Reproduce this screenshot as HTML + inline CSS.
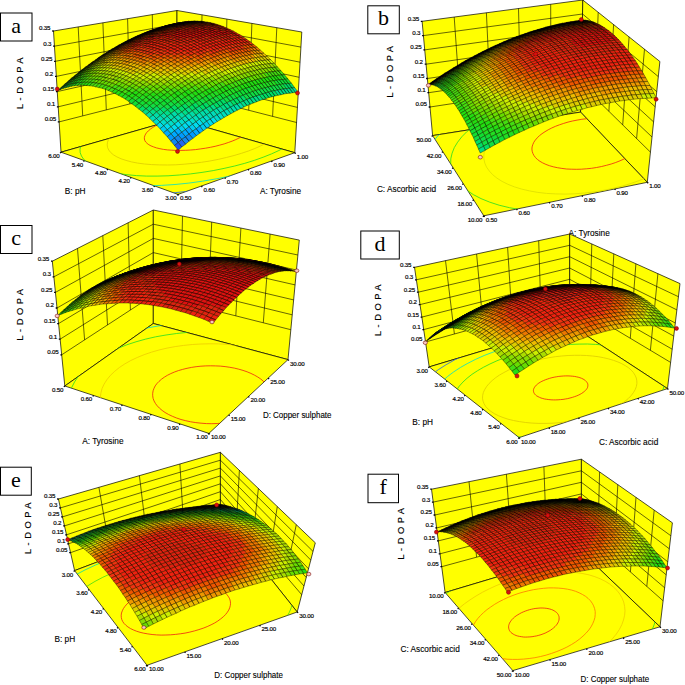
<!DOCTYPE html>
<html><head><meta charset="utf-8"><title>L-DOPA response surface plots</title>
<style>
html,body{margin:0;padding:0;background:#fff}
svg{display:block}
text{font-family:"Liberation Sans",sans-serif;fill:#000}
.k{font-size:6.2px;letter-spacing:-.2px;stroke:#000;stroke-width:.18px}
.e{text-anchor:end}
.t{font-size:8.9px;stroke:#000;stroke-width:.12px}
.z{font-size:9.4px;letter-spacing:3.5px;text-anchor:middle;stroke:#000;stroke-width:.15px}
.L{font-family:"Liberation Serif",serif;font-size:22px;text-anchor:middle}
</style></head><body>
<svg width="685" height="685" viewBox="0 0 685 685">
<rect width="685" height="685" fill="#fff"/>
<!-- panel a -->
<g stroke="#000" stroke-width=".7" fill="#ff0" stroke-linejoin="round">
<polygon points="61,152.2 177,119 177,10.5 53.5,31"/>
<polygon points="177,119 294.8,152.7 301.8,32 177,10.5"/>
<polygon points="61,152.2 178,194.4 294.8,152.7 177,119"/>
</g>
<path d="M59.1 121.9L177 91.9M58.2 106.8L177 78.3M57.2 91.6L177 64.8M56.3 76.4L177 51.2M55.4 61.3L177 37.6M54.4 46.2L177 24.1M82.7 115.9L78.2 26.9M106.3 109.9L102.9 22.8M129.8 103.9L127.6 18.7M153.4 97.9L152.3 14.6M177 91.9L296.6 122.5M177 78.3L297.4 107.4M177 64.8L298.3 92.3M177 51.2L299.2 77.3M177 37.6L300.1 62.2M177 24.1L300.9 47.1M200.9 98L202 14.8M224.8 104.1L226.9 19.1M248.7 110.3L251.9 23.4M272.6 116.4L276.8 27.7" stroke="#000" stroke-width=".6" fill="none"/>
<path d="M59.4 121.9h-1.6M58.5 106.8h-1.6M57.5 91.6h-1.6M56.6 76.4h-1.6M55.7 61.3h-1.6M54.7 46.2h-1.6M53.8 31h-1.6M61 152.2l-.9 .9M84.4 160.6l-.9 .9M107.8 169.1l-.9 .9M131.2 177.5l-.9 .9M154.6 186l-.9 .9M178 194.4l-.9 .9M178 194.4l.9 .9M201.4 186.1l.9 .9M224.7 177.7l.9 .9M248.1 169.4l.9 .9M271.4 161l.9 .9M294.8 152.7l.9 .9" stroke="#000" stroke-width="1.3" fill="none"/>
<clipPath id="cfa"><polygon points="61,152.2 178,194.4 294.8,152.7 177,119"/></clipPath>
<g clip-path="url(#cfa)" fill="none" stroke-width=".8">
<path d="M58.3 195.9L47.5 192.6L38.4 188.8L30.9 184.6L25.1 180L20.9 175.1L18.5 170L17.7 164.6L18.4 159.2L20.5 153.7L24 148.2L28.8 142.7L34.7 137.3L41.6 132L49.5 126.9L58.2 122L67.6 117.3L77.7 112.9L89.7 109.1L102.7 105.8L115.4 102.5L127.8 99.3L139.8 96.2L151.2 93.3L162.1 90.4L172.3 87.8L176.5 87.2L179.8 88L183.7 89L188.2 90.2L193.3 91.5L199 93L205.2 94.6L211.9 96.3L219.2 98.1L226.8 100.1L234.9 102.2L243.3 104.3L252 106.6L261 108.9L270.2 111.2L279.5 113.6L288.8 116L298.1 118.3L307.3 120.7L316.4 123L325.1 125.2L333.6 127.4L341.6 129.4L349 131.3L353.1 134.1L349.3 139.4L344.1 144.7L337.5 150.1L329.6 155.6L320.2 161L309.5 166.4L297.5 171.6L284.2 176.7L269.8 181.5L254.3 185.9L238 190L220.9 193.6L203.3 196.7L185.4 199.2L167.4 201.1L149.5 202.4L132 203L115.2 202.9L99.2 202.1L84.3 200.7L70.6 198.6L58.3 195.9" stroke="#24d"/>
<path d="M74.3 188.5L64.6 185.6L56.2 182.3L49.4 178.6L44 174.6L40 170.3L37.6 165.8L36.5 161L36.9 156.2L38.5 151.3L41.4 146.4L45.4 141.4L50.5 136.6L56.5 131.8L63.4 127.2L71.1 122.8L79.5 118.5L88.4 114.4L97.9 110.6L107.9 107L118.2 103.6L128.8 100.5L139.7 97.7L150.7 95.1L161.9 92.9L173.1 90.9L184.3 89.2L187.3 90L190.9 90.9L195 91.9L199.7 93.1L204.9 94.5L210.6 95.9L216.8 97.5L223.4 99.2L230.4 101L237.7 102.9L245.4 104.9L253.3 106.9L261.5 109L269.8 111.1L278.2 113.2L286.6 115.4L295 117.6L303.3 119.7L311.4 121.7L319.3 123.8L326.9 125.7L334 127.5L340.7 129.2L338.5 133.7L334.8 138.5L329.9 143.3L323.7 148.1L316.4 153L307.8 157.9L298 162.6L287.1 167.3L275.1 171.7L262.2 175.9L248.3 179.8L233.7 183.4L218.5 186.5L202.9 189.2L187 191.4L171.1 193.1L155.3 194.1L139.8 194.7L124.9 194.6L110.8 193.9L97.5 192.6L85.3 190.8L74.3 188.5" stroke="#26e"/>
<path d="M91.3 180.6L82.8 178.2L75.4 175.4L69.3 172.2L64.4 168.8L60.7 165.1L58.3 161.2L57.1 157.1L57.1 152.9L58.3 148.7L60.5 144.4L63.8 140.1L68 135.8L73.1 131.6L79 127.6L85.6 123.6L92.8 119.8L100.6 116.2L109 112.7L117.7 109.5L126.8 106.4L136.3 103.7L145.9 101.1L155.8 98.8L165.7 96.7L175.8 94.9L185.9 93.4L195.8 92.1L199 93L202.8 93.9L207 95L211.6 96.2L216.7 97.5L222.2 98.9L228.1 100.4L234.4 102L240.9 103.7L247.7 105.5L254.8 107.3L262 109.1L269.3 111L276.7 112.9L284.2 114.8L291.6 116.7L298.9 118.5L306 120.4L312.9 122.1L319.5 123.8L325.7 125.4L324.6 129.2L322.2 133.3L318.7 137.5L314.2 141.7L308.6 146L301.9 150.2L294.2 154.4L285.5 158.5L275.8 162.5L265.3 166.3L253.9 169.9L241.8 173.3L229.1 176.3L216 178.9L202.5 181.2L188.8 183.1L175 184.5L161.4 185.4L148.1 185.8L135.3 185.7L123 185.1L111.5 184.1L100.9 182.5L91.3 180.6" stroke="#0dc"/>
<path d="M110 171.9L102.8 169.9L96.6 167.7L91.3 165.1L87 162.3L83.7 159.3L81.5 156.1L80.2 152.7L80 149.3L80.7 145.7L82.3 142.1L84.8 138.5L88.1 134.9L92.2 131.4L96.9 127.9L102.4 124.6L108.4 121.3L114.9 118.2L121.9 115.2L129.3 112.4L137 109.8L145 107.4L153.3 105.1L161.8 103.1L170.4 101.3L179 99.7L187.8 98.4L196.5 97.3L205.2 96.4L211.8 96.3L215.4 97.2L219.5 98.2L223.9 99.3L228.6 100.6L233.6 101.8L239 103.2L244.6 104.7L250.4 106.1L256.4 107.7L262.6 109.3L268.8 110.8L275.1 112.5L281.4 114.1L287.6 115.7L293.8 117.2L299.7 118.8L305.5 120.2L307.8 122.7L307.2 126L305.8 129.4L303.5 132.8L300.3 136.3L296.3 139.9L291.3 143.5L285.5 147L278.9 150.5L271.5 153.9L263.2 157.2L254.3 160.4L244.8 163.3L234.7 166L224.1 168.4L213.2 170.6L202 172.4L190.6 173.9L179.3 175L168.1 175.8L157.1 176.1L146.5 176.1L136.4 175.6L126.9 174.7L118 173.5L110 171.9" stroke="#2d2"/>
<path d="M131.5 161.9L126 160.4L121.1 158.8L116.9 156.9L113.4 154.8L110.7 152.5L108.8 150.1L107.6 147.6L107.2 144.9L107.5 142.2L108.5 139.5L110.2 136.7L112.5 133.9L115.5 131.1L119 128.4L123.1 125.8L127.6 123.2L132.6 120.7L138 118.3L143.7 116.1L149.8 114L156.1 112L162.6 110.2L169.3 108.6L176.2 107.1L183.1 105.8L190.1 104.7L197.1 103.8L204.1 103.1L211 102.5L217.8 102.2L224.5 102L231 102.1L236.5 102.6L240.5 103.6L244.7 104.7L249.1 105.8L253.7 107L258.5 108.2L263.3 109.4L268.2 110.7L273.1 111.9L278 113.2L281.2 114.9L283 117.1L284.2 119.4L284.8 121.8L284.8 124.3L284.1 126.9L282.7 129.5L280.7 132.2L278 135L274.7 137.8L270.7 140.5L266 143.2L260.7 145.9L254.8 148.5L248.4 151L241.5 153.3L234.1 155.5L226.3 157.5L218.2 159.4L209.9 161L201.4 162.3L192.8 163.4L184.2 164.2L175.7 164.8L167.4 165L159.4 164.9L151.7 164.6L144.5 164L137.7 163.1L131.5 161.9" stroke="#dc0"/>
<path d="M159.9 148.7L156.5 147.9L153.6 146.9L151 145.9L148.8 144.7L147.1 143.4L145.7 142L144.8 140.5L144.4 139L144.4 137.4L144.8 135.8L145.6 134.1L146.8 132.4L148.4 130.8L150.4 129.1L152.7 127.5L155.3 125.9L158.2 124.4L161.4 122.9L164.9 121.5L168.5 120.2L172.4 118.9L176.4 117.8L180.6 116.7L184.8 115.8L189.2 114.9L193.6 114.2L198 113.6L202.4 113.1L206.7 112.8L211 112.6L215.3 112.5L219.4 112.5L223.3 112.7L227.1 112.9L230.7 113.4L234.1 113.9L237.3 114.5L240.2 115.3L242.8 116.2L245.1 117.2L247.1 118.3L248.8 119.5L250.1 120.7L251.1 122.1L251.6 123.5L251.8 125L251.6 126.6L251 128.2L250 129.8L248.6 131.4L246.8 133.1L244.6 134.8L242.1 136.4L239.1 138L235.8 139.6L232.2 141.1L228.3 142.5L224.2 143.9L219.8 145.1L215.2 146.3L210.4 147.3L205.5 148.2L200.6 148.9L195.6 149.6L190.6 150L185.7 150.3L180.9 150.4L176.2 150.4L171.7 150.2L167.5 149.9L163.5 149.4L159.9 148.7" stroke="#e21"/>
</g>
<g transform="scale(0.25)" stroke="#000" stroke-width="1.5" stroke-linejoin="round">
<path fill="#d21" d="M696 96l12-3 12-2-12 3zm-12 3l12-3 12-3-12 3zm-12 2l12-3 12-2-12 3zm-12 3l12-3 12-3-12 3z"/>
<path fill="#e21" d="M648 108l12-4 12-3-12 3zm-12 3l12-3 12-4-12 4zm-12 4l12-3 12-4-12 3zm-12 4l12-3 12-4-12 3zm-13 4l12-3 13-4-12 3zm-12 5l12-4 12-4-12 3zm-13 5l12-4 13-5-12 4zm-12 5l12-4 12-5-12 4zm-13 5l12-3 13-6-12 4z"/>
<path fill="#e31" d="M537 149l11-4 13-5-12 3z"/>
<path fill="#000" d="M524 155l12-4 12-6-11 4zm-13 6l12-3 13-7-12 4zm-13 7l12-4 13-6-12 3zm-13 7l12-4 13-7-12 4zm-13 7l12-4 13-7-12 4zm-13 8l12-5 13-7-12 4zm-13 7l12-4 13-8-12 5zm-13 8l11-4 14-8-12 4zm-13 9l11-5 13-8-11 4zm-14 8l12-4 13-9-11 5zm-13 9l12-4 13-9-12 4zm-13 10l11-5 14-9-12 4z"/>
<path fill="#110" d="M366 250l12-4 13-10-11 5zm-13 10l11-4 14-10-12 4zm-14 10l11-4 14-10-11 4z"/>
<path fill="#020" d="M325 281l12-5 13-10-11 4zm-13 11l11-5 14-11-12 5zm-14 11l11-5 14-11-11 5z"/>
<path fill="#030" d="M284 314l12-4 13-12-11 5z"/>
<path fill="#031" d="M271 326l11-5 14-11-12 4z"/>
<path fill="#041" d="M257 338l11-5 14-12-11 5z"/>
<path fill="#042" d="M243 351l11-5 14-13-11 5z"/>
<path fill="#053" d="M229 363l11-4 14-13-11 5z"/>
<path fill="#d21" d="M708 93l12-2 12-2-12 2zm-12 3l12-3 12-2-12 2zm-12 2l12-2 12-3-12 3zm-12 3l12-2 12-3-12 2zm-12 3l12-2 12-3-12 2zm-12 4l12-3 12-3-12 2zm-12 4l12-3 12-4-12 3zm-12 4l12-3 12-4-12 3z"/>
<path fill="#e21" d="M611 120l12-3 13-4-12 3zm-12 4l12-3 12-4-12 3zm-13 5l12-3 13-5-12 3z"/>
<path fill="#000" d="M574 134l12-3 12-5-12 3zm-13 6l12-4 13-5-12 3zm-13 5l12-3 13-6-12 4zm-12 6l11-3 13-6-12 3zm-13 7l12-4 12-6-11 3zm-13 6l12-3 13-7-12 4zm-13 7l12-4 13-6-12 3zm-13 7l12-3 13-8-12 4zm-13 7l12-3 13-7-12 3zm-13 8l11-3 14-8-12 3zm-14 8l12-3 13-8-11 3z"/>
<path fill="#110" d="M431 209l12-3 13-8-12 3zm-13 9l12-4 13-8-12 3zm-13 9l11-4 14-9-12 4z"/>
<path fill="#220" d="M391 236l12-3 13-10-11 4zm-13 10l11-4 14-9-12 3z"/>
<path fill="#230" d="M364 256l12-4 13-10-11 4zm-14 10l12-4 14-10-12 4z"/>
<path fill="#240" d="M337 276l11-4 14-10-12 4z"/>
<path fill="#140" d="M323 287l11-4 14-11-11 4z"/>
<path fill="#150" d="M309 298l12-4 13-11-11 4z"/>
<path fill="#151" d="M296 310l11-4 14-12-12 4zm-14 11l11-4 14-11-11 4z"/>
<path fill="#161" d="M268 333l11-4 14-12-11 4z"/>
<path fill="#062" d="M254 346l11-4 14-13-11 4z"/>
<path fill="#073" d="M240 359l11-5 14-12-11 4z"/>
<path fill="#d11" d="M720 91l12-2 12-2-12 2zm-12 2l12-2 12-2-12 2zm-12 3l12-2 12-3-12 2zm-12 3l12-3 12-2-12 2zm-12 3l12-3 12-3-12 3zm-12 3l12-2 12-4-12 3z"/>
<path fill="#d21" d="M648 109l12-3 12-3-12 2zm-12 4l12-3 12-4-12 3z"/>
<path fill="#000" d="M623 117l12-3 13-4-12 3zm-12 4l12-2 12-5-12 3zm-13 5l12-2 13-5-12 2zm-12 5l12-2 12-5-12 2zm-13 5l12-2 13-5-12 2zm-13 6l12-3 13-5-12 2zm-13 6l12-3 13-6-12 3zm-12 6l12-3 12-6-12 3zm-13 7l12-3 13-7-12 3zm-13 6l12-2 13-7-12 3z"/>
<path fill="#100" d="M496 175l12-3 13-7-12 2zm-13 7l11-3 14-7-12 3z"/>
<path fill="#210" d="M469 190l12-3 13-8-11 3zm-13 8l12-4 13-7-12 3z"/>
<path fill="#320" d="M443 206l12-3 13-9-12 4z"/>
<path fill="#330" d="M430 214l11-3 14-8-12 3z"/>
<path fill="#430" d="M416 223l12-3 13-9-11 3z"/>
<path fill="#440" d="M403 233l11-4 14-9-12 3z"/>
<path fill="#450" d="M389 242l12-3 13-10-11 4zm-13 10l11-3 14-10-12 3z"/>
<path fill="#460" d="M362 262l11-3 14-10-11 3z"/>
<path fill="#360" d="M348 272l12-3 13-10-11 3zm-14 11l12-3 14-11-12 3z"/>
<path fill="#260" d="M321 294l11-3 14-11-12 3z"/>
<path fill="#171" d="M307 306l11-4 14-11-11 3zm-14 11l11-3 14-12-11 4zm-14 12l11-3 14-12-11 3z"/>
<path fill="#083" d="M265 342l11-4 14-12-11 3z"/>
<path fill="#084" d="M251 354l11-3 14-13-11 4z"/>
<path fill="#d11" d="M732 89l12-2 12-2-12 2zm-12 2l13-1 11-3-12 2zm-12 3l13-2 12-2-13 1zm-12 2l13-1 12-3-13 2zm-12 3l12-1 13-3-13 1z"/>
<path fill="#000" d="M672 103l12-2 12-3-12 1zm-12 3l12-1 12-4-12 2zm-12 4l12-2 12-3-12 1zm-13 4l12-1 13-5-12 2zm-12 5l12-2 12-4-12 1zm-13 5l12-2 13-5-12 2zm-12 5l12-3 12-4-12 2zm-13 5l12-2 13-6-12 3zm-13 5l12-2 13-5-12 2z"/>
<path fill="#100" d="M559 145l12-2 13-6-12 2zm-12 6l12-2 12-6-12 2zm-13 7l12-3 13-6-12 2z"/>
<path fill="#200" d="M521 165l12-3 13-7-12 3zm-13 7l11-3 14-7-12 3z"/>
<path fill="#310" d="M494 179l12-3 13-7-11 3z"/>
<path fill="#410" d="M481 187l12-3 13-8-12 3z"/>
<path fill="#520" d="M468 194l12-2 13-8-12 3zm-13 9l12-3 13-8-12 2z"/>
<path fill="#640" d="M441 211l12-2 14-9-12 3z"/>
<path fill="#650" d="M428 220l12-3 13-8-12 2z"/>
<path fill="#750" d="M414 229l12-2 14-10-12 3z"/>
<path fill="#760" d="M401 239l12-3 13-9-12 2z"/>
<path fill="#670" d="M387 249l12-3 14-10-12 3z"/>
<path fill="#570" d="M373 259l12-3 14-10-12 3z"/>
<path fill="#680" d="M360 269l11-3 14-10-12 3z"/>
<path fill="#580" d="M346 280l12-3 13-11-11 3z"/>
<path fill="#480" d="M332 291l12-3 14-11-12 3z"/>
<path fill="#281" d="M318 302l12-3 14-11-12 3zm-14 12l12-3 14-12-12 3z"/>
<path fill="#191" d="M290 326l12-3 14-12-12 3z"/>
<path fill="#192" d="M276 338l12-3 14-12-12 3z"/>
<path fill="#093" d="M262 351l12-3 14-13-12 3z"/>
<path fill="#d11" d="M744 87l13 0 12-2-13 0zm-11 3l12-1 12-2-13 0zm-12 2l12-1 12-2-12 1z"/>
<path fill="#000" d="M709 95l12-1 12-3-12 1zm-13 3l13-1 12-3-12 1zm-12 3l13-1 12-3-13 1zm-12 4l12-2 13-3-13 1zm-12 3l12-1 12-4-12 2zm-13 5l13-2 12-4-12 1zm-12 4l12-2 13-4-13 2zm-13 5l13-2 12-5-12 2z"/>
<path fill="#100" d="M610 126l12-1 13-5-13 2zm-13 6l12-2 13-5-12 1z"/>
<path fill="#200" d="M584 137l12-1 13-6-12 2zm-13 6l13-2 12-5-12 1z"/>
<path fill="#300" d="M559 149l12-2 13-6-13 2zm-13 6l12-1 13-7-12 2z"/>
<path fill="#410" d="M533 162l12-2 13-6-12 1z"/>
<path fill="#510" d="M519 169l13-2 13-7-12 2zm-13 7l12-1 14-8-13 2z"/>
<path fill="#620" d="M493 184l12-2 13-7-12 1z"/>
<path fill="#720" d="M480 192l12-2 13-8-12 2z"/>
<path fill="#730" d="M467 200l12-2 13-8-12 2z"/>
<path fill="#840" d="M453 209l12-2 14-9-12 2z"/>
<path fill="#850" d="M440 217l12-2 13-8-12 2z"/>
<path fill="#870" d="M426 227l12-3 14-9-12 2z"/>
<path fill="#880" d="M413 236l11-2 14-10-12 3zm-14 10l12-2 13-10-11 2z"/>
<path fill="#890" d="M385 256l12-2 14-10-12 2z"/>
<path fill="#790" d="M371 266l12-2 14-10-12 2z"/>
<path fill="#590" d="M358 277l11-2 14-11-12 2z"/>
<path fill="#490" d="M344 288l12-2 13-11-11 2z"/>
<path fill="#4a0" d="M330 299l12-2 14-11-12 2z"/>
<path fill="#3a1" d="M316 311l12-2 14-12-12 2z"/>
<path fill="#2a1" d="M302 323l12-3 14-11-12 2z"/>
<path fill="#1a1" d="M288 335l11-2 15-13-12 3z"/>
<path fill="#1a2" d="M274 348l11-3 14-12-11 2z"/>
<path fill="#000" d="M757 87l12-1 12-2-12 1zm-12 2l12-1 12-2-12 1zm-12 2l12 0 12-3-12 1zm-12 3l12-1 12-2-12 0zm-12 3l12-1 12-3-12 1zm-12 3l12-1 12-3-12 1zm-13 3l13 0 12-4-12 1zm-12 4l12-1 13-3-13 0z"/>
<path fill="#100" d="M660 111l12-1 12-4-12 1zm-13 4l12 0 13-5-12 1z"/>
<path fill="#200" d="M635 120l12-1 12-4-12 0zm-13 5l12-1 13-5-12 1z"/>
<path fill="#300" d="M609 130l12-1 13-5-12 1z"/>
<path fill="#400" d="M596 136l13-1 12-6-12 1zm-12 5l12-1 13-5-13 1z"/>
<path fill="#510" d="M571 147l12-1 13-6-12 1z"/>
<path fill="#610" d="M558 154l12-1 13-7-12 1zm-13 6l12-1 13-6-12 1z"/>
<path fill="#710" d="M532 167l12-1 13-7-12 1zm-14 8l13-2 13-7-12 1z"/>
<path fill="#820" d="M505 182l12-1 14-8-13 2z"/>
<path fill="#830" d="M492 190l12-1 13-8-12 1z"/>
<path fill="#930" d="M479 198l12-1 13-8-12 1z"/>
<path fill="#940" d="M465 207l12-2 14-8-12 1z"/>
<path fill="#a60" d="M452 215l12-1 13-9-12 2zm-14 9l12-1 14-9-12 1z"/>
<path fill="#a80" d="M424 234l12-2 14-9-12 1z"/>
<path fill="#a90" d="M411 244l12-2 13-10-12 2zm-14 10l12-2 14-10-12 2z"/>
<path fill="#9a0" d="M383 264l12-2 14-10-12 2z"/>
<path fill="#8b0" d="M369 275l12-2 14-11-12 2z"/>
<path fill="#6b0" d="M356 286l11-2 14-11-12 2z"/>
<path fill="#5b0" d="M342 297l11-2 14-11-11 2z"/>
<path fill="#3b1" d="M328 309l11-2 14-12-11 2z"/>
<path fill="#2b1" d="M314 320l11-1 14-12-11 2z"/>
<path fill="#1b2" d="M299 333l12-2 14-12-11 1zm-14 12l12-2 14-12-12 2z"/>
<path fill="#000" d="M769 86l13 0 11-1-12-1zm-12 2l13 0 12-2-13 0zm-12 3l13 0 12-3-13 0zm-12 2l13 0 12-2-13 0zm-12 3l13 0 12-3-13 0z"/>
<path fill="#100" d="M709 99l12 0 13-3-13 0zm-12 4l12 0 12-4-12 0z"/>
<path fill="#200" d="M684 106l13 0 12-3-12 0zm-12 4l12 0 13-4-13 0z"/>
<path fill="#300" d="M659 115l13-1 12-4-12 0z"/>
<path fill="#400" d="M647 119l12 0 13-5-13 1zm-13 5l13 0 12-5-12 0z"/>
<path fill="#510" d="M621 129l13 0 13-5-13 0z"/>
<path fill="#610" d="M609 135l12-1 13-5-13 0zm-13 5l12 0 13-6-12 1z"/>
<path fill="#710" d="M583 146l12 0 13-6-12 0z"/>
<path fill="#810" d="M570 153l12-1 13-6-12 0zm-13 6l12-1 13-6-12 1z"/>
<path fill="#811" d="M544 166l12-1 13-7-12 1z"/>
<path fill="#911" d="M531 173l12-1 13-7-12 1z"/>
<path fill="#920" d="M517 181l13-1 13-8-12 1z"/>
<path fill="#a20" d="M504 189l12-1 14-8-13 1z"/>
<path fill="#a30" d="M491 197l12-1 13-8-12 1z"/>
<path fill="#b30" d="M477 205l12-1 14-8-12 1z"/>
<path fill="#b50" d="M464 214l12-1 13-9-12 1z"/>
<path fill="#b70" d="M450 223l12-1 14-9-12 1z"/>
<path fill="#b90" d="M436 232l13-1 13-9-12 1z"/>
<path fill="#c90" d="M423 242l12-1 14-10-13 1z"/>
<path fill="#ba0" d="M409 252l12-1 14-10-12 1z"/>
<path fill="#ab0" d="M395 262l12-1 14-10-12 1z"/>
<path fill="#8c0" d="M381 273l12-1 14-11-12 1z"/>
<path fill="#9c0" d="M367 284l12-1 14-11-12 1z"/>
<path fill="#7c0" d="M353 295l12-1 14-11-12 1z"/>
<path fill="#5c0" d="M339 307l12-2 14-11-12 1z"/>
<path fill="#3c1" d="M325 319l12-2 14-12-12 2z"/>
<path fill="#2c1" d="M311 331l12-1 14-13-12 2z"/>
<path fill="#2c2" d="M297 343l12-1 14-12-12 1z"/>
<path fill="#000" d="M782 86l12 1 12-2-13 0zm-12 2l12 1 12-2-12-1zm-12 3l12 0 12-2-12-1z"/>
<path fill="#100" d="M746 93l12 1 12-3-12 0z"/>
<path fill="#200" d="M734 96l12 1 12-3-12-1zm-13 3l13 1 12-3-12-1z"/>
<path fill="#300" d="M709 103l13 0 12-3-13-1z"/>
<path fill="#400" d="M697 106l12 1 13-4-13 0zm-13 4l13 0 12-3-12-1z"/>
<path fill="#510" d="M672 114l12 1 13-5-13 0z"/>
<path fill="#610" d="M659 119l13 0 12-4-12-1zm-12 5l12 0 13-5-13 0z"/>
<path fill="#710" d="M634 129l12 0 13-5-12 0z"/>
<path fill="#810" d="M621 134l13 0 12-5-12 0zm-13 6l13 0 13-6-13 0z"/>
<path fill="#910" d="M595 146l13 0 13-6-13 0zm-13 6l13 0 13-6-13 0z"/>
<path fill="#911" d="M569 158l13 0 13-6-13 0z"/>
<path fill="#a11" d="M556 165l12 0 14-7-13 0zm-13 7l12 0 13-7-12 0z"/>
<path fill="#b11" d="M530 180l12 0 13-8-12 0z"/>
<path fill="#b20" d="M516 188l13-1 13-7-12 0z"/>
<path fill="#b40" d="M503 196l12-1 14-8-13 1z"/>
<path fill="#c40" d="M489 204l13 0 13-9-12 1z"/>
<path fill="#c60" d="M476 213l12-1 14-8-13 0zm-14 9l12-1 14-9-12 1z"/>
<path fill="#d80" d="M449 231l12 0 13-10-12 1z"/>
<path fill="#da0" d="M435 241l12-1 14-9-12 0z"/>
<path fill="#cb0" d="M421 251l12-1 14-10-12 1zm-14 10l12 0 14-11-12 1z"/>
<path fill="#bd0" d="M393 272l12-1 14-10-12 0z"/>
<path fill="#9d0" d="M379 283l12-1 14-11-12 1z"/>
<path fill="#7d0" d="M365 294l12-1 14-11-12 1z"/>
<path fill="#5c0" d="M351 305l12 0 14-12-12 1z"/>
<path fill="#4c1" d="M337 317l12 0 14-12-12 0z"/>
<path fill="#2c1" d="M323 330l12-1 14-12-12 0z"/>
<path fill="#2c2" d="M309 342l12-1 14-12-12 1z"/>
<path fill="#000" d="M794 87l13 1 11-1-12-2z"/>
<path fill="#100" d="M782 89l13 1 12-2-13-1z"/>
<path fill="#200" d="M770 91l13 2 12-3-13-1zm-12 3l13 1 12-2-13-2z"/>
<path fill="#300" d="M746 97l13 1 12-3-13-1z"/>
<path fill="#400" d="M734 100l12 1 13-3-13-1z"/>
<path fill="#500" d="M722 103l12 1 12-3-12-1z"/>
<path fill="#610" d="M709 107l13 1 12-4-12-1zm-12 3l12 1 13-3-13-1z"/>
<path fill="#710" d="M684 115l13 0 12-4-12-1z"/>
<path fill="#810" d="M672 119l12 1 13-5-13 0zm-13 5l13 1 12-5-12-1z"/>
<path fill="#910" d="M646 129l13 1 13-5-13-1zm-12 5l12 1 13-5-13-1z"/>
<path fill="#a11" d="M621 140l12 0 13-5-12-1zm-13 6l12 0 13-6-12 0zm-13 6l12 0 13-6-12 0z"/>
<path fill="#b11" d="M582 158l12 1 13-7-12 0zm-14 7l13 1 13-7-12-1z"/>
<path fill="#b21" d="M555 172l13 1 13-7-13-1z"/>
<path fill="#c21" d="M542 180l12 0 14-7-13-1zm-13 7l12 1 13-8-12 0zm-14 8l13 1 13-8-12-1z"/>
<path fill="#d40" d="M502 204l12 0 14-8-13-1zm-14 8l12 1 14-9-12 0z"/>
<path fill="#d60" d="M474 221l13 1 13-9-12-1z"/>
<path fill="#e80" d="M461 231l12 0 14-9-13-1z"/>
<path fill="#eb0" d="M447 240l12 0 14-9-12 0zm-14 10l13 0 13-10-12 0z"/>
<path fill="#dc0" d="M419 261l13 0 14-11-13 0z"/>
<path fill="#cd0" d="M405 271l13 0 14-10-13 0z"/>
<path fill="#ad0" d="M391 282l13 0 14-11-13 0z"/>
<path fill="#8d0" d="M377 293l13 0 14-11-13 0zm-14 12l12 0 15-12-13 0z"/>
<path fill="#6d0" d="M349 317l12 0 14-12-12 0z"/>
<path fill="#4d1" d="M335 329l12 0 14-12-12 0z"/>
<path fill="#2d1" d="M321 341l12 0 14-12-12 0z"/>
<path fill="#200" d="M807 88l12 2 12-1-13-2zm-12 2l12 2 12-2-12-2z"/>
<path fill="#300" d="M783 93l12 1 12-2-12-2z"/>
<path fill="#400" d="M771 95l12 2 12-3-12-1z"/>
<path fill="#500" d="M759 98l12 1 12-2-12-2z"/>
<path fill="#610" d="M746 101l13 1 12-3-12-1z"/>
<path fill="#710" d="M734 104l13 2 12-4-13-1z"/>
<path fill="#810" d="M722 108l12 1 13-3-13-2zm-13 3l13 2 12-4-12-1z"/>
<path fill="#910" d="M697 115l12 2 13-4-13-2zm-13 5l13 1 12-4-12-2z"/>
<path fill="#a10" d="M672 125l12 1 13-5-13-1z"/>
<path fill="#a11" d="M659 130l13 1 12-5-12-1zm-13 5l13 1 13-5-13-1z"/>
<path fill="#b11" d="M633 140l13 2 13-6-13-1zm-13 6l13 1 13-5-13-2z"/>
<path fill="#c11" d="M607 152l13 2 13-7-13-1zm-13 7l13 1 13-6-13-2zm-13 7l13 1 13-7-13-1z"/>
<path fill="#c21" d="M568 173l12 1 14-7-13-1z"/>
<path fill="#d21" d="M554 180l13 1 13-7-12-1zm-13 8l13 1 13-8-13-1z"/>
<path fill="#d31" d="M528 196l12 1 14-8-13-1z"/>
<path fill="#e40" d="M514 204l13 1 13-8-12-1zm-14 9l13 1 14-9-13-1z"/>
<path fill="#e70" d="M487 222l12 0 14-8-13-1z"/>
<path fill="#e90" d="M473 231l13 1 13-10-12 0zm-14 9l13 1 14-9-13-1z"/>
<path fill="#eb0" d="M446 250l12 1 14-10-13-1z"/>
<path fill="#dc0" d="M432 261l12 0 14-10-12-1z"/>
<path fill="#ce0" d="M418 271l12 1 14-11-12 0zm-14 11l12 1 14-11-12-1z"/>
<path fill="#ad0" d="M390 293l12 1 14-11-12-1z"/>
<path fill="#8d0" d="M375 305l13 0 14-11-12-1z"/>
<path fill="#6d0" d="M361 317l13 0 14-12-13 0z"/>
<path fill="#4d1" d="M347 329l12 0 15-12-13 0z"/>
<path fill="#2d1" d="M333 341l12 1 14-13-12 0z"/>
<path fill="#300" d="M819 90l13 3 12-2-13-2z"/>
<path fill="#400" d="M807 92l13 3 12-2-13-3z"/>
<path fill="#500" d="M795 94l13 3 12-2-13-3z"/>
<path fill="#610" d="M783 97l13 2 12-2-13-3z"/>
<path fill="#710" d="M771 99l13 3 12-3-13-2z"/>
<path fill="#810" d="M759 102l13 3 12-3-13-3zm-12 4l13 2 12-3-13-3z"/>
<path fill="#910" d="M734 109l13 2 13-3-13-2z"/>
<path fill="#a10" d="M722 113l13 2 12-4-13-2z"/>
<path fill="#a11" d="M709 117l13 2 13-4-13-2zm-12 4l13 2 12-4-13-2z"/>
<path fill="#b11" d="M684 126l13 2 13-5-13-2zm-12 5l12 2 13-5-13-2z"/>
<path fill="#c11" d="M659 136l12 2 13-5-12-2zm-13 6l13 1 12-5-12-2zm-13 5l13 2 13-6-13-1zm-13 7l12 1 14-6-13-2z"/>
<path fill="#d11" d="M607 160l12 2 13-7-12-1z"/>
<path fill="#d21" d="M594 167l12 1 13-6-12-2zm-14 7l13 1 13-7-12-1zm-13 7l13 2 13-8-13-1z"/>
<path fill="#e21" d="M554 189l12 1 14-7-13-2z"/>
<path fill="#e31" d="M540 197l13 1 13-8-12-1zm-13 8l12 1 14-8-13-1z"/>
<path fill="#e50" d="M513 214l13 1 13-9-12-1z"/>
<path fill="#e70" d="M499 222l13 2 14-9-13-1zm-13 10l12 1 14-9-13-2z"/>
<path fill="#e90" d="M472 241l12 2 14-10-12-1z"/>
<path fill="#eb0" d="M458 251l12 1 14-9-12-2zm-14 10l12 1 14-10-12-1z"/>
<path fill="#dc0" d="M430 272l12 1 14-11-12-1z"/>
<path fill="#ce0" d="M416 283l12 1 14-11-12-1z"/>
<path fill="#ad0" d="M402 294l12 1 14-11-12-1z"/>
<path fill="#8d0" d="M388 305l12 1 14-11-12-1z"/>
<path fill="#6d0" d="M374 317l12 1 14-12-12-1z"/>
<path fill="#4d1" d="M359 329l13 1 14-12-12-1z"/>
<path fill="#2d1" d="M345 342l12 1 15-13-13-1z"/>
<path fill="#500" d="M832 93l13 3 12-2-13-3z"/>
<path fill="#610" d="M820 95l13 3 12-2-13-3z"/>
<path fill="#710" d="M808 97l13 3 12-2-13-3z"/>
<path fill="#810" d="M796 99l13 3 12-2-13-3zm-12 3l13 3 12-3-13-3z"/>
<path fill="#910" d="M772 105l13 2 12-2-13-3z"/>
<path fill="#a10" d="M760 108l12 3 13-4-13-2z"/>
<path fill="#a11" d="M747 111l13 3 12-3-12-3z"/>
<path fill="#b11" d="M735 115l13 3 12-4-13-3zm-13 4l13 3 13-4-13-3z"/>
<path fill="#c11" d="M710 123l12 3 13-4-13-3zm-13 5l13 2 12-4-12-3zm-13 5l13 2 13-5-13-2z"/>
<path fill="#d11" d="M671 138l13 2 13-5-13-2zm-12 5l12 3 13-6-13-2zm-13 6l12 3 13-6-12-3z"/>
<path fill="#d21" d="M632 155l13 3 13-6-12-3zm-13 7l13 2 13-6-13-3z"/>
<path fill="#e21" d="M606 168l13 3 13-7-13-2zm-13 7l13 3 13-7-13-3zm-13 8l12 2 14-7-13-3zm-14 7l13 2 13-7-12-2z"/>
<path fill="#e31" d="M553 198l12 2 14-8-13-2zm-14 8l13 2 13-8-12-2z"/>
<path fill="#e50" d="M526 215l12 2 14-9-13-2z"/>
<path fill="#e70" d="M512 224l13 2 13-9-12-2zm-14 9l13 2 14-9-13-2z"/>
<path fill="#e90" d="M484 243l13 1 14-9-13-2z"/>
<path fill="#eb0" d="M470 252l13 2 14-10-13-1zm-14 10l13 2 14-10-13-2z"/>
<path fill="#dc0" d="M442 273l13 2 14-11-13-2z"/>
<path fill="#ce0" d="M428 284l13 2 14-11-13-2z"/>
<path fill="#ad0" d="M414 295l13 2 14-11-13-2z"/>
<path fill="#8d0" d="M400 306l13 2 14-11-13-2z"/>
<path fill="#6d0" d="M386 318l12 2 15-12-13-2zm-14 12l12 2 14-12-12-2z"/>
<path fill="#4d1" d="M357 343l13 1 14-12-12-2z"/>
<path fill="#710" d="M845 96l13 4 12-2-13-4zm-12 2l13 3 12-1-13-4z"/>
<path fill="#810" d="M821 100l13 3 12-2-13-3z"/>
<path fill="#910" d="M809 102l13 3 12-2-13-3zm-12 3l13 3 12-3-13-3z"/>
<path fill="#a11" d="M785 107l13 4 12-3-13-3z"/>
<path fill="#b11" d="M772 111l13 3 13-3-13-4zm-12 3l13 3 12-3-13-3z"/>
<path fill="#c11" d="M748 118l13 3 12-4-13-3zm-13 4l13 3 13-4-13-3z"/>
<path fill="#d11" d="M722 126l13 3 13-4-13-3zm-12 4l13 4 12-5-13-3zm-13 5l13 3 13-4-13-4zm-13 5l13 3 13-5-13-3zm-13 6l13 3 13-6-13-3zm-13 6l13 3 13-6-13-3z"/>
<path fill="#d21" d="M645 158l13 2 13-5-13-3zm-13 6l13 3 13-7-13-2z"/>
<path fill="#e21" d="M619 171l13 2 13-6-13-3zm-13 7l13 2 13-7-13-2zm-14 7l13 3 14-8-13-2zm-13 7l13 3 13-7-13-3z"/>
<path fill="#e31" d="M565 200l13 3 14-8-13-3zm-13 8l13 3 13-8-13-3z"/>
<path fill="#e50" d="M538 217l13 3 14-9-13-3zm-13 9l12 2 14-8-13-3z"/>
<path fill="#e70" d="M511 235l13 3 13-10-12-2z"/>
<path fill="#e90" d="M497 244l13 3 14-9-13-3zm-14 10l13 3 14-10-13-3z"/>
<path fill="#eb0" d="M469 264l13 3 14-10-13-3z"/>
<path fill="#dc0" d="M455 275l13 2 14-10-13-3z"/>
<path fill="#ce0" d="M441 286l13 2 14-11-13-2z"/>
<path fill="#ad0" d="M427 297l12 2 15-11-13-2z"/>
<path fill="#8d0" d="M413 308l12 3 14-12-12-2zm-15 12l13 2 14-11-12-3z"/>
<path fill="#6d0" d="M384 332l13 2 14-12-13-2z"/>
<path fill="#4d1" d="M370 344l12 3 15-13-13-2z"/>
<path fill="#810" d="M858 100l13 4 11-2-12-4z"/>
<path fill="#910" d="M846 101l13 4 12-1-13-4zm-12 2l13 4 12-2-13-4z"/>
<path fill="#a11" d="M822 105l13 5 12-3-13-4z"/>
<path fill="#b11" d="M810 108l13 4 12-2-13-5zm-12 3l13 4 12-3-13-4z"/>
<path fill="#c11" d="M785 114l13 4 13-3-13-4zm-12 3l13 4 12-3-13-4zm-12 4l12 4 13-4-13-4z"/>
<path fill="#d11" d="M748 125l13 4 12-4-12-4zm-13 4l13 4 13-4-13-4zm-12 5l13 3 12-4-13-4zm-13 4l13 4 13-5-13-3zm-13 5l13 4 13-5-13-4zm-13 6l13 3 13-5-13-4z"/>
<path fill="#d21" d="M671 155l13 3 13-6-13-3zm-13 5l13 4 13-6-13-3zm-13 7l13 3 13-6-13-4z"/>
<path fill="#e21" d="M632 173l13 4 13-7-13-3zm-13 7l13 4 13-7-13-4zm-14 8l13 3 14-7-13-4zm-13 7l13 3 13-7-13-3z"/>
<path fill="#e31" d="M578 203l13 3 14-8-13-3zm-13 8l13 3 13-8-13-3z"/>
<path fill="#e50" d="M551 220l13 3 14-9-13-3zm-14 8l13 4 14-9-13-3z"/>
<path fill="#e70" d="M524 238l12 3 14-9-13-4z"/>
<path fill="#e90" d="M510 247l13 3 13-9-12-3zm-14 10l13 3 14-10-13-3z"/>
<path fill="#eb0" d="M482 267l13 3 14-10-13-3z"/>
<path fill="#dc0" d="M468 277l13 3 14-10-13-3z"/>
<path fill="#ce0" d="M454 288l12 3 15-11-13-3z"/>
<path fill="#ad0" d="M439 299l13 3 14-11-12-3zm-14 12l13 3 14-12-13-3z"/>
<path fill="#8d0" d="M411 322l13 3 14-11-13-3z"/>
<path fill="#6d0" d="M397 334l12 3 15-12-13-3z"/>
<path fill="#4d1" d="M382 347l13 3 14-13-12-3z"/>
<path fill="#910" d="M871 104l13 5 11-2-13-5z"/>
<path fill="#a10" d="M859 105l13 5 12-1-13-5z"/>
<path fill="#a11" d="M847 107l13 5 12-2-13-5z"/>
<path fill="#b11" d="M835 110l13 4 12-2-13-5zm-12 2l13 5 12-3-13-4z"/>
<path fill="#c11" d="M811 115l13 4 12-2-13-5zm-13 3l13 4 13-3-13-4z"/>
<path fill="#d11" d="M786 121l13 5 12-4-13-4zm-13 4l14 4 12-3-13-5zm-12 4l13 4 13-4-14-4zm-13 4l13 4 13-4-13-4zm-12 4l13 5 12-5-13-4zm-13 5l13 4 13-4-13-5zm-13 5l13 4 13-5-13-4zm-13 5l13 5 13-6-13-4z"/>
<path fill="#d21" d="M684 158l13 4 13-5-13-5zm-13 6l13 4 13-6-13-4zm-13 6l13 4 13-6-13-4z"/>
<path fill="#e21" d="M645 177l13 4 13-7-13-4zm-13 7l13 4 13-7-13-4zm-14 7l13 4 14-7-13-4zm-13 7l13 4 13-7-13-4z"/>
<path fill="#e31" d="M591 206l13 4 14-8-13-4zm-13 8l13 4 13-8-13-4z"/>
<path fill="#e50" d="M564 223l13 4 14-9-13-4zm-14 9l13 3 14-8-13-4z"/>
<path fill="#e70" d="M536 241l13 4 14-10-13-3z"/>
<path fill="#e90" d="M523 250l13 4 13-9-13-4z"/>
<path fill="#eb0" d="M509 260l13 4 14-10-13-4zm-14 10l13 4 14-10-13-4z"/>
<path fill="#dc0" d="M481 280l12 4 15-10-13-4z"/>
<path fill="#ce0" d="M466 291l13 4 14-11-12-4z"/>
<path fill="#ad0" d="M452 302l13 4 14-11-13-4zm-14 12l13 3 14-11-13-4z"/>
<path fill="#8d0" d="M424 325l12 4 15-12-13-3z"/>
<path fill="#6d0" d="M409 337l13 4 14-12-12-4z"/>
<path fill="#4d1" d="M395 350l13 3 14-12-13-4z"/>
<path fill="#a11" d="M884 109l13 5 12-1-14-6z"/>
<path fill="#b11" d="M872 110l13 6 12-2-13-5zm-12 2l13 5 12-1-13-6z"/>
<path fill="#c11" d="M848 114l13 5 12-2-13-5zm-12 3l13 5 12-3-13-5zm-12 2l13 6 12-3-13-5z"/>
<path fill="#d11" d="M811 122l13 5 13-2-13-6zm-12 4l13 5 12-4-13-5zm-12 3l13 5 12-3-13-5zm-13 4l13 5 13-4-13-5zm-13 4l14 5 12-4-13-5zm-12 5l13 5 13-5-14-5zm-13 4l13 5 13-4-13-5zm-13 5l13 5 13-5-13-5z"/>
<path fill="#d21" d="M710 157l13 4 13-5-13-5zm-13 5l13 5 13-6-13-4zm-13 6l13 5 13-6-13-5z"/>
<path fill="#e21" d="M671 174l13 5 13-6-13-5zm-13 7l13 5 13-7-13-5zm-13 7l13 4 13-6-13-5zm-14 7l13 5 14-8-13-4zm-13 7l13 5 13-7-13-5z"/>
<path fill="#e31" d="M604 210l13 5 14-8-13-5zm-13 8l13 5 13-8-13-5z"/>
<path fill="#e50" d="M577 227l13 4 14-8-13-5z"/>
<path fill="#e70" d="M563 235l13 5 14-9-13-4zm-14 10l13 4 14-9-13-5z"/>
<path fill="#e90" d="M536 254l13 4 13-9-13-4z"/>
<path fill="#eb0" d="M522 264l13 4 14-10-13-4zm-14 10l13 4 14-10-13-4z"/>
<path fill="#dc0" d="M493 284l13 4 15-10-13-4z"/>
<path fill="#ce0" d="M479 295l13 4 14-11-13-4z"/>
<path fill="#ad0" d="M465 306l13 4 14-11-13-4z"/>
<path fill="#8d0" d="M451 317l13 4 14-11-13-4zm-15 12l13 4 15-12-13-4z"/>
<path fill="#6d0" d="M422 341l13 4 14-12-13-4z"/>
<path fill="#4d1" d="M408 353l12 4 15-12-13-4z"/>
<path fill="#b11" d="M897 114l13 6 12-1-13-6zm-12 2l13 5 12-1-13-6z"/>
<path fill="#c11" d="M873 117l13 6 12-2-13-5zm-12 2l13 6 12-2-13-6z"/>
<path fill="#d11" d="M849 122l13 6 12-3-13-6zm-12 3l13 5 12-2-13-6zm-13 2l14 6 12-3-13-5zm-12 4l13 5 13-3-14-6zm-12 3l13 6 12-4-13-5zm-13 4l13 6 13-4-13-6zm-12 4l13 6 12-4-13-6zm-13 5l13 5 13-4-13-6zm-13 4l13 6 13-5-13-5z"/>
<path fill="#d21" d="M736 156l14 6 12-5-13-6zm-13 5l14 6 13-5-14-6zm-13 6l14 5 13-5-14-6zm-13 6l14 5 13-6-14-5z"/>
<path fill="#e21" d="M684 179l13 5 14-6-14-5zm-13 7l13 5 13-7-13-5zm-13 6l13 6 13-7-13-5zm-14 8l14 5 13-7-13-6z"/>
<path fill="#e31" d="M631 207l13 5 14-7-14-5zm-14 8l14 5 13-8-13-5z"/>
<path fill="#e50" d="M604 223l13 5 14-8-14-5zm-14 8l13 5 14-8-13-5z"/>
<path fill="#e70" d="M576 240l13 5 14-9-13-5zm-14 9l14 5 13-9-13-5z"/>
<path fill="#e90" d="M549 258l13 5 14-9-14-5z"/>
<path fill="#eb0" d="M535 268l13 5 14-10-13-5zm-14 10l13 5 14-10-13-5z"/>
<path fill="#dc0" d="M506 288l14 5 14-10-13-5z"/>
<path fill="#ce0" d="M492 299l13 5 15-11-14-5z"/>
<path fill="#ad0" d="M478 310l13 5 14-11-13-5z"/>
<path fill="#8d0" d="M464 321l13 5 14-11-13-5zm-15 12l13 5 15-12-13-5z"/>
<path fill="#6d0" d="M435 345l13 5 14-12-13-5z"/>
<path fill="#4d1" d="M420 357l13 5 15-12-13-5z"/>
<path fill="#b11" d="M910 120l13 7 12-2-13-6z"/>
<path fill="#c11" d="M898 121l13 7 12-1-13-7zm-12 2l13 7 12-2-13-7z"/>
<path fill="#d11" d="M874 125l13 7 12-2-13-7zm-12 3l13 6 12-2-13-7zm-12 2l13 7 12-3-13-6zm-12 3l13 7 12-3-13-7zm-13 3l14 7 12-3-13-7zm-12 4l13 6 13-3-14-7zm-13 4l14 6 12-4-13-6zm-12 4l13 6 13-4-14-6zm-13 4l13 6 13-4-13-6z"/>
<path fill="#d21" d="M762 157l14 6 12-5-13-6zm-12 5l13 6 13-5-14-6zm-13 5l13 6 13-5-13-6zm-13 5l13 7 13-6-13-6z"/>
<path fill="#e21" d="M711 178l13 6 13-5-13-7zm-14 6l14 6 13-6-13-6zm-13 7l13 6 14-7-14-6zm-13 7l13 6 13-7-13-6zm-13 7l13 6 13-7-13-6z"/>
<path fill="#e31" d="M644 212l13 6 14-7-13-6zm-13 8l13 6 13-8-13-6z"/>
<path fill="#e50" d="M617 228l13 6 14-8-13-6zm-14 8l13 6 14-8-13-6z"/>
<path fill="#e70" d="M589 245l14 6 13-9-13-6z"/>
<path fill="#e90" d="M576 254l13 6 14-9-14-6zm-14 9l13 6 14-9-13-6z"/>
<path fill="#eb0" d="M548 273l13 6 14-10-13-6z"/>
<path fill="#dc0" d="M534 283l13 6 14-10-13-6zm-14 10l13 6 14-10-13-6z"/>
<path fill="#ce0" d="M505 304l14 6 14-11-13-6z"/>
<path fill="#ad0" d="M491 315l13 6 15-11-14-6z"/>
<path fill="#8d0" d="M477 326l13 6 14-11-13-6z"/>
<path fill="#6d0" d="M462 338l14 6 14-12-13-6z"/>
<path fill="#4d1" d="M448 350l13 6 15-12-14-6zm-15 12l14 6 14-12-13-6z"/>
<path fill="#c11" d="M923 127l13 7 12-1-13-8zm-12 1l14 7 11-1-13-7z"/>
<path fill="#d11" d="M899 130l14 7 12-2-14-7zm-12 2l14 7 12-2-14-7zm-12 2l14 7 12-2-14-7zm-12 3l13 7 13-3-14-7zm-12 3l13 7 12-3-13-7zm-12 3l13 7 12-3-13-7zm-13 3l14 7 12-3-13-7z"/>
<path fill="#d21" d="M814 150l13 7 13-4-14-7zm-13 4l13 7 13-4-13-7zm-13 4l14 7 12-4-13-7zm-12 5l13 7 13-5-14-7zm-13 5l13 7 13-5-13-7z"/>
<path fill="#e21" d="M750 173l13 7 13-5-13-7zm-13 6l13 6 13-5-13-7zm-13 5l13 7 13-6-13-6zm-13 6l13 7 13-6-13-7zm-14 7l14 6 13-6-13-7zm-13 7l14 6 13-7-14-6z"/>
<path fill="#e31" d="M671 211l13 6 14-7-14-6zm-14 7l14 7 13-8-13-6z"/>
<path fill="#e50" d="M644 226l13 6 14-7-14-7zm-14 8l14 6 13-8-13-6z"/>
<path fill="#e70" d="M616 242l14 7 14-9-14-6zm-13 9l13 6 14-8-14-7z"/>
<path fill="#e90" d="M589 260l13 6 14-9-13-6z"/>
<path fill="#eb0" d="M575 269l13 6 14-9-13-6zm-14 10l13 6 14-10-13-6z"/>
<path fill="#dc0" d="M547 289l13 6 14-10-13-6z"/>
<path fill="#ce0" d="M533 299l13 6 14-10-13-6zm-14 11l13 6 14-11-13-6z"/>
<path fill="#ad0" d="M504 321l14 6 14-11-13-6z"/>
<path fill="#8d0" d="M490 332l13 6 15-11-14-6z"/>
<path fill="#6d0" d="M476 344l13 6 14-12-13-6z"/>
<path fill="#4d1" d="M461 356l13 6 15-12-13-6z"/>
<path fill="#2d1" d="M447 368l13 6 14-12-13-6z"/>
<path fill="#d11" d="M936 134l14 8 11-2-13-7zm-11 1l13 8 12-1-14-8z"/>
<path fill="#d21" d="M913 137l13 8 12-2-13-8zm-12 2l13 8 12-2-13-8zm-12 2l13 8 12-2-13-8zm-13 3l14 7 12-2-13-8zm-12 3l14 7 12-3-14-7zm-12 3l13 7 13-3-14-7zm-12 3l13 8 12-4-13-7zm-13 4l13 7 13-3-13-8zm-13 4l14 7 12-4-13-7zm-12 4l13 8 13-5-14-7z"/>
<path fill="#e21" d="M789 170l13 7 13-4-13-8zm-13 5l14 7 12-5-13-7zm-13 5l14 7 13-5-14-7zm-13 5l14 8 13-6-14-7zm-13 6l14 7 13-5-14-8zm-13 6l14 7 13-6-14-7zm-13 6l13 8 14-7-14-7z"/>
<path fill="#e31" d="M698 210l13 7 13-6-13-8zm-14 7l14 7 13-7-13-7z"/>
<path fill="#e50" d="M671 225l13 7 14-8-14-7zm-14 7l14 7 13-7-13-7z"/>
<path fill="#e70" d="M644 240l13 7 14-8-14-7zm-14 9l13 7 14-9-13-7z"/>
<path fill="#e90" d="M616 257l14 7 13-8-13-7zm-14 9l14 7 14-9-14-7z"/>
<path fill="#eb0" d="M588 275l14 7 14-9-14-7z"/>
<path fill="#dc0" d="M574 285l14 7 14-10-14-7zm-14 10l14 7 14-10-14-7z"/>
<path fill="#ce0" d="M546 305l13 7 15-10-14-7z"/>
<path fill="#ad0" d="M532 316l13 7 14-11-13-7z"/>
<path fill="#8d0" d="M518 327l13 7 14-11-13-7zm-15 11l14 7 14-11-13-7z"/>
<path fill="#6d0" d="M489 350l13 7 15-12-14-7z"/>
<path fill="#4d1" d="M474 362l14 6 14-11-13-7z"/>
<path fill="#2d1" d="M460 374l13 7 15-13-14-6z"/>
<path fill="#d21" d="M950 142l13 8 12-1-14-9zm-12 1l13 8 12-1-13-8z"/>
<path fill="#e21" d="M926 145l13 8 12-2-13-8z"/>
<path fill="#d21" d="M914 147l13 8 12-2-13-8zm-12 2l13 8 12-2-13-8zm-12 2l13 9 12-3-13-8zm-12 3l13 8 12-2-13-9zm-13 3l14 9 12-4-13-8z"/>
<path fill="#e21" d="M853 161l13 8 13-3-14-9zm-13 3l14 9 12-4-13-8zm-12 4l13 8 13-3-14-9zm-13 5l14 8 12-5-13-8zm-13 4l14 8 13-4-14-8zm-12 5l13 8 13-5-14-8zm-13 5l13 8 13-5-13-8zm-13 6l13 7 13-5-13-8zm-13 5l13 8 13-6-13-7zm-13 6l13 8 13-6-13-8z"/>
<path fill="#e31" d="M724 211l14 8 13-7-13-8zm-13 6l14 8 13-6-14-8z"/>
<path fill="#e50" d="M698 224l13 8 14-7-14-8zm-14 8l14 8 13-8-13-8z"/>
<path fill="#e70" d="M671 239l13 8 14-7-14-8zm-14 8l14 8 13-8-13-8z"/>
<path fill="#e90" d="M643 256l14 7 14-8-14-8zm-13 8l13 8 14-9-14-7z"/>
<path fill="#eb0" d="M616 273l13 8 14-9-13-8zm-14 9l13 8 14-9-13-8z"/>
<path fill="#dc0" d="M588 292l13 8 14-10-13-8z"/>
<path fill="#ce0" d="M574 302l13 8 14-10-13-8zm-15 10l14 8 14-10-13-8z"/>
<path fill="#ad0" d="M545 323l14 7 14-10-14-8z"/>
<path fill="#8d0" d="M531 334l13 7 15-11-14-7z"/>
<path fill="#6d0" d="M517 345l13 7 14-11-13-7z"/>
<path fill="#4d1" d="M502 357l14 7 14-12-13-7zm-14 11l13 8 15-12-14-7z"/>
<path fill="#2d1" d="M473 381l14 7 14-12-13-8z"/>
<path fill="#d21" d="M963 150l13 9 12-1-13-9z"/>
<path fill="#e21" d="M951 151l14 9 11-1-13-9zm-12 2l14 9 12-2-14-9zm-12 2l14 9 12-2-14-9zm-12 2l14 9 12-2-14-9zm-12 3l14 9 12-3-14-9zm-12 2l14 9 12-2-14-9zm-12 4l13 8 13-3-14-9zm-13 3l14 9 12-4-13-8zm-12 4l13 8 13-3-14-9zm-13 3l14 9 12-4-13-8zm-12 5l13 8 13-4-14-9zm-13 4l14 9 12-5-13-8zm-13 5l14 9 13-5-14-9zm-13 5l14 9 13-5-14-9zm-13 5l14 9 13-5-14-9z"/>
<path fill="#e31" d="M764 206l14 9 13-6-14-9zm-13 6l14 9 13-6-14-9zm-13 7l13 8 14-6-14-9z"/>
<path fill="#e50" d="M725 225l13 9 13-7-13-8zm-14 7l14 9 13-7-13-9z"/>
<path fill="#e70" d="M698 240l13 8 14-7-14-9zm-14 7l14 9 13-8-13-8z"/>
<path fill="#e90" d="M671 255l13 8 14-7-14-9zm-14 8l13 9 14-9-13-8z"/>
<path fill="#eb0" d="M643 272l14 8 13-8-13-9zm-14 9l14 8 14-9-14-8z"/>
<path fill="#dc0" d="M615 290l14 8 14-9-14-8z"/>
<path fill="#ce0" d="M601 300l14 8 14-10-14-8zm-14 10l14 8 14-10-14-8z"/>
<path fill="#ad0" d="M573 320l14 8 14-10-14-8z"/>
<path fill="#8d0" d="M559 330l13 9 15-11-14-8zm-15 11l14 8 14-10-13-9z"/>
<path fill="#6d0" d="M530 352l14 9 14-12-14-8z"/>
<path fill="#4d1" d="M516 364l13 8 15-11-14-9z"/>
<path fill="#2d1" d="M501 376l14 8 14-12-13-8z"/>
<path fill="#2d2" d="M487 388l13 8 15-12-14-8z"/>
<path fill="#e21" d="M976 159l14 10 12-1-14-10zm-11 1l13 10 12-1-14-10zm-12 2l13 10 12-2-13-10zm-12 2l13 10 12-2-13-10zm-12 2l13 10 12-2-13-10zm-12 3l13 9 12-2-13-10zm-12 2l13 10 12-3-13-9zm-13 3l14 10 12-3-13-10zm-12 4l14 9 12-3-14-10zm-13 3l14 10 13-4-14-9zm-12 4l14 10 12-4-14-10zm-13 4l14 10 13-4-14-10zm-12 5l13 9 13-4-14-10z"/>
<path fill="#e31" d="M817 199l13 9 13-5-13-9zm-13 5l14 9 12-5-13-9zm-13 5l14 9 13-5-14-9zm-13 6l14 9 13-6-14-9z"/>
<path fill="#e50" d="M765 221l13 9 14-6-14-9zm-14 6l14 9 13-6-13-9zm-13 7l14 9 13-7-14-9z"/>
<path fill="#e70" d="M725 241l13 9 14-7-14-9zm-14 7l14 9 13-7-13-9z"/>
<path fill="#e90" d="M698 256l13 9 14-8-14-9zm-14 7l14 10 13-8-13-9z"/>
<path fill="#eb0" d="M670 272l14 9 14-8-14-10zm-13 8l13 9 14-8-14-9z"/>
<path fill="#dc0" d="M643 289l13 9 14-9-13-9zm-14 9l14 9 13-9-13-9z"/>
<path fill="#ce0" d="M615 308l14 9 14-10-14-9z"/>
<path fill="#ad0" d="M601 318l13 9 15-10-14-9zm-14 10l13 9 14-10-13-9z"/>
<path fill="#8d0" d="M572 339l14 8 14-10-13-9z"/>
<path fill="#6d0" d="M558 349l14 9 14-11-14-8z"/>
<path fill="#4d1" d="M544 361l13 9 15-12-14-9z"/>
<path fill="#2d1" d="M529 372l14 9 14-11-13-9zm-14 12l13 9 15-12-14-9z"/>
<path fill="#2d2" d="M500 396l14 9 14-12-13-9z"/>
<path fill="#e31" d="M990 169l13 10 12-1-13-10zm-12 1l14 10 11-1-13-10zm-12 2l14 10 12-2-14-10zm-12 2l14 10 12-2-14-10zm-12 2l14 10 12-2-14-10zm-12 2l14 10 12-2-14-10zm-12 3l14 10 12-3-14-10zm-12 3l13 10 13-3-14-10zm-12 3l13 10 12-3-13-10zm-13 4l14 10 12-4-13-10zm-12 4l13 10 13-4-14-10zm-13 4l14 10 12-4-13-10zm-13 4l14 10 13-4-14-10zm-13 5l14 10 13-5-14-10z"/>
<path fill="#e50" d="M818 213l13 10 13-5-14-10zm-13 5l13 10 13-5-13-10zm-13 6l13 10 13-6-13-10zm-14 6l14 10 13-6-13-10z"/>
<path fill="#e70" d="M765 236l14 10 13-6-14-10zm-13 7l14 10 13-7-14-10zm-14 7l14 10 14-7-14-10z"/>
<path fill="#e90" d="M725 257l14 10 13-7-14-10zm-14 8l14 9 14-7-14-10z"/>
<path fill="#eb0" d="M698 273l14 9 13-8-14-9zm-14 8l14 9 14-8-14-9z"/>
<path fill="#dc0" d="M670 289l14 10 14-9-14-9zm-14 9l14 10 14-9-14-10z"/>
<path fill="#ce0" d="M643 307l13 10 14-9-14-10z"/>
<path fill="#ad0" d="M629 317l13 9 14-9-13-10zm-15 10l14 9 14-10-13-9z"/>
<path fill="#8d0" d="M600 337l14 9 14-10-14-9z"/>
<path fill="#6d0" d="M586 347l14 10 14-11-14-9z"/>
<path fill="#4d1" d="M572 358l13 10 15-11-14-10zm-15 12l14 9 14-11-13-10z"/>
<path fill="#2d1" d="M543 381l14 10 14-12-14-9z"/>
<path fill="#2d2" d="M528 393l14 9 15-11-14-10z"/>
<path fill="#1d3" d="M514 405l13 10 15-13-14-9z"/>
<path fill="#e50" d="M1003 179l14 11 12-1-14-11zm-11 1l13 11 12-1-14-11zm-12 2l13 11 12-2-13-11zm-12 2l14 11 11-2-13-11z"/>
<path fill="#e31" d="M956 186l14 11 12-2-14-11zm-12 2l14 11 12-2-14-11zm-12 3l13 11 13-3-14-11zm-13 3l14 11 12-3-13-11zm-12 3l14 11 12-3-14-11z"/>
<path fill="#e50" d="M895 201l13 10 13-3-14-11zm-13 4l14 10 12-4-13-10zm-12 4l13 10 13-4-14-10zm-13 4l14 11 12-5-13-10zm-13 5l14 10 13-4-14-11zm-13 5l14 10 13-5-14-10z"/>
<path fill="#e70" d="M818 228l14 11 13-6-14-10zm-13 6l14 10 13-5-14-11zm-13 6l14 10 13-6-14-10zm-13 6l14 11 13-7-14-10z"/>
<path fill="#e90" d="M766 253l13 10 14-6-14-11zm-14 7l14 10 13-7-13-10z"/>
<path fill="#eb0" d="M739 267l14 10 13-7-14-10zm-14 7l14 11 14-8-14-10z"/>
<path fill="#dc0" d="M712 282l13 11 14-8-14-11zm-14 8l14 11 13-8-13-11z"/>
<path fill="#ce0" d="M684 299l14 10 14-8-14-11zm-14 9l14 10 14-9-14-10z"/>
<path fill="#ad0" d="M656 317l14 10 14-9-14-10zm-14 9l14 11 14-10-14-10z"/>
<path fill="#8d0" d="M628 336l14 11 14-10-14-11z"/>
<path fill="#6d0" d="M614 346l14 11 14-10-14-11zm-14 11l14 10 14-10-14-11z"/>
<path fill="#4d1" d="M585 368l14 10 15-11-14-10z"/>
<path fill="#2d1" d="M571 379l14 10 14-11-14-10z"/>
<path fill="#2d2" d="M557 391l13 10 15-12-14-10z"/>
<path fill="#1d3" d="M542 402l14 11 14-12-13-10zm-15 13l14 10 15-12-14-11z"/>
<path fill="#e70" d="M1017 190l14 12 11-1-13-12zm-12 1l14 12 12-1-14-12zm-12 2l14 11 12-1-14-12z"/>
<path fill="#e50" d="M982 195l13 11 12-2-14-11zm-12 2l13 11 12-2-13-11zm-12 2l13 12 12-3-13-11zm-13 3l14 11 12-2-13-12zm-12 3l14 11 12-3-14-11zm-12 3l14 11 12-3-14-11zm-13 3l14 12 13-4-14-11z"/>
<path fill="#e70" d="M896 215l14 12 12-4-14-12zm-13 4l14 12 13-4-14-12zm-12 5l13 11 13-4-14-12zm-13 4l14 12 12-5-13-11zm-13 5l14 12 13-5-14-12zm-13 6l14 11 13-5-14-12z"/>
<path fill="#e90" d="M819 244l14 12 13-6-14-11zm-13 6l14 12 13-6-14-12zm-13 7l14 11 13-6-14-12z"/>
<path fill="#eb0" d="M779 263l14 11 14-6-14-11zm-13 7l14 11 13-7-14-11zm-13 7l14 11 13-7-14-11z"/>
<path fill="#dc0" d="M739 285l14 11 14-8-14-11zm-14 8l14 11 14-8-14-11z"/>
<path fill="#ce0" d="M712 301l14 11 13-8-14-11zm-14 8l14 11 14-8-14-11z"/>
<path fill="#ad0" d="M684 318l14 11 14-9-14-11z"/>
<path fill="#8d0" d="M670 327l14 11 14-9-14-11zm-14 10l14 11 14-10-14-11z"/>
<path fill="#6d0" d="M642 347l14 11 14-10-14-11zm-14 10l14 11 14-10-14-11z"/>
<path fill="#4d1" d="M614 367l13 11 15-10-14-11z"/>
<path fill="#2d1" d="M599 378l14 11 14-11-13-11z"/>
<path fill="#2d2" d="M585 389l14 11 14-11-14-11zm-15 12l14 11 15-12-14-11z"/>
<path fill="#1d3" d="M556 413l14 10 14-11-14-11z"/>
<path fill="#1d4" d="M541 425l14 11 15-13-14-10z"/>
<path fill="#e90" d="M1031 202l13 12 12-1-14-12zm-12 1l14 12 11-1-13-12zm-12 1l14 12 12-1-14-12z"/>
<path fill="#e70" d="M995 206l14 12 12-2-14-12zm-12 2l14 12 12-2-14-12zm-12 3l14 12 12-3-14-12zm-12 2l14 12 12-2-14-12zm-12 3l14 12 12-3-14-12zm-12 3l13 12 13-3-14-12zm-13 4l14 12 12-4-13-12zm-12 4l14 12 12-4-14-12z"/>
<path fill="#e90" d="M897 231l14 12 13-4-14-12zm-13 4l14 12 13-4-14-12zm-12 5l14 12 12-5-14-12zm-13 5l14 12 13-5-14-12zm-13 5l14 12 13-5-14-12z"/>
<path fill="#eb0" d="M833 256l14 11 13-5-14-12zm-13 6l14 11 13-6-14-11zm-13 6l14 12 13-7-14-11z"/>
<path fill="#dc0" d="M793 274l14 12 14-6-14-12zm-13 7l14 12 13-7-14-12zm-13 7l13 12 14-7-14-12z"/>
<path fill="#ce0" d="M753 296l14 12 13-8-13-12zm-14 8l14 11 14-7-14-12z"/>
<path fill="#ad0" d="M726 312l14 12 13-9-14-11zm-14 8l14 12 14-8-14-12z"/>
<path fill="#8d0" d="M698 329l14 12 14-9-14-12zm-14 9l14 12 14-9-14-12z"/>
<path fill="#6d0" d="M670 348l14 11 14-9-14-12z"/>
<path fill="#4d1" d="M656 358l14 11 14-10-14-11zm-14 10l14 11 14-10-14-11z"/>
<path fill="#2d1" d="M627 378l14 12 15-11-14-11z"/>
<path fill="#2d2" d="M613 389l14 12 14-11-14-12zm-14 11l14 12 14-11-14-12z"/>
<path fill="#1d3" d="M584 412l14 11 15-11-14-12z"/>
<path fill="#1d4" d="M570 423l14 12 14-12-14-11z"/>
<path fill="#0d6" d="M555 436l14 11 15-12-14-12z"/>
<path fill="#eb0" d="M1044 214l14 13 11-1-13-13zm-11 1l13 13 12-1-14-13zm-12 1l13 13 12-1-13-13zm-12 2l14 13 11-2-13-13z"/>
<path fill="#e90" d="M997 220l14 13 12-2-14-13zm-12 3l14 12 12-2-14-13zm-12 2l14 13 12-3-14-12zm-12 3l13 13 13-3-14-13zm-13 3l14 13 12-3-13-13zm-12 4l14 12 12-3-14-13zm-12 4l13 12 13-4-14-12z"/>
<path fill="#eb0" d="M911 243l14 12 12-4-13-12zm-13 4l14 13 13-5-14-12zm-12 5l13 12 13-4-14-13zm-13 5l14 12 12-5-13-12zm-13 5l14 12 13-5-14-12z"/>
<path fill="#dc0" d="M847 267l14 13 13-6-14-12zm-13 6l14 13 13-6-14-13zm-13 7l14 12 13-6-14-13zm-14 6l14 13 14-7-14-12z"/>
<path fill="#ce0" d="M794 293l14 12 13-6-14-13zm-14 7l14 13 14-8-14-12z"/>
<path fill="#ad0" d="M767 308l14 12 13-7-14-13zm-14 7l14 13 14-8-14-12z"/>
<path fill="#8d0" d="M740 324l14 12 13-8-14-13zm-14 8l14 12 14-8-14-12z"/>
<path fill="#6d0" d="M712 341l14 12 14-9-14-12zm-14 9l14 12 14-9-14-12z"/>
<path fill="#4d1" d="M684 359l14 13 14-10-14-12zm-14 10l14 12 14-9-14-13z"/>
<path fill="#2d1" d="M656 379l14 13 14-11-14-12z"/>
<path fill="#2d2" d="M641 390l15 12 14-10-14-13z"/>
<path fill="#1d3" d="M627 401l14 12 15-11-15-12zm-14 11l14 12 14-11-14-12z"/>
<path fill="#1d4" d="M598 423l14 12 15-11-14-12z"/>
<path fill="#0d6" d="M584 435l14 12 14-12-14-12z"/>
<path fill="#0d8" d="M569 447l14 12 15-12-14-12z"/>
<path fill="#dc0" d="M1058 227l14 13 11-1-14-13zm-12 1l14 13 12-1-14-13zm-12 1l14 14 12-2-14-13zm-11 2l13 13 12-1-14-14zm-12 2l14 13 11-2-13-13z"/>
<path fill="#eb0" d="M999 235l14 14 12-3-14-13zm-12 3l13 13 13-2-14-14zm-13 3l14 13 12-3-13-13zm-12 3l14 13 12-3-14-13zm-12 3l14 14 12-4-14-13z"/>
<path fill="#dc0" d="M937 251l14 13 13-3-14-14zm-12 4l14 13 12-4-14-13zm-13 5l14 13 13-5-14-13zm-13 4l14 13 13-4-14-13zm-12 5l14 13 12-5-14-13zm-13 5l14 14 13-6-14-13z"/>
<path fill="#ce0" d="M861 280l14 13 13-5-14-14zm-13 6l14 13 13-6-14-13zm-13 6l14 13 13-6-14-13zm-14 7l14 13 14-7-14-13z"/>
<path fill="#ad0" d="M808 305l14 13 13-6-14-13zm-14 8l15 13 13-8-14-13z"/>
<path fill="#8d0" d="M781 320l14 13 14-7-15-13zm-14 8l14 13 14-8-14-13z"/>
<path fill="#6d0" d="M754 336l14 13 13-8-14-13zm-14 8l14 13 14-8-14-13z"/>
<path fill="#4d1" d="M726 353l14 13 14-9-14-13zm-14 9l14 13 14-9-14-13z"/>
<path fill="#2d1" d="M698 372l14 13 14-10-14-13zm-14 9l14 13 14-9-14-13z"/>
<path fill="#2d2" d="M670 392l14 13 14-11-14-13z"/>
<path fill="#1d3" d="M656 402l14 13 14-10-14-13zm-15 11l14 13 15-11-14-13z"/>
<path fill="#1d4" d="M627 424l14 13 14-11-14-13z"/>
<path fill="#0d6" d="M612 435l14 13 15-11-14-13z"/>
<path fill="#0d8" d="M598 447l14 13 14-12-14-13z"/>
<path fill="#0da" d="M583 459l14 13 15-12-14-13z"/>
<path fill="#ce0" d="M1072 240l13 14 12-1-14-14zm-12 1l14 14 11-1-13-14zm-12 2l14 14 12-2-14-14zm-12 1l14 14 12-1-14-14zm-11 2l13 14 12-2-14-14zm-12 3l13 14 12-3-13-14zm-13 2l14 14 12-2-13-14zm-12 3l14 14 12-3-14-14zm-12 3l14 14 12-3-14-14zm-12 4l14 14 12-4-14-14zm-13 3l14 14 13-3-14-14zm-12 4l14 14 12-4-14-14zm-13 5l14 14 13-5-14-14zm-13 4l14 14 13-4-14-14zm-12 5l14 14 12-5-14-14zm-13 6l14 13 13-5-14-14z"/>
<path fill="#ad0" d="M875 293l14 14 13-6-14-13zm-13 6l14 14 13-6-14-14zm-13 6l14 14 13-6-14-14z"/>
<path fill="#8d0" d="M835 312l14 13 14-6-14-14zm-13 6l14 14 13-7-14-13zm-13 8l14 13 13-7-14-14z"/>
<path fill="#6d0" d="M795 333l14 14 14-8-14-13zm-14 8l15 14 13-8-14-14z"/>
<path fill="#4d1" d="M768 349l14 14 14-8-15-14zm-14 8l14 14 14-8-14-14z"/>
<path fill="#2d1" d="M740 366l14 14 14-9-14-14zm-14 9l14 14 14-9-14-14z"/>
<path fill="#2d2" d="M712 385l14 13 14-9-14-14zm-14 9l14 14 14-10-14-13z"/>
<path fill="#1d3" d="M684 405l14 13 14-10-14-14z"/>
<path fill="#1d4" d="M670 415l14 14 14-11-14-13zm-15 11l15 13 14-10-14-14z"/>
<path fill="#0d6" d="M641 437l14 14 15-12-15-13z"/>
<path fill="#0d8" d="M626 448l15 14 14-11-14-14z"/>
<path fill="#0da" d="M612 460l14 14 15-12-15-14z"/>
<path fill="#0db" d="M597 472l14 14 15-12-14-14z"/>
<path fill="#8d0" d="M1085 254l14 15 11-1-13-15z"/>
<path fill="#ad0" d="M1074 255l13 15 12-1-14-15zm-12 2l14 14 11-1-13-15zm-12 1l14 15 12-2-14-14zm-12 2l14 15 12-2-14-15zm-12 3l14 14 12-2-14-15zm-12 2l14 15 12-3-14-14zm-12 3l14 15 12-3-14-15zm-12 3l14 15 12-3-14-15zm-12 4l14 14 12-3-14-15zm-13 3l14 15 13-4-14-14zm-12 4l14 15 12-4-14-15zm-13 5l14 14 13-4-14-15zm-13 4l15 15 12-5-14-14zm-12 5l14 15 13-5-15-15z"/>
<path fill="#8d0" d="M902 301l14 15 13-5-14-15zm-13 6l14 14 13-5-14-15zm-13 6l14 14 13-6-14-14zm-13 6l14 14 13-6-14-14z"/>
<path fill="#6d0" d="M849 325l15 15 13-7-14-14zm-13 7l14 15 14-7-15-15zm-13 7l14 15 13-7-14-15z"/>
<path fill="#4d1" d="M809 347l14 14 14-7-14-15zm-13 8l14 14 13-8-14-14z"/>
<path fill="#2d1" d="M782 363l14 14 14-8-14-14zm-14 8l14 14 14-8-14-14z"/>
<path fill="#2d2" d="M754 380l15 14 13-9-14-14zm-14 9l15 14 14-9-15-14z"/>
<path fill="#1d3" d="M726 398l15 15 14-10-15-14zm-14 10l15 14 14-9-15-15z"/>
<path fill="#1d4" d="M698 418l14 15 15-11-15-14z"/>
<path fill="#0d6" d="M684 429l14 14 14-10-14-15zm-14 10l14 15 14-11-14-14z"/>
<path fill="#0d8" d="M655 451l14 14 15-11-14-15z"/>
<path fill="#0da" d="M641 462l14 14 14-11-14-14z"/>
<path fill="#0db" d="M626 474l14 14 15-12-14-14z"/>
<path fill="#0dc" d="M611 486l15 14 14-12-14-14z"/>
<path fill="#6d0" d="M1099 269l14 15 11-1-14-15zm-12 1l14 15 12-1-14-15zm-11 1l14 16 11-2-14-15z"/>
<path fill="#8d0" d="M1064 273l14 15 12-1-14-16zm-12 2l14 15 12-2-14-15zm-12 2l14 16 12-3-14-15zm-12 3l14 15 12-2-14-16zm-12 3l14 15 12-3-14-15zm-12 3l14 15 12-3-14-15zm-12 3l14 15 12-3-14-15zm-13 4l14 15 13-4-14-15zm-12 4l14 15 12-4-14-15zm-13 4l14 15 13-4-14-15zm-12 5l14 15 12-5-14-15z"/>
<path fill="#6d0" d="M929 311l14 15 13-5-14-15zm-13 5l14 15 13-5-14-15zm-13 5l14 16 13-6-14-15zm-13 6l14 15 13-5-14-16z"/>
<path fill="#4d1" d="M877 333l14 16 13-7-14-15zm-13 7l14 15 13-6-14-16zm-14 7l15 15 13-7-14-15z"/>
<path fill="#2d1" d="M837 354l14 15 14-7-15-15zm-14 7l15 15 13-7-14-15zm-13 8l14 15 14-8-15-15z"/>
<path fill="#2d2" d="M796 377l14 15 14-8-14-15zm-14 8l15 16 13-9-14-15z"/>
<path fill="#1d3" d="M769 394l14 15 14-8-15-16zm-14 9l14 15 14-9-14-15z"/>
<path fill="#1d4" d="M741 413l14 15 14-10-14-15z"/>
<path fill="#0d6" d="M727 422l14 15 14-9-14-15zm-15 11l15 15 14-11-14-15z"/>
<path fill="#0d8" d="M698 443l14 15 15-10-15-15z"/>
<path fill="#0da" d="M684 454l14 15 14-11-14-15zm-15 11l15 15 14-11-14-15z"/>
<path fill="#0db" d="M655 476l14 15 15-11-15-15z"/>
<path fill="#0dc" d="M640 488l15 15 14-12-14-15z"/>
<path fill="#0de" d="M626 500l14 15 15-12-15-15z"/>
<path fill="#4d1" d="M1113 284l14 16 11-1-14-16zm-12 1l14 16 12-1-14-16zm-11 2l13 16 12-2-14-16zm-12 1l14 16 11-1-13-16zm-12 2l14 16 12-2-14-16zm-12 3l14 16 12-3-14-16z"/>
<path fill="#6d0" d="M1042 295l14 16 12-2-14-16zm-12 3l14 16 12-3-14-16zm-12 3l14 16 12-3-14-16zm-12 3l14 16 12-3-14-16zm-13 4l14 16 13-4-14-16z"/>
<path fill="#4d1" d="M981 312l14 16 12-4-14-16zm-13 4l14 16 13-4-14-16zm-12 5l14 16 12-5-14-16zm-13 5l14 16 13-5-14-16zm-13 5l14 16 13-5-14-16zm-13 6l14 15 13-5-14-16z"/>
<path fill="#2d1" d="M904 342l14 16 13-6-14-15zm-13 7l14 15 13-6-14-16zm-13 6l14 16 13-7-14-15zm-13 7l14 16 13-7-14-16z"/>
<path fill="#2d2" d="M851 369l14 16 14-7-14-16zm-13 7l14 16 13-7-14-16z"/>
<path fill="#1d3" d="M824 384l14 16 14-8-14-16zm-14 8l15 16 13-8-14-16z"/>
<path fill="#1d4" d="M797 401l14 15 14-8-15-16zm-14 8l14 16 14-9-14-15z"/>
<path fill="#0d6" d="M769 418l14 16 14-9-14-16zm-14 10l14 15 14-9-14-16z"/>
<path fill="#0d8" d="M741 437l14 16 14-10-14-15zm-14 11l14 15 14-10-14-16z"/>
<path fill="#0da" d="M712 458l15 16 14-11-14-15z"/>
<path fill="#0db" d="M698 469l15 15 14-10-15-16zm-14 11l14 16 15-12-15-15z"/>
<path fill="#0dc" d="M669 491l15 16 14-11-14-16z"/>
<path fill="#0de" d="M655 503l14 16 15-12-15-16z"/>
<path fill="#0ce" d="M640 515l14 16 15-12-14-16z"/>
<path fill="#2d2" d="M1127 300l13 17 12-1-14-17zm-12 1l14 17 11-1-13-17z"/>
<path fill="#2d1" d="M1103 303l14 16 12-1-14-17zm-11 1l14 17 11-2-14-16zm-12 2l14 17 12-2-14-17zm-12 3l14 16 12-2-14-17zm-12 2l14 17 12-3-14-16zm-12 3l14 16 12-2-14-17zm-12 3l14 17 12-4-14-16zm-12 3l14 17 12-3-14-17zm-13 4l14 17 13-4-14-17zm-12 4l14 17 12-4-14-17zm-13 4l15 17 12-4-14-17zm-12 5l14 16 13-4-15-17zm-13 5l14 16 13-5-14-16zm-13 5l14 16 13-5-14-16z"/>
<path fill="#2d2" d="M931 352l15 17 12-6-14-16zm-13 6l15 17 13-6-15-17zm-13 6l15 17 13-6-15-17zm-13 7l14 16 14-6-15-17z"/>
<path fill="#1d3" d="M879 378l14 16 13-7-14-16zm-14 7l15 16 13-7-14-16z"/>
<path fill="#1d4" d="M852 392l14 17 14-8-15-16zm-14 8l15 16 13-7-14-17zm-13 8l14 16 14-8-15-16z"/>
<path fill="#0d6" d="M811 416l14 17 14-9-14-16zm-14 9l15 16 13-8-14-17z"/>
<path fill="#0d8" d="M783 434l15 16 14-9-15-16zm-14 9l15 17 14-10-15-16z"/>
<path fill="#0da" d="M755 453l15 17 14-10-15-17z"/>
<path fill="#0db" d="M741 463l15 17 14-10-15-17zm-14 11l14 16 15-10-15-17z"/>
<path fill="#0dc" d="M713 484l14 17 14-11-14-16z"/>
<path fill="#0de" d="M698 496l15 16 14-11-14-17zm-14 11l14 16 15-11-15-16z"/>
<path fill="#0ce" d="M669 519l15 16 14-12-14-16z"/>
<path fill="#0af" d="M654 531l15 16 15-12-15-16z"/>
<path fill="#1d3" d="M1140 317l14 17 12-1-14-17zm-11 1l14 17 11-1-14-17zm-12 1l14 17 12-1-14-17zm-11 2l14 17 11-2-14-17zm-12 2l14 17 12-2-14-17z"/>
<path fill="#2d2" d="M1082 325l14 17 12-2-14-17zm-12 3l14 17 12-3-14-17zm-12 2l14 18 12-3-14-17zm-12 4l14 17 12-3-14-18zm-12 3l14 17 12-3-14-17zm-13 4l15 17 12-4-14-17zm-12 4l14 17 13-4-15-17zm-12 4l14 17 12-4-14-17z"/>
<path fill="#1d3" d="M984 353l14 18 13-5-14-17zm-13 5l14 17 13-4-14-18zm-13 5l15 18 12-6-14-17zm-12 6l14 17 13-5-15-18zm-13 6l14 17 13-6-14-17z"/>
<path fill="#1d4" d="M920 381l14 17 13-6-14-17zm-14 6l15 17 13-6-14-17zm-13 7l14 17 14-7-15-17z"/>
<path fill="#0d6" d="M880 401l14 17 13-7-14-17zm-14 8l15 17 13-8-14-17zm-13 7l14 17 14-7-15-17z"/>
<path fill="#0d8" d="M839 424l15 17 13-8-14-17zm-14 9l15 17 14-9-15-17z"/>
<path fill="#0da" d="M812 441l14 18 14-9-15-17zm-14 9l14 18 14-9-14-18z"/>
<path fill="#0db" d="M784 460l14 17 14-9-14-18zm-14 10l14 17 14-10-14-17z"/>
<path fill="#0dc" d="M756 480l14 17 14-10-14-17z"/>
<path fill="#0de" d="M741 490l15 17 14-10-14-17zm-14 11l15 17 14-11-15-17z"/>
<path fill="#0ce" d="M713 512l14 17 15-11-15-17z"/>
<path fill="#0af" d="M698 523l15 17 14-11-14-17zm-14 12l14 17 15-12-15-17z"/>
<path fill="#09f" d="M669 547l14 17 15-12-14-17z"/>
<path fill="#0d6" d="M1154 334l14 18 11-1-13-18zm-11 1l14 18 11-1-14-18zm-12 1l14 18 12-1-14-18z"/>
<path fill="#1d4" d="M1120 338l14 18 11-2-14-18zm-12 2l14 18 12-2-14-18zm-12 2l14 18 12-2-14-18zm-12 3l14 18 12-3-14-18zm-12 3l14 17 12-2-14-18zm-12 3l14 18 12-4-14-17zm-12 3l14 18 12-3-14-18zm-12 4l14 18 12-4-14-18zm-13 4l14 18 13-4-14-18zm-12 4l14 18 12-4-14-18zm-13 5l14 17 13-4-14-18zm-13 4l15 18 12-5-14-17zm-12 6l14 17 13-5-15-18z"/>
<path fill="#0d6" d="M960 386l14 18 13-6-14-17zm-13 6l14 18 13-6-14-18zm-13 6l14 18 13-6-14-18zm-13 6l14 18 13-6-14-18z"/>
<path fill="#0d8" d="M907 411l15 18 13-7-14-18zm-13 7l15 18 13-7-15-18zm-13 8l14 17 14-7-15-18z"/>
<path fill="#0da" d="M867 433l15 18 13-8-14-17zm-13 8l14 18 14-8-15-18z"/>
<path fill="#0db" d="M840 450l14 18 14-9-14-18zm-14 9l15 17 13-8-14-18z"/>
<path fill="#0dc" d="M812 468l15 17 14-9-15-17zm-14 9l15 18 14-10-15-17z"/>
<path fill="#0de" d="M784 487l15 17 14-9-15-18zm-14 10l15 18 14-11-15-17z"/>
<path fill="#0ce" d="M756 507l14 18 15-10-15-18z"/>
<path fill="#0af" d="M742 518l14 18 14-11-14-18zm-15 11l15 18 14-11-14-18z"/>
<path fill="#09f" d="M713 540l14 18 15-11-15-18z"/>
<path fill="#18e" d="M698 552l15 18 14-12-14-18zm-15 12l15 18 15-12-15-18z"/>
<path fill="#0da" d="M1168 352l14 18 11-1-14-18z"/>
<path fill="#0d8" d="M1157 353l14 18 11-1-14-18zm-12 1l14 19 12-2-14-18zm-11 2l13 18 12-1-14-19zm-12 2l14 18 11-2-13-18zm-12 2l14 19 12-3-14-18zm-12 3l14 18 12-2-14-19z"/>
<path fill="#0d6" d="M1086 365l14 19 12-3-14-18zm-12 4l14 18 12-3-14-19zm-12 3l14 18 12-3-14-18zm-12 4l14 18 12-4-14-18zm-13 4l15 18 12-4-14-18z"/>
<path fill="#0d8" d="M1025 384l14 18 13-4-15-18zm-13 4l15 19 12-5-14-18zm-12 5l14 19 13-5-15-19zm-13 5l14 19 13-5-14-19zm-13 6l14 18 13-5-14-19zm-13 6l15 18 12-6-14-18z"/>
<path fill="#0da" d="M948 416l15 18 13-6-15-18zm-13 6l14 19 14-7-15-18zm-13 7l14 19 13-7-14-19zm-13 7l14 19 13-7-14-19z"/>
<path fill="#0db" d="M895 443l15 19 13-7-14-19zm-13 8l14 19 14-8-15-19z"/>
<path fill="#0dc" d="M868 459l15 19 13-8-14-19zm-14 9l15 18 14-8-15-19z"/>
<path fill="#0de" d="M841 476l14 19 14-9-15-18zm-14 9l14 19 14-9-14-19z"/>
<path fill="#0ce" d="M813 495l14 18 14-9-14-19zm-14 9l14 19 14-10-14-18z"/>
<path fill="#0af" d="M785 515l14 18 14-10-14-19zm-15 10l15 18 14-10-14-18z"/>
<path fill="#09f" d="M756 536l15 18 14-11-15-18z"/>
<path fill="#18e" d="M742 547l14 18 15-11-15-18zm-15 11l15 19 14-12-14-18z"/>
<path fill="#26e" d="M713 570l14 18 15-11-15-19z"/>
<path fill="#25e" d="M698 582l15 19 14-13-14-18z"/>
</g>
<circle cx="57.2" cy="89.1" r="2" fill="#d81010" stroke="#7a0000" stroke-width=".5"/>
<circle cx="177.5" cy="151.4" r="2" fill="#d81010" stroke="#7a0000" stroke-width=".5"/>
<circle cx="297.5" cy="93" r="2" fill="#d81010" stroke="#7a0000" stroke-width=".5"/>
<!-- panel b -->
<g stroke="#000" stroke-width=".7" fill="#ff0" stroke-linejoin="round">
<polygon points="432.6,135.6 580.6,112.1 582.8,0 422.1,21.3"/>
<polygon points="580.6,112.1 647.3,182.3 659.9,61.5 582.8,0"/>
<polygon points="432.6,135.6 483.8,215.8 647.3,182.3 580.6,112.1"/>
</g>
<path d="M430 107L581.2 84.1M428.7 92.7L581.4 70.1M427.4 78.5L581.7 56M426 64.2L582 42M424.7 49.9L582.2 28M423.4 35.6L582.5 14M460.2 102.4L454.2 17M490.4 97.8L486.4 12.8M520.7 93.3L518.5 8.5M550.9 88.7L550.7 4.3M581.2 84.1L650.4 152.1M581.4 70.1L652 137M581.7 56L653.6 121.9M582 42L655.2 106.8M582.2 28L656.8 91.7M582.5 14L658.3 76.6M595 97.7L598.2 12.3M608.9 111.3L613.6 24.6M622.7 124.9L629.1 36.9M636.6 138.5L644.5 49.2" stroke="#000" stroke-width=".6" fill="none"/>
<path d="M430.3 107h-1.6M429 92.7h-1.6M427.7 78.5h-1.6M426.3 64.2h-1.6M425 49.9h-1.6M423.7 35.6h-1.6M422.4 21.3h-1.6M432.6 135.6l-.9 .9M442.8 151.6l-.9 .9M453.1 167.7l-.9 .9M463.3 183.7l-.9 .9M473.6 199.8l-.9 .9M483.8 215.8l-.9 .9M483.8 215.8l.9 .9M516.5 209.1l.9 .9M549.2 202.4l.9 .9M581.9 195.7l.9 .9M614.6 189l.9 .9M647.3 182.3l.9 .9" stroke="#000" stroke-width="1.3" fill="none"/>
<clipPath id="cfb"><polygon points="432.6,135.6 483.8,215.8 647.3,182.3 580.6,112.1"/></clipPath>
<g clip-path="url(#cfb)" fill="none" stroke-width=".8">
<path d="M407.9 225L398.3 217.7L390.5 210L384.6 201.8L380.6 193.4L378.3 184.7L377.8 176L379.1 167.3L381.9 158.6L386.3 150.1L392.1 141.8L399.3 133.8L407.7 126.1L417.2 118.8L427.8 111.9L439.2 105.5L451.5 99.5L464.5 94L478.1 89L492.8 85.2L508.9 83L525 80.9L541 78.8L556.8 76.7L572.3 74.6L587.3 72.7L601.7 70.8L615.5 68.9L626.7 67.5L627.9 68.5L630.7 70.9L633.8 73.7L637.5 76.9L641.5 80.4L646 84.3L650.9 88.6L656.1 93.2L661.8 98.1L667.8 103.3L674.1 108.8L680.7 114.6L687.5 120.5L694.5 126.7L701.7 133L709 139.3L716.4 145.8L723.8 152.2L731 158.5L738.2 164.7L745.1 170.8L751.7 176.5L757.9 182L748.7 190.3L737.5 198.6L724.8 206.7L710.6 214.5L695 221.9L678.1 228.7L660.1 235L641.1 240.5L621.3 245.1L601 248.9L580.4 251.8L559.6 253.6L539.1 254.4L518.9 254.1L499.4 252.8L480.8 250.5L463.3 247.1L447.2 242.8L432.4 237.6L419.3 231.7L407.9 225" stroke="#24d"/>
<path d="M427.7 215.8L418.9 209.4L411.8 202.6L406.3 195.4L402.4 188L400.1 180.3L399.4 172.6L400.3 164.8L402.6 157L406.3 149.4L411.3 141.9L417.5 134.7L424.9 127.7L433.4 121.1L442.7 114.8L453 108.9L464 103.4L475.7 98.4L487.9 93.7L500.7 89.6L513.8 85.8L527.3 82.6L541 79.8L554.9 77.4L568.8 75.6L582.8 74.1L596.7 73.1L610.5 72.6L624 72.5L633.4 73.3L636 75.6L638.9 78.1L642.2 81L646 84.3L650.1 87.9L654.5 91.8L659.4 96L664.5 100.5L670 105.3L675.7 110.3L681.7 115.5L687.9 120.9L694.2 126.4L700.7 132.1L707.3 137.8L713.9 143.6L720.5 149.3L727 155L733.3 160.5L739.4 165.8L745.3 170.9L740.8 177.9L732 185.4L721.8 192.7L710.2 199.9L697.4 206.7L683.3 213.2L668.2 219.2L652.1 224.6L635.1 229.4L617.6 233.4L599.5 236.7L581.2 239.2L562.8 240.7L544.6 241.4L526.7 241.2L509.5 240L493 238L477.4 235L463 231.3L449.8 226.8L438 221.6L427.7 215.8" stroke="#17e"/>
<path d="M449.2 205.8L441.4 200.4L435.1 194.5L430 188.4L426.4 182L424.2 175.4L423.3 168.7L423.8 162L425.6 155.2L428.6 148.6L432.7 142.1L438 135.7L444.3 129.6L451.5 123.7L459.6 118.1L468.5 112.8L478.1 107.9L488.4 103.4L499.1 99.2L510.4 95.4L522 92L533.9 89L546.1 86.5L558.4 84.3L570.9 82.6L583.3 81.2L595.7 80.3L608 79.8L620.1 79.7L632 80L642 80.9L644.7 83.2L647.7 85.8L651 88.7L654.7 91.9L658.7 95.4L663 99.2L667.6 103.2L672.5 107.4L677.6 111.9L682.9 116.5L688.3 121.3L693.9 126.1L699.6 131.1L705.4 136.1L711.1 141.2L716.8 146.1L722.5 151.1L728 155.8L733.3 160.5L728.3 166.9L721.6 173.5L713.7 179.9L704.6 186.2L694.3 192.4L683 198.2L670.7 203.7L657.5 208.8L643.4 213.3L628.7 217.4L613.5 220.8L597.9 223.5L582.1 225.6L566.3 226.9L550.6 227.5L535.2 227.3L520.3 226.3L506 224.5L492.6 222.1L480.1 218.9L468.6 215.1L458.3 210.7L449.2 205.8" stroke="#0db"/>
<path d="M473.3 194.6L466.8 190.2L461.3 185.5L456.9 180.5L453.7 175.3L451.6 169.9L450.7 164.4L450.8 158.8L452.1 153.2L454.3 147.6L457.6 142.2L461.8 136.8L466.9 131.6L472.8 126.7L479.5 121.9L486.8 117.4L494.8 113.2L503.4 109.2L512.4 105.6L521.9 102.3L531.8 99.4L541.9 96.7L552.2 94.5L562.7 92.6L573.3 91L584 89.8L594.6 89L605.1 88.5L615.5 88.4L625.7 88.6L635.6 89.2L645.2 90.1L654.1 91.4L657 94L660.2 96.7L663.7 99.7L667.3 103L671.3 106.4L675.4 110L679.7 113.8L684.2 117.7L688.8 121.7L693.5 125.8L698.3 130L703.1 134.2L707.9 138.4L712.7 142.5L716.8 146.7L714 152.1L710.2 157.5L705.4 163L699.6 168.4L692.8 173.7L685 178.9L676.3 183.9L666.8 188.6L656.5 193L645.4 197.1L633.8 200.8L621.6 204L609 206.8L596.2 209L583.2 210.6L570.2 211.6L557.3 212.1L544.6 211.9L532.4 211.1L520.6 209.7L509.5 207.7L499.1 205.2L489.6 202.1L481 198.6L473.3 194.6" stroke="#2d2"/>
<path d="M502.1 181.4L497 178.2L492.7 174.7L489.3 171L486.6 167.2L484.8 163.2L483.9 159L483.8 154.9L484.5 150.6L486 146.4L488.3 142.3L491.3 138.2L495 134.2L499.4 130.3L504.3 126.6L509.9 123.1L515.9 119.8L522.4 116.7L529.4 113.8L536.6 111.1L544.2 108.8L552.1 106.6L560.1 104.8L568.3 103.2L576.6 102L584.9 101L593.2 100.3L601.4 99.9L609.6 99.8L617.6 99.9L625.3 100.4L632.9 101.1L640.1 102.1L647 103.4L653.5 105L659.6 106.9L665.3 109L670.4 111.3L675 113.9L679 116.7L682.4 119.8L685.2 123L687.3 126.4L688.7 130L689.4 133.8L689.3 137.7L688.5 141.7L686.9 145.7L684.5 149.8L681.4 154L677.5 158.1L672.9 162.1L667.5 166.1L661.5 170L654.8 173.7L647.5 177.1L639.6 180.4L631.2 183.4L622.4 186L613.2 188.3L603.8 190.3L594.2 191.9L584.5 193L574.8 193.8L565.2 194.1L555.7 193.9L546.6 193.4L537.8 192.4L529.5 190.9L521.7 189.1L514.5 186.9L507.9 184.3L502.1 181.4" stroke="#dd0"/>
<path d="M542.7 162.9L539.9 161.3L537.5 159.5L535.5 157.6L534 155.6L532.9 153.5L532.2 151.3L531.9 149.1L532.1 146.9L532.8 144.6L533.8 142.3L535.3 140.1L537.2 137.9L539.4 135.7L542 133.7L545 131.7L548.2 129.8L551.7 128L555.5 126.3L559.5 124.8L563.7 123.4L568 122.1L572.5 121L577.1 120.1L581.8 119.3L586.5 118.7L591.2 118.3L595.8 118L600.5 118L605 118L609.4 118.3L613.7 118.7L617.7 119.3L621.6 120.1L625.3 121L628.7 122.1L631.8 123.4L634.6 124.7L637.1 126.3L639.3 127.9L641 129.6L642.5 131.5L643.5 133.5L644.1 135.5L644.3 137.6L644.1 139.8L643.5 142L642.4 144.2L641 146.5L639.1 148.7L636.8 150.9L634.2 153L631.1 155.1L627.7 157.1L624 159L620 160.8L615.7 162.5L611.2 164L606.5 165.3L601.6 166.5L596.6 167.5L591.5 168.3L586.4 168.8L581.3 169.2L576.3 169.3L571.3 169.2L566.5 169L561.9 168.4L557.4 167.7L553.3 166.8L549.4 165.7L545.9 164.4L542.7 162.9" stroke="#e21"/>
</g>
<g transform="scale(0.25)" stroke="#000" stroke-width="1.5" stroke-linejoin="round">
<path fill="#e50" d="M2313 82l7 1 17-2-7-1zm-16 3l7 0 16-2-7-1zm-16 2l7 1 16-3-7 0zm-17 3l7 0 17-2-7-1zm-16 3l7 1 16-4-7 0z"/>
<path fill="#000" d="M2231 97l7 0 17-3-7-1zm-16 4l6 0 17-4-7 0zm-17 4l7 0 16-4-6 0zm-17 4l7 0 17-4-7 0zm-16 5l6 0 17-5-7 0zm-17 5l7-1 16-4-6 0zm-17 5l7 0 17-6-7 1zm-16 5l6 0 17-5-7 0zm-17 6l6 0 17-6-6 0zm-17 6l6 0 17-6-6 0zm-17 6l6 0 17-6-6 0zm-16 6l6 0 16-6-6 0zm-17 7l6 0 17-7-6 0zm-17 7l6 0 17-7-6 0zm-17 8l6-1 17-7-6 0zm-17 7l6 0 17-8-6 1zm-17 8l6 0 17-8-6 0zm-16 8l5 0 17-8-6 0zm-17 8l5 0 17-8-5 0zm-17 9l5 0 17-9-5 0zm-17 9l5 0 17-9-5 0zm-17 9l5 0 17-9-5 0zm-17 9l5 0 17-9-5 0zm-17 10l5 0 17-10-5 0zm-16 10l5 0 16-10-5 0zm-17 10l5 0 17-10-5 0zm-17 11l5-1 17-10-5 0zm-17 10l5 0 17-11-5 1zm-16 11l4 0 17-11-5 0zm-17 11l4 0 17-11-4 0zm-17 12l5-1 16-11-4 0zm-16 11l4 0 17-12-5 1zm608-255l8 0 16-2-7 0zm-16 2l7 1 17-3-8 0zm-16 3l7 0 16-2-7-1zm-17 2l7 1 17-3-7 0zm-16 4l7 0 16-3-7-1zm-17 3l7 1 17-4-7 0zm-17 4l7 0 17-3-7-1zm-16 4l6 0 17-4-7 0zm-17 4l7 0 16-4-6 0zm-17 5l7 0 17-5-7 0zm-16 4l6 1 17-5-7 0zm-17 6l6 0 17-5-6-1zm-17 5l6 0 17-5-6 0zm-17 6l6 0 17-6-6 0zm-17 6l7 0 16-6-6 0zm-17 6l7 0 17-6-7 0zm-16 6l6 0 17-6-7 0zm-17 7l6 0 17-7-6 0zm-17 7l6 0 17-7-6 0zm-17 7l6 0 17-7-6 0zm-17 8l6 0 17-8-6 0zm-17 8l6 0 17-8-6 0zm-17 8l6 0 17-8-6 0zm-17 8l6 0 17-8-6 0zm-17 9l6 0 17-9-6 0zm-17 9l6 0 17-9-6 0zm-17 9l6 0 17-9-6 0zm-17 9l6 0 17-9-6 0zm-17 10l6 0 17-10-6 0zm-16 10l5 0 17-10-6 0zm-17 10l5 0 17-10-5 0zm-17 10l5 0 17-10-5 0zm-17 11l5 0 17-11-5 0zm-17 11l5 0 17-11-5 0zm-17 11l5 0 17-11-5 0zm-16 11l4 0 17-11-5 0zm-17 12l4 0 17-12-4 0zm612-255l7 1 16-2-7-1zm-17 3l7 1 17-3-7-1zm-16 2l7 1 16-2-7-1zm-17 3l7 1 17-3-7-1zm-16 3l7 1 16-3-7-1zm-17 4l7 1 17-4-7-1zm-17 3l7 1 17-3-7-1zm-17 4l7 1 17-4-7-1zm-16 4l6 1 17-4-7-1zm-17 5l7 1 16-5-6-1zm-17 5l7 1 17-5-7-1zm-17 5l7 1 17-5-7-1zm-17 5l7 1 17-5-7-1zm-17 6l7 0 17-5-7-1zm-16 6l6 0 17-6-7 0zm-17 6l6 1 17-7-6 0zm-17 6l6 1 17-6-6-1zm-17 7l6 1 17-7-6-1zm-17 7l6 1 17-7-6-1zm-17 7l6 1 17-7-6-1zm-17 8l5 0 18-7-6-1zm-17 8l5 0 17-8-5 0zm-17 8l5 0 17-8-5 0zm-17 8l5 1 17-9-5 0zm-17 9l5 0 17-8-5-1zm-17 9l5 0 17-9-5 0zm-17 9l5 0 17-9-5 0zm-17 9l5 0 17-9-5 0zm-17 10l5 0 17-10-5 0zm-17 10l5 0 17-10-5 0zm-17 10l5 0 17-10-5 0zm-17 10l5 1 17-11-5 0zm-17 11l4 0 18-10-5-1zm-17 11l5 0 16-11-4 0zm-17 11l5 0 17-11-5 0zm-17 11l5 1 17-12-5 0zm-17 12l5 1 17-12-5-1zm615-254l7 2 17-2-8-2zm-17 3l8 1 16-2-7-2zm-16 2l7 2 17-3-8-1zm-17 3l7 1 17-2-7-2zm-16 3l7 2 16-4-7-1zm-17 4l7 1 17-3-7-2zm-17 3l7 1 17-3-7-1zm-17 4l7 1 17-4-7-1zm-17 4l7 2 17-5-7-1zm-16 5l6 1 17-4-7-2zm-17 5l6 1 17-5-6-1zm-17 5l6 1 17-5-6-1z"/>
<path fill="#100" d="M2134 130l6 1 17-5-6-1zm-17 5l6 2 17-6-6-1zm-17 6l6 1 17-5-6-2zm-17 7l6 0 17-6-6-1zm-17 6l6 1 17-7-6 0zm-17 7l6 1 17-7-6-1z"/>
<path fill="#110" d="M2032 168l6 1 17-7-6-1zm-17 7l5 1 18-7-6-1zm-18 7l6 1 17-7-5-1zm-17 8l6 1 17-8-6-1zm-17 8l6 1 17-8-6-1zm-17 9l6 0 17-8-6-1zm-17 8l6 1 17-9-6 0zm-17 9l5 1 18-9-6-1zm-17 9l5 1 17-9-5-1zm-17 9l5 1 17-9-5-1zm-17 10l5 1 17-10-5-1z"/>
<path fill="#010" d="M1844 262l5 1 17-10-5-1zm-17 10l5 1 17-10-5-1zm-17 11l4 0 18-10-5-1zm-18 10l5 1 17-11-4 0zm-16 11l4 1 17-11-5-1zm-17 11l4 1 17-11-4-1z"/>
<path fill="#011" d="M1742 327l4 1 17-12-4-1zm-17 12l4 0 17-11-4-1z"/>
<path fill="#000" d="M2342 86l8 2 16-2-7-2zm-16 2l7 2 17-2-8-2zm-17 3l7 2 17-3-7-2z"/>
<path fill="#100" d="M2292 93l8 2 16-2-7-2zm-16 4l7 1 17-3-8-2zm-17 3l7 2 17-4-7-1zm-17 3l7 2 17-3-7-2zm-17 4l7 2 17-4-7-2zm-17 5l7 1 17-4-7-2zm-17 4l7 2 17-5-7-1zm-17 5l7 1 17-4-7-2z"/>
<path fill="#200" d="M2157 126l7 1 17-5-7-1zm-17 5l7 1 17-5-7-1zm-17 6l7 1 17-6-7-1z"/>
<path fill="#210" d="M2106 142l7 2 17-6-7-1zm-17 6l6 2 18-6-7-2zm-17 7l6 1 17-6-6-2z"/>
<path fill="#310" d="M2055 162l6 1 17-7-6-1zm-17 7l6 1 17-7-6-1z"/>
<path fill="#320" d="M2020 176l7 1 17-7-6-1zm-17 7l6 2 18-8-7-1zm-17 8l6 1 17-7-6-2z"/>
<path fill="#330" d="M1969 199l6 1 17-8-6-1zm-17 8l5 2 18-9-6-1zm-17 9l5 1 17-8-5-2zm-18 9l6 1 17-9-5-1z"/>
<path fill="#230" d="M1900 234l6 1 17-9-6-1zm-17 9l5 1 18-9-6-1z"/>
<path fill="#130" d="M1866 253l5 1 17-10-5-1zm-17 10l5 1 17-10-5-1zm-17 10l5 1 17-10-5-1zm-18 10l5 2 18-11-5-1z"/>
<path fill="#030" d="M1797 294l5 1 17-10-5-2z"/>
<path fill="#031" d="M1780 305l5 1 17-11-5-1zm-17 11l5 1 17-11-5-1zm-17 12l5 1 17-12-5-1z"/>
<path fill="#032" d="M1729 339l5 1 17-11-5-1z"/>
<path fill="#100" d="M2350 88l7 2 17-2-8-2zm-17 2l7 2 17-2-7-2zm-17 3l8 2 16-3-7-2z"/>
<path fill="#200" d="M2300 95l7 3 17-3-8-2zm-17 3l7 3 17-3-7-3zm-17 4l7 2 17-3-7-3z"/>
<path fill="#300" d="M2249 105l7 2 17-3-7-2zm-17 4l7 2 17-4-7-2zm-17 4l7 2 17-4-7-2zm-17 5l7 2 17-5-7-2z"/>
<path fill="#400" d="M2181 122l7 2 17-4-7-2z"/>
<path fill="#410" d="M2164 127l7 2 17-5-7-2zm-17 5l7 2 17-5-7-2zm-17 6l6 2 18-6-7-2z"/>
<path fill="#510" d="M2113 144l6 2 17-6-6-2z"/>
<path fill="#520" d="M2095 150l7 2 17-6-6-2zm-17 6l7 2 17-6-7-2zm-17 7l6 2 18-7-7-2zm-17 7l6 2 17-7-6-2zm-17 7l6 2 17-7-6-2z"/>
<path fill="#530" d="M2009 185l6 1 18-7-6-2z"/>
<path fill="#630" d="M1992 192l6 2 17-8-6-1z"/>
<path fill="#640" d="M1975 200l6 2 17-8-6-2z"/>
<path fill="#550" d="M1957 209l6 1 18-8-6-2zm-17 8l6 2 17-9-6-1zm-17 9l6 2 17-9-6-2z"/>
<path fill="#450" d="M1906 235l5 2 18-9-6-2zm-18 9l6 2 17-9-5-2z"/>
<path fill="#350" d="M1871 254l5 2 18-10-6-2z"/>
<path fill="#250" d="M1854 264l5 2 17-10-5-2zm-17 10l5 2 17-10-5-2zm-18 11l6 1 17-10-5-2z"/>
<path fill="#151" d="M1802 295l5 2 18-11-6-1zm-17 11l5 2 17-11-5-2z"/>
<path fill="#051" d="M1768 317l5 2 17-11-5-2z"/>
<path fill="#052" d="M1751 329l5 1 17-11-5-2zm-17 11l5 2 17-12-5-1z"/>
<path fill="#300" d="M2357 90l8 3 16-2-7-3zm-17 2l8 3 17-2-8-3z"/>
<path fill="#400" d="M2324 95l7 3 17-3-8-3z"/>
<path fill="#410" d="M2307 98l7 2 17-2-7-3zm-17 3l7 2 17-3-7-2z"/>
<path fill="#510" d="M2273 104l7 2 17-3-7-2zm-17 3l7 3 17-4-7-2zm-17 4l7 3 17-4-7-3zm-17 4l7 3 17-4-7-3z"/>
<path fill="#610" d="M2205 120l7 2 17-4-7-3zm-17 4l7 3 17-5-7-2zm-17 5l7 2 17-4-7-3zm-17 5l6 3 18-6-7-2zm-18 6l7 2 17-5-6-3zm-17 6l7 2 17-6-7-2z"/>
<path fill="#710" d="M2102 152l6 2 18-6-7-2zm-17 6l6 2 17-6-6-2z"/>
<path fill="#720" d="M2067 165l7 2 17-7-6-2zm-17 7l6 2 18-7-7-2z"/>
<path fill="#730" d="M2033 179l6 2 17-7-6-2zm-18 7l6 2 18-7-6-2z"/>
<path fill="#750" d="M1998 194l6 2 17-8-6-2zm-17 8l6 2 17-8-6-2z"/>
<path fill="#760" d="M1963 210l6 2 18-8-6-2zm-17 9l6 2 17-9-6-2z"/>
<path fill="#770" d="M1929 228l5 2 18-9-6-2z"/>
<path fill="#670" d="M1911 237l6 2 17-9-5-2z"/>
<path fill="#570" d="M1894 246l5 2 18-9-6-2zm-18 10l6 2 17-10-5-2z"/>
<path fill="#470" d="M1859 266l6 2 17-10-6-2z"/>
<path fill="#370" d="M1842 276l5 2 18-10-6-2z"/>
<path fill="#270" d="M1825 286l5 2 17-10-5-2z"/>
<path fill="#171" d="M1807 297l5 2 18-11-5-2zm-17 11l5 2 17-11-5-2zm-17 11l5 2 17-11-5-2z"/>
<path fill="#161" d="M1756 330l4 2 18-11-5-2z"/>
<path fill="#072" d="M1739 342l4 2 17-12-4-2z"/>
<path fill="#510" d="M2365 93l7 3 17-1-8-4z"/>
<path fill="#610" d="M2348 95l7 3 17-2-7-3zm-17 3l8 3 16-3-7-3zm-17 2l8 3 17-2-8-3zm-17 3l8 3 17-3-8-3z"/>
<path fill="#710" d="M2280 106l8 3 17-3-8-3zm-17 4l7 3 18-4-8-3zm-17 4l7 3 17-4-7-3zm-17 4l7 3 17-4-7-3zm-17 4l7 3 17-4-7-3zm-17 5l7 2 17-4-7-3z"/>
<path fill="#810" d="M2178 131l6 3 18-5-7-2zm-18 6l7 2 17-5-6-3zm-17 5l7 3 17-6-7-2zm-17 6l6 3 18-6-7-3z"/>
<path fill="#820" d="M2108 154l7 3 17-6-6-3zm-17 6l6 3 18-6-7-3zm-17 7l6 2 17-6-6-3z"/>
<path fill="#830" d="M2056 174l7 2 17-7-6-2z"/>
<path fill="#930" d="M2039 181l6 2 18-7-7-2z"/>
<path fill="#940" d="M2021 188l7 3 17-8-6-2zm-17 8l6 3 18-8-7-3z"/>
<path fill="#960" d="M1987 204l6 2 17-7-6-3z"/>
<path fill="#970" d="M1969 212l6 3 18-9-6-2zm-17 9l5 2 18-8-6-3z"/>
<path fill="#880" d="M1934 230l6 2 17-9-5-2z"/>
<path fill="#780" d="M1917 239l5 2 18-9-6-2zm-18 9l6 2 17-9-5-2z"/>
<path fill="#680" d="M1882 258l5 2 18-10-6-2z"/>
<path fill="#580" d="M1865 268l5 2 17-10-5-2zm-18 10l5 2 18-10-5-2z"/>
<path fill="#480" d="M1830 288l5 2 17-10-5-2z"/>
<path fill="#281" d="M1812 299l6 2 17-11-5-2z"/>
<path fill="#181" d="M1795 310l5 2 18-11-6-2zm-17 11l5 2 17-11-5-2z"/>
<path fill="#182" d="M1760 332l5 3 18-12-5-2z"/>
<path fill="#083" d="M1743 344l5 2 17-11-5-3z"/>
<path fill="#710" d="M2372 96l8 4 17-2-8-3zm-17 2l8 4 17-2-8-4zm-16 3l7 3 17-2-8-4z"/>
<path fill="#810" d="M2322 103l7 4 17-3-7-3zm-17 3l7 4 17-3-7-4zm-17 3l7 4 17-3-7-4zm-18 4l8 3 17-3-7-4zm-17 4l8 3 17-4-8-3zm-17 4l7 3 18-4-8-3z"/>
<path fill="#910" d="M2219 125l7 3 17-4-7-3zm-17 4l7 4 17-5-7-3z"/>
<path fill="#911" d="M2184 134l7 3 18-4-7-4zm-17 5l7 4 17-6-7-3zm-17 6l6 3 18-5-7-4zm-18 6l7 3 17-6-6-3zm-17 6l7 3 17-6-7-3z"/>
<path fill="#920" d="M2097 163l7 3 18-6-7-3zm-17 6l6 3 18-6-7-3z"/>
<path fill="#a30" d="M2063 176l6 3 17-7-6-3zm-18 7l6 3 18-7-6-3zm-17 8l6 3 17-8-6-3z"/>
<path fill="#a50" d="M2010 199l6 2 18-7-6-3z"/>
<path fill="#a60" d="M1993 206l6 3 17-8-6-2zm-18 9l6 3 18-9-6-3z"/>
<path fill="#a80" d="M1957 223l6 3 18-8-6-3zm-17 9l6 3 17-9-6-3z"/>
<path fill="#990" d="M1922 241l6 3 18-9-6-3z"/>
<path fill="#8a0" d="M1905 250l6 3 17-9-6-3zm-18 10l6 3 18-10-6-3z"/>
<path fill="#790" d="M1870 270l5 3 18-10-6-3z"/>
<path fill="#590" d="M1852 280l6 3 17-10-5-3z"/>
<path fill="#490" d="M1835 290l5 3 18-10-6-3z"/>
<path fill="#391" d="M1818 301l5 3 17-11-5-3z"/>
<path fill="#291" d="M1800 312l5 3 18-11-5-3zm-17 11l5 3 17-11-5-3z"/>
<path fill="#191" d="M1765 335l5 2 18-11-5-3z"/>
<path fill="#192" d="M1748 346l5 3 17-12-5-2z"/>
<path fill="#810" d="M2380 100l8 4 16-2-7-4z"/>
<path fill="#910" d="M2363 102l8 4 17-2-8-4zm-17 2l8 4 17-2-8-4zm-17 3l8 4 17-3-8-4zm-17 3l7 4 18-3-8-4z"/>
<path fill="#911" d="M2295 113l7 4 17-3-7-4zm-17 3l7 4 17-3-7-4zm-17 4l7 4 17-4-7-4z"/>
<path fill="#a11" d="M2243 124l7 4 18-4-7-4zm-17 4l7 4 17-4-7-4zm-17 5l7 3 17-4-7-4zm-18 4l7 4 18-5-7-3zm-17 6l7 3 17-5-7-4zm-18 5l7 4 18-6-7-3zm-17 6l7 3 17-5-7-4zm-17 6l6 3 18-6-7-3zm-18 6l7 3 17-6-6-3z"/>
<path fill="#a20" d="M2086 172l7 4 18-7-7-3z"/>
<path fill="#b20" d="M2069 179l6 4 18-7-7-4z"/>
<path fill="#b30" d="M2051 186l7 4 17-7-6-4zm-17 8l6 3 18-7-7-4z"/>
<path fill="#b50" d="M2016 201l6 4 18-8-6-3zm-17 8l6 4 17-8-6-4z"/>
<path fill="#b70" d="M1981 218l6 3 18-8-6-4zm-18 8l6 3 18-8-6-3z"/>
<path fill="#b90" d="M1946 235l6 3 17-9-6-3z"/>
<path fill="#aa0" d="M1928 244l6 3 18-9-6-3zm-17 9l5 4 18-10-6-3z"/>
<path fill="#9a0" d="M1893 263l6 3 17-9-5-4z"/>
<path fill="#8a0" d="M1875 273l6 3 18-10-6-3z"/>
<path fill="#6a0" d="M1858 283l5 3 18-10-6-3zm-18 10l6 3 17-10-5-3z"/>
<path fill="#4a0" d="M1823 304l5 3 18-11-6-3z"/>
<path fill="#3a1" d="M1805 315l6 3 17-11-5-3z"/>
<path fill="#2a1" d="M1788 326l5 3 18-11-6-3z"/>
<path fill="#1a1" d="M1770 337l5 4 18-12-5-3z"/>
<path fill="#1a2" d="M1753 349l5 3 17-11-5-4z"/>
<path fill="#911" d="M2388 104l7 5 17-2-8-5z"/>
<path fill="#a11" d="M2371 106l7 5 17-2-7-5zm-17 2l7 5 17-2-7-5zm-17 3l7 4 17-2-7-5zm-18 3l8 4 17-3-7-4zm-17 3l8 4 17-3-8-4zm-17 3l7 4 18-3-8-4zm-17 4l7 4 17-4-7-4z"/>
<path fill="#b11" d="M2250 128l8 4 17-4-7-4zm-17 4l7 4 18-4-8-4zm-17 4l7 4 17-4-7-4zm-18 5l7 4 18-5-7-4zm-17 5l7 4 17-5-7-4zm-18 6l7 4 18-6-7-4zm-17 5l7 4 17-5-7-4zm-18 6l7 4 18-6-7-4zm-17 6l6 4 18-6-7-4zm-18 7l7 4 17-7-6-4z"/>
<path fill="#b20" d="M2075 183l7 4 18-7-7-4zm-17 7l6 4 18-7-7-4z"/>
<path fill="#c40" d="M2040 197l6 4 18-7-6-4zm-18 8l7 4 17-8-6-4z"/>
<path fill="#c60" d="M2005 213l6 4 18-8-7-4zm-18 8l6 4 18-8-6-4z"/>
<path fill="#c70" d="M1969 229l6 4 18-8-6-4z"/>
<path fill="#c90" d="M1952 238l6 4 17-9-6-4zm-18 9l6 4 18-9-6-4z"/>
<path fill="#ba0" d="M1916 257l6 3 18-9-6-4z"/>
<path fill="#ab0" d="M1899 266l5 4 18-10-6-3zm-18 10l6 4 17-10-5-4z"/>
<path fill="#8b0" d="M1863 286l6 4 18-10-6-4z"/>
<path fill="#6b0" d="M1846 296l5 4 18-10-6-4z"/>
<path fill="#5b0" d="M1828 307l6 4 17-11-5-4z"/>
<path fill="#3b1" d="M1811 318l5 4 18-11-6-4z"/>
<path fill="#2a1" d="M1793 329l5 4 18-11-5-4zm-18 12l6 3 17-11-5-4z"/>
<path fill="#1a2" d="M1758 352l5 4 18-12-6-3z"/>
<path fill="#a11" d="M2395 109l8 5 17-2-8-5z"/>
<path fill="#b11" d="M2378 111l8 4 17-1-8-5zm-17 2l8 5 17-3-8-4zm-17 2l8 5 17-2-8-5zm-17 3l7 5 18-3-8-5zm-17 3l7 5 17-3-7-5zm-18 3l8 5 17-3-7-5zm-17 4l7 5 18-4-8-5zm-17 4l7 4 17-3-7-5zm-18 4l8 5 17-5-7-4z"/>
<path fill="#c11" d="M2223 140l7 5 18-4-8-5zm-18 5l7 5 18-5-7-5zm-17 5l7 5 17-5-7-5zm-18 6l7 4 18-5-7-5zm-17 5l6 5 18-6-7-4zm-18 6l7 5 17-6-6-5z"/>
<path fill="#c21" d="M2117 173l7 5 18-6-7-5zm-17 7l6 4 18-6-7-5zm-18 7l7 4 17-7-6-4zm-18 7l7 4 18-7-7-4zm-18 7l7 4 18-7-7-4z"/>
<path fill="#c40" d="M2029 209l6 4 18-8-7-4z"/>
<path fill="#d60" d="M2011 217l6 4 18-8-6-4zm-18 8l6 4 18-8-6-4z"/>
<path fill="#d80" d="M1975 233l7 4 17-8-6-4zm-17 9l6 4 18-9-7-4z"/>
<path fill="#da0" d="M1940 251l6 4 18-9-6-4z"/>
<path fill="#cb0" d="M1922 260l6 4 18-9-6-4zm-18 10l6 4 18-10-6-4z"/>
<path fill="#ac0" d="M1887 280l5 4 18-10-6-4z"/>
<path fill="#9c0" d="M1869 290l6 4 17-10-5-4z"/>
<path fill="#7c0" d="M1851 300l6 4 18-10-6-4zm-17 11l5 4 18-11-6-4z"/>
<path fill="#5b0" d="M1816 322l5 4 18-11-5-4z"/>
<path fill="#3b1" d="M1798 333l6 4 17-11-5-4z"/>
<path fill="#2b1" d="M1781 344l5 4 18-11-6-4z"/>
<path fill="#2b2" d="M1763 356l5 4 18-12-5-4z"/>
<path fill="#b11" d="M2403 114l8 5 17-1-8-6zm-17 1l8 6 17-2-8-5zm-17 3l8 5 17-2-8-6z"/>
<path fill="#c11" d="M2352 120l7 5 18-2-8-5zm-18 3l8 5 17-3-7-5zm-17 3l8 5 17-3-8-5zm-17 3l7 5 18-3-8-5zm-18 4l8 5 17-4-7-5zm-17 3l7 6 18-4-8-5zm-17 5l7 5 17-4-7-6zm-18 4l7 5 18-4-7-5zm-18 5l8 5 17-5-7-5zm-17 5l7 5 18-5-8-5z"/>
<path fill="#c21" d="M2177 160l7 5 18-5-7-5zm-18 6l7 5 18-6-7-5zm-17 6l7 4 17-5-7-5z"/>
<path fill="#d21" d="M2124 178l7 5 18-7-7-4zm-18 6l7 5 18-6-7-5zm-17 7l6 5 18-7-7-5zm-18 7l6 5 18-7-6-5z"/>
<path fill="#d31" d="M2053 205l6 5 18-7-6-5z"/>
<path fill="#d40" d="M2035 213l7 5 17-8-6-5zm-18 8l7 4 18-7-7-5z"/>
<path fill="#d60" d="M1999 229l7 5 18-9-7-4zm-17 8l6 5 18-8-7-5z"/>
<path fill="#d80" d="M1964 246l6 5 18-9-6-5z"/>
<path fill="#da0" d="M1946 255l6 5 18-9-6-5zm-18 9l6 5 18-9-6-5z"/>
<path fill="#cc0" d="M1910 274l6 4 18-9-6-5z"/>
<path fill="#bc0" d="M1892 284l6 4 18-10-6-4zm-17 10l5 4 18-10-6-4z"/>
<path fill="#9c0" d="M1857 304l5 5 18-11-5-4z"/>
<path fill="#7c0" d="M1839 315l6 4 17-10-5-5z"/>
<path fill="#5c0" d="M1821 326l6 4 18-11-6-4z"/>
<path fill="#3c1" d="M1804 337l5 4 18-11-6-4z"/>
<path fill="#2c1" d="M1786 348l5 5 18-12-5-4z"/>
<path fill="#2c2" d="M1768 360l5 4 18-11-5-5z"/>
<path fill="#c11" d="M2411 119l8 6 17-2-8-5zm-17 2l8 6 17-2-8-6zm-17 2l7 6 18-2-8-6zm-18 2l8 6 17-2-7-6zm-17 3l8 6 17-3-8-6zm-17 3l7 6 18-3-8-6z"/>
<path fill="#d11" d="M2307 134l8 6 17-3-7-6zm-17 4l7 5 18-3-8-6zm-18 4l8 5 17-4-7-5zm-17 4l7 5 18-4-8-5zm-18 4l7 6 18-5-7-5zm-17 5l7 5 17-4-7-6zm-18 5l7 5 18-5-7-5zm-18 5l7 5 18-5-7-5z"/>
<path fill="#d21" d="M2166 171l7 5 18-6-7-5zm-17 5l7 6 17-6-7-5zm-18 7l7 5 18-6-7-6zm-18 6l7 5 18-6-7-5zm-18 7l7 5 18-7-7-5z"/>
<path fill="#d31" d="M2077 203l7 5 18-7-7-5zm-18 7l7 5 18-7-7-5z"/>
<path fill="#e40" d="M2042 218l6 5 18-8-7-5zm-18 7l6 5 18-7-6-5z"/>
<path fill="#e70" d="M2006 234l6 5 18-9-6-5z"/>
<path fill="#e60" d="M1988 242l6 5 18-8-6-5z"/>
<path fill="#e90" d="M1970 251l6 5 18-9-6-5zm-18 9l6 5 18-9-6-5z"/>
<path fill="#eb0" d="M1934 269l6 5 18-9-6-5z"/>
<path fill="#dc0" d="M1916 278l6 5 18-9-6-5zm-18 10l6 5 18-10-6-5z"/>
<path fill="#bd0" d="M1880 298l6 5 18-10-6-5z"/>
<path fill="#9d0" d="M1862 309l6 5 18-11-6-5z"/>
<path fill="#7d0" d="M1845 319l5 5 18-10-6-5z"/>
<path fill="#5d0" d="M1827 330l5 5 18-11-5-5z"/>
<path fill="#4c1" d="M1809 341l5 5 18-11-5-5zm-18 12l6 5 17-12-5-5z"/>
<path fill="#2c1" d="M1773 364l6 5 18-11-6-5z"/>
<path fill="#d11" d="M2419 125l8 6 17-1-8-7zm-17 2l7 6 18-2-8-6zm-18 2l8 6 17-2-7-6zm-17 2l8 6 17-2-8-6zm-17 3l7 6 18-3-8-6zm-18 3l8 6 17-3-7-6zm-17 3l7 6 18-3-8-6zm-18 3l8 6 17-3-7-6zm-17 4l7 6 18-4-8-6zm-18 4l8 6 17-4-7-6z"/>
<path fill="#d21" d="M2244 156l8 5 18-4-8-6zm-17 4l7 6 18-5-8-5zm-18 5l7 6 18-5-7-6zm-18 5l7 6 18-5-7-6z"/>
<path fill="#e21" d="M2173 176l8 6 17-6-7-6zm-17 6l7 5 18-5-8-6zm-18 6l7 6 18-7-7-5zm-18 6l7 6 18-6-7-6zm-18 7l7 6 18-7-7-6zm-18 7l7 5 18-6-7-6z"/>
<path fill="#e31" d="M2066 215l7 6 18-8-7-5zm-18 8l7 5 18-7-7-6z"/>
<path fill="#e50" d="M2030 230l7 6 18-8-7-5zm-18 9l6 5 19-8-7-6z"/>
<path fill="#e70" d="M1994 247l6 6 18-9-6-5z"/>
<path fill="#e90" d="M1976 256l6 5 18-8-6-6zm-18 9l6 5 18-9-6-5z"/>
<path fill="#eb0" d="M1940 274l6 5 18-9-6-5z"/>
<path fill="#dc0" d="M1922 283l6 6 18-10-6-5zm-18 10l6 6 18-10-6-6z"/>
<path fill="#cd0" d="M1886 303l6 6 18-10-6-6z"/>
<path fill="#ad0" d="M1868 314l6 5 18-10-6-6z"/>
<path fill="#8d0" d="M1850 324l6 6 18-11-6-5zm-18 11l6 5 18-10-6-6z"/>
<path fill="#6d0" d="M1814 346l6 6 18-12-6-5z"/>
<path fill="#4d1" d="M1797 358l5 5 18-11-6-6z"/>
<path fill="#2c1" d="M1779 369l5 6 18-12-5-5z"/>
<path fill="#d11" d="M2427 131l8 7 17-1-8-7zm-18 2l8 7 18-2-8-7zm-17 2l8 7 17-2-8-7zm-17 2l8 7 17-2-8-7zm-18 3l8 7 18-3-8-7zm-17 3l8 6 17-2-8-7zm-18 3l8 6 18-3-8-6zm-17 3l7 7 18-4-8-6zm-18 4l8 7 17-4-7-7zm-17 4l7 7 18-4-8-7z"/>
<path fill="#d21" d="M2252 161l7 7 18-4-7-7zm-18 5l7 6 18-4-7-7zm-18 5l8 6 17-5-7-6zm-18 5l8 6 18-5-8-6zm-17 6l7 6 18-6-8-6z"/>
<path fill="#e21" d="M2163 187l7 7 18-6-7-6zm-18 7l7 6 18-6-7-7zm-18 6l7 6 18-6-7-6zm-18 7l7 6 18-7-7-6zm-18 6l6 7 19-7-7-6z"/>
<path fill="#e31" d="M2073 221l6 6 18-7-6-7zm-18 7l6 6 18-7-6-6z"/>
<path fill="#e50" d="M2037 236l6 6 18-8-6-6zm-19 8l7 6 18-8-6-6z"/>
<path fill="#e70" d="M2000 253l7 5 18-8-7-6zm-18 8l7 6 18-9-7-5z"/>
<path fill="#e90" d="M1964 270l6 6 19-9-7-6z"/>
<path fill="#eb0" d="M1946 279l6 6 18-9-6-6zm-18 10l6 6 18-10-6-6z"/>
<path fill="#dc0" d="M1910 299l6 6 18-10-6-6z"/>
<path fill="#ce0" d="M1892 309l6 6 18-10-6-6z"/>
<path fill="#ad0" d="M1874 319l6 6 18-10-6-6zm-18 11l6 5 18-10-6-6z"/>
<path fill="#8d0" d="M1838 340l6 6 18-11-6-5z"/>
<path fill="#6d0" d="M1820 352l6 5 18-11-6-6z"/>
<path fill="#4d1" d="M1802 363l6 6 18-12-6-5z"/>
<path fill="#2d1" d="M1784 375l6 6 18-12-6-6z"/>
<path fill="#d11" d="M2435 138l8 7 17-1-8-7zm-18 2l8 7 18-2-8-7zm-17 2l8 7 17-2-8-7zm-17 2l7 7 18-2-8-7zm-18 3l8 7 17-3-7-7zm-17 2l7 7 18-2-8-7zm-18 3l8 8 17-4-7-7zm-18 4l8 7 18-3-8-8zm-17 4l7 7 18-4-8-7zm-18 4l7 6 18-3-7-7z"/>
<path fill="#d21" d="M2259 168l8 7 17-5-7-6zm-18 4l8 7 18-4-8-7zm-17 5l7 7 18-5-8-7zm-18 5l7 7 18-5-7-7zm-18 6l7 7 18-6-7-7z"/>
<path fill="#e21" d="M2170 194l7 6 18-5-7-7zm-18 6l7 6 18-6-7-6zm-18 6l7 7 18-7-7-6zm-18 7l6 6 19-6-7-7zm-19 7l7 6 18-7-6-6z"/>
<path fill="#e31" d="M2079 227l7 6 18-7-7-6zm-18 7l7 7 18-8-7-6z"/>
<path fill="#e50" d="M2043 242l7 7 18-8-7-7zm-18 8l7 7 18-8-7-7z"/>
<path fill="#e70" d="M2007 258l6 7 19-8-7-7zm-18 9l6 7 18-9-6-7z"/>
<path fill="#e90" d="M1970 276l7 6 18-8-6-7z"/>
<path fill="#eb0" d="M1952 285l7 7 18-10-7-6zm-18 10l6 6 19-9-7-7z"/>
<path fill="#dc0" d="M1916 305l6 6 18-10-6-6z"/>
<path fill="#ce0" d="M1898 315l6 6 18-10-6-6zm-18 10l6 6 18-10-6-6z"/>
<path fill="#ad0" d="M1862 335l6 7 18-11-6-6z"/>
<path fill="#8d0" d="M1844 346l5 7 19-11-6-7z"/>
<path fill="#6d0" d="M1826 357l5 7 18-11-5-7z"/>
<path fill="#4d1" d="M1808 369l5 6 18-11-5-7z"/>
<path fill="#2d1" d="M1790 381l5 6 18-12-5-6z"/>
<path fill="#d11" d="M2443 145l8 8 17-1-8-8zm-18 2l8 8 18-2-8-8zm-17 2l8 8 17-2-8-8zm-18 2l8 8 18-2-8-8zm-17 3l8 7 17-2-8-8zm-18 2l8 8 18-3-8-7zm-17 4l7 7 18-3-8-8zm-18 3l8 7 17-3-7-7zm-18 4l8 7 18-4-8-7zm-18 3l8 8 18-4-8-7z"/>
<path fill="#d21" d="M2267 175l7 7 18-4-8-8zm-18 4l7 8 18-5-7-7zm-18 5l7 7 18-4-7-8zm-18 5l7 7 18-5-7-7zm-18 6l7 7 18-6-7-7z"/>
<path fill="#e21" d="M2177 200l7 8 18-6-7-7zm-18 6l7 8 18-6-7-8zm-18 7l7 7 18-6-7-8zm-19 6l7 7 19-6-7-7zm-18 7l7 7 18-7-7-7z"/>
<path fill="#e31" d="M2086 233l7 7 18-7-7-7zm-18 8l7 7 18-8-7-7z"/>
<path fill="#e50" d="M2050 249l6 7 19-8-7-7zm-18 8l6 7 18-8-6-7z"/>
<path fill="#e70" d="M2013 265l7 7 18-8-6-7zm-18 9l7 6 18-8-7-7z"/>
<path fill="#e90" d="M1977 282l6 7 19-9-7-6zm-18 10l6 6 18-9-6-7z"/>
<path fill="#eb0" d="M1940 301l7 7 18-10-6-6z"/>
<path fill="#dc0" d="M1922 311l6 7 19-10-7-7z"/>
<path fill="#ce0" d="M1904 321l6 7 18-10-6-7zm-18 10l6 7 18-10-6-7z"/>
<path fill="#ad0" d="M1868 342l5 6 19-10-6-7z"/>
<path fill="#8d0" d="M1849 353l6 6 18-11-5-6z"/>
<path fill="#6d0" d="M1831 364l6 6 18-11-6-6z"/>
<path fill="#4d1" d="M1813 375l6 7 18-12-6-6zm-18 12l6 6 18-11-6-7z"/>
<path fill="#d11" d="M2451 153l8 8 17-1-8-8zm-18 2l8 8 18-2-8-8zm-17 2l8 8 17-2-8-8zm-18 2l8 8 18-2-8-8zm-17 2l8 8 17-2-8-8zm-18 3l8 8 18-3-8-8zm-18 3l8 8 18-3-8-8zm-17 3l7 8 18-3-8-8zm-18 4l8 8 17-4-7-8zm-18 4l8 8 18-4-8-8z"/>
<path fill="#d21" d="M2274 182l8 8 18-4-8-8zm-18 5l8 7 18-4-8-8zm-18 4l8 8 18-5-8-7zm-18 5l8 8 18-5-8-8zm-18 6l7 8 19-6-8-8z"/>
<path fill="#e21" d="M2184 208l7 7 18-5-7-8zm-18 6l7 7 18-6-7-7zm-18 6l7 7 18-6-7-7zm-19 6l7 8 19-7-7-7zm-18 7l7 8 18-7-7-8z"/>
<path fill="#e31" d="M2093 240l7 8 18-7-7-8zm-18 8l7 7 18-7-7-8z"/>
<path fill="#e50" d="M2056 256l7 7 19-8-7-7zm-18 8l7 7 18-8-7-7z"/>
<path fill="#e70" d="M2020 272l6 7 19-8-7-7zm-18 8l6 8 18-9-6-7z"/>
<path fill="#e90" d="M1983 289l7 8 18-9-6-8zm-18 9l6 8 19-9-7-8z"/>
<path fill="#eb0" d="M1947 308l6 7 18-9-6-8z"/>
<path fill="#dc0" d="M1928 318l7 7 18-10-6-7zm-18 10l6 7 19-10-7-7z"/>
<path fill="#ce0" d="M1892 338l6 7 18-10-6-7z"/>
<path fill="#ad0" d="M1873 348l6 8 19-11-6-7z"/>
<path fill="#8d0" d="M1855 359l6 8 18-11-6-8z"/>
<path fill="#6d0" d="M1837 370l6 8 18-11-6-8z"/>
<path fill="#4d1" d="M1819 382l6 7 18-11-6-8zm-18 11l5 8 19-12-6-7z"/>
<path fill="#d21" d="M2459 161l8 9 17-1-8-9zm-18 2l8 9 18-2-8-9z"/>
<path fill="#d11" d="M2424 165l8 8 17-1-8-9zm-18 2l8 8 18-2-8-8zm-17 2l8 9 17-3-8-8zm-18 3l8 8 18-2-8-9zm-18 3l8 8 18-3-8-8zm-18 3l8 9 18-4-8-8zm-17 4l7 8 18-3-8-9z"/>
<path fill="#d21" d="M2300 186l7 8 18-4-7-8zm-18 4l7 8 18-4-7-8zm-18 4l7 9 18-5-7-8zm-18 5l7 8 18-4-7-9zm-18 5l7 8 18-5-7-8z"/>
<path fill="#e21" d="M2209 210l8 8 18-6-7-8zm-18 5l7 8 19-5-8-8zm-18 6l7 8 18-6-7-8zm-18 6l7 8 18-6-7-8zm-19 7l8 8 18-7-7-8zm-18 7l7 8 19-7-8-8z"/>
<path fill="#e31" d="M2100 248l7 8 18-7-7-8zm-18 7l6 8 19-7-7-8z"/>
<path fill="#e50" d="M2063 263l7 8 18-8-6-8zm-18 8l7 8 18-8-7-8z"/>
<path fill="#e70" d="M2026 279l7 8 19-8-7-8zm-18 9l7 8 18-9-7-8z"/>
<path fill="#e90" d="M1990 297l6 7 19-8-7-8zm-19 9l7 8 18-10-6-7z"/>
<path fill="#eb0" d="M1953 315l6 8 19-9-7-8z"/>
<path fill="#dc0" d="M1935 325l6 8 18-10-6-8zm-19 10l6 8 19-10-6-8z"/>
<path fill="#ce0" d="M1898 345l6 8 18-10-6-8z"/>
<path fill="#ad0" d="M1879 356l7 7 18-10-6-8z"/>
<path fill="#8d0" d="M1861 367l6 7 19-11-7-7z"/>
<path fill="#6d0" d="M1843 378l6 7 18-11-6-7zm-18 11l5 8 19-12-6-7z"/>
<path fill="#4d1" d="M1806 401l6 7 18-11-5-8z"/>
<path fill="#d21" d="M2467 170l8 9 17-1-8-9zm-18 2l8 9 18-2-8-9zm-17 1l8 9 17-1-8-9zm-18 2l8 9 18-2-8-9zm-17 3l7 9 18-3-8-9zm-18 2l8 9 17-2-7-9zm-18 3l8 9 18-3-8-9zm-18 4l8 9 18-4-8-9zm-18 3l8 9 18-3-8-9zm-18 4l8 9 18-4-8-9zm-18 4l8 9 18-4-8-9zm-18 5l8 8 18-4-8-9zm-18 4l8 9 18-5-8-8zm-18 5l7 9 19-5-8-9z"/>
<path fill="#e21" d="M2217 218l7 8 18-5-7-9zm-19 5l8 9 18-6-7-8zm-18 6l7 9 19-6-8-9zm-18 6l7 9 18-6-7-9zm-18 7l7 8 18-6-7-9zm-19 7l7 8 19-7-7-8z"/>
<path fill="#e31" d="M2107 256l7 8 18-7-7-8zm-19 7l7 9 19-8-7-8z"/>
<path fill="#e50" d="M2070 271l7 8 18-7-7-9zm-18 8l6 8 19-8-7-8z"/>
<path fill="#e70" d="M2033 287l7 8 18-8-6-8zm-18 9l6 8 19-9-7-8z"/>
<path fill="#e90" d="M1996 304l7 9 18-9-6-8zm-18 10l6 8 19-9-7-9z"/>
<path fill="#eb0" d="M1959 323l7 8 18-9-6-8z"/>
<path fill="#dc0" d="M1941 333l6 8 19-10-7-8zm-19 10l7 8 18-10-6-8z"/>
<path fill="#ce0" d="M1904 353l6 8 19-10-7-8z"/>
<path fill="#ad0" d="M1886 363l6 9 18-11-6-8z"/>
<path fill="#8d0" d="M1867 374l6 8 19-10-6-9z"/>
<path fill="#6d0" d="M1849 385l6 8 18-11-6-8zm-19 12l6 8 19-12-6-8z"/>
<path fill="#4d1" d="M1812 408l6 8 18-11-6-8z"/>
<path fill="#d21" d="M2475 179l8 10 17-1-8-10zm-18 2l8 9 18-1-8-10zm-17 1l8 10 17-2-8-9zm-18 2l8 10 18-2-8-10zm-18 3l8 9 18-2-8-10zm-17 2l8 10 17-3-8-9zm-18 3l8 10 18-3-8-10zm-18 4l8 9 18-3-8-10zm-18 3l8 9 18-3-8-9zm-18 4l8 9 18-4-8-9zm-18 4l8 9 18-4-8-9zm-18 4l7 10 19-5-8-9zm-18 5l7 9 18-4-7-10z"/>
<path fill="#e21" d="M2242 221l8 9 18-5-7-9zm-18 5l8 9 18-5-8-9zm-18 6l7 9 19-6-8-9zm-19 6l8 9 18-6-7-9zm-18 6l7 9 19-6-8-9zm-18 6l7 9 18-6-7-9zm-19 7l7 9 19-7-7-9z"/>
<path fill="#e31" d="M2114 264l7 9 18-7-7-9zm-19 8l7 8 19-7-7-9z"/>
<path fill="#e50" d="M2077 279l7 9 18-8-7-8zm-19 8l7 9 19-8-7-9z"/>
<path fill="#e70" d="M2040 295l7 9 18-8-7-9zm-19 9l7 9 19-9-7-9z"/>
<path fill="#e90" d="M2003 313l6 8 19-8-7-9z"/>
<path fill="#eb0" d="M1984 322l7 9 18-10-6-8zm-18 9l6 9 19-9-7-9z"/>
<path fill="#dc0" d="M1947 341l7 9 18-10-6-9z"/>
<path fill="#ce0" d="M1929 351l6 8 19-9-7-9zm-19 10l6 9 19-11-6-8z"/>
<path fill="#ad0" d="M1892 372l6 8 18-10-6-9z"/>
<path fill="#8d0" d="M1873 382l6 9 19-11-6-8z"/>
<path fill="#6d0" d="M1855 393l6 9 18-11-6-9zm-19 12l6 8 19-11-6-9z"/>
<path fill="#4d1" d="M1818 416l6 9 18-12-6-8z"/>
<path fill="#d21" d="M2483 189l8 10 18-1-9-10zm-18 1l9 10 17-1-8-10zm-17 2l8 10 18-2-9-10zm-18 2l8 10 18-2-8-10zm-18 2l8 10 18-2-8-10zm-17 3l8 10 17-3-8-10zm-18 3l8 10 18-3-8-10zm-18 3l8 10 18-3-8-10zm-18 3l8 10 18-3-8-10zm-18 4l7 10 19-4-8-10zm-18 4l7 10 18-4-7-10zm-19 5l8 9 18-4-7-10z"/>
<path fill="#e21" d="M2268 225l8 10 18-5-8-9zm-18 5l7 10 19-5-8-10zm-18 5l7 10 18-5-7-10zm-19 6l8 9 18-5-7-10zm-18 6l7 9 19-6-8-9zm-19 6l8 9 18-6-7-9zm-18 6l7 10 19-7-8-9z"/>
<path fill="#e31" d="M2139 266l8 10 18-7-7-10zm-18 7l7 10 19-7-8-10zm-19 7l7 10 19-7-7-10z"/>
<path fill="#e50" d="M2084 288l7 9 18-7-7-10zm-19 8l7 9 19-8-7-9z"/>
<path fill="#e70" d="M2047 304l6 9 19-8-7-9zm-19 9l7 9 18-9-6-9z"/>
<path fill="#e90" d="M2009 321l7 10 19-9-7-9z"/>
<path fill="#eb0" d="M1991 331l6 9 19-9-7-10zm-19 9l7 9 18-9-6-9z"/>
<path fill="#dc0" d="M1954 350l6 9 19-10-7-9z"/>
<path fill="#ce0" d="M1935 359l6 10 19-10-6-9zm-19 11l7 9 18-10-6-10z"/>
<path fill="#ad0" d="M1898 380l6 9 19-10-7-9z"/>
<path fill="#8d0" d="M1879 391l7 9 18-11-6-9z"/>
<path fill="#6d0" d="M1861 402l6 9 19-11-7-9z"/>
<path fill="#4d1" d="M1842 413l6 9 19-11-6-9zm-18 12l6 9 18-12-6-9z"/>
<path fill="#e21" d="M2491 199l8 11 18-1-8-11zm-17 1l8 11 17-1-8-11zm-18 2l8 11 18-2-8-11z"/>
<path fill="#d21" d="M2438 204l8 10 18-1-8-11zm-18 2l8 11 18-3-8-10zm-17 3l8 10 17-2-8-11zm-18 3l8 10 18-3-8-10zm-18 3l8 10 18-3-8-10zm-18 3l7 10 19-3-8-10zm-19 4l8 10 18-4-7-10z"/>
<path fill="#e21" d="M2312 226l8 10 18-4-8-10zm-18 4l8 10 18-4-8-10zm-18 5l7 10 19-5-8-10zm-19 5l8 10 18-5-7-10zm-18 5l8 10 18-5-8-10zm-18 5l7 11 19-6-8-10zm-19 6l8 10 18-5-7-11zm-18 6l7 10 19-6-8-10zm-19 7l7 10 19-7-7-10z"/>
<path fill="#e31" d="M2147 276l7 9 18-6-7-10zm-19 7l7 9 19-7-7-9z"/>
<path fill="#e50" d="M2109 290l7 10 19-8-7-9zm-18 7l7 10 18-7-7-10z"/>
<path fill="#e70" d="M2072 305l7 10 19-8-7-10zm-19 8l7 10 19-8-7-10z"/>
<path fill="#e90" d="M2035 322l7 10 18-9-7-10zm-19 9l7 9 19-8-7-10z"/>
<path fill="#eb0" d="M1997 340l7 9 19-9-7-9zm-18 9l6 10 19-10-7-9z"/>
<path fill="#dc0" d="M1960 359l7 9 18-9-6-10z"/>
<path fill="#ce0" d="M1941 369l7 9 19-10-7-9z"/>
<path fill="#ad0" d="M1923 379l6 9 19-10-7-9zm-19 10l7 10 18-11-6-9z"/>
<path fill="#8d0" d="M1886 400l6 10 19-11-7-10z"/>
<path fill="#6d0" d="M1867 411l6 10 19-11-6-10z"/>
<path fill="#4d1" d="M1848 422l7 10 18-11-6-10z"/>
<path fill="#2d1" d="M1830 434l6 9 19-11-7-10z"/>
<path fill="#e21" d="M2499 210l9 11 17-1-8-11zm-17 1l8 11 18-1-9-11zm-18 2l8 11 18-2-8-11zm-18 1l8 11 18-1-8-11zm-18 3l9 11 17-3-8-11zm-17 2l8 11 18-2-9-11zm-18 3l8 11 18-3-8-11zm-18 3l7 11 19-3-8-11zm-19 3l8 11 18-3-7-11zm-18 4l8 11 18-4-8-11zm-18 4l8 11 18-4-8-11zm-18 4l7 11 19-4-8-11zm-19 5l8 11 18-5-7-11zm-18 5l8 10 18-4-8-11zm-18 5l7 11 19-6-8-10zm-19 6l8 10 18-5-7-11zm-18 5l7 11 19-6-8-10zm-19 6l7 11 19-6-7-11z"/>
<path fill="#e31" d="M2172 279l8 10 18-6-7-11zm-18 6l7 11 19-7-8-10z"/>
<path fill="#e50" d="M2135 292l7 11 19-7-7-11zm-19 8l8 10 18-7-7-11zm-18 7l7 11 19-8-8-10z"/>
<path fill="#e70" d="M2079 315l7 10 19-7-7-11zm-19 8l7 10 19-8-7-10z"/>
<path fill="#e90" d="M2042 332l7 10 18-9-7-10zm-19 8l7 11 19-9-7-10z"/>
<path fill="#eb0" d="M2004 349l7 11 19-9-7-11z"/>
<path fill="#dc0" d="M1985 359l7 10 19-9-7-11zm-18 9l6 10 19-9-7-10z"/>
<path fill="#ce0" d="M1948 378l7 10 18-10-6-10z"/>
<path fill="#ad0" d="M1929 388l7 10 19-10-7-10zm-18 11l6 10 19-11-7-10z"/>
<path fill="#8d0" d="M1892 410l6 10 19-11-6-10z"/>
<path fill="#6d0" d="M1873 421l6 10 19-11-6-10z"/>
<path fill="#4d1" d="M1855 432l6 10 18-11-6-10z"/>
<path fill="#2d1" d="M1836 443l6 10 19-11-6-10z"/>
<path fill="#e21" d="M2508 221l8 11 17-1-8-11zm-18 1l8 11 18-1-8-11zm-18 2l8 11 18-2-8-11zm-18 1l9 12 17-2-8-11zm-17 3l8 11 18-2-9-12zm-18 2l8 11 18-2-8-11zm-18 3l8 11 18-3-8-11zm-19 3l8 11 19-3-8-11zm-18 3l8 12 18-4-8-11zm-18 4l8 11 18-3-8-12zm-18 4l8 11 18-4-8-11zm-19 4l8 11 19-4-8-11zm-18 5l8 11 18-5-8-11zm-18 4l7 12 19-5-8-11zm-19 6l8 11 18-5-7-12zm-18 5l7 11 19-5-8-11zm-19 6l8 11 18-6-7-11z"/>
<path fill="#e31" d="M2198 283l8 11 19-6-8-11zm-18 6l7 11 19-6-8-11zm-19 7l7 11 19-7-7-11z"/>
<path fill="#e50" d="M2142 303l8 11 18-7-7-11zm-18 7l7 11 19-7-8-11z"/>
<path fill="#e70" d="M2105 318l7 10 19-7-7-11zm-19 7l7 11 19-8-7-10z"/>
<path fill="#e90" d="M2067 333l7 11 19-8-7-11zm-18 9l7 11 18-9-7-11z"/>
<path fill="#eb0" d="M2030 351l7 10 19-8-7-11zm-19 9l7 10 19-9-7-10z"/>
<path fill="#dc0" d="M1992 369l7 11 19-10-7-10z"/>
<path fill="#ce0" d="M1973 378l7 11 19-9-7-11zm-18 10l6 11 19-10-7-11z"/>
<path fill="#ad0" d="M1936 398l6 11 19-10-6-11z"/>
<path fill="#8d0" d="M1917 409l6 10 19-10-6-11zm-19 11l7 10 18-11-6-10z"/>
<path fill="#6d0" d="M1879 431l7 10 19-11-7-10z"/>
<path fill="#4d1" d="M1861 442l6 10 19-11-7-10z"/>
<path fill="#2d1" d="M1842 453l6 11 19-12-6-10z"/>
<path fill="#e21" d="M2516 232l8 12 18-1-9-12zm-18 1l8 12 18-1-8-12zm-18 2l9 12 17-2-8-12zm-17 2l8 12 18-2-9-12zm-18 2l8 12 18-2-8-12zm-18 2l8 12 18-2-8-12zm-18 3l8 12 18-3-8-12zm-19 3l8 12 19-3-8-12zm-18 4l8 11 18-3-8-12zm-18 3l8 12 18-4-8-11zm-18 4l7 12 19-4-8-12zm-19 4l8 12 18-4-7-12zm-18 5l8 11 18-4-8-12zm-19 5l8 11 19-5-8-11zm-18 5l7 11 19-5-8-11z"/>
<path fill="#e31" d="M2243 282l8 12 18-6-7-11zm-18 6l7 11 19-5-8-12zm-19 6l7 11 19-6-7-11zm-19 6l8 12 18-7-7-11z"/>
<path fill="#e50" d="M2168 307l8 11 19-6-8-12zm-18 7l7 11 19-7-8-11z"/>
<path fill="#e70" d="M2131 321l7 11 19-7-7-11zm-19 7l7 12 19-8-7-11zm-19 8l7 11 19-7-7-12z"/>
<path fill="#e90" d="M2074 344l7 11 19-8-7-11zm-18 9l7 11 18-9-7-11z"/>
<path fill="#eb0" d="M2037 361l7 12 19-9-7-11z"/>
<path fill="#dc0" d="M2018 370l7 11 19-8-7-12zm-19 10l7 11 19-10-7-11z"/>
<path fill="#ce0" d="M1980 389l7 11 19-9-7-11z"/>
<path fill="#ad0" d="M1961 399l7 11 19-10-7-11zm-19 10l7 11 19-10-7-11z"/>
<path fill="#8d0" d="M1923 419l7 12 19-11-7-11z"/>
<path fill="#6d0" d="M1905 430l6 11 19-10-7-12zm-19 11l6 11 19-11-6-11z"/>
<path fill="#4d1" d="M1867 452l6 11 19-11-6-11z"/>
<path fill="#2d1" d="M1848 464l7 11 18-12-6-11z"/>
<path fill="#e31" d="M2524 244l8 13 18-1-8-13z"/>
<path fill="#e21" d="M2506 245l9 13 17-1-8-13zm-17 2l8 12 18-1-9-13zm-18 2l8 12 18-2-8-12zm-18 2l8 12 18-2-8-12zm-18 2l8 13 18-3-8-12zm-18 3l8 12 18-2-8-13zm-19 3l8 12 19-3-8-12zm-18 3l8 13 18-4-8-12zm-18 4l8 12 18-3-8-13zm-19 4l8 12 19-4-8-12zm-18 4l8 12 18-4-8-12zm-18 4l7 13 19-5-8-12z"/>
<path fill="#e31" d="M2288 283l8 12 18-4-7-13zm-19 5l8 12 19-5-8-12zm-18 6l7 12 19-6-8-12zm-19 5l8 12 18-5-7-12z"/>
<path fill="#e50" d="M2213 305l8 12 19-6-8-12zm-18 7l7 12 19-7-8-12zm-19 6l7 12 19-6-7-12z"/>
<path fill="#e70" d="M2157 325l7 12 19-7-7-12zm-19 7l7 12 19-7-7-12zm-19 8l8 11 18-7-7-12z"/>
<path fill="#e90" d="M2100 347l8 12 19-8-8-11zm-19 8l8 12 19-8-8-12z"/>
<path fill="#eb0" d="M2063 364l7 12 19-9-8-12zm-19 9l7 11 19-8-7-12z"/>
<path fill="#dc0" d="M2025 381l7 12 19-9-7-11z"/>
<path fill="#ce0" d="M2006 391l7 11 19-9-7-12zm-19 9l7 12 19-10-7-11z"/>
<path fill="#ad0" d="M1968 410l7 12 19-10-7-12z"/>
<path fill="#8d0" d="M1949 420l7 12 19-10-7-12zm-19 11l7 11 19-10-7-12z"/>
<path fill="#6d0" d="M1911 441l7 12 19-11-7-11z"/>
<path fill="#4d1" d="M1892 452l7 12 19-11-7-12z"/>
<path fill="#2d1" d="M1873 463l7 12 19-11-7-12zm-18 12l6 11 19-11-7-12z"/>
<path fill="#e31" d="M2532 257l9 13 17-1-8-13zm-17 1l8 13 18-1-9-13zm-18 1l8 13 18-1-8-13zm-18 2l8 13 18-2-8-13zm-18 2l8 13 18-2-8-13zm-18 3l8 13 18-3-8-13z"/>
<path fill="#e21" d="M2425 268l8 13 18-2-8-13zm-19 3l8 13 19-3-8-13zm-18 4l8 12 18-3-8-13z"/>
<path fill="#e31" d="M2370 278l8 13 18-4-8-12zm-19 4l8 13 19-4-8-13zm-18 4l8 13 18-4-8-13zm-19 5l8 12 19-4-8-13zm-18 4l7 13 19-5-8-12zm-19 5l8 13 18-5-7-13zm-19 6l8 12 19-5-8-13z"/>
<path fill="#e50" d="M2240 311l7 13 19-6-8-12zm-19 6l7 13 19-6-7-13zm-19 7l8 12 18-6-7-13z"/>
<path fill="#e70" d="M2183 330l8 12 19-6-8-12zm-19 7l8 12 19-7-8-12zm-19 7l8 12 19-7-8-12z"/>
<path fill="#e90" d="M2127 351l7 13 19-8-8-12zm-19 8l7 12 19-7-7-13z"/>
<path fill="#eb0" d="M2089 367l7 12 19-8-7-12zm-19 9l7 12 19-9-7-12z"/>
<path fill="#dc0" d="M2051 384l7 12 19-8-7-12zm-19 9l7 12 19-9-7-12z"/>
<path fill="#ce0" d="M2013 402l7 12 19-9-7-12z"/>
<path fill="#ad0" d="M1994 412l6 12 20-10-7-12zm-19 10l6 12 19-10-6-12z"/>
<path fill="#8d0" d="M1956 432l6 12 19-10-6-12z"/>
<path fill="#6d0" d="M1937 442l6 12 19-10-6-12zm-19 11l6 12 19-11-6-12z"/>
<path fill="#4d1" d="M1899 464l6 12 19-11-6-12z"/>
<path fill="#2d1" d="M1880 475l6 12 19-11-6-12z"/>
<path fill="#2d2" d="M1861 486l6 12 19-11-6-12z"/>
<path fill="#e50" d="M2541 270l8 13 18 0-9-14zm-18 1l8 14 18-2-8-13z"/>
<path fill="#e31" d="M2505 272l8 14 18-1-8-14zm-18 2l8 14 18-2-8-14zm-18 2l8 14 18-2-8-14zm-18 3l8 13 18-2-8-14zm-18 2l8 14 18-3-8-13zm-19 3l8 13 19-2-8-14zm-18 3l8 14 18-4-8-13zm-18 4l8 13 18-3-8-14zm-19 4l8 13 19-4-8-13zm-18 4l8 13 18-4-8-13zm-19 4l8 13 19-4-8-13z"/>
<path fill="#e50" d="M2303 308l8 13 19-5-8-13zm-18 5l8 13 18-5-8-13zm-19 5l8 13 19-5-8-13zm-19 6l8 13 19-6-8-13zm-19 6l8 13 19-6-8-13z"/>
<path fill="#e70" d="M2210 336l7 13 19-6-8-13zm-19 6l7 13 19-6-7-13zm-19 7l7 13 19-7-7-13z"/>
<path fill="#e90" d="M2153 356l7 13 19-7-7-13zm-19 8l7 13 19-8-7-13z"/>
<path fill="#eb0" d="M2115 371l7 13 19-7-7-13zm-19 8l7 13 19-8-7-13z"/>
<path fill="#dc0" d="M2077 388l7 13 19-9-7-13zm-19 8l7 13 19-8-7-13z"/>
<path fill="#ce0" d="M2039 405l7 13 19-9-7-13zm-19 9l7 13 19-9-7-13z"/>
<path fill="#ad0" d="M2000 424l7 13 20-10-7-13z"/>
<path fill="#8d0" d="M1981 434l7 12 19-9-7-13zm-19 10l7 12 19-10-7-12z"/>
<path fill="#6d0" d="M1943 454l7 13 19-11-7-12z"/>
<path fill="#4d1" d="M1924 465l7 12 19-10-7-13zm-19 11l7 12 19-11-7-12z"/>
<path fill="#2d1" d="M1886 487l7 12 19-11-7-12z"/>
<path fill="#2d2" d="M1867 498l7 13 19-12-7-12z"/>
<path fill="#e50" d="M2549 283l8 14 18 0-8-14zm-18 2l8 13 18-1-8-14zm-18 1l8 14 18-2-8-13zm-18 2l8 14 18-2-8-14zm-18 2l8 14 18-2-8-14zm-18 2l8 14 18-2-8-14zm-18 3l8 13 18-2-8-14zm-19 2l9 14 18-3-8-13zm-18 4l8 13 19-3-9-14zm-18 3l8 14 18-4-8-13zm-19 4l8 14 19-4-8-14zm-18 4l8 14 18-4-8-14zm-19 4l8 14 19-4-8-14zm-19 5l8 14 19-5-8-14zm-18 5l7 14 19-5-8-14zm-19 5l8 14 18-5-7-14z"/>
<path fill="#e70" d="M2255 337l8 13 19-5-8-14zm-19 6l8 13 19-6-8-13zm-19 6l8 13 19-6-8-13z"/>
<path fill="#e90" d="M2198 355l8 14 19-7-8-13zm-19 7l8 14 19-7-8-14zm-19 7l8 14 19-7-8-14z"/>
<path fill="#eb0" d="M2141 377l8 13 19-7-8-14zm-19 7l7 14 20-8-8-13z"/>
<path fill="#dc0" d="M2103 392l7 14 19-8-7-14zm-19 9l7 13 19-8-7-14z"/>
<path fill="#ce0" d="M2065 409l7 13 19-8-7-13zm-19 9l7 13 19-9-7-13z"/>
<path fill="#ad0" d="M2027 427l7 13 19-9-7-13zm-20 10l7 13 20-10-7-13z"/>
<path fill="#8d0" d="M1988 446l7 13 19-9-7-13z"/>
<path fill="#6d0" d="M1969 456l7 13 19-10-7-13zm-19 11l7 13 19-11-7-13z"/>
<path fill="#4d1" d="M1931 477l7 13 19-10-7-13z"/>
<path fill="#2d1" d="M1912 488l7 13 19-11-7-13z"/>
<path fill="#2d2" d="M1893 499l6 13 20-11-7-13zm-19 12l6 13 19-12-6-13z"/>
<path fill="#e70" d="M2557 297l8 15 18-1-8-14zm-18 1l9 15 17-1-8-15zm-18 2l9 14 18-1-9-15zm-18 2l9 14 18-2-9-14z"/>
<path fill="#e50" d="M2485 304l8 14 19-2-9-14zm-18 2l8 14 18-2-8-14zm-18 2l8 15 18-3-8-14zm-18 3l8 14 18-2-8-15zm-19 3l8 15 19-4-8-14zm-18 4l8 14 18-3-8-15zm-19 4l8 14 19-4-8-14zm-18 4l7 14 19-4-8-14z"/>
<path fill="#e70" d="M2338 330l8 14 18-4-7-14zm-19 5l8 14 19-5-8-14zm-19 5l8 14 19-5-8-14zm-18 5l7 14 19-5-8-14zm-19 5l7 14 19-5-7-14z"/>
<path fill="#e90" d="M2244 356l7 14 19-6-7-14zm-19 6l7 14 19-6-7-14zm-19 7l7 14 19-7-7-14zm-19 7l7 13 19-6-7-14z"/>
<path fill="#eb0" d="M2168 383l7 13 19-7-7-13zm-19 7l7 14 19-8-7-13z"/>
<path fill="#dc0" d="M2129 398l8 13 19-7-7-14zm-19 8l8 13 19-8-8-13z"/>
<path fill="#ce0" d="M2091 414l7 13 20-8-8-13zm-19 8l7 14 19-9-7-13z"/>
<path fill="#ad0" d="M2053 431l7 14 19-9-7-14zm-19 9l7 14 19-9-7-14z"/>
<path fill="#8d0" d="M2014 450l7 13 20-9-7-14z"/>
<path fill="#6d0" d="M1995 459l7 14 19-10-7-13zm-19 10l7 14 19-10-7-14z"/>
<path fill="#4d1" d="M1957 480l7 13 19-10-7-14z"/>
<path fill="#2d1" d="M1938 490l7 14 19-11-7-13zm-19 11l6 14 20-11-7-14z"/>
<path fill="#2d2" d="M1899 512l7 14 19-11-6-14z"/>
<path fill="#1d3" d="M1880 524l7 13 19-11-7-14z"/>
<path fill="#e90" d="M2565 312l9 15 17-1-8-15zm-17 1l8 15 18-1-9-15z"/>
<path fill="#e70" d="M2530 314l8 15 18-1-8-15zm-18 2l8 15 18-2-8-15zm-19 2l9 15 18-2-8-15zm-18 2l8 15 19-2-9-15zm-18 3l8 14 18-2-8-15zm-18 2l8 15 18-3-8-14zm-19 4l8 14 19-3-8-15zm-18 3l8 15 18-4-8-14zm-19 4l8 14 19-3-8-15zm-19 4l8 14 19-4-8-14zm-18 4l8 15 18-5-8-14zm-19 5l8 14 19-4-8-15zm-19 5l8 14 19-5-8-14z"/>
<path fill="#e90" d="M2289 359l8 14 19-5-8-14zm-19 5l8 15 19-6-8-14zm-19 6l8 15 19-6-8-15zm-19 6l8 15 19-6-8-15z"/>
<path fill="#eb0" d="M2213 383l8 14 19-6-8-15zm-19 6l8 15 19-7-8-14zm-19 7l8 15 19-7-8-15z"/>
<path fill="#dc0" d="M2156 404l7 14 20-7-8-15zm-19 7l7 15 19-8-7-14z"/>
<path fill="#ce0" d="M2118 419l7 15 19-8-7-15zm-20 8l8 15 19-8-7-15z"/>
<path fill="#ad0" d="M2079 436l7 14 20-8-8-15zm-19 9l7 14 19-9-7-14z"/>
<path fill="#8d0" d="M2041 454l7 14 19-9-7-14zm-20 9l8 14 19-9-7-14z"/>
<path fill="#6d0" d="M2002 473l7 14 20-10-8-14z"/>
<path fill="#4d1" d="M1983 483l7 14 19-10-7-14zm-19 10l7 14 19-10-7-14z"/>
<path fill="#2d1" d="M1945 504l6 14 20-11-7-14z"/>
<path fill="#2d2" d="M1925 515l7 14 19-11-6-14z"/>
<path fill="#1d3" d="M1906 526l7 14 19-11-7-14zm-19 11l7 14 19-11-7-14z"/>
<path fill="#eb0" d="M2574 327l8 15 18 0-9-16z"/>
<path fill="#e90" d="M2556 328l8 15 18-1-8-15zm-18 1l8 16 18-2-8-15zm-18 2l8 15 18-1-8-16zm-18 2l8 15 18-2-8-15zm-19 2l9 15 18-2-8-15zm-18 2l8 16 19-3-9-15zm-18 3l8 16 18-3-8-16zm-19 3l8 16 19-3-8-16zm-18 4l8 15 18-3-8-16zm-19 3l8 16 19-4-8-15zm-19 4l8 16 19-4-8-16zm-18 5l8 15 18-4-8-16zm-19 4l8 15 19-4-8-15zm-19 5l8 15 19-5-8-15zm-19 5l8 15 19-5-8-15z"/>
<path fill="#eb0" d="M2278 379l8 15 19-6-8-15zm-19 6l8 15 19-6-8-15zm-19 6l8 15 19-6-8-15zm-19 6l8 15 19-6-8-15z"/>
<path fill="#dc0" d="M2202 404l7 15 20-7-8-15zm-19 7l7 15 19-7-7-15zm-20 7l8 15 19-7-7-15z"/>
<path fill="#ce0" d="M2144 426l8 14 19-7-8-15zm-19 8l7 14 20-8-8-14z"/>
<path fill="#ad0" d="M2106 442l7 14 19-8-7-14zm-20 8l8 15 19-9-7-14z"/>
<path fill="#8d0" d="M2067 459l7 15 20-9-8-15zm-19 9l7 15 19-9-7-15z"/>
<path fill="#6d0" d="M2029 477l7 15 19-9-7-15z"/>
<path fill="#4d1" d="M2009 487l7 15 20-10-7-15zm-19 10l7 15 19-10-7-15z"/>
<path fill="#2d1" d="M1971 507l7 15 19-10-7-15z"/>
<path fill="#2d2" d="M1951 518l7 14 20-10-7-15zm-19 11l7 14 19-11-7-14z"/>
<path fill="#1d3" d="M1913 540l7 14 19-11-7-14z"/>
<path fill="#1d4" d="M1894 551l6 15 20-12-7-14z"/>
<path fill="#eb0" d="M2582 342l8 16 18 0-8-16zm-18 1l8 16 18-1-8-16zm-18 2l8 16 18-2-8-16zm-18 1l8 16 18-1-8-16zm-18 2l8 16 18-2-8-16zm-18 2l8 16 18-2-8-16z"/>
<path fill="#e90" d="M2473 353l8 16 19-3-8-16zm-18 3l8 15 18-2-8-16zm-19 3l8 15 19-3-8-15zm-18 3l8 16 18-4-8-15zm-19 4l8 15 19-3-8-16z"/>
<path fill="#eb0" d="M2380 370l8 15 19-4-8-15zm-18 4l8 15 18-4-8-15zm-19 4l8 16 19-5-8-15zm-19 5l8 16 19-5-8-16zm-19 5l8 16 19-5-8-16zm-19 6l8 15 19-5-8-16z"/>
<path fill="#dc0" d="M2267 400l8 15 19-6-8-15zm-19 6l8 15 19-6-8-15zm-19 6l7 15 20-6-8-15zm-20 7l8 15 19-7-7-15z"/>
<path fill="#ce0" d="M2190 426l8 15 19-7-8-15zm-19 7l8 15 19-7-8-15z"/>
<path fill="#ad0" d="M2152 440l7 16 20-8-8-15zm-20 8l8 16 19-8-7-16zm-19 8l8 16 19-8-8-16z"/>
<path fill="#8d0" d="M2094 465l7 15 20-8-8-16zm-20 9l8 15 19-9-7-15z"/>
<path fill="#6d0" d="M2055 483l7 15 20-9-8-15z"/>
<path fill="#4d1" d="M2036 492l7 15 19-9-7-15zm-20 10l8 15 19-10-7-15z"/>
<path fill="#2d1" d="M1997 512l7 15 20-10-8-15z"/>
<path fill="#2d2" d="M1978 522l7 15 19-10-7-15zm-20 10l7 15 20-10-7-15z"/>
<path fill="#1d3" d="M1939 543l7 15 19-11-7-15z"/>
<path fill="#1d4" d="M1920 554l7 15 19-11-7-15z"/>
<path fill="#0d6" d="M1900 566l7 14 20-11-7-15z"/>
<path fill="#dc0" d="M2590 358l8 17 18-1-8-16zm-18 1l9 17 17-1-8-17zm-18 2l9 16 18-1-9-17zm-18 1l8 17 19-2-9-16z"/>
<path fill="#eb0" d="M2518 364l8 16 18-1-8-17zm-18 2l8 17 18-3-8-16zm-19 3l9 16 18-2-8-17zm-18 2l8 17 19-3-9-16zm-19 3l9 17 18-3-8-17zm-18 4l8 16 19-3-9-17zm-19 3l8 17 19-4-8-16zm-19 4l8 16 19-3-8-17zm-18 4l8 17 18-5-8-16zm-19 5l8 16 19-4-8-17z"/>
<path fill="#dc0" d="M2332 399l8 16 19-5-8-16zm-19 5l8 16 19-5-8-16zm-19 5l8 16 19-5-8-16zm-19 6l7 16 20-6-8-16z"/>
<path fill="#ce0" d="M2256 421l7 16 19-6-7-16zm-20 6l8 16 19-6-7-16zm-19 7l8 16 19-7-8-16zm-19 7l8 16 19-7-8-16z"/>
<path fill="#ad0" d="M2179 448l7 16 20-7-8-16zm-20 8l8 16 19-8-7-16z"/>
<path fill="#8d0" d="M2140 464l7 15 20-7-8-16zm-19 8l7 15 19-8-7-15z"/>
<path fill="#6d0" d="M2101 480l8 16 19-9-7-15zm-19 9l7 16 20-9-8-16z"/>
<path fill="#4d1" d="M2062 498l8 16 19-9-7-16zm-19 9l7 16 20-9-8-16z"/>
<path fill="#2d1" d="M2024 517l7 15 19-9-7-16z"/>
<path fill="#2d2" d="M2004 527l7 15 20-10-7-15zm-19 10l7 15 19-10-7-15z"/>
<path fill="#1d3" d="M1965 547l7 16 20-11-7-15z"/>
<path fill="#1d4" d="M1946 558l7 16 19-11-7-16zm-19 11l7 16 19-11-7-16z"/>
<path fill="#0d6" d="M1907 580l7 16 20-11-7-16z"/>
<path fill="#ce0" d="M2598 375l9 17 18-1-9-17zm-17 1l8 17 18-1-9-17zm-18 1l8 17 18-1-8-17z"/>
<path fill="#dc0" d="M2544 379l9 16 18-1-8-17zm-18 1l8 17 19-2-9-16zm-18 3l8 16 18-2-8-17zm-18 2l8 17 18-3-8-16zm-19 3l8 16 19-2-8-17zm-18 3l8 16 18-3-8-16zm-19 3l8 17 19-4-8-16zm-19 4l8 16 19-3-8-17zm-19 3l8 17 19-4-8-16zm-18 5l8 16 18-4-8-17zm-19 4l8 17 19-5-8-16zm-19 5l8 16 19-4-8-17z"/>
<path fill="#ce0" d="M2321 420l8 17 19-6-8-16zm-19 5l7 17 20-5-8-17zm-20 6l8 17 19-6-7-17zm-19 6l8 17 19-6-8-17z"/>
<path fill="#ad0" d="M2244 443l8 17 19-6-8-17zm-19 7l8 16 19-6-8-17zm-19 7l7 16 20-7-8-16z"/>
<path fill="#8d0" d="M2186 464l8 16 19-7-7-16zm-19 8l7 16 20-8-8-16zm-20 7l8 17 19-8-7-16z"/>
<path fill="#6d0" d="M2128 487l8 17 19-8-8-17zm-19 9l7 16 20-8-8-17z"/>
<path fill="#4d1" d="M2089 505l8 16 19-9-7-16zm-19 9l7 16 20-9-8-16z"/>
<path fill="#2d1" d="M2050 523l8 16 19-9-7-16z"/>
<path fill="#2d2" d="M2031 532l7 17 20-10-8-16zm-20 10l8 16 19-9-7-17z"/>
<path fill="#1d3" d="M1992 552l7 17 20-11-8-16z"/>
<path fill="#1d4" d="M1972 563l8 16 19-10-7-17zm-19 11l7 16 20-11-8-16z"/>
<path fill="#0d6" d="M1934 585l7 16 19-11-7-16z"/>
<path fill="#0d8" d="M1914 596l7 16 20-11-7-16z"/>
</g>
<ellipse cx="428.4" cy="85.4" rx="2.1" ry="1.8" fill="#f8c8c0" stroke="#7a1010" stroke-width=".6"/>
<ellipse cx="480.3" cy="157.2" rx="2.1" ry="1.8" fill="#f8c8c0" stroke="#7a1010" stroke-width=".6"/>
<circle cx="581.3" cy="19.6" r="2" fill="#d81010" stroke="#7a0000" stroke-width=".5"/>
<circle cx="656.1" cy="99.2" r="2" fill="#d81010" stroke="#7a0000" stroke-width=".5"/>
<circle cx="535.6" cy="54" r="2" fill="#d81010" stroke="#7a0000" stroke-width=".5"/>
<!-- panel c -->
<g stroke="#000" stroke-width=".7" fill="#ff0" stroke-linejoin="round">
<polygon points="64.8,386 153.3,323.5 153.3,210 52.3,261.2"/>
<polygon points="153.3,323.5 288,359.6 299.3,240.1 153.3,210"/>
<polygon points="64.8,386 208.9,433.4 288,359.6 153.3,323.5"/>
</g>
<path d="M61.7 354.8L153.3 295.1M60.1 339.2L153.3 280.9M58.5 323.6L153.3 266.8M57 308L153.3 252.6M55.4 292.4L153.3 238.4M53.9 276.8L153.3 224.2M84.6 339.9L77.5 248.4M107.5 325L102.8 235.6M130.4 310L128.1 222.8M153.3 295.1L290.8 329.7M153.3 280.9L292.2 314.8M153.3 266.8L293.6 299.9M153.3 252.6L295.1 284.9M153.3 238.4L296.5 270M153.3 224.2L297.9 255M180.8 302L182.5 216M208.3 309L211.7 222M235.8 315.9L240.9 228.1M263.3 322.8L270.1 234.1" stroke="#000" stroke-width=".6" fill="none"/>
<path d="M62 354.8h-1.6M60.4 339.2h-1.6M58.8 323.6h-1.6M57.3 308h-1.6M55.7 292.4h-1.6M54.2 276.8h-1.6M52.6 261.2h-1.6M64.8 386l-.9 .9M93.6 395.5l-.9 .9M122.4 405l-.9 .9M151.3 414.4l-.9 .9M180.1 423.9l-.9 .9M208.9 433.4l-.9 .9M208.9 433.4l.9 .9M228.7 414.9l.9 .9M248.4 396.5l.9 .9M268.2 378.1l.9 .9M288 359.6l.9 .9" stroke="#000" stroke-width="1.3" fill="none"/>
<clipPath id="cfc"><polygon points="64.8,386 208.9,433.4 288,359.6 153.3,323.5"/></clipPath>
<g clip-path="url(#cfc)" fill="none" stroke-width=".8">
<path d="M155.4 403.4L154 400.9L153.1 398.4L152.7 395.8L152.7 393.3L153.1 390.8L154 388.3L155.2 385.9L156.9 383.6L159 381.4L161.5 379.2L164.3 377.2L167.4 375.3L170.8 373.6L174.5 372L178.4 370.6L182.6 369.4L187 368.3L191.5 367.4L196.1 366.7L200.9 366.2L205.7 365.9L210.6 365.8L215.4 365.9L220.3 366.1L225.1 366.6L229.8 367.3L234.3 368.1L238.8 369.2L243 370.4L247.1 371.8L250.9 373.4L254.4 375.1L257.6 376.9L260.6 378.9L263.1 381L265.3 383.3L267.2 385.6L268.6 388L269.5 390.4L270.1 392.9L270.2 395.5L269.8 398L269 400.5L267.8 403L266 405.4L263.9 407.8L261.3 410.1L258.3 412.2L254.9 414.2L251.1 416.1L247 417.8L242.6 419.3L237.9 420.6L232.9 421.7L227.8 422.5L222.6 423.1L217.2 423.5L211.8 423.7L206.4 423.6L201.1 423.2L195.8 422.6L190.7 421.8L185.7 420.7L181 419.5L176.6 418L172.4 416.3L168.6 414.5L165.1 412.5L162.1 410.4L159.4 408.1L157.2 405.8L155.4 403.4" stroke="#e21"/>
<path d="M104.1 412.8L101.9 408L100.7 403.1L100.3 398.3L100.8 393.5L102 388.7L104.1 384.1L106.9 379.7L110.4 375.4L114.6 371.4L119.4 367.5L124.8 363.9L130.8 360.5L137.2 357.5L144.1 354.7L151.4 352.2L159 350L167 348.1L175.2 346.6L183.7 345.4L192.3 344.5L201 344L209.8 343.8L218.6 343.9L227.4 344.4L236.1 345.2L244.6 346.4L253 347.9L261.2 349.7L269 351.8L276.6 354.3L283.7 357L290.5 360L296.7 363.4L302.4 366.9L307.5 370.7L311.9 374.8L315.7 379L318.8 383.5L321 388.1L322.5 392.8L323.2 397.5L323 402.4L321.9 407.3L319.9 412.1L317 416.9L313.2 421.5L308.5 426.1L302.9 430.4L296.6 434.5L289.4 438.2L281.5 441.7L272.9 444.8L263.8 447.5L254.1 449.8L244 451.6L233.6 452.9L222.9 453.7L212.2 454L201.5 453.8L190.8 453L180.4 451.8L170.3 450L160.6 447.8L151.5 445.2L142.9 442.2L134.9 438.7L127.8 435L121.3 431L115.7 426.7L111 422.2L107.1 417.5L104.1 412.8" stroke="#ec0"/>
<path d="M72.6 418.6L70.2 412.3L69 406L68.8 399.7L69.8 393.5L71.7 387.5L74.7 381.7L78.5 376L83.3 370.7L88.8 365.5L95.1 360.7L102.1 356.2L109.8 352.1L118 348.3L126.8 344.8L136 341.8L145.7 339.1L155.7 336.8L166 335L176.6 333.5L187.3 332.4L198.2 331.8L209.2 331.5L220.2 331.7L231.2 332.3L242.1 333.3L252.9 334.7L263.5 336.5L273.8 338.7L283.7 341.3L293.3 344.3L302.5 347.7L311.1 351.5L319.2 355.6L326.6 360L333.3 364.8L339.2 369.9L344.3 375.2L348.5 380.8L351.7 386.6L354 392.6L355.2 398.8L355.2 405.1L354.2 411.4L350.8 417.4L345.8 423.2L340.7 429.1L335.4 435.3L330.1 441.5L323 447.3L313.8 452.4L303.5 457.1L292.4 461.3L280.4 464.9L267.7 468L254.4 470.5L240.6 472.3L226.6 473.4L212.4 473.8L198.1 473.5L184.1 472.4L170.3 470.7L157.1 468.4L144.4 465.4L132.4 461.8L121.3 457.7L111 453.1L101.8 448L93.7 442.6L86.7 436.9L80.8 431L76.1 424.8L72.6 418.6" stroke="#2d2"/>
<path d="M46.4 423.4L43.9 415.9L42.8 408.3L43 400.9L44.5 393.6L47.1 386.5L50.9 379.7L55.7 373.1L61.5 366.8L68.2 360.9L75.8 355.3L84.1 350.2L93.2 345.4L102.9 341L113.1 337.1L123.9 333.6L135.2 330.6L146.8 328L158.8 325.9L171 324.2L183.4 323L196 322.3L208.7 322L221.5 322.2L234.2 322.8L246.9 324L259.3 325.6L271.6 327.6L283.6 330.1L295.3 333.1L306.5 336.5L317.3 340.4L327.5 344.7L337 349.4L345.9 354.5L354 360L361.2 365.9L367.4 372.1L372.6 378.7L376.8 385.5L373.7 390.9L369 396.4L363.9 402.2L358.6 408.4L353 414.9L347.1 421.7L341.1 428.7L334.9 435.9L328.5 443.3L322.1 450.8L315.6 458.4L309.2 465.9L302.8 473.3L294.7 480L279.4 483.8L263.4 486.8L246.7 489.1L229.7 490.4L212.5 490.9L195.2 490.6L178.2 489.3L161.6 487.2L145.6 484.2L130.3 480.5L116 476.1L102.7 471L90.6 465.3L79.8 459.1L70.3 452.5L62.2 445.5L55.5 438.3L50.3 430.9L46.4 423.4" stroke="#0dc"/>
<path d="M23.4 427.7L20.9 419L20.1 410.4L20.6 401.9L22.6 393.7L25.9 385.7L30.5 377.9L36.2 370.6L43 363.5L50.7 356.9L59.4 350.8L68.9 345L79.2 339.7L90.1 334.9L101.6 330.6L113.7 326.8L126.3 323.4L139.3 320.6L152.6 318.3L166.3 316.5L180.1 315.1L194.2 314.3L208.3 314L222.5 314.2L236.7 315L250.8 316.2L264.7 317.9L278.4 320.2L291.9 322.9L305 326.2L317.7 329.9L329.8 334.2L341.4 338.9L352.2 344.1L362.3 349.8L371.6 355.9L379.9 362.5L387.2 369.5L387.3 375.2L382.8 380.3L377.9 386L372.7 392L367.1 398.5L361.1 405.4L354.8 412.7L348.3 420.4L341.4 428.3L334.4 436.5L327.2 444.9L319.8 453.4L312.4 462.1L305 470.7L297.7 479.3L290.5 487.7L283.5 495.8L271.6 501.8L252.3 504.4L232.5 506L212.5 506.6L192.8 506L177.4 500.2L161.9 494.3L146.2 488.4L130.7 482.5L115.3 476.7L100.2 471L85.5 465.4L71.3 460L57.7 454.9L44.7 450L33.1 444.9L27.4 436.3L23.4 427.7" stroke="#26e"/>
<path d="M2.5 431.5L0.2 421.8L-0.5 412.3L0.5 402.9L3.1 393.7L7 384.9L12.3 376.4L18.9 368.3L26.6 360.7L35.3 353.5L45 346.7L55.5 340.5L66.9 334.8L78.9 329.6L91.6 325L104.8 320.8L118.6 317.2L132.7 314.2L147.3 311.7L162.1 309.7L177.2 308.3L192.5 307.5L207.9 307.1L223.3 307.4L238.8 308.1L254.1 309.4L269.4 311.3L284.3 313.8L298.5 317.2L312.9 320.7L327.4 324.2L340.7 328.8L353.5 333.9L365.6 339.5L376.8 345.7L387.2 352.4L396.6 359.5L396.2 364.9L391.8 369.9L387 375.5L381.7 381.6L376 388.2L369.9 395.3L363.4 402.8L356.5 410.8L349.3 419.2L341.7 427.9L333.9 437L325.9 446.3L317.8 455.8L309.5 465.4L301.3 475.1L293 484.7L284.9 494.2L277.1 503.4L269.5 512.2L257.5 518.8L235.2 520.7L218.1 515.5L201.3 509.2L184.2 502.7L166.8 496.2L149.5 489.6L132.2 483.1L115.2 476.7L98.6 470.4L82.4 464.2L66.8 458.3L51.9 452.7L37.7 447.3L24.3 442.2L11.8 437.5L2.5 431.5" stroke="#24d"/>
</g>
<g transform="scale(0.25)" stroke="#000" stroke-width="1.5" stroke-linejoin="round">
<path fill="#089" d="M604 1096l14-6 9 2-14 6z"/>
<path fill="#087" d="M595 1095l14-6 9 1-14 6z"/>
<path fill="#076" d="M586 1093l14-5 9 1-14 6z"/>
<path fill="#064" d="M577 1093l14-6 9 1-14 5z"/>
<path fill="#054" d="M568 1092l14-6 9 1-14 6z"/>
<path fill="#042" d="M558 1092l15-6 9 0-14 6z"/>
<path fill="#031" d="M549 1092l14-6 10 0-15 6z"/>
<path fill="#011" d="M539 1093l15-6 9-1-14 6z"/>
<path fill="#010" d="M530 1094l14-6 10-1-15 6z"/>
<path fill="#000" d="M520 1095l14-6 10-1-14 6zm-10 1l14-6 10-1-14 6zm-10 2l15-6 9-2-14 6zm-10 2l15-6 10-2-15 6zm-10 2l15-6 10-2-15 6z"/>
<path fill="#2d1" d="M470 1105l14-6 11-3-15 6zm-10 3l14-6 10-3-14 6zm-10 4l14-6 10-4-14 6z"/>
<path fill="#4d1" d="M439 1116l15-6 10-4-14 6zm-10 4l14-6 11-4-15 6zm-11 5l15-6 10-5-14 6zm-10 5l14-6 11-5-15 6zm-11 5l14-6 11-5-14 6zm-11 6l15-6 10-6-14 6zm-10 6l14-6 11-6-15 6z"/>
<path fill="#000" d="M365 1153l14-6 11-6-14 6zm-11 7l14-6 11-7-14 6zm-11 8l14-6 11-8-14 6zm-11 7l14-6 11-7-14 6z"/>
<path fill="#010" d="M321 1183l14-6 11-8-14 6z"/>
<path fill="#120" d="M310 1192l14-6 11-9-14 6z"/>
<path fill="#140" d="M299 1201l14-6 11-9-14 6z"/>
<path fill="#151" d="M287 1210l15-6 11-9-14 6z"/>
<path fill="#171" d="M276 1220l15-6 11-10-15 6z"/>
<path fill="#181" d="M265 1230l14-6 12-10-15 6z"/>
<path fill="#191" d="M254 1240l14-6 11-10-14 6zm-12 11l15-6 11-11-14 6z"/>
<path fill="#1a2" d="M231 1262l14-5 12-12-15 6z"/>
<path fill="#088" d="M618 1090l15-6 8 2-14 6z"/>
<path fill="#076" d="M609 1089l15-6 9 1-15 6z"/>
<path fill="#065" d="M600 1088l15-6 9 1-15 6z"/>
<path fill="#053" d="M591 1087l14-6 10 1-15 6z"/>
<path fill="#043" d="M582 1086l14-5 9 0-14 6z"/>
<path fill="#031" d="M573 1086l14-6 9 1-14 5z"/>
<path fill="#021" d="M563 1086l14-5 10-1-14 6z"/>
<path fill="#010" d="M554 1087l14-6 9 0-14 5z"/>
<path fill="#000" d="M544 1088l14-6 10-1-14 6zm-10 1l15-6 9-1-14 6zm-10 1l15-6 10-1-15 6zm-9 2l14-6 10-2-15 6zm-10 2l14-6 10-2-14 6z"/>
<path fill="#2d1" d="M495 1096l14-5 10-3-14 6z"/>
<path fill="#4d1" d="M484 1099l15-6 10-2-14 5zm-10 3l15-5 10-4-15 6zm-10 4l14-6 11-3-15 5z"/>
<path fill="#6d0" d="M454 1110l14-6 10-4-14 6zm-11 4l15-6 10-4-14 6zm-10 5l14-6 11-5-15 6zm-11 5l15-6 10-5-14 6zm-11 5l15-6 11-5-15 6zm-10 6l14-6 11-6-15 6z"/>
<path fill="#000" d="M390 1141l14-6 11-6-14 6zm-11 6l15-5 10-7-14 6zm-11 7l15-5 11-7-15 5zm-11 8l15-6 11-7-15 5z"/>
<path fill="#010" d="M346 1169l15-5 11-8-15 6z"/>
<path fill="#120" d="M335 1177l15-5 11-8-15 5z"/>
<path fill="#240" d="M324 1186l15-6 11-8-15 5z"/>
<path fill="#250" d="M313 1195l14-6 12-9-15 6z"/>
<path fill="#270" d="M302 1204l14-5 11-10-14 6z"/>
<path fill="#281" d="M291 1214l14-6 11-9-14 5z"/>
<path fill="#391" d="M279 1224l15-6 11-10-14 6z"/>
<path fill="#2a1" d="M268 1234l14-5 12-11-15 6zm-11 11l14-5 11-11-14 5z"/>
<path fill="#1b2" d="M245 1257l15-6 11-11-14 5z"/>
<path fill="#086" d="M633 1084l14-5 9 2-15 5z"/>
<path fill="#075" d="M624 1083l14-5 9 1-14 5z"/>
<path fill="#063" d="M615 1082l14-6 9 2-14 5z"/>
<path fill="#052" d="M605 1081l15-5 9 0-14 6z"/>
<path fill="#031" d="M596 1081l14-6 10 1-15 5z"/>
<path fill="#021" d="M587 1080l14-5 9 0-14 6z"/>
<path fill="#010" d="M577 1081l15-6 9 0-14 5z"/>
<path fill="#000" d="M568 1081l14-5 10-1-15 6zm-10 1l15-6 9 0-14 5zm-9 1l14-6 10-1-15 6zm-10 1l14-5 10-2-14 6zm-10 2l14-5 10-2-14 5zm-10 2l14-5 10-2-14 5z"/>
<path fill="#6d0" d="M509 1091l14-6 10-2-14 5zm-10 2l14-5 10-3-14 6zm-10 4l14-6 10-3-14 5z"/>
<path fill="#8d0" d="M478 1100l15-5 10-4-14 6zm-10 4l15-5 10-4-15 5zm-10 4l14-5 11-4-15 5zm-11 5l15-6 10-4-14 5zm-10 5l14-5 11-6-15 6zm-11 5l14-5 11-5-14 5z"/>
<path fill="#000" d="M415 1129l15-5 10-6-14 5zm-11 6l15-5 11-6-15 5zm-10 7l14-6 11-6-15 5zm-11 7l14-6 11-7-14 6z"/>
<path fill="#110" d="M372 1156l14-5 11-8-14 6z"/>
<path fill="#120" d="M361 1164l14-6 11-7-14 5z"/>
<path fill="#240" d="M350 1172l14-5 11-9-14 6z"/>
<path fill="#350" d="M339 1180l14-5 11-8-14 5z"/>
<path fill="#470" d="M327 1189l15-5 11-9-14 5z"/>
<path fill="#380" d="M316 1199l15-6 11-9-15 5z"/>
<path fill="#490" d="M305 1208l15-5 11-10-15 6z"/>
<path fill="#4a0" d="M294 1218l14-5 12-10-15 5z"/>
<path fill="#3a1" d="M282 1229l15-5 11-11-14 5z"/>
<path fill="#3b1" d="M271 1240l15-5 11-11-15 5z"/>
<path fill="#2b1" d="M260 1251l14-5 12-11-15 5z"/>
<path fill="#075" d="M647 1079l14-5 9 2-14 5z"/>
<path fill="#064" d="M638 1078l14-5 9 1-14 5z"/>
<path fill="#052" d="M629 1076l14-5 9 2-14 5z"/>
<path fill="#041" d="M620 1076l14-5 9 0-14 5z"/>
<path fill="#031" d="M610 1075l15-5 9 1-14 5z"/>
<path fill="#010" d="M601 1075l15-5 9 0-15 5zm-9 0l14-5 10 0-15 5z"/>
<path fill="#000" d="M582 1076l15-6 9 0-14 5zm-9 0l14-5 10-1-15 6zm-10 1l14-5 10-1-14 5zm-10 2l15-5 9-2-14 5zm-10 2l15-6 10-1-15 5z"/>
<path fill="#6d0" d="M533 1083l15-5 10-3-15 6z"/>
<path fill="#8d0" d="M523 1085l15-5 10-2-15 5zm-10 3l15-5 10-3-15 5zm-10 3l15-5 10-3-15 5z"/>
<path fill="#ad0" d="M493 1095l14-5 11-4-15 5zm-10 4l14-6 10-3-14 5zm-11 4l15-5 10-5-14 6zm-10 4l14-5 11-4-15 5zm-11 6l15-6 10-5-14 5z"/>
<path fill="#000" d="M440 1118l15-5 11-6-15 6zm-10 6l14-5 11-6-15 5zm-11 6l15-5 10-6-14 5zm-11 6l15-5 11-6-15 5z"/>
<path fill="#010" d="M397 1143l15-5 11-7-15 5z"/>
<path fill="#120" d="M386 1151l15-5 11-8-15 5z"/>
<path fill="#330" d="M375 1158l15-5 11-7-15 5z"/>
<path fill="#450" d="M364 1167l15-5 11-9-15 5z"/>
<path fill="#570" d="M353 1175l15-5 11-8-15 5z"/>
<path fill="#680" d="M342 1184l15-5 11-9-15 5z"/>
<path fill="#590" d="M331 1193l15-4 11-10-15 5z"/>
<path fill="#6a0" d="M320 1203l14-5 12-9-15 4z"/>
<path fill="#6b0" d="M308 1213l15-4 11-11-14 5z"/>
<path fill="#5b0" d="M297 1224l15-5 11-10-15 4z"/>
<path fill="#5c0" d="M286 1235l14-5 12-11-15 5z"/>
<path fill="#4c1" d="M274 1246l15-4 11-12-14 5z"/>
<path fill="#074" d="M661 1074l14-5 9 2-14 5z"/>
<path fill="#063" d="M652 1073l15-5 8 1-14 5z"/>
<path fill="#041" d="M643 1071l15-4 9 1-15 5z"/>
<path fill="#031" d="M634 1071l14-5 10 1-15 4z"/>
<path fill="#020" d="M625 1070l14-5 9 1-14 5z"/>
<path fill="#010" d="M616 1070l14-5 9 0-14 5z"/>
<path fill="#000" d="M606 1070l15-5 9 0-14 5zm-9 0l14-5 10 0-15 5zm-10 1l15-5 9-1-14 5zm-10 1l15-5 10-1-15 5zm-9 2l14-5 10-2-15 5z"/>
<path fill="#8d0" d="M558 1075l15-4 9-2-14 5zm-10 3l15-5 10-2-15 4z"/>
<path fill="#ad0" d="M538 1080l15-5 10-2-15 5zm-10 3l15-5 10-3-15 5zm-10 3l14-5 11-3-15 5zm-11 4l15-5 10-4-14 5z"/>
<path fill="#ce0" d="M497 1093l15-4 10-4-15 5zm-10 5l15-5 10-4-15 4zm-11 4l15-5 11-4-15 5zm-10 5l15-4 10-6-15 5z"/>
<path fill="#000" d="M455 1113l15-5 11-5-15 4zm-11 6l15-5 11-6-15 5zm-10 6l15-5 10-6-15 5zm-11 6l15-4 11-7-15 5z"/>
<path fill="#120" d="M412 1138l15-4 11-7-15 4z"/>
<path fill="#330" d="M401 1146l15-5 11-7-15 4z"/>
<path fill="#450" d="M390 1153l15-4 11-8-15 5z"/>
<path fill="#660" d="M379 1162l15-5 11-8-15 4z"/>
<path fill="#780" d="M368 1170l15-4 11-9-15 5z"/>
<path fill="#890" d="M357 1179l15-4 11-9-15 4z"/>
<path fill="#7a0" d="M346 1189l14-5 12-9-15 4z"/>
<path fill="#8b0" d="M334 1198l15-4 11-10-14 5z"/>
<path fill="#8c0" d="M323 1209l15-5 11-10-15 4z"/>
<path fill="#7c0" d="M312 1219l15-4 11-11-15 5z"/>
<path fill="#7d0" d="M300 1230l15-4 12-11-15 4z"/>
<path fill="#6d0" d="M289 1242l15-5 11-11-15 4z"/>
<path fill="#063" d="M675 1069l15-4 9 1-15 5z"/>
<path fill="#052" d="M667 1068l14-5 9 2-15 4z"/>
<path fill="#041" d="M658 1067l14-5 9 1-14 5z"/>
<path fill="#020" d="M648 1066l15-5 9 1-14 5z"/>
<path fill="#010" d="M639 1065l15-4 9 0-15 5z"/>
<path fill="#000" d="M630 1065l15-5 9 1-15 4zm-9 0l14-4 10-1-15 5zm-10 0l15-4 9 0-14 4zm-9 1l14-4 10-1-15 4zm-10 1l15-4 9-1-14 4zm-10 2l15-5 10-1-15 4z"/>
<path fill="#ad0" d="M573 1071l14-5 10-2-15 5zm-10 2l14-5 10-2-14 5zm-10 2l15-4 9-3-14 5z"/>
<path fill="#ce0" d="M543 1078l14-5 11-2-15 4zm-11 3l15-4 10-4-14 5zm-10 4l15-5 10-3-15 4z"/>
<path fill="#dc0" d="M512 1089l15-5 10-4-15 5zm-10 4l15-5 10-4-15 5zm-11 4l15-4 11-5-15 5z"/>
<path fill="#000" d="M481 1103l15-5 10-5-15 4zm-11 5l15-5 11-5-15 5zm-11 6l15-5 11-6-15 5zm-10 6l15-5 10-6-15 5z"/>
<path fill="#110" d="M438 1127l15-5 11-7-15 5z"/>
<path fill="#330" d="M427 1134l15-5 11-7-15 5z"/>
<path fill="#440" d="M416 1141l15-4 11-8-15 5z"/>
<path fill="#660" d="M405 1149l15-5 11-7-15 4z"/>
<path fill="#770" d="M394 1157l15-4 11-9-15 5z"/>
<path fill="#880" d="M383 1166l15-5 11-8-15 4z"/>
<path fill="#a90" d="M372 1175l15-5 11-9-15 5z"/>
<path fill="#9b0" d="M360 1184l16-4 11-10-15 5z"/>
<path fill="#ac0" d="M349 1194l15-4 12-10-16 4z"/>
<path fill="#bc0" d="M338 1204l15-4 11-10-15 4z"/>
<path fill="#9d0" d="M327 1215l15-4 11-11-15 4z"/>
<path fill="#ad0" d="M315 1226l15-4 12-11-15 4z"/>
<path fill="#8d0" d="M304 1237l15-4 11-11-15 4z"/>
<path fill="#052" d="M690 1065l15-5 8 2-14 4z"/>
<path fill="#041" d="M681 1063l15-4 9 1-15 5z"/>
<path fill="#030" d="M672 1062l15-4 9 1-15 4z"/>
<path fill="#010" d="M663 1061l15-4 9 1-15 4zm-9 0l15-5 9 1-15 4z"/>
<path fill="#000" d="M645 1060l14-4 10 0-15 5zm-10 1l15-5 9 0-14 4zm-9 0l15-4 9-1-15 5zm-10 1l15-5 10 0-15 4zm-9 1l15-5 9-1-15 5z"/>
<path fill="#ad0" d="M597 1064l15-4 10-2-15 5z"/>
<path fill="#ce0" d="M587 1066l15-4 10-2-15 4zm-10 2l15-4 10-2-15 4zm-9 3l14-5 10-2-15 4z"/>
<path fill="#dc0" d="M557 1073l15-4 10-3-14 5zm-10 4l15-5 10-3-15 4zm-10 3l15-4 10-4-15 5z"/>
<path fill="#eb0" d="M527 1084l15-4 10-4-15 4zm-10 4l15-4 10-4-15 4z"/>
<path fill="#000" d="M506 1093l15-4 11-5-15 4zm-10 5l15-4 10-5-15 4zm-11 5l15-4 11-5-15 4zm-11 6l15-4 11-6-15 4z"/>
<path fill="#110" d="M464 1115l15-4 10-6-15 4z"/>
<path fill="#320" d="M453 1122l15-4 11-7-15 4z"/>
<path fill="#430" d="M442 1129l15-4 11-7-15 4z"/>
<path fill="#650" d="M431 1137l15-5 11-7-15 4z"/>
<path fill="#860" d="M420 1144l15-4 11-8-15 5z"/>
<path fill="#970" d="M409 1153l15-4 11-9-15 4z"/>
<path fill="#a80" d="M398 1161l15-4 11-8-15 4z"/>
<path fill="#aa0" d="M387 1170l15-4 11-9-15 4z"/>
<path fill="#bb0" d="M376 1180l15-4 11-10-15 4z"/>
<path fill="#cb0" d="M364 1190l16-4 11-10-15 4z"/>
<path fill="#bd0" d="M353 1200l15-4 12-10-16 4z"/>
<path fill="#ce0" d="M342 1211l15-4 11-11-15 4zm-12 11l15-4 12-11-15 4z"/>
<path fill="#ad0" d="M319 1233l15-3 11-12-15 4z"/>
<path fill="#051" d="M705 1060l14-3 9 1-15 4z"/>
<path fill="#030" d="M696 1059l14-4 9 2-14 3z"/>
<path fill="#020" d="M687 1058l15-4 8 1-14 4z"/>
<path fill="#010" d="M678 1057l15-4 9 1-15 4z"/>
<path fill="#000" d="M669 1056l14-4 10 1-15 4zm-10 0l15-4 9 0-14 4zm-9 0l15-4 9 0-15 4zm-9 1l15-4 9-1-15 4zm-10 0l15-4 10 0-15 4z"/>
<path fill="#ad0" d="M622 1058l15-4 9-1-15 4z"/>
<path fill="#ce0" d="M612 1060l15-4 10-2-15 4zm-10 2l15-4 10-2-15 4z"/>
<path fill="#dc0" d="M592 1064l15-4 10-2-15 4zm-10 2l16-4 9-2-15 4z"/>
<path fill="#eb0" d="M572 1069l16-4 10-3-16 4zm-10 3l15-4 11-3-16 4zm-10 4l15-4 10-4-15 4zm-10 4l15-4 10-4-15 4z"/>
<path fill="#000" d="M532 1084l15-4 10-4-15 4zm-11 5l15-4 11-5-15 4zm-10 5l15-4 10-5-15 4zm-11 5l15-4 11-5-15 4z"/>
<path fill="#100" d="M489 1105l16-4 10-6-15 4z"/>
<path fill="#210" d="M479 1111l15-3 11-7-16 4z"/>
<path fill="#420" d="M468 1118l15-4 11-6-15 3z"/>
<path fill="#640" d="M457 1125l15-4 11-7-15 4z"/>
<path fill="#750" d="M446 1132l16-3 10-8-15 4z"/>
<path fill="#950" d="M435 1140l16-3 11-8-16 3z"/>
<path fill="#a60" d="M424 1149l16-4 11-8-16 3z"/>
<path fill="#b80" d="M413 1157l15-3 12-9-16 4z"/>
<path fill="#c90" d="M402 1166l15-3 11-9-15 3z"/>
<path fill="#da0" d="M391 1176l15-4 11-9-15 3zm-11 10l15-4 11-10-15 4z"/>
<path fill="#dc0" d="M368 1196l16-3 11-11-15 4zm-11 11l15-4 12-10-16 3z"/>
<path fill="#ce0" d="M345 1218l16-3 11-12-15 4zm-11 12l15-4 12-11-16 3z"/>
<path fill="#141" d="M719 1057l15-4 9 2-15 3z"/>
<path fill="#020" d="M710 1055l15-4 9 2-15 4z"/>
<path fill="#010" d="M702 1054l14-4 9 1-15 4zm-9-1l14-4 9 1-14 4z"/>
<path fill="#000" d="M683 1052l15-3 9 0-14 4zm-9 0l15-3 9 0-15 3zm-9 0l15-3 9 0-15 3zm-9 1l15-4 9 0-15 3zm-10 0l15-3 10-1-15 4z"/>
<path fill="#ce0" d="M637 1054l15-3 9-1-15 3z"/>
<path fill="#dc0" d="M627 1056l15-4 10-1-15 3zm-10 2l15-4 10-2-15 4z"/>
<path fill="#eb0" d="M607 1060l16-4 9-2-15 4zm-9 2l15-3 10-3-16 4zm-10 3l15-4 10-2-15 3z"/>
<path fill="#e90" d="M577 1068l16-3 10-4-15 4zm-10 4l16-4 10-3-16 3zm-10 4l15-4 11-4-16 4z"/>
<path fill="#000" d="M547 1080l15-3 10-5-15 4zm-11 5l16-4 10-4-15 3zm-10 5l15-4 11-5-16 4zm-11 5l16-3 10-6-15 4z"/>
<path fill="#210" d="M505 1101l15-3 11-6-16 3z"/>
<path fill="#420" d="M494 1108l15-4 11-6-15 3z"/>
<path fill="#530" d="M483 1114l16-3 10-7-15 4z"/>
<path fill="#730" d="M472 1121l16-3 11-7-16 3z"/>
<path fill="#840" d="M462 1129l15-4 11-7-16 3z"/>
<path fill="#a50" d="M451 1137l15-4 11-8-15 4z"/>
<path fill="#b70" d="M440 1145l15-3 11-9-15 4z"/>
<path fill="#c70" d="M428 1154l16-4 11-8-15 3z"/>
<path fill="#d80" d="M417 1163l16-4 11-9-16 4zm-11 9l16-3 11-10-16 4z"/>
<path fill="#eb0" d="M395 1182l15-3 12-10-16 3zm-11 11l15-4 11-10-15 3zm-12 10l16-3 11-11-15 4z"/>
<path fill="#dc0" d="M361 1215l15-3 12-12-16 3zm-12 11l16-3 11-11-15 3z"/>
<path fill="#130" d="M734 1053l15-3 8 1-14 4z"/>
<path fill="#020" d="M725 1051l15-3 9 2-15 3z"/>
<path fill="#010" d="M716 1050l15-3 9 1-15 3z"/>
<path fill="#000" d="M707 1049l15-3 9 1-15 3zm-9 0l15-4 9 1-15 3zm-9 0l15-4 9 0-15 4zm-9 0l15-4 9 0-15 4zm-9 0l15-3 9-1-15 4z"/>
<path fill="#ce0" d="M661 1050l15-4 10 0-15 3z"/>
<path fill="#dc0" d="M652 1051l15-4 9-1-15 4z"/>
<path fill="#eb0" d="M642 1052l15-3 10-2-15 4zm-10 2l16-3 9-2-15 3zm-9 2l15-3 10-2-16 3z"/>
<path fill="#e90" d="M613 1059l15-4 10-2-15 3zm-10 2l15-3 10-3-15 4z"/>
<path fill="#e70" d="M593 1065l15-4 10-3-15 3zm-10 3l15-3 10-4-15 4z"/>
<path fill="#000" d="M572 1072l16-3 10-4-15 3zm-10 5l15-4 11-4-16 3zm-10 4l15-3 10-5-15 4zm-11 5l16-3 10-5-15 3z"/>
<path fill="#100" d="M531 1092l15-3 11-6-16 3z"/>
<path fill="#310" d="M520 1098l16-3 10-6-15 3z"/>
<path fill="#520" d="M509 1104l16-3 11-6-16 3z"/>
<path fill="#620" d="M499 1111l15-3 11-7-16 3z"/>
<path fill="#830" d="M488 1118l15-3 11-7-15 3z"/>
<path fill="#930" d="M477 1125l16-3 10-7-15 3z"/>
<path fill="#a50" d="M466 1133l16-3 11-8-16 3z"/>
<path fill="#b50" d="M455 1142l16-3 11-9-16 3z"/>
<path fill="#c60" d="M444 1150l16-3 11-8-16 3z"/>
<path fill="#d60" d="M433 1159l15-2 12-10-16 3z"/>
<path fill="#e70" d="M422 1169l15-3 11-9-15 2z"/>
<path fill="#e90" d="M410 1179l16-3 11-10-15 3zm-11 10l16-2 11-11-16 3z"/>
<path fill="#eb0" d="M388 1200l15-2 12-11-16 2zm-12 12l16-3 11-11-15 2zm-11 11l16-2 11-12-16 3z"/>
<path fill="#120" d="M749 1050l15-3 8 1-15 3z"/>
<path fill="#010" d="M740 1048l15-3 9 2-15 3z"/>
<path fill="#000" d="M731 1047l15-3 9 1-15 3zm-9-1l15-3 9 1-15 3zm-9-1l15-3 9 1-15 3zm-9 0l15-3 9 0-15 3zm-9 0l15-3 9 0-15 3z"/>
<path fill="#dc0" d="M686 1046l15-3 9-1-15 3zm-10 0l16-3 9 0-15 3z"/>
<path fill="#eb0" d="M667 1047l15-3 10-1-16 3zm-10 2l16-3 9-2-15 3z"/>
<path fill="#e90" d="M648 1051l15-3 10-2-16 3zm-10 2l15-3 10-2-15 3z"/>
<path fill="#e70" d="M628 1055l15-3 10-2-15 3zm-10 3l15-3 10-3-15 3zm-10 3l15-3 10-3-15 3z"/>
<path fill="#000" d="M598 1065l15-3 10-4-15 3zm-10 4l15-3 10-4-15 3zm-11 4l16-3 10-4-15 3zm-10 5l16-3 10-5-16 3z"/>
<path fill="#100" d="M557 1083l15-3 11-5-16 3z"/>
<path fill="#210" d="M546 1089l16-3 10-6-15 3z"/>
<path fill="#410" d="M536 1095l15-3 11-6-16 3z"/>
<path fill="#620" d="M525 1101l16-3 10-6-15 3z"/>
<path fill="#820" d="M514 1108l16-3 11-7-16 3z"/>
<path fill="#930" d="M503 1115l16-3 11-7-16 3z"/>
<path fill="#a30" d="M493 1122l15-3 11-7-16 3z"/>
<path fill="#b40" d="M482 1130l15-3 11-8-15 3z"/>
<path fill="#c40" d="M471 1139l15-3 11-9-15 3z"/>
<path fill="#d40" d="M460 1147l15-2 11-9-15 3zm-12 10l16-3 11-9-15 2z"/>
<path fill="#e70" d="M437 1166l16-2 11-10-16 3zm-11 10l16-2 11-10-16 2zm-11 11l16-3 11-10-16 2z"/>
<path fill="#e90" d="M403 1198l16-3 12-11-16 3zm-11 11l16-2 11-12-16 3z"/>
<path fill="#eb0" d="M381 1221l15-3 12-11-16 2z"/>
<path fill="#010" d="M764 1047l15-3 8 2-15 2zm-9-2l15-3 9 2-15 3z"/>
<path fill="#000" d="M746 1044l15-3 9 1-15 3zm-9-1l16-3 8 1-15 3zm-9-1l16-2 9 0-16 3zm-9 0l16-3 9 1-16 2zm-9 0l15-3 10 0-16 3z"/>
<path fill="#dc0" d="M701 1043l15-3 9-1-15 3z"/>
<path fill="#eb0" d="M692 1043l15-2 9-1-15 3z"/>
<path fill="#e90" d="M682 1044l15-2 10-1-15 2zm-9 2l15-3 9-1-15 2zm-10 2l15-3 10-2-15 3z"/>
<path fill="#e70" d="M653 1050l16-3 9-2-15 3zm-10 2l16-2 10-3-16 3z"/>
<path fill="#e50" d="M633 1055l16-3 10-2-16 2zm-10 3l16-2 10-4-16 3z"/>
<path fill="#000" d="M613 1062l16-3 10-3-16 2zm-10 4l16-3 10-4-16 3zm-10 4l16-2 10-5-16 3z"/>
<path fill="#100" d="M583 1075l15-3 11-4-16 2z"/>
<path fill="#200" d="M572 1080l16-2 10-6-15 3z"/>
<path fill="#410" d="M562 1086l16-3 10-5-16 2z"/>
<path fill="#610" d="M551 1092l16-3 11-6-16 3z"/>
<path fill="#710" d="M541 1098l15-2 11-7-16 3z"/>
<path fill="#820" d="M530 1105l16-3 10-6-15 2z"/>
<path fill="#a20" d="M519 1112l16-3 11-7-16 3z"/>
<path fill="#b20" d="M508 1119l16-2 11-8-16 3z"/>
<path fill="#c20" d="M497 1127l16-2 11-8-16 2z"/>
<path fill="#c21" d="M486 1136l16-2 11-9-16 2z"/>
<path fill="#d40" d="M475 1145l16-3 11-8-16 2z"/>
<path fill="#e50" d="M464 1154l16-2 11-10-16 3zm-11 10l16-3 11-9-16 2zm-11 10l16-2 11-11-16 3z"/>
<path fill="#e70" d="M431 1184l16-2 11-10-16 2zm-12 11l16-2 12-11-16 2z"/>
<path fill="#e90" d="M408 1207l16-2 11-12-16 2zm-12 11l16-2 12-11-16 2z"/>
<path fill="#010" d="M779 1044l15-3 8 2-15 3z"/>
<path fill="#000" d="M770 1042l15-2 9 1-15 3zm-9-1l16-2 8 1-15 2zm-8-1l15-2 9 1-16 2zm-9 0l15-3 9 1-15 2zm-9-1l15-2 9 0-15 3z"/>
<path fill="#dc0" d="M725 1039l16-2 9 0-15 2z"/>
<path fill="#eb0" d="M716 1040l16-3 9 0-16 2z"/>
<path fill="#e90" d="M707 1041l15-3 10-1-16 3zm-10 1l16-3 9-1-15 3z"/>
<path fill="#e70" d="M688 1043l16-2 9-2-16 3zm-10 2l16-2 10-2-16 2z"/>
<path fill="#e50" d="M669 1047l15-2 10-2-16 2zm-10 3l16-3 9-2-15 2zm-10 2l16-2 10-3-16 3z"/>
<path fill="#000" d="M639 1056l16-3 10-3-16 2zm-10 3l16-2 10-4-16 3zm-10 4l16-2 10-4-16 2zm-10 5l15-3 11-4-16 2z"/>
<path fill="#100" d="M598 1072l16-2 10-5-15 3z"/>
<path fill="#300" d="M588 1078l16-3 10-5-16 2z"/>
<path fill="#510" d="M578 1083l15-2 11-6-16 3z"/>
<path fill="#710" d="M567 1089l16-2 10-6-15 2z"/>
<path fill="#810" d="M556 1096l16-3 11-6-16 2z"/>
<path fill="#911" d="M546 1102l16-2 10-7-16 3z"/>
<path fill="#a11" d="M535 1109l16-2 11-7-16 2z"/>
<path fill="#b11" d="M524 1117l16-2 11-8-16 2z"/>
<path fill="#c21" d="M513 1125l16-2 11-8-16 2z"/>
<path fill="#d31" d="M502 1134l16-2 11-9-16 2z"/>
<path fill="#e31" d="M491 1142l16-2 11-8-16 2zm-11 10l16-2 11-10-16 2zm-11 9l16-1 11-10-16 2z"/>
<path fill="#e50" d="M458 1172l16-2 11-10-16 1zm-11 10l16-2 11-10-16 2z"/>
<path fill="#e70" d="M435 1193l16-2 12-11-16 2zm-11 12l16-2 11-12-16 2zm-12 11l17-1 11-12-16 2z"/>
<path fill="#000" d="M794 1041l15-2 9 2-16 2zm-9-1l16-2 8 1-15 2zm-8-1l15-2 9 1-16 2zm-9-1l15-2 9 1-15 2zm-9-1l15-2 9 1-15 2z"/>
<path fill="#dc0" d="M750 1037l15-2 9 0-15 2z"/>
<path fill="#eb0" d="M741 1037l15-2 9 0-15 2z"/>
<path fill="#e90" d="M732 1037l15-2 9 0-15 2zm-10 1l16-2 9-1-15 2z"/>
<path fill="#e70" d="M713 1039l16-2 9-1-16 2zm-9 2l15-2 10-2-16 2z"/>
<path fill="#e50" d="M694 1043l16-2 9-2-15 2zm-10 2l16-2 10-2-16 2z"/>
<path fill="#e31" d="M675 1047l15-2 10-2-16 2z"/>
<path fill="#000" d="M665 1050l15-2 10-3-15 2zm-10 3l16-2 9-3-15 2zm-10 4l16-2 10-4-16 2zm-10 4l16-2 10-4-16 2z"/>
<path fill="#100" d="M624 1065l16-1 11-5-16 2z"/>
<path fill="#200" d="M614 1070l16-2 10-4-16 1z"/>
<path fill="#410" d="M604 1075l16-1 10-6-16 2z"/>
<path fill="#610" d="M593 1081l16-2 11-5-16 1z"/>
<path fill="#810" d="M583 1087l16-2 10-6-16 2z"/>
<path fill="#911" d="M572 1093l16-1 11-7-16 2z"/>
<path fill="#a11" d="M562 1100l16-2 10-6-16 1z"/>
<path fill="#b11" d="M551 1107l16-1 11-8-16 2z"/>
<path fill="#c21" d="M540 1115l16-2 11-7-16 1z"/>
<path fill="#d21" d="M529 1123l16-2 11-8-16 2zm-11 9l16-2 11-9-16 2z"/>
<path fill="#e21" d="M507 1140l16-1 11-9-16 2z"/>
<path fill="#e31" d="M496 1150l16-2 11-9-16 1zm-11 10l16-2 11-10-16 2zm-11 10l16-2 11-10-16 2z"/>
<path fill="#e50" d="M463 1180l16-1 11-11-16 2zm-12 11l17-1 11-11-16 1zm-11 12l16-1 12-12-17 1z"/>
<path fill="#e70" d="M429 1215l16-1 11-12-16 1z"/>
<path fill="#000" d="M809 1039l15-1 9 1-15 2zm-8-1l15-2 8 2-15 1zm-9-1l15-2 9 1-15 2zm-9-1l16-2 8 1-15 2zm-9-1l16-2 9 1-16 2z"/>
<path fill="#eb0" d="M765 1035l16-2 9 0-16 2z"/>
<path fill="#e90" d="M756 1035l16-2 9 0-16 2zm-9 0l16-1 9-1-16 2z"/>
<path fill="#e70" d="M738 1036l16-2 9 0-16 1zm-9 1l15-1 10-2-16 2z"/>
<path fill="#e50" d="M719 1039l16-2 9-1-15 1zm-9 2l15-2 10-2-16 2z"/>
<path fill="#e31" d="M700 1043l16-2 9-2-15 2zm-10 2l16-1 10-3-16 2z"/>
<path fill="#000" d="M680 1048l16-2 10-2-16 1zm-9 3l15-1 10-4-16 2zm-10 4l16-2 9-3-15 1z"/>
<path fill="#100" d="M651 1059l15-2 11-4-16 2z"/>
<path fill="#200" d="M640 1064l16-2 10-5-15 2z"/>
<path fill="#400" d="M630 1068l16-1 10-5-16 2z"/>
<path fill="#610" d="M620 1074l16-2 10-5-16 1z"/>
<path fill="#710" d="M609 1079l17-1 10-6-16 2z"/>
<path fill="#810" d="M599 1085l16-1 11-6-17 1z"/>
<path fill="#a11" d="M588 1092l17-2 10-6-16 1z"/>
<path fill="#b11" d="M578 1098l16-1 11-7-17 2zm-11 8l16-2 11-7-16 1z"/>
<path fill="#c21" d="M556 1113l16-1 11-8-16 2z"/>
<path fill="#d21" d="M545 1121l17-1 10-8-16 1z"/>
<path fill="#e21" d="M534 1130l17-1 11-9-17 1zm-11 9l17-1 11-9-17 1zm-11 9l17-1 11-9-17 1zm-11 10l17-1 11-10-17 1z"/>
<path fill="#e31" d="M490 1168l16-1 12-10-17 1zm-11 11l16-1 11-11-16 1zm-11 11l16-1 11-11-16 1z"/>
<path fill="#e50" d="M456 1202l17-1 11-12-16 1zm-11 12l16-1 12-12-17 1z"/>
<path fill="#000" d="M824 1038l16-2 8 2-15 1zm-8-2l15-1 9 1-16 2zm-9-1l16-2 8 2-15 1zm-8-1l15-1 9 0-16 2z"/>
<path fill="#eb0" d="M790 1033l15-1 9 1-15 1z"/>
<path fill="#e90" d="M781 1033l15-1 9 0-15 1zm-9 0l16-1 8 0-15 1z"/>
<path fill="#e70" d="M763 1034l15-2 10 0-16 1zm-9 0l15-1 9-1-15 2z"/>
<path fill="#e50" d="M744 1036l16-2 9-1-15 1z"/>
<path fill="#e31" d="M735 1037l16-1 9-2-16 2zm-10 2l16-2 10-1-16 1zm-9 2l16-1 9-3-16 2z"/>
<path fill="#000" d="M706 1044l16-2 10-2-16 1zm-10 2l16-1 10-3-16 2zm-10 4l16-2 10-3-16 1zm-9 3l16-1 9-4-16 2z"/>
<path fill="#100" d="M666 1057l17-1 10-4-16 1z"/>
<path fill="#300" d="M656 1062l16-1 11-5-17 1z"/>
<path fill="#510" d="M646 1067l16-1 10-5-16 1z"/>
<path fill="#710" d="M636 1072l16-1 10-5-16 1z"/>
<path fill="#810" d="M626 1078l16-1 10-6-16 1z"/>
<path fill="#911" d="M615 1084l16-1 11-6-16 1z"/>
<path fill="#a11" d="M605 1090l16-1 10-6-16 1z"/>
<path fill="#b11" d="M594 1097l16-1 11-7-16 1z"/>
<path fill="#c11" d="M583 1104l17-1 10-7-16 1z"/>
<path fill="#d21" d="M572 1112l17-1 11-8-17 1zm-10 8l16-1 11-8-17 1z"/>
<path fill="#e21" d="M551 1129l16-1 11-9-16 1zm-11 9l16-1 11-9-16 1zm-11 9l16-1 11-9-16 1zm-11 10l16-1 11-10-16 1zm-12 10l17-1 11-10-16 1zm-11 11l17-1 11-11-17 1z"/>
<path fill="#e31" d="M484 1189l16-1 12-11-17 1zm-11 12l16-1 11-12-16 1z"/>
<path fill="#e50" d="M461 1213l17-1 11-12-16 1z"/>
<path fill="#000" d="M840 1036l15-1 9 2-16 1zm-9-1l16-1 8 1-15 1zm-8-2l15-1 9 2-16 1z"/>
<path fill="#eb0" d="M814 1033l16-2 8 1-15 1z"/>
<path fill="#e90" d="M805 1032l16-1 9 0-16 2zm-9 0l16-1 9 0-16 1z"/>
<path fill="#e70" d="M788 1032l15-1 9 0-16 1zm-10 0l16-1 9 0-15 1z"/>
<path fill="#e50" d="M769 1033l16-1 9-1-16 1z"/>
<path fill="#e31" d="M760 1034l16-1 9-1-16 1zm-9 2l16-1 9-2-16 1zm-10 1l16-1 10-1-16 1z"/>
<path fill="#000" d="M732 1040l16-1 9-3-16 1zm-10 2l16-1 10-2-16 1zm-10 3l16-1 10-3-16 1zm-10 3l17 0 9-4-16 1z"/>
<path fill="#100" d="M693 1052l16-1 10-3-17 0z"/>
<path fill="#200" d="M683 1056l16-1 10-4-16 1z"/>
<path fill="#400" d="M672 1061l17-1 10-5-16 1z"/>
<path fill="#610" d="M662 1066l17-1 10-5-17 1z"/>
<path fill="#810" d="M652 1071l16-1 11-5-17 1z"/>
<path fill="#910" d="M642 1077l16-1 10-6-16 1z"/>
<path fill="#a11" d="M631 1083l17-1 10-6-16 1z"/>
<path fill="#b11" d="M621 1089l16-1 11-6-17 1z"/>
<path fill="#c11" d="M610 1096l17-1 10-7-16 1zm-10 7l16 0 11-8-17 1z"/>
<path fill="#d11" d="M589 1111l16-1 11-7-16 0z"/>
<path fill="#d21" d="M578 1119l17 0 10-9-16 1zm-11 9l17-1 11-8-17 0z"/>
<path fill="#e21" d="M556 1137l17-1 11-9-17 1zm-11 9l17 0 11-10-17 1zm-11 10l17 0 11-10-17 0zm-11 10l17 0 11-10-17 0zm-11 11l16 0 12-11-17 0zm-12 11l17 0 11-11-16 0z"/>
<path fill="#e31" d="M489 1200l17 0 11-12-17 0zm-11 12l16 0 12-12-17 0z"/>
<path fill="#000" d="M855 1035l16-1 8 2-15 1zm-8-1l15-1 9 1-16 1zm-9-2l16 0 8 1-15 1z"/>
<path fill="#eb0" d="M830 1031l15 0 9 1-16 0z"/>
<path fill="#e90" d="M821 1031l16-1 8 1-15 0z"/>
<path fill="#e70" d="M812 1031l16-1 9 0-16 1zm-9 0l16-1 9 0-16 1z"/>
<path fill="#e50" d="M794 1031l16-1 9 0-16 1zm-9 1l16-1 9-1-16 1z"/>
<path fill="#e31" d="M776 1033l16-1 9-1-16 1z"/>
<path fill="#e21" d="M767 1035l16-1 9-2-16 1zm-10 1l16 0 10-2-16 1z"/>
<path fill="#000" d="M748 1039l16-1 9-2-16 0zm-10 2l16 0 10-3-16 1zm-10 3l17 0 9-3-16 0zm-9 4l16-1 10-3-17 0z"/>
<path fill="#200" d="M709 1051l16 0 10-4-16 1z"/>
<path fill="#400" d="M699 1055l16 0 10-4-16 0z"/>
<path fill="#610" d="M689 1060l16-1 10-4-16 0z"/>
<path fill="#710" d="M679 1065l16-1 10-5-16 1z"/>
<path fill="#810" d="M668 1070l17 0 10-6-16 1z"/>
<path fill="#a11" d="M658 1076l17-1 10-5-17 0zm-10 6l16-1 11-6-17 1z"/>
<path fill="#b11" d="M637 1088l17 0 10-7-16 1z"/>
<path fill="#c11" d="M627 1095l16 0 11-7-17 0z"/>
<path fill="#d11" d="M616 1103l17-1 10-7-16 0z"/>
<path fill="#d21" d="M605 1110l17 0 11-8-17 1zm-10 9l16-1 11-8-17 0zm-11 8l16 0 11-9-16 1zm-11 9l16 0 11-9-16 0zm-11 10l16 0 11-10-16 0z"/>
<path fill="#e21" d="M551 1156l16 0 11-10-16 0zm-11 10l16 0 11-10-16 0zm-12 11l17 0 11-11-16 0zm-11 11l17 0 11-11-17 0zm-11 12l17 0 11-12-17 0z"/>
<path fill="#e31" d="M494 1212l17 0 12-12-17 0z"/>
<path fill="#000" d="M871 1034l15 0 9 2-16 0zm-9-1l16-1 8 2-15 0z"/>
<path fill="#eb0" d="M854 1032l16-1 8 1-16 1z"/>
<path fill="#e90" d="M845 1031l16-1 9 1-16 1zm-8-1l16 0 8 0-16 1z"/>
<path fill="#e70" d="M828 1030l16-1 9 1-16 0z"/>
<path fill="#e50" d="M819 1030l16 0 9-1-16 1zm-9 0l16 0 9 0-16 0z"/>
<path fill="#e31" d="M801 1031l16 0 9-1-16 0zm-9 1l16 0 9-1-16 0z"/>
<path fill="#e21" d="M783 1034l16 0 9-2-16 0z"/>
<path fill="#000" d="M773 1036l16-1 10-1-16 0zm-9 2l16 0 9-3-16 1zm-10 3l16-1 10-2-16 0zm-9 3l16-1 9-3-16 1z"/>
<path fill="#100" d="M735 1047l16 0 10-4-16 1z"/>
<path fill="#300" d="M725 1051l16-1 10-3-16 0z"/>
<path fill="#510" d="M715 1055l16 0 10-5-16 1z"/>
<path fill="#710" d="M705 1059l16 0 10-4-16 0z"/>
<path fill="#810" d="M695 1064l16 0 10-5-16 0z"/>
<path fill="#910" d="M685 1070l16-1 10-5-16 0z"/>
<path fill="#a11" d="M675 1075l16 0 10-6-16 1z"/>
<path fill="#b11" d="M664 1081l17 0 10-6-16 0z"/>
<path fill="#c11" d="M654 1088l16 0 11-7-17 0z"/>
<path fill="#d11" d="M643 1095l17 0 10-7-16 0zm-10 7l16 0 11-7-17 0zm-11 8l17 0 10-8-16 0zm-11 8l17 1 11-9-17 0z"/>
<path fill="#d21" d="M600 1127l17 0 11-8-17-1zm-11 9l17 0 11-9-17 0zm-11 10l17 0 11-10-17 0zm-11 10l17 0 11-10-17 0z"/>
<path fill="#e21" d="M556 1166l17 1 11-11-17 0zm-11 11l17 0 11-10-17-1zm-11 11l17 1 11-12-17 0zm-11 12l17 1 11-12-17-1zm-12 12l17 1 12-12-17-1z"/>
<path fill="#000" d="M886 1034l16 0 8 2-15 0zm-8-2l16 0 8 2-16 0z"/>
<path fill="#eb0" d="M870 1031l15 0 9 1-16 0z"/>
<path fill="#e90" d="M861 1030l16 0 8 1-15 0z"/>
<path fill="#e70" d="M853 1030l15 0 9 0-16 0z"/>
<path fill="#e50" d="M844 1029l16 0 8 1-15 0zm-9 1l16 0 9-1-16 0z"/>
<path fill="#e31" d="M826 1030l16 0 9 0-16 0zm-9 1l16 0 9-1-16 0z"/>
<path fill="#e21" d="M808 1032l16 0 9-1-16 0z"/>
<path fill="#000" d="M799 1034l16 0 9-2-16 0zm-10 1l17 0 9-1-16 0zm-9 3l16 0 10-3-17 0zm-10 2l17 0 9-2-16 0z"/>
<path fill="#100" d="M761 1043l16 0 10-3-17 0z"/>
<path fill="#200" d="M751 1047l17 0 9-4-16 0z"/>
<path fill="#400" d="M741 1050l17 1 10-4-17 0z"/>
<path fill="#610" d="M731 1055l17 0 10-4-17-1z"/>
<path fill="#710" d="M721 1059l17 0 10-4-17 0z"/>
<path fill="#910" d="M711 1064l17 0 10-5-17 0z"/>
<path fill="#a11" d="M701 1069l17 1 10-6-17 0z"/>
<path fill="#b11" d="M691 1075l17 1 10-6-17-1z"/>
<path fill="#c11" d="M681 1081l16 1 11-6-17-1zm-11 7l17 0 10-6-16-1z"/>
<path fill="#d11" d="M660 1095l17 0 10-7-17 0zm-11 7l17 1 11-8-17 0zm-10 8l16 1 11-8-17-1zm-11 9l17 0 10-8-16-1zm-11 8l17 1 11-9-17 0zm-11 9l17 1 11-9-17-1z"/>
<path fill="#d21" d="M595 1146l17 1 11-10-17-1zm-11 10l17 1 11-10-17-1zm-11 11l17 0 11-10-17-1z"/>
<path fill="#e21" d="M562 1177l17 1 11-11-17 0zm-11 12l17 1 11-12-17-1zm-11 12l17 1 11-12-17-1zm-12 12l17 1 12-12-17-1z"/>
<path fill="#000" d="M902 1034l16 0 8 2-16 0z"/>
<path fill="#eb0" d="M894 1032l16 0 8 2-16 0z"/>
<path fill="#e90" d="M885 1031l16 0 9 1-16 0z"/>
<path fill="#e70" d="M877 1030l16 0 8 1-16 0zm-9 0l16 0 9 0-16 0z"/>
<path fill="#e50" d="M860 1029l16 1 8 0-16 0z"/>
<path fill="#e31" d="M851 1030l16 0 9 0-16-1zm-9 0l16 0 9 0-16 0z"/>
<path fill="#e21" d="M833 1031l16 0 9-1-16 0zm-9 1l16 0 9-1-16 0z"/>
<path fill="#000" d="M815 1034l16 0 9-2-16 0zm-9 1l16 1 9-2-16 0zm-10 3l17 0 9-2-16-1zm-9 2l16 1 10-3-17 0z"/>
<path fill="#100" d="M777 1043l17 1 9-3-16-1z"/>
<path fill="#300" d="M768 1047l16 0 10-3-17-1z"/>
<path fill="#510" d="M758 1051l16 0 10-4-16 0z"/>
<path fill="#710" d="M748 1055l17 0 9-4-16 0z"/>
<path fill="#810" d="M738 1059l17 1 10-5-17 0z"/>
<path fill="#910" d="M728 1064l17 1 10-5-17-1z"/>
<path fill="#a11" d="M718 1070l17 0 10-5-17-1z"/>
<path fill="#b11" d="M708 1076l16 0 11-6-17 0z"/>
<path fill="#c11" d="M697 1082l17 0 10-6-16 0z"/>
<path fill="#d11" d="M687 1088l17 1 10-7-17 0zm-10 7l17 1 10-7-17-1zm-11 8l17 1 11-8-17-1zm-11 8l17 1 11-8-17-1zm-10 8l17 1 10-8-17-1zm-11 9l17 1 11-9-17-1zm-11 9l17 1 11-9-17-1zm-11 10l17 1 11-10-17-1z"/>
<path fill="#d21" d="M601 1157l17 1 11-10-17-1zm-11 10l17 2 11-11-17-1zm-11 11l17 2 11-11-17-2z"/>
<path fill="#e21" d="M568 1190l17 1 11-11-17-2zm-11 12l17 1 11-12-17-1zm-12 12l18 1 11-12-17-1z"/>
<path fill="#000" d="M918 1034l16 1 8 1-16 0z"/>
<path fill="#eb0" d="M910 1032l16 1 8 2-16-1z"/>
<path fill="#e90" d="M901 1031l16 1 9 1-16-1z"/>
<path fill="#e70" d="M893 1030l16 1 8 1-16-1z"/>
<path fill="#e50" d="M884 1030l16 1 9 0-16-1zm-8 0l16 0 8 1-16-1z"/>
<path fill="#e31" d="M867 1030l16 0 9 0-16 0z"/>
<path fill="#e21" d="M858 1030l16 1 9-1-16 0zm-9 1l17 1 8-1-16-1z"/>
<path fill="#000" d="M840 1032l17 1 9-1-17-1zm-9 2l16 1 10-2-17-1zm-9 2l16 1 9-2-16-1zm-9 2l16 1 9-2-16-1z"/>
<path fill="#100" d="M803 1041l17 1 9-3-16-1z"/>
<path fill="#200" d="M794 1044l16 1 10-3-17-1z"/>
<path fill="#500" d="M784 1047l17 1 9-3-16-1z"/>
<path fill="#610" d="M774 1051l17 1 10-4-17-1z"/>
<path fill="#810" d="M765 1055l16 1 10-4-17-1z"/>
<path fill="#910" d="M755 1060l16 1 10-5-16-1z"/>
<path fill="#a11" d="M745 1065l16 1 10-5-16-1z"/>
<path fill="#b11" d="M735 1070l16 1 10-5-16-1z"/>
<path fill="#c11" d="M724 1076l17 1 10-6-16-1zm-10 6l17 2 10-7-17-1z"/>
<path fill="#d11" d="M704 1089l17 1 10-6-17-2zm-10 7l16 1 11-7-17-1zm-11 8l17 1 10-8-16-1zm-11 8l17 1 11-8-17-1zm-10 8l17 1 10-8-17-1zm-11 9l17 1 11-9-17-1zm-11 9l17 2 11-10-17-1zm-11 10l18 1 10-9-17-2zm-11 10l18 1 11-10-18-1z"/>
<path fill="#d21" d="M607 1169l18 1 11-11-18-1zm-11 11l17 1 12-11-18-1zm-11 11l17 2 11-12-17-1z"/>
<path fill="#e21" d="M574 1203l17 2 11-12-17-2zm-11 12l17 2 11-12-17-2z"/>
<path fill="#eb0" d="M934 1035l16 0 8 2-16-1z"/>
<path fill="#e90" d="M926 1033l16 1 8 1-16 0zm-9-1l16 1 9 1-16-1z"/>
<path fill="#e70" d="M909 1031l16 1 8 1-16-1z"/>
<path fill="#e50" d="M900 1031l17 0 8 1-16-1z"/>
<path fill="#e31" d="M892 1030l16 1 9 0-17 0zm-9 0l16 1 9 0-16-1z"/>
<path fill="#e21" d="M874 1031l17 1 8-1-16-1zm-8 1l16 1 9-1-17-1z"/>
<path fill="#000" d="M857 1033l16 1 9-1-16-1zm-10 2l17 1 9-2-16-1zm-9 2l17 1 9-2-17-1zm-9 2l17 1 9-2-17-1z"/>
<path fill="#200" d="M820 1042l16 1 10-3-17-1z"/>
<path fill="#400" d="M810 1045l17 1 9-3-16-1z"/>
<path fill="#610" d="M801 1048l16 1 10-3-17-1z"/>
<path fill="#710" d="M791 1052l17 1 9-4-16-1z"/>
<path fill="#810" d="M781 1056l17 2 10-5-17-1z"/>
<path fill="#a10" d="M771 1061l17 1 10-4-17-2z"/>
<path fill="#a11" d="M761 1066l17 1 10-5-17-1z"/>
<path fill="#b11" d="M751 1071l17 2 10-6-17-1z"/>
<path fill="#c11" d="M741 1077l17 2 10-6-17-2z"/>
<path fill="#d11" d="M731 1084l17 1 10-6-17-2zm-10 6l17 2 10-7-17-1zm-11 7l18 2 10-7-17-2zm-10 8l17 2 11-8-18-2zm-11 8l18 2 10-8-17-2zm-10 8l17 2 11-8-18-2zm-11 9l17 2 11-9-17-2zm-11 10l18 1 10-9-17-2zm-10 9l17 2 11-10-18-1zm-11 10l17 2 11-10-17-2zm-11 11l17 2 11-11-17-2z"/>
<path fill="#d21" d="M613 1181l18 2 11-11-17-2zm-11 12l18 2 11-12-18-2z"/>
<path fill="#e21" d="M591 1205l18 2 11-12-18-2zm-11 12l17 2 12-12-18-2z"/>
<path fill="#eb0" d="M950 1035l16 2 8 1-16-1z"/>
<path fill="#e90" d="M942 1034l16 1 8 2-16-2z"/>
<path fill="#e70" d="M933 1033l16 1 9 1-16-1zm-8-1l16 1 8 1-16-1z"/>
<path fill="#e50" d="M917 1031l16 2 8 0-16-1z"/>
<path fill="#e31" d="M908 1031l16 2 9 0-16-2zm-9 0l17 2 8 0-16-2z"/>
<path fill="#e21" d="M891 1032l16 1 9 0-17-2z"/>
<path fill="#000" d="M882 1033l16 1 9-1-16-1zm-9 1l16 2 9-2-16-1zm-9 2l16 1 9-1-16-2zm-9 2l16 1 9-2-16-1z"/>
<path fill="#100" d="M846 1040l16 2 9-3-16-1z"/>
<path fill="#300" d="M836 1043l17 1 9-2-16-2z"/>
<path fill="#500" d="M827 1046l17 1 9-3-17-1z"/>
<path fill="#610" d="M817 1049l17 2 10-4-17-1z"/>
<path fill="#810" d="M808 1053l17 2 9-4-17-2z"/>
<path fill="#910" d="M798 1058l17 1 10-4-17-2z"/>
<path fill="#a11" d="M788 1062l17 2 10-5-17-1z"/>
<path fill="#b11" d="M778 1067l17 2 10-5-17-2z"/>
<path fill="#c11" d="M768 1073l17 2 10-6-17-2zm-10 6l17 2 10-6-17-2z"/>
<path fill="#d11" d="M748 1085l17 2 10-6-17-2zm-10 7l17 2 10-7-17-2zm-10 7l17 2 10-7-17-2zm-11 8l17 2 11-8-17-2zm-10 8l17 2 10-8-17-2zm-11 8l17 2 11-8-17-2zm-11 9l18 2 10-9-17-2zm-10 9l17 3 11-10-18-2zm-11 10l17 2 11-9-17-3zm-11 10l17 3 11-11-17-2zm-11 11l17 2 11-10-17-3z"/>
<path fill="#d21" d="M631 1183l17 3 11-12-17-2zm-11 12l17 2 11-11-17-3zm-11 12l17 2 11-12-17-2z"/>
<path fill="#e21" d="M597 1219l18 3 11-13-17-2z"/>
<path fill="#eb0" d="M966 1037l16 1 8 2-16-2z"/>
<path fill="#e90" d="M958 1035l16 2 8 1-16-1z"/>
<path fill="#e70" d="M949 1034l17 2 8 1-16-2z"/>
<path fill="#e50" d="M941 1033l16 2 9 1-17-2zm-8 0l16 1 8 1-16-2z"/>
<path fill="#e31" d="M924 1033l17 1 8 0-16-1z"/>
<path fill="#e21" d="M916 1033l16 2 9-1-17-1zm-9 0l16 2 9 0-16-2z"/>
<path fill="#000" d="M898 1034l17 2 8-1-16-2zm-9 2l17 1 9-1-17-2zm-9 1l17 2 9-2-17-1z"/>
<path fill="#100" d="M871 1039l17 2 9-2-17-2z"/>
<path fill="#200" d="M862 1042l17 1 9-2-17-2z"/>
<path fill="#400" d="M853 1044l17 2 9-3-17-1z"/>
<path fill="#610" d="M844 1047l16 2 10-3-17-2z"/>
<path fill="#710" d="M834 1051l17 2 9-4-16-2z"/>
<path fill="#910" d="M825 1055l16 2 10-4-17-2z"/>
<path fill="#a10" d="M815 1059l17 2 9-4-16-2z"/>
<path fill="#b11" d="M805 1064l17 2 10-5-17-2zm-10 5l17 2 10-5-17-2z"/>
<path fill="#c11" d="M785 1075l17 2 10-6-17-2z"/>
<path fill="#d11" d="M775 1081l17 2 10-6-17-2zm-10 6l17 2 10-6-17-2zm-10 7l17 2 10-7-17-2zm-10 7l17 2 10-7-17-2zm-11 8l18 2 10-8-17-2zm-10 8l17 2 11-8-18-2zm-11 8l18 3 10-9-17-2zm-10 9l17 3 11-9-18-3zm-11 10l17 2 11-9-17-3zm-11 9l18 3 10-10-17-2zm-11 11l18 2 11-10-18-3zm-11 10l18 3 11-11-18-2zm-11 12l18 2 11-11-18-3z"/>
<path fill="#d21" d="M637 1197l18 3 11-12-18-2zm-11 12l18 3 11-12-18-3z"/>
<path fill="#e21" d="M615 1222l18 3 11-13-18-3z"/>
<path fill="#e90" d="M982 1038l16 2 8 2-16-2zm-8-1l16 2 8 1-16-2z"/>
<path fill="#e70" d="M966 1036l16 2 8 1-16-2z"/>
<path fill="#e50" d="M957 1035l17 2 8 1-16-2z"/>
<path fill="#e31" d="M949 1034l16 2 9 1-17-2zm-8 0l16 2 8 0-16-2z"/>
<path fill="#e21" d="M932 1035l17 2 8-1-16-2z"/>
<path fill="#000" d="M923 1035l17 2 9 0-17-2zm-8 1l16 2 9-1-17-2zm-9 1l17 3 8-2-16-2zm-9 2l17 2 9-1-17-3z"/>
<path fill="#100" d="M888 1041l17 2 9-2-17-2z"/>
<path fill="#300" d="M879 1043l17 3 9-3-17-2z"/>
<path fill="#510" d="M870 1046l17 3 9-3-17-3z"/>
<path fill="#710" d="M860 1049l17 3 10-3-17-3z"/>
<path fill="#810" d="M851 1053l17 2 9-3-17-3z"/>
<path fill="#910" d="M841 1057l17 2 10-4-17-2z"/>
<path fill="#a11" d="M832 1061l17 3 9-5-17-2z"/>
<path fill="#b11" d="M822 1066l17 3 10-5-17-3z"/>
<path fill="#c11" d="M812 1071l18 3 9-5-17-3zm-10 6l18 2 10-5-18-3z"/>
<path fill="#d11" d="M792 1083l18 2 10-6-18-2zm-10 6l18 3 10-7-18-2zm-10 7l18 3 10-7-18-3zm-10 7l17 3 11-7-18-3zm-10 8l17 3 10-8-17-3zm-11 8l18 3 10-8-17-3zm-10 9l17 3 11-9-18-3zm-11 9l18 3 10-9-17-3zm-11 9l18 3 11-9-18-3zm-10 10l17 3 11-10-18-3zm-11 10l17 3 11-10-17-3zm-11 11l18 3 10-11-17-3zm-11 11l18 4 11-12-18-3z"/>
<path fill="#d21" d="M655 1200l18 3 11-11-18-4zm-11 12l17 4 12-13-18-3z"/>
<path fill="#e21" d="M633 1225l17 3 11-12-17-4z"/>
<path fill="#e90" d="M998 1040l16 2 8 2-16-2z"/>
<path fill="#e70" d="M990 1039l16 2 8 1-16-2zm-8-1l16 2 8 1-16-2z"/>
<path fill="#e50" d="M974 1037l16 2 8 1-16-2z"/>
<path fill="#e31" d="M965 1036l17 3 8 0-16-2zm-8 0l16 3 9 0-17-3z"/>
<path fill="#e21" d="M949 1037l16 2 8 0-16-3z"/>
<path fill="#000" d="M940 1037l17 3 8-1-16-2zm-9 1l17 3 9-1-17-3zm-8 2l16 2 9-1-17-3z"/>
<path fill="#100" d="M914 1041l16 3 9-2-16-2z"/>
<path fill="#200" d="M905 1043l17 3 8-2-16-3z"/>
<path fill="#400" d="M896 1046l17 2 9-2-17-3z"/>
<path fill="#610" d="M887 1049l16 2 10-3-17-2z"/>
<path fill="#710" d="M877 1052l17 2 9-3-16-2z"/>
<path fill="#910" d="M868 1055l17 3 9-4-17-2z"/>
<path fill="#a10" d="M858 1059l18 3 9-4-17-3z"/>
<path fill="#b11" d="M849 1064l17 3 10-5-18-3zm-10 5l17 2 10-4-17-3z"/>
<path fill="#c11" d="M830 1074l17 3 9-6-17-2z"/>
<path fill="#d11" d="M820 1079l17 3 10-5-17-3zm-10 6l17 3 10-6-17-3zm-10 7l17 3 10-7-17-3zm-10 7l17 3 10-7-17-3zm-11 7l18 3 10-7-17-3zm-10 8l18 3 10-8-18-3zm-10 8l17 3 11-8-18-3zm-11 9l18 3 10-9-17-3zm-10 9l17 3 11-9-18-3zm-11 9l18 3 10-9-17-3zm-11 10l18 3 11-10-18-3zm-11 10l18 4 11-11-18-3zm-10 11l17 4 11-11-18-4zm-11 12l17 3 11-11-17-4zm-11 11l17 4 11-12-17-3z"/>
<path fill="#d21" d="M661 1216l18 3 11-12-17-4zm-11 12l18 4 11-13-18-3z"/>
<path fill="#e90" d="M1014 1042l16 3 8 2-16-3z"/>
<path fill="#e70" d="M1006 1041l16 3 8 1-16-3zm-8-1l16 3 8 1-16-3z"/>
<path fill="#e50" d="M990 1039l16 3 8 1-16-3z"/>
<path fill="#e31" d="M982 1039l16 3 8 0-16-3z"/>
<path fill="#e21" d="M973 1039l17 3 8 0-16-3z"/>
<path fill="#000" d="M965 1039l17 3 8 0-17-3zm-8 1l16 3 9-1-17-3zm-9 1l17 3 8-1-16-3zm-9 1l17 3 9-1-17-3z"/>
<path fill="#100" d="M930 1044l17 3 9-2-17-3z"/>
<path fill="#300" d="M922 1046l16 3 9-2-17-3z"/>
<path fill="#510" d="M913 1048l16 3 9-2-16-3z"/>
<path fill="#710" d="M903 1051l17 3 9-3-16-3z"/>
<path fill="#810" d="M894 1054l17 4 9-4-17-3z"/>
<path fill="#910" d="M885 1058l17 3 9-3-17-4z"/>
<path fill="#a11" d="M876 1062l17 3 9-4-17-3z"/>
<path fill="#b11" d="M866 1067l17 3 10-5-17-3z"/>
<path fill="#c11" d="M856 1071l18 4 9-5-17-3zm-9 6l17 3 10-5-18-4z"/>
<path fill="#d11" d="M837 1082l17 4 10-6-17-3zm-10 6l17 4 10-6-17-4zm-10 7l18 3 9-6-17-4zm-10 7l17 3 11-7-18-3zm-10 7l17 4 10-8-17-3zm-10 8l17 3 10-7-17-4zm-11 8l18 4 10-9-17-3zm-10 9l17 3 11-8-18-4zm-11 9l18 4 10-10-17-3zm-10 9l17 4 11-9-18-4zm-11 10l18 4 10-10-17-4zm-11 11l18 4 11-11-18-4zm-11 11l18 4 11-11-18-4zm-11 11l18 4 11-11-18-4zm-11 12l18 4 11-12-18-4z"/>
<path fill="#d21" d="M679 1219l18 4 11-12-18-4zm-11 13l18 4 11-13-18-4z"/>
<path fill="#e90" d="M1030 1045l16 3 8 2-16-3z"/>
<path fill="#e70" d="M1022 1044l17 3 7 1-16-3z"/>
<path fill="#e50" d="M1014 1043l17 3 8 1-17-3zm-8-1l17 3 8 1-17-3z"/>
<path fill="#e31" d="M998 1042l17 3 8 0-17-3z"/>
<path fill="#e21" d="M990 1042l17 3 8 0-17-3z"/>
<path fill="#000" d="M982 1042l16 3 9 0-17-3zm-9 1l17 3 8-1-16-3zm-8 1l16 3 9-1-17-3z"/>
<path fill="#100" d="M956 1045l17 3 8-1-16-3z"/>
<path fill="#200" d="M947 1047l17 3 9-2-17-3z"/>
<path fill="#400" d="M938 1049l17 3 9-2-17-3z"/>
<path fill="#610" d="M929 1051l17 4 9-3-17-3z"/>
<path fill="#710" d="M920 1054l17 4 9-3-17-4z"/>
<path fill="#910" d="M911 1058l17 3 9-3-17-4z"/>
<path fill="#a10" d="M902 1061l17 4 9-4-17-3z"/>
<path fill="#b11" d="M893 1065l17 4 9-4-17-4zm-10 5l17 3 10-4-17-4z"/>
<path fill="#c11" d="M874 1075l17 3 9-5-17-3z"/>
<path fill="#d11" d="M864 1080l17 4 10-6-17-3zm-10 6l18 3 9-5-17-4zm-10 6l18 3 10-6-18-3zm-9 6l17 4 10-7-18-3zm-11 7l18 4 10-7-17-4zm-10 8l18 4 10-8-18-4zm-10 7l18 4 10-7-18-4zm-10 9l18 4 10-9-18-4zm-11 8l18 5 11-9-18-4zm-10 10l18 4 10-9-18-5zm-11 9l18 4 11-9-18-4zm-10 10l18 5 10-11-18-4zm-11 11l18 4 11-10-18-5zm-11 11l18 4 11-11-18-4zm-11 11l18 5 11-12-18-4zm-11 12l18 5 11-12-18-5z"/>
<path fill="#d21" d="M697 1223l18 5 11-12-18-5zm-11 13l18 5 11-13-18-5z"/>
<path fill="#e90" d="M1046 1048l17 4 7 1-16-3z"/>
<path fill="#e70" d="M1039 1047l16 3 8 2-17-4z"/>
<path fill="#e50" d="M1031 1046l16 3 8 1-16-3zm-8-1l16 4 8 0-16-3z"/>
<path fill="#e31" d="M1015 1045l16 3 8 1-16-4z"/>
<path fill="#000" d="M1007 1045l16 3 8 0-16-3zm-9 0l17 4 8-1-16-3zm-8 1l17 3 8 0-17-4zm-9 1l17 3 9-1-17-3z"/>
<path fill="#100" d="M973 1048l17 4 8-2-17-3z"/>
<path fill="#300" d="M964 1050l17 4 9-2-17-4z"/>
<path fill="#510" d="M955 1052l17 4 9-2-17-4z"/>
<path fill="#710" d="M946 1055l18 4 8-3-17-4z"/>
<path fill="#810" d="M937 1058l18 4 9-3-18-4z"/>
<path fill="#910" d="M928 1061l18 4 9-3-18-4z"/>
<path fill="#a11" d="M919 1065l17 4 10-4-18-4z"/>
<path fill="#b11" d="M910 1069l17 4 9-4-17-4z"/>
<path fill="#c11" d="M900 1073l18 4 9-4-17-4zm-9 5l17 4 10-5-18-4z"/>
<path fill="#d11" d="M881 1084l18 4 9-6-17-4zm-9 5l17 4 10-5-18-4zm-10 6l17 5 10-7-17-4zm-10 7l18 4 9-6-17-5zm-10 7l18 4 10-7-18-4zm-10 8l18 4 10-8-18-4zm-10 7l18 5 10-8-18-4zm-10 9l17 4 11-8-18-5zm-11 9l18 4 10-9-17-4zm-10 9l18 4 10-9-18-4zm-11 9l18 5 11-10-18-4zm-10 11l18 4 10-10-18-5zm-11 10l18 5 11-11-18-4zm-11 11l18 5 11-11-18-5zm-11 12l18 4 11-11-18-5zm-11 12l19 5 10-13-18-4z"/>
<path fill="#d21" d="M715 1228l19 5 11-12-19-5zm-11 13l18 5 12-13-19-5z"/>
<path fill="#e90" d="M1063 1052l16 3 8 2-17-4z"/>
<path fill="#e70" d="M1055 1050l16 4 8 1-16-3z"/>
<path fill="#e50" d="M1047 1049l17 4 7 1-16-4zm-8 0l17 3 8 1-17-4z"/>
<path fill="#e31" d="M1031 1048l17 4 8 0-17-3z"/>
<path fill="#000" d="M1023 1048l17 4 8 0-17-4zm-8 1l17 4 8-1-17-4zm-8 0l16 4 9 0-17-4z"/>
<path fill="#100" d="M998 1050l17 4 8-1-16-4z"/>
<path fill="#200" d="M990 1052l17 4 8-2-17-4z"/>
<path fill="#400" d="M981 1054l17 4 9-2-17-4z"/>
<path fill="#610" d="M972 1056l17 4 9-2-17-4z"/>
<path fill="#710" d="M964 1059l17 4 8-3-17-4z"/>
<path fill="#910" d="M955 1062l17 4 9-3-17-4z"/>
<path fill="#a10" d="M946 1065l17 4 9-3-17-4z"/>
<path fill="#b11" d="M936 1069l18 4 9-4-17-4zm-9 4l18 4 9-4-18-4z"/>
<path fill="#c11" d="M918 1077l17 5 10-5-18-4z"/>
<path fill="#d11" d="M908 1082l18 5 9-5-17-5zm-9 6l17 4 10-5-18-5zm-10 5l18 5 9-6-17-4zm-10 7l18 4 10-6-18-5zm-9 6l17 5 10-7-18-4zm-10 7l17 5 10-7-17-5zm-10 8l17 5 10-8-17-5zm-10 8l17 5 10-8-17-5zm-11 8l18 5 10-8-17-5zm-10 9l18 5 10-9-18-5zm-10 9l18 5 10-9-18-5zm-11 10l18 5 11-10-18-5zm-10 10l18 5 10-10-18-5zm-11 11l18 5 11-11-18-5zm-11 11l18 5 11-11-18-5zm-11 11l19 6 10-12-18-5zm-10 13l18 5 11-12-19-6z"/>
<path fill="#d21" d="M734 1233l18 5 11-12-18-5zm-12 13l19 5 11-13-18-5z"/>
<path fill="#e90" d="M1079 1055l16 4 8 2-16-4z"/>
<path fill="#e70" d="M1071 1054l17 4 7 1-16-4z"/>
<path fill="#e50" d="M1064 1053l16 4 8 1-17-4zm-8-1l16 5 8 0-16-4z"/>
<path fill="#000" d="M1048 1052l17 4 7 1-16-5zm-8 0l17 4 8 0-17-4zm-8 1l17 4 8-1-17-4zm-9 0l17 5 9-1-17-4z"/>
<path fill="#100" d="M1015 1054l17 5 8-1-17-5z"/>
<path fill="#300" d="M1007 1056l17 4 8-1-17-5z"/>
<path fill="#510" d="M998 1058l17 4 9-2-17-4z"/>
<path fill="#710" d="M989 1060l18 5 8-3-17-4z"/>
<path fill="#810" d="M981 1063l17 4 9-2-18-5z"/>
<path fill="#910" d="M972 1066l17 4 9-3-17-4z"/>
<path fill="#a11" d="M963 1069l17 5 9-4-17-4z"/>
<path fill="#b11" d="M954 1073l17 5 9-4-17-5z"/>
<path fill="#c11" d="M945 1077l17 5 9-4-17-5zm-10 5l18 4 9-4-17-5z"/>
<path fill="#d11" d="M926 1087l17 5 10-6-18-4zm-10 5l18 5 9-5-17-5zm-9 6l17 5 10-6-18-5zm-10 6l18 5 9-6-17-5zm-10 7l18 5 10-7-18-5zm-10 7l18 5 10-7-18-5zm-10 8l18 5 10-8-18-5zm-10 8l18 5 10-8-18-5zm-10 8l18 5 10-8-18-5zm-10 9l18 5 10-9-18-5zm-10 9l18 6 10-10-18-5zm-11 10l18 5 11-9-18-6zm-10 10l18 6 10-11-18-5zm-11 11l18 5 11-10-18-6zm-11 11l19 6 10-12-18-5zm-10 12l18 5 11-11-19-6zm-11 12l18 6 11-13-18-5z"/>
<path fill="#d21" d="M752 1238l18 6 11-12-18-6zm-11 13l18 6 11-13-18-6z"/>
<path fill="#e90" d="M1095 1059l17 5 7 1-16-4z"/>
<path fill="#e70" d="M1088 1058l16 5 8 1-17-5zm-8-1l17 5 7 1-16-5z"/>
<path fill="#e50" d="M1072 1057l17 4 8 1-17-5z"/>
<path fill="#000" d="M1065 1056l16 5 8 0-17-4zm-8 0l16 5 8 0-16-5zm-8 1l16 5 8-1-16-5zm-9 1l17 4 8 0-16-5z"/>
<path fill="#200" d="M1032 1059l17 5 8-2-17-4z"/>
<path fill="#400" d="M1024 1060l17 5 8-1-17-5z"/>
<path fill="#610" d="M1015 1062l17 5 9-2-17-5z"/>
<path fill="#710" d="M1007 1065l17 4 8-2-17-5z"/>
<path fill="#910" d="M998 1067l17 5 9-3-17-4z"/>
<path fill="#a11" d="M989 1070l17 5 9-3-17-5z"/>
<path fill="#b11" d="M980 1074l17 5 9-4-17-5zm-9 4l17 5 9-4-17-5z"/>
<path fill="#c11" d="M962 1082l17 5 9-4-17-5z"/>
<path fill="#d11" d="M953 1086l17 6 9-5-17-5zm-10 6l18 5 9-5-17-6zm-9 5l18 5 9-5-18-5zm-10 6l18 5 10-6-18-5zm-9 6l18 6 9-7-18-5zm-10 7l18 5 10-6-18-6zm-10 7l18 6 10-8-18-5zm-10 8l18 5 10-7-18-6zm-10 8l18 5 10-8-18-5zm-10 8l18 6 10-9-18-5zm-10 9l18 6 10-9-18-6zm-10 10l18 5 10-9-18-6zm-11 9l18 6 11-10-18-5zm-10 11l18 6 10-11-18-6zm-11 10l19 6 10-10-18-6zm-10 12l18 6 11-12-19-6zm-11 11l18 6 11-11-18-6z"/>
<path fill="#d21" d="M781 1232l18 6 11-13-18-6zm-11 12l19 6 10-12-18-6z"/>
<path fill="#e21" d="M759 1257l19 7 11-14-19-6z"/>
<path fill="#e90" d="M1112 1064l16 5 8 1-17-5z"/>
<path fill="#e70" d="M1104 1063l17 4 7 2-16-5zm-7-1l16 5 8 0-17-4z"/>
<path fill="#000" d="M1089 1061l17 5 7 1-16-5zm-8 0l17 5 8 0-17-5zm-8 0l17 5 8 0-17-5zm-8 1l17 5 8-1-17-5z"/>
<path fill="#100" d="M1057 1062l17 6 8-1-17-5z"/>
<path fill="#300" d="M1049 1064l17 5 8-1-17-6z"/>
<path fill="#510" d="M1041 1065l17 5 8-1-17-5z"/>
<path fill="#710" d="M1032 1067l17 5 9-2-17-5z"/>
<path fill="#810" d="M1024 1069l17 6 8-3-17-5z"/>
<path fill="#910" d="M1015 1072l17 5 9-2-17-6z"/>
<path fill="#a11" d="M1006 1075l18 6 8-4-17-5z"/>
<path fill="#b11" d="M997 1079l18 5 9-3-18-6z"/>
<path fill="#c11" d="M988 1083l18 5 9-4-18-5zm-9 4l18 5 9-4-18-5z"/>
<path fill="#d11" d="M970 1092l18 5 9-5-18-5zm-9 5l18 5 9-5-18-5zm-9 5l17 6 10-6-18-5zm-10 6l18 6 9-6-17-6zm-9 7l17 5 10-6-18-6zm-10 6l18 6 9-7-17-5zm-10 8l18 5 10-7-18-6zm-10 7l18 6 10-8-18-5zm-10 8l18 6 10-8-18-6zm-10 9l18 6 10-9-18-6zm-10 9l18 6 10-9-18-6zm-10 9l18 7 10-10-18-6zm-11 10l19 7 10-10-18-7zm-10 11l18 6 11-10-19-7zm-10 10l18 7 10-11-18-6zm-11 12l18 6 11-11-18-7zm-11 11l19 7 10-12-18-6z"/>
<path fill="#d21" d="M799 1238l19 6 11-12-19-7zm-10 12l18 7 11-13-19-6z"/>
<path fill="#e21" d="M778 1264l18 6 11-13-18-7z"/>
<path fill="#e90" d="M1128 1069l17 5 7 1-16-5zm-7-2l17 6 7 1-17-5z"/>
<path fill="#e70" d="M1113 1067l17 5 8 1-17-6z"/>
<path fill="#000" d="M1106 1066l17 5 7 1-17-5zm-8 0l17 5 8 0-17-5zm-8 0l17 5 8 0-17-5zm-8 1l17 5 8-1-17-5z"/>
<path fill="#100" d="M1074 1068l17 5 8-1-17-5z"/>
<path fill="#400" d="M1066 1069l17 5 8-1-17-5z"/>
<path fill="#610" d="M1058 1070l17 6 8-2-17-5z"/>
<path fill="#710" d="M1049 1072l18 6 8-2-17-6z"/>
<path fill="#810" d="M1041 1075l17 5 9-2-18-6z"/>
<path fill="#a10" d="M1032 1077l18 6 8-3-17-5z"/>
<path fill="#a11" d="M1024 1081l17 5 9-3-18-6z"/>
<path fill="#b11" d="M1015 1084l17 6 9-4-17-5z"/>
<path fill="#c11" d="M1006 1088l17 6 9-4-17-6z"/>
<path fill="#d11" d="M997 1092l18 6 8-4-17-6zm-9 5l18 6 9-5-18-6zm-9 5l17 6 10-5-18-6zm-10 6l18 6 9-6-17-6zm-9 6l18 6 9-6-18-6zm-10 6l18 7 10-7-18-6zm-9 7l18 6 9-6-18-7zm-10 7l18 7 10-8-18-6zm-10 8l18 7 10-8-18-7zm-10 8l18 7 10-8-18-7zm-10 9l18 6 10-8-18-7zm-10 9l18 7 10-10-18-6zm-10 10l18 6 10-9-18-7zm-10 10l18 6 10-10-18-6zm-11 10l19 7 10-11-18-6zm-10 11l18 7 11-11-19-7zm-11 11l19 7 10-11-18-7z"/>
<path fill="#d21" d="M829 1232l18 7 11-12-19-7zm-11 12l18 7 11-12-18-7zm-11 13l19 7 10-13-18-7z"/>
<path fill="#e21" d="M796 1270l19 7 11-13-19-7z"/>
<path fill="#eb0" d="M1145 1074l17 5 7 2-17-6z"/>
<path fill="#e90" d="M1138 1073l16 5 8 1-17-5z"/>
<path fill="#000" d="M1130 1072l17 5 7 1-16-5zm-7-1l16 6 8 0-17-5zm-8 0l17 6 7 0-16-6zm-8 0l17 6 8 0-17-6z"/>
<path fill="#100" d="M1099 1072l17 6 8-1-17-6z"/>
<path fill="#200" d="M1091 1073l17 6 8-1-17-6z"/>
<path fill="#510" d="M1083 1074l17 6 8-1-17-6z"/>
<path fill="#610" d="M1075 1076l17 6 8-2-17-6z"/>
<path fill="#810" d="M1067 1078l17 6 8-2-17-6z"/>
<path fill="#910" d="M1058 1080l18 6 8-2-17-6z"/>
<path fill="#a11" d="M1050 1083l17 6 9-3-18-6z"/>
<path fill="#b11" d="M1041 1086l18 7 8-4-17-6z"/>
<path fill="#c11" d="M1032 1090l18 6 9-3-18-7zm-9 4l18 6 9-4-18-6z"/>
<path fill="#d11" d="M1015 1098l17 7 9-5-18-6zm-9 5l17 7 9-5-17-7zm-10 5l18 7 9-5-17-7zm-9 6l18 6 9-5-18-7zm-9 6l18 7 9-7-18-6zm-10 7l18 6 10-6-18-7zm-9 6l18 7 9-7-18-6zm-10 8l18 6 10-7-18-7zm-10 8l18 6 10-8-18-6zm-10 8l19 7 9-9-18-6zm-10 8l19 7 10-8-19-7zm-10 10l19 7 10-10-19-7zm-10 9l19 7 10-9-19-7zm-10 10l18 7 11-10-19-7zm-10 11l18 7 10-11-18-7zm-11 11l19 7 10-11-18-7zm-10 11l18 7 11-11-19-7z"/>
<path fill="#d21" d="M847 1239l19 7 10-12-18-7zm-11 12l19 8 11-13-19-7z"/>
<path fill="#e21" d="M826 1264l18 8 11-13-19-8zm-11 13l18 8 11-13-18-8z"/>
<path fill="#eb0" d="M1162 1079l16 6 7 2-16-6z"/>
<path fill="#e90" d="M1154 1078l17 6 7 1-16-6z"/>
<path fill="#000" d="M1147 1077l17 7 7 0-17-6zm-8 0l17 6 8 1-17-7zm-7 0l17 6 7 0-17-6zm-8 0l17 6 8 0-17-6z"/>
<path fill="#100" d="M1116 1078l17 6 8-1-17-6z"/>
<path fill="#300" d="M1108 1079l17 6 8-1-17-6z"/>
<path fill="#510" d="M1100 1080l17 6 8-1-17-6z"/>
<path fill="#710" d="M1092 1082l17 6 8-2-17-6z"/>
<path fill="#810" d="M1084 1084l17 6 8-2-17-6z"/>
<path fill="#911" d="M1076 1086l17 7 8-3-17-6z"/>
<path fill="#a11" d="M1067 1089l18 7 8-3-17-7z"/>
<path fill="#b11" d="M1059 1093l17 6 9-3-18-7z"/>
<path fill="#c11" d="M1050 1096l17 7 9-4-17-6zm-9 4l18 7 8-4-17-7z"/>
<path fill="#d11" d="M1032 1105l18 6 9-4-18-7zm-9 5l18 6 9-5-18-6zm-9 5l18 7 9-6-18-6zm-9 5l18 7 9-5-18-7zm-9 7l18 7 9-7-18-7zm-10 6l18 7 10-6-18-7zm-9 7l18 7 9-7-18-7zm-10 7l18 8 10-8-18-7zm-10 8l19 7 9-7-18-8zm-9 9l18 7 10-9-19-7zm-10 8l18 8 10-9-18-7zm-10 10l18 7 10-9-18-8zm-10 9l18 8 10-10-18-7zm-11 10l19 8 10-10-18-8zm-10 11l19 7 10-10-19-8zm-10 11l18 7 11-11-19-7z"/>
<path fill="#d21" d="M876 1234l19 8 10-12-18-7zm-10 12l18 8 11-12-19-8zm-11 13l19 7 10-12-18-8z"/>
<path fill="#e21" d="M844 1272l19 7 11-13-19-7zm-11 13l19 8 11-14-19-7z"/>
</g>
<ellipse cx="57.2" cy="315.9" rx="2.1" ry="1.8" fill="#f8c8c0" stroke="#7a1010" stroke-width=".6"/>
<circle cx="179.3" cy="264" r="2" fill="#d81010" stroke="#7a0000" stroke-width=".5"/>
<ellipse cx="212" cy="322" rx="2.1" ry="1.8" fill="#f8c8c0" stroke="#7a1010" stroke-width=".6"/>
<ellipse cx="296.8" cy="270.7" rx="2.1" ry="1.8" fill="#f8c8c0" stroke="#7a1010" stroke-width=".6"/>
<text transform="translate(568.6 236.4) scale(.93 1)" class="t">A: Tyrosine</text>
<!-- panel d -->
<g stroke="#000" stroke-width=".7" fill="#ff0" stroke-linejoin="round">
<polygon points="429.2,366.9 569.7,324.6 569.7,234 414.5,267.3"/>
<polygon points="569.7,324.6 667.5,388.6 680,283.6 569.7,234"/>
<polygon points="429.2,366.9 519.1,437.6 667.5,388.6 569.7,324.6"/>
</g>
<path d="M425.5 342L569.7 302M423.7 329.6L569.7 290.6M421.9 317.1L569.7 279.3M420 304.6L569.7 268M418.2 292.2L569.7 256.7M416.3 279.8L569.7 245.3M454.4 334L445.5 260.6M483.2 326L476.6 254M512 318L507.6 247.3M540.9 310L538.7 240.7M569.7 302L670.6 362.4M569.7 290.6L672.2 349.2M569.7 279.3L673.8 336.1M569.7 268L675.3 323M569.7 256.7L676.9 309.9M569.7 245.3L678.4 296.7M589.9 314L591.8 243.9M610.1 326.1L613.8 253.8M630.3 338.2L635.9 263.8M650.4 350.3L657.9 273.7" stroke="#000" stroke-width=".6" fill="none"/>
<path d="M425.8 342h-1.6M424 329.6h-1.6M422.2 317.1h-1.6M420.3 304.6h-1.6M418.5 292.2h-1.6M416.6 279.8h-1.6M414.8 267.3h-1.6M429.2 366.9l-.9 .9M447.2 381l-.9 .9M465.2 395.2l-.9 .9M483.1 409.3l-.9 .9M501.1 423.5l-.9 .9M519.1 437.6l-.9 .9M519.1 437.6l.9 .9M548.8 427.8l.9 .9M578.5 418l.9 .9M608.1 408.2l.9 .9M637.8 398.4l.9 .9M667.5 388.6l.9 .9" stroke="#000" stroke-width="1.3" fill="none"/>
<clipPath id="cfd"><polygon points="429.2,366.9 519.1,437.6 667.5,388.6 569.7,324.6"/></clipPath>
<g clip-path="url(#cfd)" fill="none" stroke-width=".8">
<path d="M405.5 440.4L399.8 434.9L395.6 429.2L392.7 423.3L391.3 417.2L391.2 410.9L392.5 404.6L395 398.3L398.8 392L403.7 385.8L409.8 379.6L416.8 373.7L424.8 367.9L433.6 362.4L443.2 357.1L453.4 352L464.3 347.3L475.6 343L487.4 339L499.6 335.4L512 332.2L524.7 329.4L537.4 327L550.3 325.1L563.1 323.6L575.8 322.7L588.4 322.1L600.7 322.1L612.8 322.6L624.6 323.5L635.9 324.9L646.8 326.8L657.2 329.1L667 331.9L676.2 335.1L684.7 338.7L692.4 342.8L699.3 347.2L705.3 351.9L710.4 357L714.6 362.4L717.7 368.1L719.7 373.9L720.6 380L720.3 386.3L718.8 392.6L716.1 399L712.1 405.4L706.8 411.8L700.3 418.1L692.5 424.3L683.5 430.3L673.3 436L661.9 441.5L649.6 446.5L636.2 451.2L622.1 455.4L607.2 459.1L591.7 462.2L575.8 464.7L559.7 466.6L543.5 467.8L527.4 468.4L511.5 468.3L496 467.6L481.2 466.2L467.1 464.1L454 461.5L441.8 458.2L430.8 454.4L421.1 450.2L412.6 445.5L405.5 440.4" stroke="#24d"/>
<path d="M422.7 434.6L417.5 429.7L413.6 424.7L410.9 419.4L409.4 413.9L409.2 408.4L410.2 402.7L412.3 397.1L415.5 391.4L419.8 385.8L425.1 380.3L431.3 374.9L438.3 369.7L446.1 364.7L454.6 359.9L463.8 355.4L473.5 351.2L483.7 347.2L494.4 343.6L505.3 340.3L516.6 337.4L528 334.9L539.5 332.7L551.2 331L562.8 329.7L574.3 328.8L585.7 328.3L597 328.3L607.9 328.7L618.6 329.6L628.9 330.9L638.8 332.6L648.2 334.7L657 337.2L665.3 340.1L672.9 343.4L679.8 347.1L686 351.1L691.4 355.4L695.9 360L699.5 364.8L702.1 369.9L703.8 375.2L704.5 380.7L704.1 386.3L702.6 392L699.9 397.7L696.2 403.4L691.3 409.2L685.4 414.8L678.3 420.3L670.1 425.6L660.9 430.7L650.7 435.5L639.6 440L627.7 444.1L615.1 447.8L601.9 451L588.1 453.7L574.1 455.9L559.8 457.6L545.4 458.7L531.1 459.2L517.1 459.2L503.5 458.5L490.3 457.3L477.8 455.5L466.1 453.1L455.3 450.3L445.5 447L436.8 443.2L429.1 439.1L422.7 434.6" stroke="#26e"/>
<path d="M441.8 428.1L437.2 424L433.6 419.6L431.1 415.1L429.7 410.4L429.4 405.5L430.1 400.6L431.7 395.7L434.4 390.8L438 385.9L442.4 381.1L447.7 376.4L453.7 371.9L460.4 367.5L467.8 363.3L475.7 359.3L484.2 355.5L493.1 352.1L502.3 348.9L511.9 346L521.8 343.4L531.8 341.2L542 339.3L552.2 337.8L562.5 336.7L572.6 335.9L582.7 335.5L592.6 335.5L602.3 335.8L611.7 336.6L620.8 337.7L629.5 339.2L637.7 341.1L645.5 343.3L652.7 345.9L659.4 348.8L665.4 352L670.7 355.5L675.3 359.3L679.2 363.3L682.2 367.6L684.5 372.1L685.8 376.7L686.2 381.5L685.7 386.3L684.2 391.3L681.8 396.3L678.4 401.2L674 406.2L668.7 411L662.4 415.8L655.2 420.4L647.1 424.7L638.3 428.8L628.6 432.7L618.3 436.2L607.4 439.3L596 442.1L584.2 444.4L572.1 446.3L559.9 447.7L547.6 448.7L535.3 449.1L523.3 449.1L511.6 448.5L500.3 447.5L489.6 445.9L479.5 444L470.2 441.6L461.7 438.7L454.1 435.5L447.4 432L441.8 428.1" stroke="#0dc"/>
<path d="M463.7 420.7L459.8 417.3L456.8 413.8L454.6 410.1L453.3 406.2L452.9 402.3L453.3 398.3L454.5 394.2L456.5 390.1L459.3 386.1L462.9 382.1L467.1 378.2L471.9 374.4L477.4 370.8L483.4 367.3L489.9 364L496.9 360.8L504.3 357.9L511.9 355.3L519.9 352.8L528.1 350.7L536.5 348.8L545 347.3L553.5 346L562.1 345L570.7 344.4L579.1 344.1L587.4 344L595.5 344.4L603.4 345L611 345.9L618.3 347.2L625.2 348.8L631.6 350.7L637.6 352.8L643.1 355.2L648.1 357.9L652.5 360.9L656.2 364L659.3 367.4L661.7 370.9L663.4 374.6L664.4 378.5L664.6 382.4L664 386.4L662.7 390.5L660.5 394.6L657.6 398.7L653.8 402.8L649.3 406.7L644 410.6L638 414.3L631.3 417.9L624 421.2L616 424.3L607.6 427.2L598.7 429.7L589.4 431.9L579.7 433.8L569.9 435.3L560 436.5L550 437.2L540.1 437.6L530.3 437.6L520.8 437.1L511.7 436.3L503 435.1L494.8 433.5L487.1 431.5L480.2 429.3L473.9 426.7L468.4 423.8L463.7 420.7" stroke="#2d2"/>
<path d="M490.9 411.4L488 409L485.7 406.5L484.1 403.8L483 401L482.5 398.2L482.7 395.3L483.4 392.3L484.8 389.4L486.7 386.4L489.1 383.5L492.1 380.6L495.5 377.8L499.4 375.1L503.8 372.6L508.5 370.1L513.5 367.8L518.9 365.6L524.6 363.6L530.4 361.8L536.5 360.2L542.7 358.9L549 357.7L555.3 356.7L561.7 356L568.1 355.5L574.4 355.3L580.6 355.3L586.6 355.5L592.5 356L598.1 356.7L603.5 357.7L608.6 358.9L613.4 360.3L617.8 361.9L621.8 363.7L625.4 365.7L628.6 367.8L631.3 370.2L633.5 372.7L635.1 375.3L636.3 378L636.8 380.8L636.9 383.7L636.3 386.7L635.2 389.6L633.4 392.6L631.2 395.6L628.3 398.5L624.9 401.4L621 404.2L616.5 406.8L611.6 409.4L606.2 411.8L600.4 414L594.3 416L587.9 417.8L581.2 419.4L574.3 420.7L567.3 421.8L560.2 422.6L553 423.2L546 423.4L539 423.4L532.2 423.1L525.7 422.5L519.4 421.6L513.5 420.5L508 419.2L503 417.5L498.4 415.7L494.4 413.7L490.9 411.4" stroke="#dc0"/>
<path d="M536.7 395.9L535.7 395.1L534.8 394.2L534.2 393.3L533.7 392.3L533.5 391.3L533.4 390.3L533.6 389.3L534 388.2L534.6 387.2L535.4 386.1L536.3 385.1L537.5 384.1L538.8 383.1L540.3 382.2L541.9 381.3L543.7 380.5L545.6 379.7L547.6 379L549.7 378.3L551.9 377.7L554.2 377.2L556.4 376.8L558.8 376.4L561.1 376.2L563.4 376L565.7 375.9L568 375.9L570.2 376L572.4 376.2L574.4 376.4L576.4 376.8L578.2 377.2L579.9 377.7L581.5 378.3L583 379L584.2 379.7L585.3 380.5L586.2 381.4L586.9 382.3L587.5 383.2L587.8 384.2L587.9 385.2L587.8 386.2L587.6 387.3L587.1 388.3L586.4 389.4L585.5 390.4L584.4 391.4L583.1 392.4L581.7 393.4L580.1 394.3L578.3 395.2L576.4 396L574.4 396.7L572.3 397.4L570 398L567.7 398.6L565.4 399L563 399.4L560.5 399.6L558.1 399.8L555.7 399.9L553.4 399.9L551.1 399.8L548.8 399.6L546.7 399.3L544.7 399L542.8 398.5L541 398L539.4 397.3L538 396.6L536.7 395.9" stroke="#e21"/>
</g>
<g transform="scale(0.25)" stroke="#000" stroke-width="1.5" stroke-linejoin="round">
<path fill="#24d" d="M2264 1202l10-7 15 2-10 7zm-14-1l9-7 15 1-10 7zm-15-2l10-7 14 2-9 7z"/>
<path fill="#25e" d="M2220 1199l10-8 15 1-10 7z"/>
<path fill="#25d" d="M2205 1198l10-7 15 0-10 8z"/>
<path fill="#26e" d="M2190 1198l10-7 15 0-10 7z"/>
<path fill="#17e" d="M2175 1198l10-7 15 0-10 7z"/>
<path fill="#17d" d="M2160 1198l9-7 16 0-10 7z"/>
<path fill="#08d" d="M2145 1199l9-7 15-1-9 7zm-16 1l10-7 15-1-9 7z"/>
<path fill="#09d" d="M2114 1202l9-8 16-1-10 7zm-15 1l9-7 15-2-9 8z"/>
<path fill="#09c" d="M2083 1205l9-7 16-2-9 7z"/>
<path fill="#0ac" d="M2068 1208l8-8 16-2-9 7z"/>
<path fill="#09b" d="M2052 1211l9-8 15-3-8 8zm-16 3l9-8 16-3-9 8zm-15 3l8-7 16-4-9 8z"/>
<path fill="#08a" d="M2005 1221l8-7 16-4-8 7zm-16 5l8-8 16-4-8 7z"/>
<path fill="#089" d="M1973 1230l9-7 15-5-8 8z"/>
<path fill="#079" d="M1957 1235l9-7 16-5-9 7z"/>
<path fill="#078" d="M1941 1241l9-8 16-5-9 7z"/>
<path fill="#067" d="M1925 1246l9-7 16-6-9 8z"/>
<path fill="#057" d="M1910 1253l7-8 17-6-9 7z"/>
<path fill="#046" d="M1894 1259l7-8 16-6-7 8z"/>
<path fill="#045" d="M1878 1266l7-8 16-7-7 8z"/>
<path fill="#034" d="M1862 1273l7-7 16-8-7 8z"/>
<path fill="#023" d="M1846 1281l7-8 16-7-7 7z"/>
<path fill="#012" d="M1830 1289l7-8 16-8-7 8z"/>
<path fill="#011" d="M1814 1297l7-7 16-9-7 8z"/>
<path fill="#001" d="M1798 1306l7-7 16-9-7 7z"/>
<path fill="#000" d="M1782 1315l7-7 16-9-7 7zm-16 10l7-7 16-10-7 7zm-16 10l7-7 16-10-7 7zm-16 10l7-7 16-10-7 7zm-16 11l7-7 16-11-7 7zm-16 11l7-7 16-11-7 7z"/>
<path fill="#24d" d="M2274 1195l10-6 14 2-9 6z"/>
<path fill="#25d" d="M2259 1194l10-7 15 2-10 6z"/>
<path fill="#26e" d="M2245 1192l9-6 15 1-10 7z"/>
<path fill="#17e" d="M2230 1191l9-6 15 1-9 6zm-15 0l9-7 15 1-9 6z"/>
<path fill="#08e" d="M2200 1191l9-7 15 0-9 7z"/>
<path fill="#0ad" d="M2185 1191l9-7 15 0-9 7z"/>
<path fill="#09d" d="M2169 1191l10-7 15 0-9 7z"/>
<path fill="#0ad" d="M2154 1192l9-7 16-1-10 7z"/>
<path fill="#0ac" d="M2139 1193l9-7 15-1-9 7z"/>
<path fill="#0bc" d="M2123 1194l9-7 16-1-9 7z"/>
<path fill="#0bb" d="M2108 1196l9-7 15-2-9 7z"/>
<path fill="#0ab" d="M2092 1198l9-7 16-2-9 7z"/>
<path fill="#0aa" d="M2076 1200l9-7 16-2-9 7z"/>
<path fill="#0a9" d="M2061 1203l9-7 15-3-9 7z"/>
<path fill="#099" d="M2045 1206l9-7 16-3-9 7z"/>
<path fill="#098" d="M2029 1210l9-7 16-4-9 7z"/>
<path fill="#088" d="M2013 1214l9-8 16-3-9 7z"/>
<path fill="#087" d="M1997 1218l9-7 16-5-9 8z"/>
<path fill="#077" d="M1982 1223l8-8 16-4-9 7z"/>
<path fill="#076" d="M1966 1228l8-8 16-5-8 8z"/>
<path fill="#066" d="M1950 1233l8-7 16-6-8 8z"/>
<path fill="#055" d="M1934 1239l8-8 16-5-8 7z"/>
<path fill="#044" d="M1917 1245l9-7 16-7-8 8z"/>
<path fill="#034" d="M1901 1251l8-7 17-6-9 7z"/>
<path fill="#023" d="M1885 1258l8-7 16-7-8 7z"/>
<path fill="#012" d="M1869 1266l8-8 16-7-8 7z"/>
<path fill="#011" d="M1853 1273l8-7 16-8-8 8z"/>
<path fill="#001" d="M1837 1281l8-7 16-8-8 7z"/>
<path fill="#000" d="M1821 1290l8-7 16-9-8 7zm-16 9l7-7 17-9-8 7zm-16 9l7-7 16-9-7 7zm-16 10l7-8 16-9-7 7zm-16 10l7-7 16-11-7 8zm-16 10l7-7 16-10-7 7zm-16 11l7-7 16-11-7 7zm-16 11l7-7 16-11-7 7z"/>
<path fill="#26e" d="M2284 1189l10-6 14 2-10 6z"/>
<path fill="#17e" d="M2269 1187l10-6 15 2-10 6z"/>
<path fill="#08e" d="M2254 1186l10-6 15 1-10 6z"/>
<path fill="#08d" d="M2239 1185l10-6 15 1-10 6z"/>
<path fill="#09d" d="M2224 1184l10-6 15 1-10 6z"/>
<path fill="#0bd" d="M2209 1184l10-7 15 1-10 6z"/>
<path fill="#0ac" d="M2194 1184l10-7 15 0-10 7z"/>
<path fill="#0bc" d="M2179 1184l9-6 16-1-10 7z"/>
<path fill="#0ba" d="M2163 1185l10-7 15 0-9 6zm-15 1l9-7 16-1-10 7z"/>
<path fill="#0aa" d="M2132 1187l10-7 15-1-9 7z"/>
<path fill="#0a8" d="M2117 1189l9-7 16-2-10 7zm-16 2l9-7 16-2-9 7z"/>
<path fill="#098" d="M2085 1193l10-7 15-2-9 7z"/>
<path fill="#096" d="M2070 1196l9-7 16-3-10 7z"/>
<path fill="#086" d="M2054 1199l9-7 16-3-9 7z"/>
<path fill="#085" d="M2038 1203l9-7 16-4-9 7z"/>
<path fill="#075" d="M2022 1206l9-6 16-4-9 7z"/>
<path fill="#065" d="M2006 1211l9-7 16-4-9 6z"/>
<path fill="#064" d="M1990 1215l9-7 16-4-9 7z"/>
<path fill="#053" d="M1974 1220l9-7 16-5-9 7z"/>
<path fill="#043" d="M1958 1226l8-7 17-6-9 7z"/>
<path fill="#032" d="M1942 1231l8-6 16-6-8 7z"/>
<path fill="#022" d="M1926 1238l8-7 16-6-8 6z"/>
<path fill="#011" d="M1909 1244l9-7 16-6-8 7zm-16 7l8-7 17-7-9 7z"/>
<path fill="#000" d="M1877 1258l8-6 16-8-8 7zm-16 8l8-7 16-7-8 6zm-16 8l8-7 16-8-8 7zm-16 9l7-7 17-9-8 7zm-17 9l8-7 16-9-7 7zm-16 9l8-7 16-9-8 7zm-16 9l8-6 16-10-8 7zm-16 11l7-7 17-10-8 6z"/>
<path fill="#18e" d="M1748 1331l7-7 16-10-7 7z"/>
<path fill="#26e" d="M1732 1342l7-7 16-11-7 7zm-16 11l7-6 16-12-7 7z"/>
<path fill="#08e" d="M2294 1183l10-6 15 2-11 6z"/>
<path fill="#0ad" d="M2279 1181l10-6 15 2-10 6z"/>
<path fill="#09d" d="M2264 1180l10-6 15 1-10 6z"/>
<path fill="#0ad" d="M2249 1179l10-6 15 1-10 6z"/>
<path fill="#0bc" d="M2234 1178l10-6 15 1-10 6z"/>
<path fill="#0bb" d="M2219 1177l10-6 15 1-10 6z"/>
<path fill="#0ba" d="M2204 1177l9-6 16 0-10 6z"/>
<path fill="#0b9" d="M2188 1178l10-7 15 0-9 6z"/>
<path fill="#0a9" d="M2173 1178l9-6 16-1-10 7z"/>
<path fill="#0a7" d="M2157 1179l10-6 15-1-9 6z"/>
<path fill="#097" d="M2142 1180l9-6 16-1-10 6z"/>
<path fill="#095" d="M2126 1182l10-6 15-2-9 6z"/>
<path fill="#085" d="M2110 1184l10-6 16-2-10 6zm-15 2l9-6 16-2-10 6z"/>
<path fill="#074" d="M2079 1189l9-6 16-3-9 6z"/>
<path fill="#073" d="M2063 1192l9-6 16-3-9 6z"/>
<path fill="#063" d="M2047 1196l9-7 16-3-9 6z"/>
<path fill="#052" d="M2031 1200l9-7 16-4-9 7z"/>
<path fill="#042" d="M2015 1204l9-7 16-4-9 7z"/>
<path fill="#032" d="M1999 1208l8-6 17-5-9 7z"/>
<path fill="#021" d="M1983 1213l8-6 16-5-8 6z"/>
<path fill="#011" d="M1966 1219l9-7 16-5-8 6zm-16 6l9-7 16-6-9 7z"/>
<path fill="#000" d="M1934 1231l8-7 17-6-9 7zm-16 6l8-6 16-7-8 7zm-17 7l9-6 16-7-8 6zm-16 8l8-7 17-7-9 6zm-16 7l8-6 16-8-8 7zm-16 8l8-6 16-8-8 6zm-17 9l8-6 17-9-8 6zm-16 9l8-6 16-9-8 6z"/>
<path fill="#0de" d="M1804 1294l7-6 17-9-8 6zm-16 10l7-6 16-10-7 6z"/>
<path fill="#0ce" d="M1771 1314l8-6 16-10-7 6z"/>
<path fill="#0af" d="M1755 1324l8-6 16-10-8 6z"/>
<path fill="#09f" d="M1739 1335l7-6 17-11-8 6z"/>
<path fill="#18e" d="M1723 1347l7-6 16-12-7 6z"/>
<path fill="#09d" d="M2304 1177l10-5 15 2-10 5z"/>
<path fill="#0ac" d="M2289 1175l10-5 15 2-10 5z"/>
<path fill="#0bc" d="M2274 1174l10-6 15 2-10 5z"/>
<path fill="#0ba" d="M2259 1173l10-6 15 1-10 6z"/>
<path fill="#0b9" d="M2244 1172l10-6 15 1-10 6zm-15-1l10-5 15 0-10 6z"/>
<path fill="#0a7" d="M2213 1171l10-5 16 0-10 5zm-15 0l10-5 15 0-10 5z"/>
<path fill="#095" d="M2182 1172l10-6 16 0-10 5zm-15 1l10-6 15-1-10 6z"/>
<path fill="#084" d="M2151 1174l10-6 16-1-10 6zm-15 2l9-6 16-2-10 6z"/>
<path fill="#072" d="M2120 1178l9-6 16-2-9 6z"/>
<path fill="#062" d="M2104 1180l9-6 16-2-9 6z"/>
<path fill="#052" d="M2088 1183l9-6 16-3-9 6zm-16 3l9-6 16-3-9 6z"/>
<path fill="#041" d="M2056 1189l9-6 16-3-9 6z"/>
<path fill="#031" d="M2040 1193l9-6 16-4-9 6z"/>
<path fill="#021" d="M2024 1197l9-5 16-5-9 6z"/>
<path fill="#010" d="M2007 1202l9-6 17-4-9 5zm-16 5l9-6 16-5-9 6z"/>
<path fill="#000" d="M1975 1212l9-5 16-6-9 6zm-16 6l8-6 17-5-9 5zm-17 6l9-6 16-6-8 6zm-16 7l9-6 16-7-9 6zm-16 7l8-6 17-7-9 6zm-17 7l9-6 16-7-8 6zm-16 8l8-6 17-8-9 6z"/>
<path fill="#0d8" d="M1861 1261l8-6 16-8-8 6z"/>
<path fill="#0da" d="M1844 1270l8-6 17-9-8 6zm-16 9l8-6 16-9-8 6z"/>
<path fill="#0db" d="M1811 1288l8-6 17-9-8 6z"/>
<path fill="#0dc" d="M1795 1298l8-6 16-10-8 6zm-16 10l7-6 17-10-8 6z"/>
<path fill="#0de" d="M1763 1318l7-5 16-11-7 6z"/>
<path fill="#0ce" d="M1746 1329l8-5 16-11-7 5z"/>
<path fill="#0af" d="M1730 1341l7-6 17-11-8 5z"/>
<path fill="#0bc" d="M2314 1172l10-5 15 2-10 5z"/>
<path fill="#0ba" d="M2299 1170l10-5 15 2-10 5z"/>
<path fill="#0b9" d="M2284 1168l10-5 15 2-10 5z"/>
<path fill="#0a9" d="M2269 1167l10-5 15 1-10 5z"/>
<path fill="#0a7" d="M2254 1166l10-5 15 1-10 5z"/>
<path fill="#096" d="M2239 1166l10-5 15 0-10 5z"/>
<path fill="#095" d="M2223 1166l10-5 16 0-10 5z"/>
<path fill="#084" d="M2208 1166l10-5 15 0-10 5z"/>
<path fill="#083" d="M2192 1166l10-5 16 0-10 5z"/>
<path fill="#072" d="M2177 1167l9-5 16-1-10 5zm-16 1l10-5 15-1-9 5z"/>
<path fill="#161" d="M2145 1170l10-5 16-2-10 5z"/>
<path fill="#051" d="M2129 1172l10-5 16-2-10 5z"/>
<path fill="#041" d="M2113 1174l10-5 16-2-10 5z"/>
<path fill="#030" d="M2097 1177l10-5 16-3-10 5z"/>
<path fill="#020" d="M2081 1180l10-5 16-3-10 5z"/>
<path fill="#010" d="M2065 1183l9-5 17-3-10 5zm-16 4l9-5 16-4-9 5z"/>
<path fill="#000" d="M2033 1192l9-6 16-4-9 5zm-17 4l10-5 16-5-9 6zm-16 5l9-5 17-5-10 5zm-16 6l9-6 16-5-9 5zm-17 5l9-5 17-6-9 6zm-16 6l9-5 16-6-9 5zm-16 7l8-5 17-7-9 5zm-17 7l9-5 16-7-8 5z"/>
<path fill="#1d4" d="M1902 1239l8-5 17-7-9 5zm-17 8l9-5 16-8-8 5z"/>
<path fill="#0d6" d="M1869 1255l8-5 17-8-9 5zm-17 9l8-5 17-9-8 5z"/>
<path fill="#0d8" d="M1836 1273l8-5 16-9-8 5zm-17 9l8-5 17-9-8 5z"/>
<path fill="#0da" d="M1803 1292l8-5 16-10-8 5z"/>
<path fill="#0db" d="M1786 1302l8-5 17-10-8 5z"/>
<path fill="#0dc" d="M1770 1313l8-5 16-11-8 5zm-16 11l7-5 17-11-8 5z"/>
<path fill="#0de" d="M1737 1335l8-5 16-11-7 5z"/>
<path fill="#0aa" d="M2324 1167l11-4 15 2-11 4z"/>
<path fill="#0a8" d="M2309 1165l11-4 15 2-11 4z"/>
<path fill="#0a7" d="M2294 1163l11-4 15 2-11 4z"/>
<path fill="#095" d="M2279 1162l11-4 15 1-11 4z"/>
<path fill="#094" d="M2264 1161l10-4 16 1-11 4z"/>
<path fill="#084" d="M2249 1161l10-5 15 1-10 4z"/>
<path fill="#073" d="M2233 1161l10-5 16 0-10 5z"/>
<path fill="#171" d="M2218 1161l10-5 15 0-10 5z"/>
<path fill="#161" d="M2202 1161l10-5 16 0-10 5z"/>
<path fill="#151" d="M2186 1162l10-5 16-1-10 5zm-15 1l10-5 15-1-10 5z"/>
<path fill="#141" d="M2155 1165l10-5 16-2-10 5z"/>
<path fill="#130" d="M2139 1167l10-5 16-2-10 5z"/>
<path fill="#020" d="M2123 1169l10-5 16-2-10 5z"/>
<path fill="#010" d="M2107 1172l9-5 17-3-10 5zm-16 3l9-5 16-3-9 5z"/>
<path fill="#000" d="M2074 1178l10-5 16-3-9 5zm-16 4l10-5 16-4-10 5zm-16 4l9-5 17-4-10 5zm-16 5l9-5 16-5-9 5zm-17 5l9-5 17-5-9 5zm-16 5l9-5 16-5-9 5zm-17 6l9-5 17-6-9 5z"/>
<path fill="#2d1" d="M1960 1213l9-5 16-6-9 5zm-17 7l9-5 17-7-9 5z"/>
<path fill="#2d2" d="M1927 1227l8-5 17-7-9 5zm-17 7l9-5 16-7-8 5z"/>
<path fill="#1d3" d="M1894 1242l8-5 17-8-9 5zm-17 8l9-4 16-9-8 5z"/>
<path fill="#1d4" d="M1860 1259l9-5 17-8-9 4zm-16 9l8-5 17-9-9 5z"/>
<path fill="#0d6" d="M1827 1277l9-4 16-10-8 5z"/>
<path fill="#0d8" d="M1811 1287l8-4 17-10-9 4zm-17 10l8-4 17-10-8 4z"/>
<path fill="#0da" d="M1778 1308l8-4 16-11-8 4z"/>
<path fill="#0db" d="M1761 1319l8-4 17-11-8 4z"/>
<path fill="#0dc" d="M1745 1330l8-4 16-11-8 4z"/>
<path fill="#097" d="M2335 1163l10-4 15 2-10 4z"/>
<path fill="#095" d="M2320 1161l10-4 15 2-10 4z"/>
<path fill="#084" d="M2305 1159l10-4 15 2-10 4zm-15-1l10-4 15 1-10 4z"/>
<path fill="#072" d="M2274 1157l11-4 15 1-10 4z"/>
<path fill="#161" d="M2259 1156l10-4 16 1-11 4zm-16 0l11-4 15 0-10 4z"/>
<path fill="#151" d="M2228 1156l10-4 16 0-11 4z"/>
<path fill="#141" d="M2212 1156l10-4 16 0-10 4z"/>
<path fill="#130" d="M2196 1157l11-4 15-1-10 4z"/>
<path fill="#020" d="M2181 1158l10-4 16-1-11 4z"/>
<path fill="#010" d="M2165 1160l10-4 16-2-10 4zm-16 2l10-5 16-1-10 4z"/>
<path fill="#000" d="M2133 1164l9-4 17-3-10 5zm-17 3l10-5 16-2-9 4zm-16 3l10-5 16-3-10 5zm-16 3l10-4 16-4-10 5zm-16 4l9-4 17-4-10 4zm-17 4l10-4 16-4-9 4zm-16 5l9-5 17-4-10 4z"/>
<path fill="#6d0" d="M2018 1191l10-4 16-6-9 5zm-16 5l9-4 17-5-10 4zm-17 6l9-4 17-6-9 4z"/>
<path fill="#4d1" d="M1969 1208l9-4 16-6-9 4zm-17 7l9-4 17-7-9 4zm-17 7l9-4 17-7-9 4z"/>
<path fill="#2d1" d="M1919 1229l9-4 16-7-9 4zm-17 8l9-4 17-8-9 4z"/>
<path fill="#2d2" d="M1886 1246l8-5 17-8-9 4zm-17 8l8-4 17-9-8 5z"/>
<path fill="#1d3" d="M1852 1263l9-4 16-9-8 4zm-16 10l8-4 17-10-9 4z"/>
<path fill="#1d4" d="M1819 1283l8-4 17-10-8 4z"/>
<path fill="#0d6" d="M1802 1293l9-4 16-10-8 4z"/>
<path fill="#0d8" d="M1786 1304l8-4 17-11-9 4zm-17 11l8-4 17-11-8 4z"/>
<path fill="#0da" d="M1753 1326l8-4 16-11-8 4z"/>
<path fill="#085" d="M2345 1159l11-4 15 3-11 3z"/>
<path fill="#084" d="M2330 1157l11-4 15 2-11 4z"/>
<path fill="#072" d="M2315 1155l11-3 15 1-11 4z"/>
<path fill="#161" d="M2300 1154l11-4 15 2-11 3z"/>
<path fill="#051" d="M2285 1153l10-4 16 1-11 4z"/>
<path fill="#151" d="M2269 1152l11-4 15 1-10 4z"/>
<path fill="#140" d="M2254 1152l10-4 16 0-11 4z"/>
<path fill="#130" d="M2238 1152l10-4 16 0-10 4z"/>
<path fill="#120" d="M2222 1152l11-4 15 0-10 4z"/>
<path fill="#010" d="M2207 1153l10-4 16-1-11 4zm-16 1l10-4 16-1-10 4z"/>
<path fill="#000" d="M2175 1156l10-4 16-2-10 4zm-16 1l10-3 16-2-10 4zm-17 3l10-4 17-2-10 3zm-16 2l10-3 16-3-10 4zm-16 3l10-3 16-3-10 3zm-16 4l9-4 17-3-10 3z"/>
<path fill="#8d0" d="M2077 1173l10-4 16-4-9 4zm-16 4l9-4 17-4-10 4zm-17 4l10-3 16-5-9 4zm-16 6l9-4 17-5-10 3zm-17 5l9-4 17-5-9 4zm-17 6l10-4 16-6-9 4zm-16 6l9-4 17-6-10 4z"/>
<path fill="#6d0" d="M1961 1211l9-4 17-7-9 4zm-17 7l9-4 17-7-9 4zm-16 7l9-3 16-8-9 4z"/>
<path fill="#4d1" d="M1911 1233l9-4 17-7-9 3zm-17 8l9-3 17-9-9 4z"/>
<path fill="#2d1" d="M1877 1250l9-3 17-9-9 3zm-16 9l8-3 17-9-9 3z"/>
<path fill="#2d2" d="M1844 1269l8-4 17-9-8 3z"/>
<path fill="#1d3" d="M1827 1279l9-4 16-10-8 4z"/>
<path fill="#000" d="M1811 1289l8-3 17-11-9 4zm-17 11l8-4 17-10-8 3zm-17 11l8-3 17-12-8 4zm-16 11l8-3 16-11-8 3z"/>
<path fill="#073" d="M2356 1155l11-3 15 3-11 3z"/>
<path fill="#062" d="M2341 1153l11-3 15 2-11 3z"/>
<path fill="#051" d="M2326 1152l11-3 15 1-11 3z"/>
<path fill="#141" d="M2311 1150l10-3 16 2-11 3z"/>
<path fill="#130" d="M2295 1149l11-3 15 1-10 3z"/>
<path fill="#020" d="M2280 1148l10-3 16 1-11 3zm-16 0l11-3 15 0-10 3z"/>
<path fill="#010" d="M2248 1148l11-3 16 0-11 3z"/>
<path fill="#000" d="M2233 1148l10-3 16 0-11 3zm-16 1l10-3 16-1-10 3zm-16 1l10-3 16-1-10 3zm-16 2l10-4 16-1-10 3zm-16 2l10-4 16-2-10 4zm-17 2l11-3 16-3-10 4zm-16 3l10-4 17-2-11 3z"/>
<path fill="#ad0" d="M2120 1162l10-4 16-3-10 4z"/>
<path fill="#ce0" d="M2103 1165l10-3 17-4-10 4zm-16 4l10-3 16-4-10 3zm-17 4l10-3 17-4-10 3zm-16 5l9-4 17-4-10 3z"/>
<path fill="#ad0" d="M2037 1183l10-4 16-5-9 4zm-17 5l10-3 17-6-10 4zm-16 6l9-3 17-6-10 3zm-17 6l9-3 17-6-9 3zm-17 7l10-3 16-7-9 3z"/>
<path fill="#8d0" d="M1953 1214l10-3 17-7-10 3zm-16 8l9-4 17-7-10 3z"/>
<path fill="#6d0" d="M1920 1229l9-3 17-8-9 4zm-17 9l9-3 17-9-9 3z"/>
<path fill="#4d1" d="M1886 1247l9-3 17-9-9 3z"/>
<path fill="#000" d="M1869 1256l9-3 17-9-9 3zm-17 9l9-3 17-9-9 3zm-16 10l8-3 17-10-9 3zm-17 11l8-3 17-11-8 3zm-17 10l9-2 16-11-8 3zm-17 12l9-3 17-11-9 2zm-16 11l8-2 17-12-9 3z"/>
<path fill="#051" d="M2367 1152l11-2 15 3-11 2z"/>
<path fill="#041" d="M2352 1150l11-2 15 2-11 2z"/>
<path fill="#030" d="M2337 1149l10-3 16 2-11 2z"/>
<path fill="#020" d="M2321 1147l11-2 15 1-10 3z"/>
<path fill="#010" d="M2306 1146l11-2 15 1-11 2zm-16-1l11-2 16 1-11 2z"/>
<path fill="#000" d="M2275 1145l10-3 16 1-11 2zm-16 0l11-3 15 0-10 3zm-16 0l11-2 16-1-11 3zm-16 1l11-3 16 0-11 2zm-16 1l11-3 16-1-11 3zm-16 1l10-2 17-2-11 3z"/>
<path fill="#ce0" d="M2179 1150l10-2 16-2-10 2zm-16 3l10-3 16-2-10 2zm-17 2l10-2 17-3-10 3z"/>
<path fill="#dc0" d="M2130 1158l10-2 16-3-10 2zm-17 4l10-3 17-3-10 2zm-16 4l10-3 16-4-10 3zm-17 4l10-3 17-4-10 3zm-17 4l10-2 17-5-10 3zm-16 5l10-2 16-5-10 2zm-17 6l10-3 17-5-10 2z"/>
<path fill="#ce0" d="M2013 1191l10-3 17-6-10 3zm-17 6l10-2 17-7-10 3zm-16 7l9-3 17-6-10 2zm-17 7l9-3 17-7-9 3z"/>
<path fill="#ad0" d="M1946 1218l9-2 17-8-9 3z"/>
<path fill="#000" d="M1929 1226l9-2 17-8-9 2zm-17 9l9-3 17-8-9 2zm-17 9l9-3 17-9-9 3zm-17 9l9-3 17-9-9 3zm-17 9l9-2 17-10-9 3zm-17 10l9-2 17-10-9 2zm-17 11l9-2 17-11-9 2zm-16 11l8-2 17-11-9 2z"/>
<path fill="#010" d="M1794 1305l8-2 17-11-8 2zm-17 12l8-2 17-12-8 2z"/>
<path fill="#030" d="M2378 1150l11-2 15 3-11 2z"/>
<path fill="#020" d="M2363 1148l11-2 15 2-11 2z"/>
<path fill="#010" d="M2347 1146l11-2 16 2-11 2zm-15-1l11-2 15 1-11 2z"/>
<path fill="#000" d="M2317 1144l10-2 16 1-11 2zm-16-1l11-2 15 1-10 2zm-16-1l11-2 16 1-11 2zm-15 0l10-2 16 0-11 2zm-16 1l10-3 16 0-10 2zm-16 0l10-2 16-1-10 3z"/>
<path fill="#ce0" d="M2222 1144l10-2 16-1-10 2z"/>
<path fill="#dc0" d="M2205 1146l11-2 16-2-10 2zm-16 2l11-2 16-2-11 2zm-16 2l10-2 17-2-11 2zm-17 3l11-3 16-2-10 2z"/>
<path fill="#eb0" d="M2140 1156l10-3 17-3-11 3zm-17 3l11-2 16-4-10 3zm-16 4l10-2 17-4-11 2zm-17 4l10-2 17-4-10 2zm-17 5l10-2 17-5-10 2zm-16 5l9-2 17-5-10 2zm-17 5l10-2 16-5-9 2z"/>
<path fill="#dc0" d="M2023 1188l10-2 17-6-10 2z"/>
<path fill="#000" d="M2006 1195l10-2 17-7-10 2zm-17 6l10-2 17-6-10 2zm-17 7l10-2 17-7-10 2zm-17 8l10-2 17-8-10 2zm-17 8l9-2 18-8-10 2zm-17 8l9-1 17-9-9 2zm-17 9l9-2 17-8-9 1zm-17 9l9-1 17-10-9 2z"/>
<path fill="#010" d="M1870 1260l9-2 17-9-9 1zm-17 10l9-1 17-11-9 2zm-17 11l9-2 17-10-9 1z"/>
<path fill="#020" d="M1819 1292l9-2 17-11-9 2z"/>
<path fill="#130" d="M1802 1303l9-2 17-11-9 2z"/>
<path fill="#141" d="M1785 1315l9-2 17-12-9 2z"/>
<path fill="#010" d="M2389 1148l11-1 15 3-11 1z"/>
<path fill="#000" d="M2374 1146l11-1 15 2-11 1zm-16-2l11-1 16 2-11 1zm-15-1l11-2 15 2-11 1zm-16-1l11-2 16 1-11 2zm-15-1l11-2 15 1-11 2zm-16-1l11-1 16 0-11 2zm-16 0l11-1 16 0-11 1z"/>
<path fill="#ce0" d="M2264 1140l11-1 16 0-11 1z"/>
<path fill="#dc0" d="M2248 1141l11-1 16-1-11 1zm-16 1l11-1 16-1-11 1z"/>
<path fill="#eb0" d="M2216 1144l11-2 16-1-11 1zm-16 2l10-2 17-2-11 2zm-17 2l11-2 16-2-10 2z"/>
<path fill="#e90" d="M2167 1150l10-1 17-3-11 2zm-17 3l11-1 16-3-10 1zm-16 4l10-2 17-3-11 1zm-17 4l10-2 17-4-10 2zm-17 4l10-2 17-4-10 2zm-17 5l10-2 17-5-10 2zm-17 5l11-2 16-5-10 2z"/>
<path fill="#000" d="M2050 1180l10-1 17-6-11 2zm-17 6l10-1 17-6-10 1zm-17 7l9-2 18-6-10 1zm-17 6l9-1 17-7-9 2zm-17 7l9-1 17-7-9 1zm-17 8l9-1 17-8-9 1zm-18 8l10-1 17-8-9 1z"/>
<path fill="#110" d="M1930 1231l10-2 17-8-10 1zm-17 8l10-1 17-9-10 2z"/>
<path fill="#220" d="M1896 1249l9-1 18-10-10 1z"/>
<path fill="#230" d="M1879 1258l9-1 17-9-9 1z"/>
<path fill="#240" d="M1862 1269l9-1 17-11-9 1z"/>
<path fill="#250" d="M1845 1279l9-1 17-10-9 1zm-17 11l9-1 17-11-9 1z"/>
<path fill="#260" d="M1811 1301l9 0 17-12-9 1z"/>
<path fill="#161" d="M1794 1313l9-1 17-11-9 0z"/>
<path fill="#000" d="M2400 1147l11-1 15 3-11 1zm-15-2l11-1 15 2-11 1zm-16-2l12-1 15 2-11 1zm-15-2l11-1 16 2-12 1zm-16-1l12-1 15 1-11 1z"/>
<path fill="#ce0" d="M2323 1139l11-1 16 1-12 1zm-16 0l11-1 16 0-11 1z"/>
<path fill="#dc0" d="M2291 1139l11-1 16 0-11 1zm-16 0l11-1 16 0-11 1z"/>
<path fill="#eb0" d="M2259 1140l11-1 16-1-11 1zm-16 1l11-1 16-1-11 1z"/>
<path fill="#e90" d="M2227 1142l10-1 17-1-11 1zm-17 2l11-1 16-2-10 1zm-16 2l10-1 17-2-11 1zm-17 3l11-1 16-3-10 1z"/>
<path fill="#e70" d="M2161 1152l10-1 17-3-11 1zm-17 3l10-1 17-3-10 1zm-17 4l11-1 16-4-10 1z"/>
<path fill="#000" d="M2110 1163l11 0 17-5-11 1zm-17 5l11-1 17-4-11 0zm-16 5l10-1 17-5-11 1zm-17 6l10-1 17-6-10 1zm-17 6l10-1 17-6-10 1zm-18 6l10-1 18-6-10 1z"/>
<path fill="#100" d="M2008 1198l10-1 17-7-10 1z"/>
<path fill="#110" d="M1991 1205l10-1 17-7-10 1z"/>
<path fill="#210" d="M1974 1213l10-1 17-8-10 1z"/>
<path fill="#320" d="M1957 1221l10-1 17-8-10 1z"/>
<path fill="#440" d="M1940 1229l9 0 18-9-10 1z"/>
<path fill="#540" d="M1923 1238l9 0 17-9-9 0z"/>
<path fill="#560" d="M1905 1248l10-1 17-9-9 0z"/>
<path fill="#660" d="M1888 1257l10 0 17-10-10 1z"/>
<path fill="#570" d="M1871 1268l9-1 18-10-10 0z"/>
<path fill="#470" d="M1854 1278l9 0 17-11-9 1z"/>
<path fill="#380" d="M1837 1289l9 0 17-11-9 0z"/>
<path fill="#480" d="M1820 1301l9-1 17-11-9 0z"/>
<path fill="#281" d="M1803 1312l9 0 17-12-9 1z"/>
<path fill="#000" d="M2411 1146l11 0 15 3-11 0zm-15-2l11 0 15 2-11 0zm-15-2l11 0 15 2-11 0z"/>
<path fill="#ad0" d="M2365 1140l11 0 16 2-11 0z"/>
<path fill="#ce0" d="M2350 1139l11 0 15 1-11 0zm-16-1l11 0 16 1-11 0z"/>
<path fill="#dc0" d="M2318 1138l11 0 16 0-11 0z"/>
<path fill="#eb0" d="M2302 1138l11-1 16 1-11 0zm-16 0l11 0 16-1-11 1z"/>
<path fill="#e90" d="M2270 1139l11-1 16 0-11 0zm-16 1l11-1 16-1-11 1zm-17 1l11 0 17-2-11 1z"/>
<path fill="#e70" d="M2221 1143l11 0 16-2-11 0zm-17 2l11 0 17-2-11 0zm-16 3l11 0 16-3-11 0z"/>
<path fill="#000" d="M2171 1151l11 0 17-3-11 0zm-17 3l11 0 17-3-11 0zm-16 4l10 0 17-4-11 0zm-17 5l10-1 17-4-10 0zm-17 4l10 0 17-5-10 1zm-17 5l10 0 17-5-10 0z"/>
<path fill="#100" d="M2070 1178l10 0 17-6-10 0z"/>
<path fill="#110" d="M2053 1184l10 0 17-6-10 0z"/>
<path fill="#210" d="M2035 1190l11 0 17-6-10 0z"/>
<path fill="#320" d="M2018 1197l10 0 18-7-11 0z"/>
<path fill="#530" d="M2001 1204l10 0 17-7-10 0z"/>
<path fill="#630" d="M1984 1212l10 0 17-8-10 0z"/>
<path fill="#640" d="M1967 1220l9 0 18-8-10 0z"/>
<path fill="#760" d="M1949 1229l10 0 17-9-9 0z"/>
<path fill="#860" d="M1932 1238l10 0 17-9-10 0z"/>
<path fill="#870" d="M1915 1247l9 0 18-9-10 0z"/>
<path fill="#790" d="M1898 1257l9 0 17-10-9 0z"/>
<path fill="#890" d="M1880 1267l10 0 17-10-9 0z"/>
<path fill="#790" d="M1863 1278l10 0 17-11-10 0z"/>
<path fill="#6a0" d="M1846 1289l9 0 18-11-10 0z"/>
<path fill="#4a0" d="M1829 1300l9 1 17-12-9 0z"/>
<path fill="#3a1" d="M1812 1312l9 1 17-12-9-1z"/>
<path fill="#000" d="M2422 1146l12 1 15 2-12 0z"/>
<path fill="#8d0" d="M2407 1144l12 0 15 3-12-1z"/>
<path fill="#ad0" d="M2392 1142l11 0 16 2-12 0z"/>
<path fill="#ce0" d="M2376 1140l12 1 15 1-11 0zm-15-1l11 0 16 2-12-1z"/>
<path fill="#dc0" d="M2345 1138l11 0 16 1-11 0z"/>
<path fill="#eb0" d="M2329 1138l11 0 16 0-11 0zm-16-1l11 1 16 0-11 0z"/>
<path fill="#e90" d="M2297 1138l11 0 16 0-11-1zm-16 0l11 1 16-1-11 0z"/>
<path fill="#e70" d="M2265 1139l11 1 16-1-11-1zm-17 2l11 0 17-1-11-1z"/>
<path fill="#e50" d="M2232 1143l11 0 16-2-11 0z"/>
<path fill="#000" d="M2215 1145l11 0 17-2-11 0zm-16 3l10 0 17-3-11 0zm-17 3l11 0 16-3-10 0zm-17 3l11 0 17-3-11 0zm-17 4l11 0 17-4-11 0z"/>
<path fill="#100" d="M2131 1162l11 1 17-5-11 0zm-17 5l11 0 17-4-11-1z"/>
<path fill="#210" d="M2097 1172l11 1 17-6-11 0z"/>
<path fill="#310" d="M2080 1178l10 0 18-5-11-1z"/>
<path fill="#510" d="M2063 1184l10 0 17-6-10 0z"/>
<path fill="#620" d="M2046 1190l10 1 17-7-10 0z"/>
<path fill="#720" d="M2028 1197l11 1 17-7-10-1z"/>
<path fill="#740" d="M2011 1204l10 1 18-7-11-1z"/>
<path fill="#840" d="M1994 1212l10 1 17-8-10-1z"/>
<path fill="#960" d="M1976 1220l10 1 18-8-10-1zm-17 9l10 1 17-9-10-1z"/>
<path fill="#a80" d="M1942 1238l10 1 17-9-10-1zm-18 9l10 1 18-9-10-1z"/>
<path fill="#a90" d="M1907 1257l10 1 17-10-10-1z"/>
<path fill="#aa0" d="M1890 1267l9 1 18-10-10-1z"/>
<path fill="#ab0" d="M1873 1278l9 1 17-11-9-1z"/>
<path fill="#8b0" d="M1855 1289l10 1 17-11-9-1z"/>
<path fill="#7b0" d="M1838 1301l9 1 18-12-10-1z"/>
<path fill="#5b0" d="M1821 1313l9 1 17-12-9-1z"/>
<path fill="#8d0" d="M2434 1147l11 1 15 2-11-1z"/>
<path fill="#ad0" d="M2419 1144l11 1 15 3-11-1z"/>
<path fill="#ce0" d="M2403 1142l12 1 15 2-11-1zm-15-1l11 1 16 1-12-1z"/>
<path fill="#dc0" d="M2372 1139l11 1 16 2-11-1z"/>
<path fill="#eb0" d="M2356 1138l12 1 15 1-11-1zm-16 0l12 1 16 0-12-1z"/>
<path fill="#e90" d="M2324 1138l12 1 16 0-12-1z"/>
<path fill="#e70" d="M2308 1138l11 1 17 0-12-1zm-16 1l11 1 16-1-11-1z"/>
<path fill="#000" d="M2276 1140l11 1 16-1-11-1zm-17 1l11 1 17-1-11-1zm-16 2l11 1 16-2-11-1zm-17 2l11 1 17-2-11-1zm-17 3l11 1 17-3-11-1zm-16 3l10 1 17-3-11-1z"/>
<path fill="#100" d="M2176 1154l11 1 16-3-10-1z"/>
<path fill="#200" d="M2159 1158l11 1 17-4-11-1z"/>
<path fill="#310" d="M2142 1163l11 1 17-5-11-1z"/>
<path fill="#410" d="M2125 1167l10 2 18-5-11-1z"/>
<path fill="#610" d="M2108 1173l10 1 17-5-10-2z"/>
<path fill="#710" d="M2090 1178l11 1 17-5-10-1zm-17 6l11 1 17-6-11-1z"/>
<path fill="#820" d="M2056 1191l10 1 18-7-11-1z"/>
<path fill="#930" d="M2039 1198l10 1 17-7-10-1z"/>
<path fill="#a30" d="M2021 1205l11 1 17-7-10-1zm-17 8l10 1 18-8-11-1z"/>
<path fill="#b50" d="M1986 1221l11 1 17-8-10-1zm-17 9l10 1 18-9-11-1z"/>
<path fill="#c70" d="M1952 1239l10 1 17-9-10-1zm-18 9l10 2 18-10-10-1z"/>
<path fill="#c90" d="M1917 1258l10 2 17-10-10-2z"/>
<path fill="#cb0" d="M1899 1268l10 2 18-10-10-2zm-17 11l10 2 17-11-10-2z"/>
<path fill="#bc0" d="M1865 1290l9 2 18-11-10-2z"/>
<path fill="#9c0" d="M1847 1302l10 2 17-12-9-2z"/>
<path fill="#7c0" d="M1830 1314l9 2 18-12-10-2z"/>
<path fill="#8d0" d="M2445 1148l12 1 15 3-12-2z"/>
<path fill="#ad0" d="M2430 1145l12 2 15 2-12-1z"/>
<path fill="#ce0" d="M2415 1143l11 2 16 2-12-2z"/>
<path fill="#dc0" d="M2399 1142l12 1 15 2-11-2z"/>
<path fill="#eb0" d="M2383 1140l12 2 16 1-12-1zm-15-1l11 2 16 1-12-2z"/>
<path fill="#e90" d="M2352 1139l11 1 16 1-11-2z"/>
<path fill="#e70" d="M2336 1139l11 1 16 0-11-1z"/>
<path fill="#000" d="M2319 1139l12 2 16-1-11-1zm-16 1l11 1 17 0-12-2zm-16 1l11 1 16-1-11-1zm-17 1l12 2 16-2-11-1zm-16 2l11 2 17-2-12-2z"/>
<path fill="#100" d="M2237 1146l11 2 17-2-11-2z"/>
<path fill="#200" d="M2220 1149l11 1 17-2-11-2z"/>
<path fill="#300" d="M2203 1152l12 2 16-4-11-1z"/>
<path fill="#410" d="M2187 1155l11 2 17-3-12-2z"/>
<path fill="#510" d="M2170 1159l10 2 18-4-11-2z"/>
<path fill="#610" d="M2153 1164l10 1 17-4-10-2z"/>
<path fill="#710" d="M2135 1169l11 1 17-5-10-1z"/>
<path fill="#810" d="M2118 1174l11 2 17-6-11-1z"/>
<path fill="#911" d="M2101 1179l11 2 17-5-11-2z"/>
<path fill="#920" d="M2084 1185l10 2 18-6-11-2z"/>
<path fill="#a20" d="M2066 1192l11 2 17-7-10-2z"/>
<path fill="#b20" d="M2049 1199l10 2 18-7-11-2zm-17 7l10 2 17-7-10-2z"/>
<path fill="#c40" d="M2014 1214l10 2 18-8-10-2zm-17 8l10 2 17-8-10-2z"/>
<path fill="#c60" d="M1979 1231l10 2 18-9-10-2z"/>
<path fill="#d60" d="M1962 1240l10 2 17-9-10-2z"/>
<path fill="#d80" d="M1944 1250l10 2 18-10-10-2zm-17 10l10 2 17-10-10-2z"/>
<path fill="#da0" d="M1909 1270l10 2 18-10-10-2z"/>
<path fill="#dc0" d="M1892 1281l10 2 17-11-10-2z"/>
<path fill="#bd0" d="M1874 1292l10 2 18-11-10-2z"/>
<path fill="#cd0" d="M1857 1304l10 2 17-12-10-2z"/>
<path fill="#ad0" d="M1839 1316l10 2 18-12-10-2zm618-167l11 3 16 2-12-2z"/>
<path fill="#ce0" d="M2442 1147l11 2 15 3-11-3z"/>
<path fill="#dc0" d="M2426 1145l12 2 15 2-11-2z"/>
<path fill="#eb0" d="M2411 1143l11 2 16 2-12-2zm-16-1l11 2 16 1-11-2z"/>
<path fill="#000" d="M2379 1141l11 2 16 1-11-2zm-16-1l12 3 15 0-11-2zm-16 0l11 3 17 0-12-3zm-16 1l11 2 16 0-11-3zm-17 0l12 2 16 0-11-2zm-16 1l11 2 17-1-12-2z"/>
<path fill="#100" d="M2282 1144l11 2 16-2-11-2z"/>
<path fill="#200" d="M2265 1146l11 2 17-2-11-2z"/>
<path fill="#400" d="M2248 1148l11 2 17-2-11-2z"/>
<path fill="#510" d="M2231 1150l12 3 16-3-11-2z"/>
<path fill="#610" d="M2215 1154l11 2 17-3-12-3z"/>
<path fill="#710" d="M2198 1157l11 2 17-3-11-2z"/>
<path fill="#810" d="M2180 1161l12 2 17-4-11-2z"/>
<path fill="#911" d="M2163 1165l11 3 18-5-12-2zm-17 5l11 3 17-5-11-3z"/>
<path fill="#a11" d="M2129 1176l11 2 17-5-11-3z"/>
<path fill="#b11" d="M2112 1181l10 3 18-6-11-2zm-18 6l11 3 17-6-10-3z"/>
<path fill="#b21" d="M2077 1194l11 2 17-6-11-3z"/>
<path fill="#c21" d="M2059 1201l11 2 18-7-11-2zm-17 7l11 3 17-8-11-2z"/>
<path fill="#d21" d="M2024 1216l11 3 18-8-11-3z"/>
<path fill="#d40" d="M2007 1224l10 3 18-8-11-3zm-18 9l11 3 17-9-10-3z"/>
<path fill="#e60" d="M1972 1242l10 3 18-9-11-3z"/>
<path fill="#e70" d="M1954 1252l10 3 18-10-10-3z"/>
<path fill="#e90" d="M1937 1262l10 3 17-10-10-3z"/>
<path fill="#eb0" d="M1919 1272l10 3 18-10-10-3zm-17 11l10 3 17-11-10-3z"/>
<path fill="#dc0" d="M1884 1294l10 3 18-11-10-3z"/>
<path fill="#ce0" d="M1867 1306l9 3 18-12-10-3z"/>
<path fill="#ad0" d="M1849 1318l10 3 17-12-9-3zm619-166l12 3 15 2-11-3z"/>
<path fill="#ce0" d="M2453 1149l12 3 15 3-12-3z"/>
<path fill="#dc0" d="M2438 1147l11 3 16 2-12-3z"/>
<path fill="#000" d="M2422 1145l12 3 15 2-11-3zm-16-1l12 3 16 1-12-3zm-16-1l12 3 16 1-12-3zm-15 0l11 3 16 0-12-3zm-17 0l12 2 16 1-11-3z"/>
<path fill="#100" d="M2342 1143l12 3 16-1-12-2z"/>
<path fill="#200" d="M2326 1143l11 3 17 0-12-3z"/>
<path fill="#310" d="M2309 1144l12 3 16-1-11-3z"/>
<path fill="#410" d="M2293 1146l11 3 17-2-12-3z"/>
<path fill="#610" d="M2276 1148l12 3 16-2-11-3z"/>
<path fill="#710" d="M2259 1150l12 3 17-2-12-3z"/>
<path fill="#810" d="M2243 1153l11 3 17-3-12-3zm-17 3l11 3 17-3-11-3z"/>
<path fill="#911" d="M2209 1159l11 3 17-3-11-3z"/>
<path fill="#a11" d="M2192 1163l11 3 17-4-11-3zm-18 5l11 3 18-5-11-3z"/>
<path fill="#b11" d="M2157 1173l11 3 17-5-11-3zm-17 5l11 3 17-5-11-3z"/>
<path fill="#c11" d="M2122 1184l11 3 18-6-11-3z"/>
<path fill="#c21" d="M2105 1190l11 3 17-6-11-3z"/>
<path fill="#d21" d="M2088 1196l10 4 18-7-11-3zm-18 7l11 4 17-7-10-4zm-17 8l10 3 18-7-11-4z"/>
<path fill="#e31" d="M2035 1219l11 3 17-8-10-3zm-18 8l11 3 18-8-11-3z"/>
<path fill="#e50" d="M2000 1236l10 3 18-9-11-3zm-18 9l11 4 17-10-10-3z"/>
<path fill="#e70" d="M1964 1255l11 3 18-9-11-4zm-17 10l10 3 18-10-11-3z"/>
<path fill="#e90" d="M1929 1275l10 4 18-11-10-3z"/>
<path fill="#eb0" d="M1912 1286l10 4 17-11-10-4z"/>
<path fill="#dc0" d="M1894 1297l10 4 18-11-10-4zm-18 12l10 4 18-12-10-4z"/>
<path fill="#ce0" d="M1859 1321l10 4 17-12-10-4zm621-166l12 3 15 3-12-4z"/>
<path fill="#000" d="M2465 1152l12 4 15 2-12-3zm-16-2l12 4 16 2-12-4zm-15-2l11 4 16 2-12-4zm-16-1l12 4 15 1-11-4zm-16-1l12 4 16 1-12-4z"/>
<path fill="#100" d="M2386 1146l12 3 16 1-12-4z"/>
<path fill="#210" d="M2370 1145l12 4 16 0-12-3z"/>
<path fill="#310" d="M2354 1146l11 3 17 0-12-4z"/>
<path fill="#510" d="M2337 1146l12 4 16-1-11-3z"/>
<path fill="#610" d="M2321 1147l11 4 17-1-12-4z"/>
<path fill="#710" d="M2304 1149l12 3 16-1-11-4z"/>
<path fill="#810" d="M2288 1151l11 3 17-2-12-3z"/>
<path fill="#911" d="M2271 1153l11 4 17-3-11-3z"/>
<path fill="#a11" d="M2254 1156l11 3 17-2-11-4zm-17 3l11 4 17-4-11-3z"/>
<path fill="#b11" d="M2220 1162l11 4 17-3-11-4zm-17 4l11 4 17-4-11-4z"/>
<path fill="#c11" d="M2185 1171l12 4 17-5-11-4z"/>
<path fill="#c21" d="M2168 1176l11 4 18-5-12-4z"/>
<path fill="#d21" d="M2151 1181l11 4 17-5-11-4zm-18 6l11 4 18-6-11-4zm-17 6l11 4 17-6-11-4zm-18 7l11 4 18-7-11-4z"/>
<path fill="#e21" d="M2081 1207l11 4 17-7-11-4zm-18 7l11 4 18-7-11-4zm-17 8l10 4 18-8-11-4z"/>
<path fill="#e31" d="M2028 1230l11 5 17-9-10-4zm-18 9l11 4 18-8-11-5z"/>
<path fill="#e50" d="M1993 1249l10 4 18-10-11-4zm-18 9l10 4 18-9-10-4z"/>
<path fill="#e70" d="M1957 1268l11 5 17-11-10-4z"/>
<path fill="#e90" d="M1939 1279l11 4 18-10-11-5zm-17 11l10 4 18-11-11-4z"/>
<path fill="#eb0" d="M1904 1301l10 5 18-12-10-4z"/>
<path fill="#dc0" d="M1886 1313l11 5 17-12-10-5z"/>
<path fill="#ce0" d="M1869 1325l10 5 18-12-11-5z"/>
<path fill="#000" d="M2492 1158l12 4 15 3-12-4zm-15-2l11 4 16 2-12-4zm-16-2l12 4 15 2-11-4zm-16-2l12 4 16 2-12-4z"/>
<path fill="#110" d="M2430 1151l11 4 16 1-12-4z"/>
<path fill="#210" d="M2414 1150l12 4 15 1-11-4z"/>
<path fill="#410" d="M2398 1149l11 4 17 1-12-4z"/>
<path fill="#520" d="M2382 1149l11 4 16 0-11-4z"/>
<path fill="#610" d="M2365 1149l12 4 16 0-11-4z"/>
<path fill="#810" d="M2349 1150l12 4 16-1-12-4zm-17 1l12 4 17-1-12-4z"/>
<path fill="#911" d="M2316 1152l11 5 17-2-12-4z"/>
<path fill="#a11" d="M2299 1154l12 5 16-2-11-5z"/>
<path fill="#b11" d="M2282 1157l12 4 17-2-12-5zm-17 2l12 5 17-3-12-4z"/>
<path fill="#c11" d="M2248 1163l12 4 17-3-12-5zm-17 3l12 5 17-4-12-4z"/>
<path fill="#d21" d="M2214 1170l11 5 18-4-12-5zm-17 5l11 4 17-4-11-5zm-18 5l12 4 17-5-11-4z"/>
<path fill="#e21" d="M2162 1185l11 4 18-5-12-4zm-18 6l12 4 17-6-11-4zm-17 6l11 4 18-6-12-4zm-18 7l11 4 18-7-11-4zm-17 7l11 4 17-7-11-4zm-18 7l11 5 18-8-11-4zm-18 8l11 5 18-8-11-5z"/>
<path fill="#e31" d="M2039 1235l10 4 18-8-11-5zm-18 8l11 5 17-9-10-4z"/>
<path fill="#e50" d="M2003 1253l11 5 18-10-11-5zm-18 9l11 5 18-9-11-5z"/>
<path fill="#e70" d="M1968 1273l10 5 18-11-11-5zm-18 10l10 5 18-10-10-5z"/>
<path fill="#e90" d="M1932 1294l11 5 17-11-10-5z"/>
<path fill="#eb0" d="M1914 1306l11 5 18-12-11-5z"/>
<path fill="#dc0" d="M1897 1318l10 5 18-12-11-5z"/>
<path fill="#ce0" d="M1879 1330l10 5 18-12-10-5z"/>
<path fill="#000" d="M2504 1162l12 5 15 3-12-5zm-16-2l12 5 16 2-12-5z"/>
<path fill="#110" d="M2473 1158l12 5 15 2-12-5z"/>
<path fill="#320" d="M2457 1156l12 5 16 2-12-5z"/>
<path fill="#420" d="M2441 1155l12 5 16 1-12-5z"/>
<path fill="#630" d="M2426 1154l11 5 16 1-12-5z"/>
<path fill="#720" d="M2409 1153l12 5 16 1-11-5z"/>
<path fill="#830" d="M2393 1153l12 5 16 0-12-5z"/>
<path fill="#920" d="M2377 1153l12 5 16 0-12-5z"/>
<path fill="#a20" d="M2361 1154l11 5 17-1-12-5z"/>
<path fill="#a11" d="M2344 1155l12 5 16-1-11-5z"/>
<path fill="#b11" d="M2327 1157l12 5 17-2-12-5zm-16 2l11 5 17-2-12-5z"/>
<path fill="#c11" d="M2294 1161l11 5 17-2-11-5z"/>
<path fill="#c21" d="M2277 1164l11 5 17-3-11-5z"/>
<path fill="#d21" d="M2260 1167l11 5 17-3-11-5zm-17 4l11 5 17-4-11-5zm-18 4l12 5 17-4-11-5zm-17 4l11 5 18-4-12-5zm-17 5l11 5 17-5-11-5zm-18 5l12 6 17-6-11-5z"/>
<path fill="#e21" d="M2156 1195l11 5 18-5-12-6zm-18 6l11 6 18-7-11-5zm-18 7l12 6 17-7-11-6zm-17 7l11 6 18-7-12-6zm-18 8l11 5 18-7-11-6zm-18 8l11 5 18-8-11-5zm-18 8l11 6 18-9-11-5z"/>
<path fill="#e31" d="M2032 1248l11 6 17-9-11-6zm-18 10l11 5 18-9-11-6z"/>
<path fill="#e50" d="M1996 1267l11 6 18-10-11-5z"/>
<path fill="#e70" d="M1978 1278l11 5 18-10-11-6zm-18 10l11 6 18-11-11-5z"/>
<path fill="#e90" d="M1943 1299l10 6 18-11-11-6z"/>
<path fill="#eb0" d="M1925 1311l10 6 18-12-10-6z"/>
<path fill="#dc0" d="M1907 1323l10 6 18-12-10-6zm-18 12l11 6 17-12-10-6z"/>
<path fill="#110" d="M2516 1167l11 6 16 3-12-6z"/>
<path fill="#330" d="M2500 1165l12 5 15 3-11-6z"/>
<path fill="#430" d="M2485 1163l12 5 15 2-12-5z"/>
<path fill="#640" d="M2469 1161l12 6 16 1-12-5z"/>
<path fill="#730" d="M2453 1160l12 5 16 2-12-6z"/>
<path fill="#840" d="M2437 1159l12 5 16 1-12-5z"/>
<path fill="#930" d="M2421 1158l12 6 16 0-12-5z"/>
<path fill="#a20" d="M2405 1158l12 6 16 0-12-6z"/>
<path fill="#b20" d="M2389 1158l12 6 16 0-12-6z"/>
<path fill="#b11" d="M2372 1159l12 6 17-1-12-6z"/>
<path fill="#c21" d="M2356 1160l12 6 16-1-12-6zm-17 2l12 5 17-1-12-6z"/>
<path fill="#d21" d="M2322 1164l12 5 17-2-12-5zm-17 2l12 6 17-3-12-5z"/>
<path fill="#e21" d="M2288 1169l12 6 17-3-12-6zm-17 3l12 6 17-3-12-6z"/>
<path fill="#d21" d="M2254 1176l12 5 17-3-12-6zm-17 4l11 6 18-5-12-5zm-18 4l12 6 17-4-11-6zm-17 5l11 6 18-5-12-6zm-17 6l11 6 17-6-11-6zm-18 5l11 6 18-5-11-6z"/>
<path fill="#e21" d="M2149 1207l12 6 17-7-11-6zm-17 7l11 6 18-7-12-6zm-18 7l11 6 18-7-11-6zm-18 7l11 6 18-7-11-6zm-18 8l11 7 18-9-11-6zm-18 9l12 6 17-8-11-7z"/>
<path fill="#e31" d="M2043 1254l11 6 18-9-12-6zm-18 9l11 7 18-10-11-6z"/>
<path fill="#e50" d="M2007 1273l11 6 18-9-11-7zm-18 10l11 7 18-11-11-6z"/>
<path fill="#e70" d="M1971 1294l11 7 18-11-11-7z"/>
<path fill="#e90" d="M1953 1305l11 7 18-11-11-7z"/>
<path fill="#eb0" d="M1935 1317l11 6 18-11-11-7zm-18 12l11 6 18-12-11-6z"/>
<path fill="#dc0" d="M1900 1341l10 7 18-13-11-6z"/>
<path fill="#440" d="M2527 1173l12 6 16 3-12-6z"/>
<path fill="#550" d="M2512 1170l12 7 15 2-12-6z"/>
<path fill="#760" d="M2497 1168l12 7 15 2-12-7z"/>
<path fill="#850" d="M2481 1167l12 6 16 2-12-7z"/>
<path fill="#940" d="M2465 1165l12 7 16 1-12-6z"/>
<path fill="#a50" d="M2449 1164l12 7 16 1-12-7z"/>
<path fill="#b40" d="M2433 1164l12 6 16 1-12-7z"/>
<path fill="#b20" d="M2417 1164l12 6 16 0-12-6z"/>
<path fill="#c21" d="M2401 1164l11 6 17 0-12-6z"/>
<path fill="#d21" d="M2384 1165l12 6 16-1-11-6zm-16 1l11 6 17-1-12-6zm-17 1l12 7 16-2-11-6z"/>
<path fill="#e21" d="M2334 1169l12 7 17-2-12-7zm-17 3l12 6 17-2-12-7zm-17 3l12 6 17-3-12-6z"/>
<path fill="#d21" d="M2283 1178l12 6 17-3-12-6zm-17 3l11 7 18-4-12-6zm-18 5l12 6 17-4-11-7zm-17 4l12 7 17-5-12-6zm-18 5l12 7 18-5-12-7zm-17 6l12 6 17-5-12-7zm-18 5l12 7 18-6-12-6z"/>
<path fill="#e21" d="M2161 1213l11 7 18-7-12-7zm-18 7l11 6 18-6-11-7zm-18 7l12 7 17-8-11-6zm-18 7l12 7 18-7-12-7zm-18 9l12 7 18-9-12-7zm-17 8l11 7 18-8-12-7z"/>
<path fill="#e31" d="M2054 1260l11 7 18-9-11-7zm-18 10l11 7 18-10-11-7z"/>
<path fill="#e50" d="M2018 1279l11 8 18-10-11-7zm-18 11l11 7 18-10-11-8z"/>
<path fill="#e70" d="M1982 1301l11 7 18-11-11-7z"/>
<path fill="#e90" d="M1964 1312l11 7 18-11-11-7z"/>
<path fill="#eb0" d="M1946 1323l11 8 18-12-11-7zm-18 12l11 8 18-12-11-8z"/>
<path fill="#dc0" d="M1910 1348l11 7 18-12-11-8z"/>
<path fill="#670" d="M2539 1179l12 7 16 3-12-7z"/>
<path fill="#870" d="M2524 1177l12 7 15 2-12-7z"/>
<path fill="#970" d="M2509 1175l12 7 15 2-12-7z"/>
<path fill="#b70" d="M2493 1173l12 7 16 2-12-7z"/>
<path fill="#b50" d="M2477 1172l12 7 16 1-12-7z"/>
<path fill="#c60" d="M2461 1171l12 7 16 1-12-7z"/>
<path fill="#c40" d="M2445 1170l12 7 16 1-12-7z"/>
<path fill="#d31" d="M2429 1170l12 7 16 0-12-7zm-17 0l12 7 17 0-12-7z"/>
<path fill="#e21" d="M2396 1171l12 7 16-1-12-7zm-17 1l12 7 17-1-12-7zm-16 2l12 7 16-2-12-7zm-17 2l12 7 17-2-12-7zm-17 2l12 7 17-2-12-7zm-17 3l12 7 17-3-12-7zm-17 3l11 8 18-4-12-7z"/>
<path fill="#d21" d="M2277 1188l12 7 17-3-11-8zm-17 4l12 8 17-5-12-7zm-17 5l11 7 18-4-12-8zm-18 5l12 7 17-5-11-7zm-17 5l11 8 18-6-12-7zm-18 6l11 8 18-6-11-8z"/>
<path fill="#e21" d="M2172 1220l12 7 17-6-11-8zm-18 6l12 8 18-7-12-7zm-17 8l11 7 18-7-12-8zm-18 7l11 8 18-8-11-7zm-18 9l11 7 18-8-11-8zm-18 8l11 8 18-9-11-7z"/>
<path fill="#e31" d="M2065 1267l11 8 18-9-11-8zm-18 10l11 7 18-9-11-8z"/>
<path fill="#e50" d="M2029 1287l11 7 18-10-11-7zm-18 10l11 8 18-11-11-7z"/>
<path fill="#e70" d="M1993 1308l11 8 18-11-11-8z"/>
<path fill="#e90" d="M1975 1319l11 8 18-11-11-8z"/>
<path fill="#eb0" d="M1957 1331l11 8 18-12-11-8zm-18 12l11 8 18-12-11-8z"/>
<path fill="#dc0" d="M1921 1355l11 8 18-12-11-8z"/>
<path fill="#890" d="M2551 1186l12 8 16 3-12-8z"/>
<path fill="#a90" d="M2536 1184l12 7 15 3-12-8z"/>
<path fill="#b90" d="M2521 1182l12 7 15 2-12-7z"/>
<path fill="#c80" d="M2505 1180l12 8 16 1-12-7z"/>
<path fill="#d80" d="M2489 1179l12 7 16 2-12-8z"/>
<path fill="#d60" d="M2473 1178l12 7 16 1-12-7z"/>
<path fill="#e40" d="M2457 1177l12 8 16 0-12-7z"/>
<path fill="#e50" d="M2441 1177l12 8 16 0-12-8z"/>
<path fill="#e31" d="M2424 1177l12 8 17 0-12-8zm-16 1l12 8 16-1-12-8z"/>
<path fill="#e21" d="M2391 1179l12 8 17-1-12-8zm-16 2l11 8 17-2-12-8zm-17 2l12 8 16-2-11-8zm-17 2l12 8 17-2-12-8zm-17 3l12 8 17-3-12-8zm-18 4l12 8 18-4-12-8zm-17 3l12 8 17-3-12-8z"/>
<path fill="#d21" d="M2272 1200l12 8 17-5-12-8zm-18 4l12 8 18-4-12-8zm-17 5l12 8 17-5-12-8zm-18 6l12 8 18-6-12-8z"/>
<path fill="#e21" d="M2201 1221l12 8 18-6-12-8zm-17 6l11 8 18-6-12-8zm-18 7l12 8 17-7-11-8zm-18 7l12 9 18-8-12-8zm-18 8l12 8 18-7-12-9zm-18 8l12 9 18-9-12-8zm-18 9l12 8 18-8-12-9z"/>
<path fill="#e31" d="M2076 1275l12 8 18-9-12-8zm-18 9l11 9 19-10-12-8z"/>
<path fill="#e50" d="M2040 1294l11 9 18-10-11-9z"/>
<path fill="#e70" d="M2022 1305l11 9 18-11-11-9zm-18 11l11 8 18-10-11-9z"/>
<path fill="#e90" d="M1986 1327l11 9 18-12-11-8z"/>
<path fill="#eb0" d="M1968 1339l11 8 18-11-11-9z"/>
<path fill="#dc0" d="M1950 1351l11 9 18-13-11-8zm-18 12l11 9 18-12-11-9z"/>
<path fill="#9b0" d="M2563 1194l13 8 15 3-12-8z"/>
<path fill="#bb0" d="M2548 1191l12 9 16 2-13-8z"/>
<path fill="#da0" d="M2533 1189l12 9 15 2-12-9zm-16-1l12 8 16 2-12-9z"/>
<path fill="#e90" d="M2501 1186l12 9 16 1-12-8z"/>
<path fill="#e70" d="M2485 1185l12 9 16 1-12-9z"/>
<path fill="#e50" d="M2469 1185l12 8 16 1-12-9zm-16 0l12 8 16 0-12-8z"/>
<path fill="#e31" d="M2436 1185l12 9 17-1-12-8zm-16 1l12 9 16-1-12-9z"/>
<path fill="#e21" d="M2403 1187l12 9 17-1-12-9zm-17 2l13 8 16-1-12-9zm-16 2l12 8 17-2-13-8zm-17 2l12 9 17-3-12-8zm-17 3l11 9 18-3-12-9zm-18 4l12 8 17-3-11-9zm-17 3l12 9 17-4-12-8zm-17 5l12 8 17-4-12-9zm-18 4l12 9 18-5-12-8zm-17 5l11 9 18-5-12-9zm-18 6l12 9 17-6-11-9zm-18 6l12 9 18-6-12-9zm-18 6l12 9 18-6-12-9zm-17 7l11 9 18-7-12-9zm-18 8l11 9 18-8-11-9zm-18 7l11 10 18-8-11-9zm-18 9l11 9 18-8-11-10z"/>
<path fill="#e31" d="M2106 1274l11 10 18-9-11-9zm-18 9l11 10 18-9-11-10z"/>
<path fill="#e50" d="M2069 1293l12 9 18-9-11-10zm-18 10l12 9 18-10-12-9z"/>
<path fill="#e70" d="M2033 1314l12 9 18-11-12-9zm-18 10l12 10 18-11-12-9z"/>
<path fill="#e90" d="M1997 1336l11 9 19-11-12-10z"/>
<path fill="#eb0" d="M1979 1347l11 10 18-12-11-9z"/>
<path fill="#dc0" d="M1961 1360l11 9 18-12-11-10z"/>
<path fill="#ce0" d="M1943 1372l11 10 18-13-11-9z"/>
<path fill="#bc0" d="M2576 1202l12 9 15 3-12-9z"/>
<path fill="#bd0" d="M2560 1200l12 9 16 2-12-9z"/>
<path fill="#dc0" d="M2545 1198l12 9 15 2-12-9z"/>
<path fill="#eb0" d="M2529 1196l12 9 16 2-12-9z"/>
<path fill="#e90" d="M2513 1195l12 9 16 1-12-9z"/>
<path fill="#e70" d="M2497 1194l12 9 16 1-12-9zm-16-1l12 10 16 0-12-9z"/>
<path fill="#e50" d="M2465 1193l12 10 16 0-12-10zm-17 1l13 9 16 0-12-10z"/>
<path fill="#e31" d="M2432 1195l12 9 17-1-13-9zm-17 1l12 9 17-1-12-9z"/>
<path fill="#e21" d="M2399 1197l12 10 16-2-12-9zm-17 2l12 10 17-2-12-10zm-17 3l12 9 17-2-12-10zm-18 3l13 9 17-3-12-9zm-17 3l12 10 18-4-13-9zm-17 4l12 10 17-4-12-10zm-17 4l11 10 18-4-12-10zm-18 5l12 10 17-5-11-10zm-18 5l12 10 18-5-12-10zm-17 6l12 10 17-6-12-10zm-18 6l12 10 18-6-12-10zm-18 6l12 10 18-6-12-10zm-18 7l12 10 18-7-12-10zm-18 8l12 10 18-8-12-10zm-18 8l12 9 18-7-12-10zm-18 8l12 10 18-9-12-9z"/>
<path fill="#e31" d="M2117 1284l12 10 18-9-12-10zm-18 9l12 10 18-9-12-10z"/>
<path fill="#e50" d="M2081 1302l12 10 18-9-12-10zm-18 10l11 11 19-11-12-10z"/>
<path fill="#e70" d="M2045 1323l11 10 18-10-11-11z"/>
<path fill="#e90" d="M2027 1334l11 10 18-11-11-10zm-19 11l12 10 18-11-11-10z"/>
<path fill="#eb0" d="M1990 1357l12 10 18-12-12-10z"/>
<path fill="#dc0" d="M1972 1369l11 11 19-13-12-10z"/>
<path fill="#ce0" d="M1954 1382l11 10 18-12-11-11z"/>
<path fill="#ad0" d="M2588 1211l12 10 15 3-12-10z"/>
<path fill="#ce0" d="M2572 1209l12 10 16 2-12-10z"/>
<path fill="#dc0" d="M2557 1207l12 10 15 2-12-10z"/>
<path fill="#eb0" d="M2541 1205l12 10 16 2-12-10zm-16-1l12 10 16 1-12-10z"/>
<path fill="#e90" d="M2509 1203l12 10 16 1-12-10z"/>
<path fill="#e70" d="M2493 1203l12 10 16 0-12-10zm-16 0l12 10 16 0-12-10z"/>
<path fill="#e50" d="M2461 1203l12 10 16 0-12-10zm-17 1l12 10 17-1-12-10z"/>
<path fill="#e31" d="M2427 1205l12 10 17-1-12-10zm-16 2l12 10 16-2-12-10z"/>
<path fill="#e21" d="M2394 1209l12 10 17-2-12-10zm-17 2l12 11 17-3-12-10zm-17 3l12 11 17-3-12-11zm-18 4l12 10 18-3-12-11zm-17 4l12 10 17-4-12-10zm-18 4l13 10 17-4-12-10zm-17 5l12 10 18-5-13-10zm-18 5l12 10 18-5-12-10zm-17 6l12 10 17-6-12-10zm-18 6l12 10 18-6-12-10zm-18 6l12 11 18-7-12-10zm-18 7l12 11 18-7-12-11zm-18 8l12 10 18-7-12-11zm-18 7l12 11 18-8-12-10z"/>
<path fill="#e31" d="M2147 1285l12 10 18-8-12-11zm-18 9l12 10 18-9-12-10z"/>
<path fill="#e50" d="M2111 1303l12 10 18-9-12-10zm-18 9l11 11 19-10-12-10z"/>
<path fill="#e70" d="M2074 1323l12 10 18-10-11-11zm-18 10l12 11 18-11-12-10z"/>
<path fill="#e90" d="M2038 1344l12 11 18-11-12-11z"/>
<path fill="#eb0" d="M2020 1355l11 11 19-11-12-11z"/>
<path fill="#dc0" d="M2002 1367l11 11 18-12-11-11zm-19 13l12 11 18-13-11-11z"/>
<path fill="#ce0" d="M1965 1392l12 11 18-12-12-11z"/>
<path fill="#ad0" d="M2600 1221l12 11 15 2-12-10z"/>
<path fill="#ce0" d="M2584 1219l12 10 16 3-12-11zm-15-2l12 10 15 2-12-10z"/>
<path fill="#dc0" d="M2553 1215l12 11 16 1-12-10z"/>
<path fill="#eb0" d="M2537 1214l12 10 16 2-12-11z"/>
<path fill="#e90" d="M2521 1213l13 11 15 0-12-10zm-16 0l12 10 17 1-13-11z"/>
<path fill="#e70" d="M2489 1213l12 10 16 0-12-10z"/>
<path fill="#e50" d="M2473 1213l12 11 16-1-12-10zm-17 1l12 11 17-1-12-11zm-17 1l13 11 16-1-12-11z"/>
<path fill="#e31" d="M2423 1217l12 11 17-2-13-11zm-17 2l12 11 17-2-12-11z"/>
<path fill="#e21" d="M2389 1222l12 10 17-2-12-11zm-17 3l12 11 17-4-12-10zm-18 3l12 11 18-3-12-11zm-17 4l12 11 17-4-12-11zm-17 4l12 11 17-4-12-11zm-18 5l12 11 18-5-12-11zm-18 5l12 11 18-5-12-11zm-17 6l12 11 17-6-12-11zm-18 6l12 11 18-6-12-11zm-18 7l12 11 18-7-12-11zm-18 7l12 11 18-7-12-11z"/>
<path fill="#e31" d="M2195 1279l12 11 18-7-12-11zm-18 8l12 11 18-8-12-11zm-18 8l12 12 18-9-12-11z"/>
<path fill="#e50" d="M2141 1304l12 12 18-9-12-12zm-18 9l11 12 19-9-12-12z"/>
<path fill="#e70" d="M2104 1323l12 12 18-10-11-12zm-18 10l12 12 18-10-12-12z"/>
<path fill="#e90" d="M2068 1344l12 12 18-11-12-12z"/>
<path fill="#eb0" d="M2050 1355l11 12 19-11-12-12zm-19 11l12 12 18-11-11-12z"/>
<path fill="#dc0" d="M2013 1378l12 12 18-12-12-12z"/>
<path fill="#ce0" d="M1995 1391l11 11 19-12-12-12z"/>
<path fill="#ad0" d="M1977 1403l11 12 18-13-11-11z"/>
<path fill="#8d0" d="M2612 1232l12 11 15 3-12-12z"/>
<path fill="#ad0" d="M2596 1229l12 11 16 3-12-11z"/>
<path fill="#ce0" d="M2581 1227l12 11 15 2-12-11z"/>
<path fill="#dc0" d="M2565 1226l12 11 16 1-12-11zm-16-2l13 12 15 1-12-11z"/>
<path fill="#eb0" d="M2534 1224l12 11 16 1-13-12z"/>
<path fill="#e90" d="M2517 1223l13 12 16 0-12-11zm-16 0l12 12 17 0-13-12z"/>
<path fill="#e70" d="M2485 1224l12 11 16 0-12-12zm-17 1l12 11 17-1-12-11z"/>
<path fill="#e50" d="M2452 1226l12 12 16-2-12-11zm-17 2l12 11 17-1-12-12z"/>
<path fill="#e31" d="M2418 1230l12 11 17-2-12-11zm-17 2l12 12 17-3-12-11zm-17 4l12 11 17-3-12-12zm-18 3l13 12 17-4-12-11z"/>
<path fill="#e21" d="M2349 1243l12 12 18-4-13-12zm-17 4l12 12 17-4-12-12zm-18 5l12 12 18-5-12-12zm-18 5l13 12 17-5-12-12zm-17 6l12 12 18-6-13-12zm-18 6l12 12 18-6-12-12z"/>
<path fill="#e31" d="M2243 1276l12 12 18-7-12-12zm-18 7l12 12 18-7-12-12zm-18 7l12 13 18-8-12-12zm-18 8l12 13 18-8-12-13z"/>
<path fill="#e50" d="M2171 1307l12 12 18-8-12-13zm-18 9l12 12 18-9-12-12z"/>
<path fill="#e70" d="M2134 1325l12 12 19-9-12-12zm-18 10l12 12 18-10-12-12z"/>
<path fill="#e90" d="M2098 1345l12 12 18-10-12-12zm-18 11l11 12 19-11-12-12z"/>
<path fill="#eb0" d="M2061 1367l12 12 18-11-11-12z"/>
<path fill="#dc0" d="M2043 1378l12 13 18-12-12-12z"/>
<path fill="#ce0" d="M2025 1390l11 13 19-12-12-13zm-19 12l12 13 18-12-11-13z"/>
<path fill="#ad0" d="M1988 1415l12 13 18-13-12-13z"/>
<path fill="#6d0" d="M2624 1243l12 12 15 3-12-12z"/>
<path fill="#8d0" d="M2608 1240l13 12 15 3-12-12z"/>
<path fill="#ad0" d="M2593 1238l12 13 16 1-13-12z"/>
<path fill="#ce0" d="M2577 1237l13 12 15 2-12-13z"/>
<path fill="#dc0" d="M2562 1236l12 12 16 1-13-12z"/>
<path fill="#eb0" d="M2546 1235l12 12 16 1-12-12zm-16 0l12 12 16 0-12-12z"/>
<path fill="#e90" d="M2513 1235l13 12 16 0-12-12zm-16 0l12 12 17 0-13-12z"/>
<path fill="#e70" d="M2480 1236l13 12 16-1-12-12zm-16 2l12 12 17-2-13-12z"/>
<path fill="#e50" d="M2447 1239l12 13 17-2-12-12zm-17 2l12 13 17-2-12-13zm-17 3l12 13 17-3-12-13z"/>
<path fill="#e31" d="M2396 1247l12 13 17-3-12-13zm-17 4l12 12 17-3-12-13zm-18 4l12 12 18-4-12-12zm-17 4l12 13 17-5-12-12zm-18 5l12 13 18-5-12-13zm-17 5l12 13 17-5-12-13zm-18 6l12 13 18-6-12-13zm-18 6l12 13 18-6-12-13zm-18 7l12 13 18-7-12-13zm-18 7l12 13 18-7-12-13z"/>
<path fill="#e50" d="M2219 1303l12 12 18-7-12-13zm-18 8l12 12 18-8-12-12zm-18 8l12 13 18-9-12-12z"/>
<path fill="#e70" d="M2165 1328l12 13 18-9-12-13zm-19 9l12 13 19-9-12-13z"/>
<path fill="#e90" d="M2128 1347l12 13 18-10-12-13zm-18 10l12 13 18-10-12-13z"/>
<path fill="#eb0" d="M2091 1368l12 13 19-11-12-13z"/>
<path fill="#dc0" d="M2073 1379l12 13 18-11-12-13zm-18 12l12 13 18-12-12-13z"/>
<path fill="#ce0" d="M2036 1403l12 13 19-12-12-13z"/>
<path fill="#ad0" d="M2018 1415l12 13 18-12-12-13z"/>
<path fill="#8d0" d="M2000 1428l12 13 18-13-12-13z"/>
<path fill="#6d0" d="M2636 1255l12 13 15 2-12-12z"/>
<path fill="#8d0" d="M2621 1252l12 13 15 3-12-13z"/>
<path fill="#ad0" d="M2605 1251l12 12 16 2-12-13zm-15-2l12 13 15 1-12-12z"/>
<path fill="#ce0" d="M2574 1248l12 13 16 1-12-13z"/>
<path fill="#dc0" d="M2558 1247l12 13 16 1-12-13zm-16 0l12 13 16 0-12-13z"/>
<path fill="#eb0" d="M2526 1247l12 13 16 0-12-13z"/>
<path fill="#e90" d="M2509 1247l12 13 17 0-12-13zm-16 1l12 13 16-1-12-13z"/>
<path fill="#e70" d="M2476 1250l12 13 17-2-12-13zm-17 2l12 13 17-2-12-13zm-17 2l13 13 16-2-12-13z"/>
<path fill="#e50" d="M2425 1257l13 13 17-3-13-13zm-17 3l12 13 18-3-13-13zm-17 3l12 13 17-3-12-13zm-18 4l13 14 17-5-12-13zm-17 5l12 13 18-4-13-14zm-18 5l13 13 17-5-12-13zm-17 5l12 13 18-5-13-13zm-18 6l12 13 18-6-12-13zm-18 6l12 13 18-6-12-13zm-18 7l12 13 18-7-12-13zm-18 7l12 13 18-7-12-13zm-18 7l12 14 18-8-12-13z"/>
<path fill="#e70" d="M2213 1323l12 14 18-8-12-14zm-18 9l12 14 18-9-12-14z"/>
<path fill="#e90" d="M2177 1341l12 14 18-9-12-14zm-19 9l12 14 19-9-12-14z"/>
<path fill="#eb0" d="M2140 1360l12 14 18-10-12-14zm-18 10l12 14 18-10-12-14z"/>
<path fill="#dc0" d="M2103 1381l12 14 19-11-12-14zm-18 11l12 14 18-11-12-14z"/>
<path fill="#ce0" d="M2067 1404l12 14 18-12-12-14z"/>
<path fill="#ad0" d="M2048 1416l12 14 19-12-12-14z"/>
<path fill="#8d0" d="M2030 1428l12 14 18-12-12-14z"/>
<path fill="#6d0" d="M2012 1441l12 14 18-13-12-14z"/>
<path fill="#4d1" d="M2648 1268l12 13 15 3-12-14z"/>
<path fill="#6d0" d="M2633 1265l12 14 15 2-12-13z"/>
<path fill="#8d0" d="M2617 1263l12 14 16 2-12-14z"/>
<path fill="#ad0" d="M2602 1262l12 13 15 2-12-14zm-16-1l12 13 16 1-12-13z"/>
<path fill="#ce0" d="M2570 1260l12 14 16 0-12-13z"/>
<path fill="#dc0" d="M2554 1260l12 13 16 1-12-14zm-16 0l12 14 16-1-12-13z"/>
<path fill="#eb0" d="M2521 1260l13 14 16 0-12-14zm-16 1l12 14 17-1-13-14z"/>
<path fill="#e90" d="M2488 1263l12 14 17-2-12-14zm-17 2l13 14 16-2-12-14z"/>
<path fill="#e70" d="M2455 1267l12 14 17-2-13-14zm-17 3l12 14 17-3-12-14zm-18 3l13 14 17-3-12-14zm-17 3l12 15 18-4-13-14zm-17 5l12 14 17-4-12-15z"/>
<path fill="#e50" d="M2368 1285l12 14 18-4-12-14zm-17 5l12 14 17-5-12-14zm-18 5l12 15 18-6-12-14z"/>
<path fill="#e70" d="M2315 1301l12 14 18-5-12-15zm-18 6l13 15 17-7-12-14zm-18 7l13 15 18-7-13-15zm-18 7l13 15 18-7-13-15zm-18 8l12 14 19-7-13-15z"/>
<path fill="#e90" d="M2225 1337l12 15 18-9-12-14zm-18 9l12 14 18-8-12-15zm-18 9l12 14 18-9-12-14z"/>
<path fill="#eb0" d="M2170 1364l13 15 18-10-12-14zm-18 10l12 14 19-9-13-15z"/>
<path fill="#dc0" d="M2134 1384l12 15 18-11-12-14zm-19 11l13 15 18-11-12-15z"/>
<path fill="#ce0" d="M2097 1406l12 15 19-11-13-15z"/>
<path fill="#ad0" d="M2079 1418l12 14 18-11-12-15z"/>
<path fill="#8d0" d="M2060 1430l12 14 19-12-12-14zm-18 12l12 15 18-13-12-14z"/>
<path fill="#6d0" d="M2024 1455l12 15 18-13-12-15z"/>
<path fill="#2d1" d="M2660 1281l12 14 15 3-12-14z"/>
<path fill="#4d1" d="M2645 1279l12 14 15 2-12-14z"/>
<path fill="#6d0" d="M2629 1277l12 14 16 2-12-14z"/>
<path fill="#8d0" d="M2614 1275l12 15 15 1-12-14zm-16-1l12 15 16 1-12-15z"/>
<path fill="#ad0" d="M2582 1274l12 14 16 1-12-15z"/>
<path fill="#ce0" d="M2566 1273l12 15 16 0-12-14zm-16 1l12 14 16 0-12-15z"/>
<path fill="#dc0" d="M2534 1274l12 15 16-1-12-14zm-17 1l12 15 17-1-12-15z"/>
<path fill="#eb0" d="M2500 1277l13 14 16-1-12-15zm-16 2l12 14 17-2-13-14z"/>
<path fill="#e90" d="M2467 1281l12 15 17-3-12-14zm-17 3l12 14 17-2-12-15zm-17 3l12 15 17-4-12-14zm-18 4l13 14 17-3-12-15z"/>
<path fill="#e70" d="M2398 1295l12 14 18-4-13-14zm-18 4l13 15 17-5-12-14zm-17 5l12 15 18-5-13-15zm-18 6l12 14 18-5-12-15zm-18 5l13 15 17-6-12-14zm-17 7l12 15 18-7-13-15z"/>
<path fill="#e90" d="M2292 1329l12 15 18-7-12-15zm-18 7l12 15 18-7-12-15zm-19 7l13 16 18-8-12-15zm-18 9l13 15 18-8-13-16z"/>
<path fill="#eb0" d="M2219 1360l12 15 19-8-13-15zm-18 9l12 15 18-9-12-15z"/>
<path fill="#dc0" d="M2183 1379l12 15 18-10-12-15zm-19 9l13 16 18-10-12-15z"/>
<path fill="#ce0" d="M2146 1399l12 15 19-10-13-16zm-18 11l12 15 18-11-12-15z"/>
<path fill="#ad0" d="M2109 1421l12 15 19-11-12-15z"/>
<path fill="#8d0" d="M2091 1432l12 16 18-12-12-15zm-19 12l12 16 19-12-12-16z"/>
<path fill="#6d0" d="M2054 1457l12 15 18-12-12-16z"/>
<path fill="#4d1" d="M2036 1470l12 15 18-13-12-15z"/>
<path fill="#2d2" d="M2672 1295l12 15 15 3-12-15z"/>
<path fill="#2d1" d="M2657 1293l12 15 15 2-12-15z"/>
<path fill="#4d1" d="M2641 1291l12 15 16 2-12-15z"/>
<path fill="#6d0" d="M2626 1290l12 15 15 1-12-15zm-16-1l12 15 16 1-12-15z"/>
<path fill="#8d0" d="M2594 1288l12 15 16 1-12-15z"/>
<path fill="#ad0" d="M2578 1288l12 15 16 0-12-15zm-16 0l12 15 16 0-12-15z"/>
<path fill="#ce0" d="M2546 1289l12 15 16-1-12-15zm-17 1l12 15 17-1-12-15z"/>
<path fill="#dc0" d="M2513 1291l12 16 16-2-12-15zm-17 2l12 16 17-2-12-16z"/>
<path fill="#eb0" d="M2479 1296l12 15 17-2-12-16zm-17 2l12 16 17-3-12-15zm-17 4l12 15 17-3-12-16zm-17 3l12 16 17-4-12-15z"/>
<path fill="#e90" d="M2410 1309l13 16 17-4-12-16zm-17 5l12 16 18-5-13-16zm-18 5l13 16 17-5-12-16zm-18 5l13 16 18-5-13-16zm-17 6l12 16 18-6-13-16zm-18 7l12 16 18-7-12-16z"/>
<path fill="#eb0" d="M2304 1344l12 15 18-6-12-16zm-18 7l12 16 18-8-12-15zm-18 8l12 15 18-7-12-16zm-18 8l12 16 18-9-12-15z"/>
<path fill="#dc0" d="M2231 1375l13 16 18-8-12-16zm-18 9l12 16 19-9-13-16z"/>
<path fill="#ce0" d="M2195 1394l12 16 18-10-12-16zm-18 10l12 16 18-10-12-16z"/>
<path fill="#ad0" d="M2158 1414l12 16 19-10-12-16zm-18 11l12 16 18-11-12-16z"/>
<path fill="#8d0" d="M2121 1436l13 16 18-11-12-16z"/>
<path fill="#6d0" d="M2103 1448l12 16 19-12-13-16zm-19 12l13 16 18-12-12-16z"/>
<path fill="#4d1" d="M2066 1472l12 16 19-12-13-16z"/>
<path fill="#2d1" d="M2048 1485l12 16 18-13-12-16z"/>
</g>
<ellipse cx="425.3" cy="342.7" rx="2.1" ry="1.8" fill="#f8c8c0" stroke="#7a1010" stroke-width=".6"/>
<circle cx="517" cy="376" r="2" fill="#d81010" stroke="#7a0000" stroke-width=".5"/>
<circle cx="676.5" cy="328.4" r="2" fill="#d81010" stroke="#7a0000" stroke-width=".5"/>
<circle cx="545.4" cy="288.9" r="2" fill="#d81010" stroke="#7a0000" stroke-width=".5"/>
<!-- panel e -->
<g stroke="#000" stroke-width=".7" fill="#ff0" stroke-linejoin="round">
<polygon points="74.6,570.6 220.4,515.3 220.4,452.3 58.4,499"/>
<polygon points="220.4,515.3 297.2,612 315.3,542.8 220.4,452.3"/>
<polygon points="74.6,570.6 147,665.3 297.2,612 220.4,515.3"/>
</g>
<path d="M70.5 552.7L220.4 499.5M68.5 543.8L220.4 491.7M66.5 534.8L220.4 483.8M64.5 525.9L220.4 475.9M62.4 516.9L220.4 468.1M60.4 507.9L220.4 460.2M108 539.4L98.9 487.3M145.5 526.1L139.4 475.6M182.9 512.8L179.9 464M220.4 499.5L301.7 594.7M220.4 491.7L304 586M220.4 483.8L306.2 577.4M220.4 475.9L308.5 568.8M220.4 468.1L310.8 560.1M220.4 460.2L313 551.4M236.7 518.6L239.4 470.4M252.9 537.6L258.4 488.5M269.2 556.6L277.3 506.6M285.5 575.7L296.3 524.7" stroke="#000" stroke-width=".6" fill="none"/>
<path d="M70.8 552.7h-1.6M68.8 543.8h-1.6M66.8 534.8h-1.6M64.8 525.9h-1.6M62.7 516.9h-1.6M60.7 507.9h-1.6M58.7 499h-1.6M74.6 570.6l-.9 .9M89.1 589.5l-.9 .9M103.6 608.5l-.9 .9M118 627.4l-.9 .9M132.5 646.4l-.9 .9M147 665.3l-.9 .9M147 665.3l.9 .9M184.6 652l.9 .9M222.1 638.6l.9 .9M259.6 625.3l.9 .9M297.2 612l.9 .9" stroke="#000" stroke-width="1.3" fill="none"/>
<clipPath id="cfe"><polygon points="74.6,570.6 147,665.3 297.2,612 220.4,515.3"/></clipPath>
<g clip-path="url(#cfe)" fill="none" stroke-width=".8">
<path d="M121.8 619.5L121.3 617.4L121.2 615.2L121.5 613L122.3 610.8L123.4 608.6L125 606.3L126.9 604.1L129.2 601.9L131.9 599.8L134.9 597.7L138.2 595.7L141.8 593.8L145.6 592.1L149.6 590.4L153.9 588.9L158.3 587.6L162.8 586.4L167.4 585.4L172.1 584.6L176.8 583.9L181.5 583.5L186.1 583.2L190.7 583.2L195.2 583.3L199.5 583.7L203.6 584.2L207.6 585L211.3 585.9L214.7 587L217.9 588.3L220.7 589.7L223.2 591.3L225.4 593.1L227.2 594.9L228.6 596.9L229.7 598.9L230.3 601.1L230.5 603.3L230.3 605.5L229.7 607.8L228.7 610.1L227.3 612.3L225.5 614.6L223.3 616.8L220.7 618.9L217.8 621L214.6 623L211.1 624.8L207.2 626.6L203.2 628.2L198.9 629.6L194.5 630.9L189.8 632.1L185.1 633.1L180.3 633.8L175.5 634.4L170.7 634.8L165.9 635L161.2 635.1L156.6 634.9L152.1 634.5L147.8 633.9L143.8 633.2L140 632.3L136.5 631.2L133.3 629.9L130.4 628.5L127.9 626.9L125.8 625.2L124 623.4L122.7 621.5L121.8 619.5" stroke="#e21"/>
<path d="M58 632.3L57.1 627.8L57.1 623.2L58 618.5L59.8 613.8L62.5 609L66 604.2L70.3 599.4L75.5 594.7L81.3 590.1L87.9 585.7L95 581.4L102.8 577.3L111 573.5L119.8 569.9L128.9 566.6L138.3 563.7L147.9 561L157.8 558.8L167.7 557L177.7 555.5L187.7 554.5L197.5 553.9L207.2 553.8L216.7 554.1L225.8 554.8L234.6 555.9L243 557.5L250.9 559.5L258.2 561.9L265 564.7L271.1 567.9L276.6 571.3L281.3 575.1L285.2 579.2L288.4 583.5L290.7 588L292.2 592.6L292.8 597.4L292.6 602.3L291.4 607.3L289.4 612.2L286.6 617.2L282.8 622L278.3 626.8L272.9 631.4L266.7 635.9L259.8 640.1L252.3 644.1L244.1 647.9L235.3 651.3L226.1 654.4L216.4 657.2L206.3 659.6L196 661.6L185.5 663.3L174.9 664.5L164.3 665.3L153.8 665.7L143.5 665.7L133.3 665.3L123.6 664.5L114.2 663.2L105.4 661.6L97.1 659.6L89.4 657.2L82.5 654.5L76.3 651.5L70.9 648.1L66.4 644.5L62.7 640.7L59.9 636.6L58 632.3" stroke="#4d1"/>
<path d="M28.1 638.5L27 632.9L27.1 627.2L28.3 621.4L30.6 615.5L34.1 609.5L38.6 603.5L44.1 597.6L50.6 591.7L58 586L66.2 580.4L75.2 575.1L84.9 570L95.3 565.1L106.1 560.6L117.5 556.5L129.2 552.8L141.2 549.5L153.4 546.7L165.8 544.3L178.2 542.5L190.5 541.2L202.7 540.4L214.8 540.2L226.5 540.5L237.8 541.4L248.7 542.9L259.1 544.9L268.9 547.4L278 550.4L286.5 553.9L294.1 557.8L300.9 562.2L306.8 566.9L311.8 572L315.8 577.4L318.8 583.1L320.7 589L321.6 595L321.4 601.1L320 607.3L317.6 613.6L314.1 619.7L309.6 625.9L304 631.8L297.3 637.6L289.7 643.2L281.2 648.5L271.7 653.5L261.5 658.1L250.6 662.4L239 666.3L226.8 669.7L214.2 672.7L201.3 675.2L188.1 677.2L174.7 678.7L161.4 679.7L148.1 680.2L135.1 680.2L122.3 679.6L110 678.6L98.2 677L87.1 675L76.7 672.4L67.1 669.5L58.4 666.1L50.6 662.3L43.9 658.2L38.3 653.7L33.7 648.9L30.3 643.8L28.1 638.5" stroke="#0da"/>
<path d="M9.4 641.4L5.4 636L2 630.7L3.5 623.9L6.4 617L10.5 610.1L15.8 603.1L22.4 596.2L30 589.4L38.7 582.7L48.3 576.2L58.9 570L70.2 564L82.3 558.4L94.9 553.1L108.1 548.3L121.8 543.9L135.7 540L149.9 536.7L164.2 533.9L178.6 531.7L192.9 530.2L207.1 529.3L221 529L234.5 529.4L247.7 530.4L260.3 532.1L272.4 534.4L283.7 537.3L294.3 540.8L304.1 544.9L313 549.5L320.9 554.7L327.8 560.2L333.7 566.2L338.4 572.5L341.9 579.2L344.3 586L345.4 593.1L345.2 600.3L343.8 607.5L341.1 614.8L337.1 622.1L331.9 629.2L325.4 636.2L317.8 642.9L308.9 649.4L299 655.6L288.1 661.4L276.2 666.8L263.4 671.8L249.9 676.3L235.6 680.3L220.9 683.7L205.7 686.6L190.2 688.9L174.6 690.7L158.9 691.8L143.3 692.3L128 692.3L113 691.6L98.6 690.3L84.8 688.5L71.7 686.1L59.5 683.2L48.3 679.8L38.1 675.8L31 670.7L26.6 664.7L22.1 658.7L17.8 652.8L13.5 647L9.4 641.4" stroke="#17e"/>
<path d="M7.4 638.7L2.9 632.6L-1.3 626.9L-5.4 621.4L-9.1 616.3L-10.2 610.7L-4.1 602.9L3.4 595.2L12 587.5L21.9 580L32.8 572.7L44.7 565.7L57.4 558.9L71 552.6L85.2 546.6L100 541.1L115.3 536.2L131 531.8L146.9 528L162.9 524.9L179 522.4L195 520.6L210.8 519.5L226.4 519.2L241.5 519.6L256.2 520.8L270.4 522.6L283.8 525.2L296.5 528.5L308.4 532.5L319.4 537.1L329.4 542.3L338.3 548.1L346.1 554.4L352.7 561.2L358 568.3L362.1 575.8L364.8 583.6L366.1 591.5L366 599.6L364.5 607.8L361.6 616L357.2 624.2L351.4 632.2L344.2 640.1L335.7 647.7L325.8 655L314.7 661.9L302.5 668.5L289.1 674.6L274.7 680.1L259.5 685.2L243.5 689.6L226.8 693.5L209.7 696.7L192.2 699.3L174.5 701.2L156.7 702.5L139.1 703L121.7 702.9L104.8 702.2L88.5 700.7L72.8 698.7L58.1 696L46.6 691.8L41.7 685.2L36.7 678.4L31.7 671.6L26.7 664.8L21.7 658.1L16.8 651.4L12 645L7.4 638.7" stroke="#24d"/>
</g>
<g transform="scale(0.25)" stroke="#000" stroke-width="1.5" stroke-linejoin="round">
<path fill="#000" d="M866 2018l8 2 16-1-9-2zm-16 2l8 1 16-1-8-2zm-16 1l8 1 16-1-8-1zm-16 1l8 2 16-2-8-1zm-16 2l8 1 16-1-8-2zm-16 2l8 1 16-2-8-1zm-16 2l8 1 16-2-8-1zm-16 2l8 1 16-2-8-1zm-16 2l8 1 16-2-8-1zm-16 2l8 1 16-2-8-1zm-17 2l8 2 17-3-8-1zm-16 3l8 1 16-2-8-2zm-16 3l7 1 17-3-8-1zm-17 2l8 2 16-3-7-1zm-16 3l7 2 17-3-8-2zm-17 4l7 1 17-3-7-2zm-17 3l8 1 16-3-7-1zm-16 3l7 2 17-4-8-1zm-17 4l7 1 17-3-7-2zm-17 4l7 1 17-4-7-1zm-16 4l7 1 16-4-7-1zm-17 4l7 1 17-4-7-1z"/>
<path fill="#010" d="M506 2078l7 1 17-5-7-1z"/>
<path fill="#011" d="M489 2082l7 1 17-4-7-1zm-17 5l7 1 17-5-7-1zm-16 5l6 1 17-5-7-1zm-17 5l6 1 17-5-6-1z"/>
<path fill="#021" d="M422 2102l6 2 17-6-6-1zm-17 6l7 1 16-5-6-2z"/>
<path fill="#032" d="M388 2113l7 2 17-6-7-1zm-17 6l7 2 17-6-7-2zm-17 6l7 2 17-6-7-2z"/>
<path fill="#043" d="M338 2132l6 1 17-6-7-2z"/>
<path fill="#044" d="M321 2138l6 2 17-7-6-1z"/>
<path fill="#054" d="M304 2145l6 2 17-7-6-2zm-17 7l6 2 17-7-6-2zm-16 7l6 2 16-7-6-2z"/>
<path fill="#000" d="M874 2020l8 2 16-2-8-1zm-16 1l8 2 16-1-8-2zm-16 1l9 2 15-1-8-2zm-16 2l9 1 16-1-9-2zm-16 1l9 2 16-2-9-1zm-16 2l8 2 17-2-9-2zm-16 2l8 1 16-1-8-2zm-16 2l8 1 16-2-8-1zm-16 2l8 1 16-2-8-1zm-16 2l7 2 17-3-8-1zm-17 3l8 1 16-2-7-2zm-16 2l7 1 17-2-8-1zm-17 3l8 1 16-3-7-1zm-16 3l7 1 17-3-8-1zm-17 3l8 1 16-3-7-1zm-17 3l8 1 17-3-8-1zm-16 3l7 2 17-4-8-1z"/>
<path fill="#011" d="M597 2059l7 1 17-3-7-2zm-17 3l8 2 16-4-7-1zm-17 4l8 2 17-4-8-2zm-16 4l7 2 17-4-8-2zm-17 4l7 2 17-4-7-2z"/>
<path fill="#021" d="M513 2079l7 1 17-4-7-2zm-17 4l7 2 17-5-7-1z"/>
<path fill="#032" d="M479 2088l7 2 17-5-7-2zm-17 5l7 2 17-5-7-2z"/>
<path fill="#042" d="M445 2098l7 2 17-5-7-2zm-17 6l7 1 17-5-7-2z"/>
<path fill="#053" d="M412 2109l6 2 17-6-7-1zm-17 6l6 2 17-6-6-2zm-17 6l6 2 17-6-6-2z"/>
<path fill="#063" d="M361 2127l6 2 17-6-6-2z"/>
<path fill="#064" d="M344 2133l6 2 17-6-6-2zm-17 7l6 2 17-7-6-2z"/>
<path fill="#074" d="M310 2147l6 2 17-7-6-2z"/>
<path fill="#075" d="M293 2154l7 2 16-7-6-2zm-16 7l6 2 17-7-7-2z"/>
<path fill="#000" d="M882 2022l9 1 15-1-8-2zm-16 1l9 2 16-2-9-1zm-15 1l8 2 16-1-9-2zm-16 1l8 2 16-1-8-2zm-16 2l8 2 16-2-8-2zm-17 2l9 1 16-1-8-2zm-16 1l9 2 16-2-9-1zm-16 2l8 2 17-2-9-2zm-16 2l8 2 16-2-8-2zm-17 3l8 1 17-2-8-2zm-16 2l8 2 16-3-8-1zm-17 2l8 2 17-2-8-2z"/>
<path fill="#011" d="M688 2044l8 2 16-3-8-2zm-17 3l8 2 17-3-8-2zm-16 3l7 2 17-3-8-2zm-17 3l8 2 16-3-7-2zm-17 4l8 1 17-3-8-2z"/>
<path fill="#021" d="M604 2060l8 2 17-4-8-1zm-16 4l7 2 17-4-8-2z"/>
<path fill="#031" d="M571 2068l7 2 17-4-7-2zm-17 4l7 2 17-4-7-2z"/>
<path fill="#042" d="M537 2076l7 2 17-4-7-2zm-17 4l7 2 17-4-7-2zm-17 5l7 2 17-5-7-2z"/>
<path fill="#052" d="M486 2090l7 2 17-5-7-2zm-17 5l7 2 17-5-7-2z"/>
<path fill="#062" d="M452 2100l7 2 17-5-7-2zm-17 5l7 3 17-6-7-2zm-17 6l7 2 17-5-7-3z"/>
<path fill="#072" d="M401 2117l7 2 17-6-7-2zm-17 6l7 2 17-6-7-2zm-17 6l7 2 17-6-7-2z"/>
<path fill="#083" d="M350 2135l7 3 17-7-7-2zm-17 7l7 3 17-7-7-3z"/>
<path fill="#084" d="M316 2149l7 2 17-6-7-3zm-16 7l6 3 17-8-7-2z"/>
<path fill="#094" d="M283 2163l6 3 17-7-6-3z"/>
<path fill="#000" d="M891 2023l8 3 16-1-9-3zm-16 2l8 2 16-1-8-3zm-16 1l8 2 16-1-8-2zm-16 1l8 2 16-1-8-2zm-16 2l8 2 16-2-8-2zm-16 1l8 2 16-1-8-2zm-16 2l8 2 16-2-8-2z"/>
<path fill="#011" d="M778 2034l9 2 16-2-8-2zm-16 2l8 2 17-2-9-2zm-17 2l9 2 16-2-8-2zm-16 3l8 2 17-3-9-2zm-17 2l9 2 16-2-8-2z"/>
<path fill="#021" d="M696 2046l8 2 17-3-9-2zm-17 3l8 2 17-3-8-2zm-17 3l8 2 17-3-8-2z"/>
<path fill="#032" d="M646 2055l8 2 16-3-8-2zm-17 3l8 3 17-4-8-2z"/>
<path fill="#042" d="M612 2062l8 2 17-3-8-3z"/>
<path fill="#041" d="M595 2066l8 2 17-4-8-2z"/>
<path fill="#052" d="M578 2070l8 2 17-4-8-2z"/>
<path fill="#051" d="M561 2074l8 2 17-4-8-2zm-17 4l8 2 17-4-8-2z"/>
<path fill="#161" d="M527 2082l8 3 17-5-8-2zm-17 5l8 3 17-5-8-3zm-17 5l8 2 17-4-8-3z"/>
<path fill="#171" d="M476 2097l7 3 18-6-8-2zm-17 5l7 3 17-5-7-3zm-17 6l7 2 17-5-7-3z"/>
<path fill="#181" d="M425 2113l7 3 17-6-7-2zm-17 6l7 3 17-6-7-3zm-17 6l7 3 17-6-7-3z"/>
<path fill="#182" d="M374 2131l7 3 17-6-7-3z"/>
<path fill="#192" d="M357 2138l7 3 17-7-7-3zm-17 7l7 3 17-7-7-3zm-17 6l7 3 17-6-7-3zm-17 8l6 3 18-8-7-3z"/>
<path fill="#0a3" d="M289 2166l6 3 17-7-6-3z"/>
<path fill="#000" d="M899 2026l9 2 16-1-9-2z"/>
<path fill="#001" d="M883 2027l9 2 16-1-9-2zm-16 1l9 2 16-1-9-2z"/>
<path fill="#011" d="M851 2029l9 3 16-2-9-2zm-16 2l9 2 16-1-9-3zm-16 1l9 3 16-2-9-2zm-16 2l8 3 17-2-9-3zm-16 2l8 2 16-1-8-3z"/>
<path fill="#021" d="M770 2038l8 3 17-3-8-2z"/>
<path fill="#022" d="M754 2040l8 3 16-2-8-3z"/>
<path fill="#032" d="M737 2043l8 2 17-2-8-3zm-16 2l8 3 16-3-8-2z"/>
<path fill="#042" d="M704 2048l8 2 17-2-8-3zm-17 3l8 2 17-3-8-2z"/>
<path fill="#041" d="M670 2054l8 2 17-3-8-2z"/>
<path fill="#052" d="M654 2057l8 3 16-4-8-2z"/>
<path fill="#051" d="M637 2061l8 2 17-3-8-3z"/>
<path fill="#061" d="M620 2064l8 3 17-4-8-2z"/>
<path fill="#161" d="M603 2068l8 3 17-4-8-3zm-17 4l8 3 17-4-8-3z"/>
<path fill="#171" d="M569 2076l8 3 17-4-8-3zm-17 4l7 3 18-4-8-3zm-17 5l7 3 17-5-7-3z"/>
<path fill="#181" d="M518 2090l7 2 17-4-7-3zm-17 4l7 3 17-5-7-2z"/>
<path fill="#281" d="M483 2100l8 2 17-5-7-3zm-17 5l8 3 17-6-8-2z"/>
<path fill="#291" d="M449 2110l7 3 18-5-8-3zm-17 6l7 3 17-6-7-3zm-17 6l7 3 17-6-7-3zm-17 6l7 3 17-6-7-3zm-17 6l7 4 17-7-7-3z"/>
<path fill="#2a1" d="M364 2141l7 3 17-6-7-4zm-17 7l6 3 18-7-7-3z"/>
<path fill="#1a1" d="M330 2154l6 4 17-7-6-3z"/>
<path fill="#1a2" d="M312 2162l7 3 17-7-6-4zm-17 7l7 3 17-7-7-3z"/>
<path fill="#011" d="M908 2028l9 3 15-1-8-3zm-16 1l9 3 16-1-9-3z"/>
<path fill="#012" d="M876 2030l9 3 16-1-9-3zm-16 2l9 2 16-1-9-3z"/>
<path fill="#022" d="M844 2033l8 3 17-2-9-2zm-16 2l8 2 16-1-8-3z"/>
<path fill="#032" d="M811 2037l9 2 16-2-8-2zm-16 1l8 3 17-2-9-2z"/>
<path fill="#043" d="M778 2041l9 2 16-2-8-3z"/>
<path fill="#042" d="M762 2043l8 2 17-2-9-2z"/>
<path fill="#052" d="M745 2045l9 3 16-3-8-2zm-16 3l8 3 17-3-9-3zm-17 2l8 3 17-2-8-3z"/>
<path fill="#061" d="M695 2053l9 3 16-3-8-3z"/>
<path fill="#161" d="M678 2056l9 3 17-3-9-3zm-16 4l8 3 17-4-9-3z"/>
<path fill="#171" d="M645 2063l8 3 17-3-8-3zm-17 4l8 3 17-4-8-3zm-17 4l8 3 17-4-8-3z"/>
<path fill="#181" d="M594 2075l8 3 17-4-8-3z"/>
<path fill="#281" d="M577 2079l7 3 18-4-8-3zm-18 4l8 3 17-4-7-3z"/>
<path fill="#391" d="M542 2088l8 3 17-5-8-3zm-17 4l8 4 17-5-8-3zm-17 5l8 4 17-5-8-4z"/>
<path fill="#490" d="M491 2102l7 4 18-5-8-4z"/>
<path fill="#4a0" d="M474 2108l7 3 17-5-7-4zm-18 5l8 4 17-6-7-3zm-17 6l8 4 17-6-8-4z"/>
<path fill="#5a0" d="M422 2125l7 4 18-6-8-4z"/>
<path fill="#3a1" d="M405 2131l7 4 17-6-7-4zm-17 7l7 3 17-6-7-4z"/>
<path fill="#3b1" d="M371 2144l7 4 17-7-7-3zm-18 7l7 4 18-7-7-4zm-17 7l7 4 17-7-7-4z"/>
<path fill="#2b1" d="M319 2165l7 4 17-7-7-4zm-17 7l7 4 17-7-7-4z"/>
<path fill="#022" d="M917 2031l9 3 15-1-9-3z"/>
<path fill="#023" d="M901 2032l9 3 16-1-9-3z"/>
<path fill="#033" d="M885 2033l9 3 16-1-9-3zm-16 1l9 3 16-1-9-3z"/>
<path fill="#043" d="M852 2036l9 3 17-2-9-3zm-16 1l9 3 16-1-9-3z"/>
<path fill="#053" d="M820 2039l9 3 16-2-9-3zm-17 2l9 3 17-2-9-3zm-16 2l9 3 16-2-9-3z"/>
<path fill="#062" d="M770 2045l9 4 17-3-9-3zm-16 3l8 3 17-2-9-4z"/>
<path fill="#161" d="M737 2051l9 3 16-3-8-3z"/>
<path fill="#171" d="M720 2053l9 3 17-2-9-3zm-16 3l8 3 17-3-9-3zm-17 3l8 4 17-4-8-3z"/>
<path fill="#181" d="M670 2063l8 3 17-3-8-4z"/>
<path fill="#281" d="M653 2066l8 3 17-3-8-3zm-17 4l8 3 17-4-8-3z"/>
<path fill="#391" d="M619 2074l8 3 17-4-8-3z"/>
<path fill="#490" d="M602 2078l8 3 17-4-8-3zm-18 4l8 3 18-4-8-3zm-17 4l8 4 17-5-8-3z"/>
<path fill="#4a0" d="M550 2091l8 3 17-4-8-4z"/>
<path fill="#6a0" d="M533 2096l8 3 17-5-8-3zm-17 5l7 3 18-5-8-3z"/>
<path fill="#6b0" d="M498 2106l8 4 17-6-7-3zm-17 5l8 4 17-5-8-4zm-17 6l7 4 18-6-8-4zm-17 6l7 4 17-6-7-4z"/>
<path fill="#7b0" d="M429 2129l8 4 17-6-7-4z"/>
<path fill="#7c0" d="M412 2135l7 4 18-6-8-4zm-17 6l7 4 17-6-7-4z"/>
<path fill="#5c0" d="M378 2148l7 4 17-7-7-4zm-18 7l8 4 17-7-7-4zm-17 7l7 4 18-7-8-4zm-17 7l7 4 17-7-7-4z"/>
<path fill="#4c1" d="M309 2176l7 5 17-8-7-4z"/>
<path fill="#034" d="M926 2034l9 3 16-1-10-3z"/>
<path fill="#044" d="M910 2035l9 3 16-1-9-3z"/>
<path fill="#054" d="M894 2036l9 3 16-1-9-3zm-16 1l8 3 17-1-9-3zm-17 2l9 3 16-2-8-3z"/>
<path fill="#063" d="M845 2040l9 4 16-2-9-3zm-16 2l8 3 17-1-9-4z"/>
<path fill="#062" d="M812 2044l9 3 16-2-8-3z"/>
<path fill="#072" d="M796 2046l8 4 17-3-9-3z"/>
<path fill="#171" d="M779 2049l9 3 16-2-8-4zm-17 2l9 3 17-2-9-3zm-16 3l8 3 17-3-9-3z"/>
<path fill="#181" d="M729 2056l8 4 17-3-8-3z"/>
<path fill="#281" d="M712 2059l8 4 17-3-8-4z"/>
<path fill="#381" d="M695 2063l8 3 17-3-8-4z"/>
<path fill="#490" d="M678 2066l8 3 17-3-8-3zm-17 3l8 4 17-4-8-3zm-17 4l8 4 17-4-8-4z"/>
<path fill="#6a0" d="M627 2077l8 4 17-4-8-4zm-17 4l8 4 17-4-8-4zm-18 4l9 4 17-4-8-4z"/>
<path fill="#8b0" d="M575 2090l8 4 18-5-9-4zm-17 4l8 4 17-4-8-4zm-17 5l8 4 17-5-8-4zm-18 5l8 4 18-5-8-4z"/>
<path fill="#8c0" d="M506 2110l8 4 17-6-8-4z"/>
<path fill="#9c0" d="M489 2115l7 4 18-5-8-4zm-18 6l8 4 17-6-7-4zm-17 6l8 4 17-6-8-4zm-17 6l7 4 18-6-8-4zm-18 6l8 4 17-6-7-4zm-17 6l8 5 17-7-8-4z"/>
<path fill="#9d0" d="M385 2152l7 5 18-7-8-5z"/>
<path fill="#7d0" d="M368 2159l7 5 17-7-7-5zm-18 7l8 5 17-7-7-5zm-17 7l7 5 18-7-8-5z"/>
<path fill="#8d0" d="M316 2181l7 5 17-8-7-5z"/>
<path fill="#055" d="M935 2037l9 3 16-1-9-3z"/>
<path fill="#065" d="M919 2038l9 3 16-1-9-3z"/>
<path fill="#064" d="M903 2039l9 4 16-2-9-3zm-17 1l10 4 16-1-9-4z"/>
<path fill="#074" d="M870 2042l9 4 17-2-10-4z"/>
<path fill="#073" d="M854 2044l9 3 16-1-9-4z"/>
<path fill="#072" d="M837 2045l9 4 17-2-9-3z"/>
<path fill="#171" d="M821 2047l9 4 16-2-9-4z"/>
<path fill="#181" d="M804 2050l9 3 17-2-9-4zm-16 2l9 4 16-3-9-3z"/>
<path fill="#281" d="M771 2054l9 4 17-2-9-4z"/>
<path fill="#391" d="M754 2057l9 4 17-3-9-4zm-17 3l9 4 17-3-9-4z"/>
<path fill="#490" d="M720 2063l9 4 17-3-9-4z"/>
<path fill="#4a0" d="M703 2066l9 4 17-3-9-4z"/>
<path fill="#6a0" d="M686 2069l9 4 17-3-9-4zm-17 4l9 4 17-4-9-4z"/>
<path fill="#8b0" d="M652 2077l9 4 17-4-9-4zm-17 4l8 4 18-4-9-4zm-17 4l8 4 17-4-8-4z"/>
<path fill="#ab0" d="M601 2089l8 4 17-4-8-4z"/>
<path fill="#ac0" d="M583 2094l8 4 18-5-8-4zm-17 4l8 5 17-5-8-4zm-17 5l8 5 17-5-8-5z"/>
<path fill="#bc0" d="M531 2108l8 5 18-5-8-5zm-17 6l8 4 17-5-8-5zm-18 5l8 5 18-6-8-4z"/>
<path fill="#bd0" d="M479 2125l8 5 17-6-8-5zm-17 6l7 5 18-6-8-5zm-18 6l8 5 17-6-7-5zm-17 6l8 5 17-6-8-5z"/>
<path fill="#cd0" d="M410 2150l7 5 18-7-8-5zm-18 7l8 5 17-7-7-5zm-17 7l7 5 18-7-8-5z"/>
<path fill="#ad0" d="M358 2171l7 5 17-7-7-5zm-18 7l8 5 17-7-7-5zm-17 8l7 5 18-8-8-5z"/>
<path fill="#075" d="M944 2040l9 4 16-1-9-4zm-16 1l9 4 16-1-9-4z"/>
<path fill="#074" d="M912 2043l9 4 16-2-9-4zm-16 1l9 4 16-1-9-4z"/>
<path fill="#083" d="M879 2046l9 4 17-2-9-4z"/>
<path fill="#182" d="M863 2047l9 4 16-1-9-4z"/>
<path fill="#181" d="M846 2049l9 4 17-2-9-4zm-16 2l9 4 16-2-9-4z"/>
<path fill="#291" d="M813 2053l9 4 17-2-9-4z"/>
<path fill="#391" d="M797 2056l8 4 17-3-9-4zm-17 2l9 4 16-2-8-4z"/>
<path fill="#4a0" d="M763 2061l9 4 17-3-9-4z"/>
<path fill="#6a0" d="M746 2064l9 4 17-3-9-4zm-17 3l9 4 17-3-9-4z"/>
<path fill="#8b0" d="M712 2070l9 4 17-3-9-4zm-17 3l9 5 17-4-9-4z"/>
<path fill="#ab0" d="M678 2077l8 4 18-3-9-5z"/>
<path fill="#ac0" d="M661 2081l8 4 17-4-8-4zm-18 4l9 4 17-4-8-4z"/>
<path fill="#cb0" d="M626 2089l8 5 18-5-9-4zm-17 4l8 5 17-4-8-5zm-18 5l9 5 17-5-8-5zm-17 5l8 5 18-5-9-5z"/>
<path fill="#cc0" d="M557 2108l8 5 17-5-8-5z"/>
<path fill="#dc0" d="M539 2113l8 5 18-5-8-5z"/>
<path fill="#eb0" d="M522 2118l8 5 17-5-8-5zm-18 6l8 5 18-6-8-5zm-17 6l8 5 17-6-8-5zm-18 6l8 5 18-6-8-5z"/>
<path fill="#dc0" d="M452 2142l8 5 17-6-8-5zm-17 6l7 6 18-7-8-5zm-18 7l8 5 17-6-7-6zm-17 7l7 5 18-7-8-5zm-18 7l8 5 17-7-7-5z"/>
<path fill="#ce0" d="M365 2176l7 6 18-8-8-5zm-17 7l7 6 17-7-7-6zm-18 8l8 6 17-8-7-6z"/>
<path fill="#086" d="M953 2044l9 4 16 0-9-5z"/>
<path fill="#085" d="M937 2045l9 5 16-2-9-4z"/>
<path fill="#084" d="M921 2047l9 4 16-1-9-5z"/>
<path fill="#083" d="M905 2048l9 4 16-1-9-4z"/>
<path fill="#182" d="M888 2050l10 4 16-2-9-4z"/>
<path fill="#191" d="M872 2051l9 5 17-2-10-4z"/>
<path fill="#291" d="M855 2053l10 4 16-1-9-5z"/>
<path fill="#391" d="M839 2055l9 5 17-3-10-4z"/>
<path fill="#3a1" d="M822 2057l9 5 17-2-9-5z"/>
<path fill="#4a0" d="M805 2060l9 4 17-2-9-5z"/>
<path fill="#6a0" d="M789 2062l9 5 16-3-9-4z"/>
<path fill="#6b0" d="M772 2065l9 5 17-3-9-5z"/>
<path fill="#8b0" d="M755 2068l9 5 17-3-9-5zm-17 3l9 5 17-3-9-5z"/>
<path fill="#ac0" d="M721 2074l8 5 18-3-9-5zm-17 4l8 5 17-4-8-5z"/>
<path fill="#cb0" d="M686 2081l9 5 17-3-8-5zm-17 4l9 5 17-4-9-5zm-17 4l8 5 18-4-9-5z"/>
<path fill="#da0" d="M634 2094l9 5 17-5-8-5zm-17 4l9 5 17-4-9-5z"/>
<path fill="#eb0" d="M600 2103l8 5 18-5-9-5zm-18 5l9 5 17-5-8-5zm-17 5l8 5 18-5-9-5z"/>
<path fill="#e90" d="M547 2118l9 5 17-5-8-5zm-17 5l8 6 18-6-9-5zm-18 6l9 5 17-5-8-6zm-17 6l8 5 18-6-9-5zm-18 6l8 5 18-6-8-5z"/>
<path fill="#eb0" d="M460 2147l8 6 17-7-8-5zm-18 7l8 5 18-6-8-6zm-17 6l8 6 17-7-8-5zm-18 7l8 6 18-7-8-6zm-17 7l8 6 17-7-8-6z"/>
<path fill="#dc0" d="M372 2182l8 6 18-8-8-6zm-17 7l8 6 17-7-8-6zm-17 8l7 6 18-8-8-6z"/>
<path fill="#094" d="M962 2048l10 5 16-1-10-4z"/>
<path fill="#093" d="M946 2050l10 4 16-1-10-5zm-16 1l10 4 16-1-10-4z"/>
<path fill="#192" d="M914 2052l9 5 17-2-10-4z"/>
<path fill="#191" d="M898 2054l9 4 16-1-9-5z"/>
<path fill="#2a1" d="M881 2056l9 4 17-2-9-4z"/>
<path fill="#3a1" d="M865 2057l9 5 16-2-9-4z"/>
<path fill="#5a0" d="M848 2060l9 4 17-2-9-5z"/>
<path fill="#5b0" d="M831 2062l9 5 17-3-9-4z"/>
<path fill="#6b0" d="M814 2064l10 5 16-2-9-5z"/>
<path fill="#8b0" d="M798 2067l9 5 17-3-10-5z"/>
<path fill="#8c0" d="M781 2070l9 5 17-3-9-5z"/>
<path fill="#ac0" d="M764 2073l9 5 17-3-9-5z"/>
<path fill="#bc0" d="M747 2076l9 5 17-3-9-5z"/>
<path fill="#cb0" d="M729 2079l9 5 18-3-9-5z"/>
<path fill="#cc0" d="M712 2083l9 5 17-4-9-5z"/>
<path fill="#da0" d="M695 2086l9 6 17-4-9-5z"/>
<path fill="#ea0" d="M678 2090l8 6 18-4-9-6z"/>
<path fill="#eb0" d="M660 2094l9 6 17-4-8-6z"/>
<path fill="#e90" d="M643 2099l9 5 17-4-9-6zm-17 4l8 6 18-5-9-5zm-18 5l9 5 17-4-8-6zm-17 5l8 5 18-5-9-5zm-18 5l9 6 17-6-8-5z"/>
<path fill="#e70" d="M556 2123l8 6 18-5-9-6zm-18 6l8 6 18-6-8-6zm-17 5l8 6 17-5-8-6zm-18 6l8 6 18-6-8-6z"/>
<path fill="#e90" d="M485 2146l9 6 17-6-8-6zm-17 7l8 6 18-7-9-6zm-18 6l8 7 18-7-8-6zm-17 7l8 6 17-6-8-7zm-18 7l8 6 18-7-8-6zm-17 7l7 7 18-8-8-6z"/>
<path fill="#eb0" d="M380 2188l8 6 17-7-7-7zm-17 7l7 7 18-8-8-6z"/>
<path fill="#dc0" d="M345 2203l8 7 17-8-7-7z"/>
<path fill="#093" d="M972 2053l9 5 16-1-9-5z"/>
<path fill="#192" d="M956 2054l9 5 16-1-9-5z"/>
<path fill="#1a1" d="M940 2055l9 5 16-1-9-5z"/>
<path fill="#2a1" d="M923 2057l10 5 16-2-9-5zm-16 1l9 5 17-1-10-5z"/>
<path fill="#3a1" d="M890 2060l10 5 16-2-9-5z"/>
<path fill="#5b0" d="M874 2062l9 5 17-2-10-5z"/>
<path fill="#7b0" d="M857 2064l9 5 17-2-9-5z"/>
<path fill="#7c0" d="M840 2067l10 5 16-3-9-5z"/>
<path fill="#9c0" d="M824 2069l9 5 17-2-10-5z"/>
<path fill="#bc0" d="M807 2072l9 5 17-3-9-5zm-17 3l9 5 17-3-9-5z"/>
<path fill="#cc0" d="M773 2078l9 5 17-3-9-5zm-17 3l9 5 17-3-9-5z"/>
<path fill="#eb0" d="M738 2084l9 6 18-4-9-5zm-17 4l9 5 17-3-9-6z"/>
<path fill="#e90" d="M704 2092l9 5 17-4-9-5zm-18 4l9 5 18-4-9-5zm-17 4l9 5 17-4-9-5z"/>
<path fill="#e70" d="M652 2104l8 6 18-5-9-5zm-18 5l9 6 17-5-8-6zm-17 4l8 6 18-4-9-6zm-18 5l9 6 17-5-8-6zm-17 6l8 6 18-6-9-6zm-18 5l8 6 18-5-8-6zm-18 6l9 6 17-6-8-6zm-17 5l8 7 18-6-9-6zm-18 6l8 7 18-6-8-7zm-17 6l8 7 17-6-8-7zm-18 7l8 6 18-6-8-7zm-18 7l8 6 18-7-8-6zm-17 6l8 7 17-7-8-6zm-18 7l8 7 18-7-8-7z"/>
<path fill="#e90" d="M405 2187l8 7 18-8-8-7zm-17 7l8 7 17-7-8-7zm-18 8l8 7 18-8-8-7z"/>
<path fill="#eb0" d="M353 2210l8 7 17-8-8-7z"/>
<path fill="#1a2" d="M981 2058l10 5 16-1-10-5zm-16 1l10 5 16-1-10-5z"/>
<path fill="#2a1" d="M949 2060l10 6 16-2-10-5z"/>
<path fill="#3b1" d="M933 2062l9 5 17-1-10-6zm-17 1l10 6 16-2-9-5z"/>
<path fill="#5b0" d="M900 2065l9 6 17-2-10-6z"/>
<path fill="#7c0" d="M883 2067l10 6 16-2-9-6z"/>
<path fill="#9c0" d="M866 2069l10 6 17-2-10-6zm-16 3l9 5 17-2-10-6z"/>
<path fill="#bd0" d="M833 2074l9 6 17-3-9-5z"/>
<path fill="#dc0" d="M816 2077l9 6 17-3-9-6zm-17 3l9 6 17-3-9-6z"/>
<path fill="#eb0" d="M782 2083l9 6 17-3-9-6zm-17 3l9 6 17-3-9-6z"/>
<path fill="#e90" d="M747 2090l9 6 18-4-9-6zm-17 3l9 6 17-3-9-6z"/>
<path fill="#e70" d="M713 2097l9 6 17-4-9-6zm-18 4l9 6 18-4-9-6zm-17 4l9 7 17-5-9-6z"/>
<path fill="#e50" d="M660 2110l9 6 18-4-9-7zm-17 5l9 6 17-5-9-6zm-18 4l9 7 18-5-9-6zm-17 5l8 7 18-5-9-7zm-18 6l9 6 17-5-8-7zm-18 5l9 7 18-6-9-6zm-17 6l8 6 18-5-9-7zm-18 6l9 6 17-6-8-6zm-18 6l9 7 18-7-9-6zm-17 6l8 7 18-6-9-7zm-18 6l8 8 18-7-8-7zm-18 7l9 7 17-6-8-8zm-17 7l8 7 18-7-9-7z"/>
<path fill="#e70" d="M431 2186l8 7 18-7-8-7zm-18 8l9 7 17-8-8-7zm-17 7l8 7 18-7-9-7z"/>
<path fill="#e90" d="M378 2209l8 7 18-8-8-7zm-17 8l8 7 17-8-8-7z"/>
<path fill="#1b2" d="M991 2063l10 6 16-1-10-6z"/>
<path fill="#2b1" d="M975 2064l10 6 16-1-10-6z"/>
<path fill="#3b1" d="M959 2066l9 5 17-1-10-6z"/>
<path fill="#5c0" d="M942 2067l10 6 16-2-9-5zm-16 2l9 6 17-2-10-6z"/>
<path fill="#7c0" d="M909 2071l10 6 16-2-9-6z"/>
<path fill="#9d0" d="M893 2073l9 6 17-2-10-6z"/>
<path fill="#bd0" d="M876 2075l9 6 17-2-9-6zm-17 2l9 6 17-2-9-6z"/>
<path fill="#dc0" d="M842 2080l10 6 16-3-9-6z"/>
<path fill="#eb0" d="M825 2083l9 6 18-3-10-6zm-17 3l9 6 17-3-9-6z"/>
<path fill="#e90" d="M791 2089l9 6 17-3-9-6zm-17 3l9 6 17-3-9-6z"/>
<path fill="#e70" d="M756 2096l10 6 17-4-9-6zm-17 3l9 7 18-4-10-6zm-17 4l9 7 17-4-9-7z"/>
<path fill="#e50" d="M704 2107l9 7 18-4-9-7zm-17 5l9 6 17-4-9-7zm-18 4l9 7 18-5-9-6z"/>
<path fill="#e31" d="M652 2121l9 7 17-5-9-7zm-18 5l9 7 18-5-9-7zm-18 5l9 7 18-5-9-7zm-17 5l9 7 17-5-9-7zm-18 6l9 7 18-6-9-7zm-18 5l9 8 18-6-9-7zm-17 6l8 8 18-6-9-8zm-18 7l8 7 18-6-8-8zm-18 6l9 7 17-6-8-7zm-18 7l9 7 18-7-9-7zm-17 6l8 8 18-7-9-7z"/>
<path fill="#e50" d="M457 2186l8 8 18-7-8-8zm-18 7l9 8 17-7-8-8zm-17 8l8 8 18-8-9-8z"/>
<path fill="#e70" d="M404 2208l8 8 18-7-8-8zm-18 8l8 8 18-8-8-8zm-17 8l8 8 17-8-8-8z"/>
<path fill="#2b1" d="M1001 2069l9 6 17-1-10-6z"/>
<path fill="#3c1" d="M985 2070l9 6 16-1-9-6z"/>
<path fill="#5c0" d="M968 2071l10 6 16-1-9-6zm-16 2l10 6 16-2-10-6z"/>
<path fill="#7d0" d="M935 2075l10 6 17-2-10-6z"/>
<path fill="#9d0" d="M919 2077l9 6 17-2-10-6z"/>
<path fill="#cd0" d="M902 2079l10 6 16-2-9-6zm-17 2l10 6 17-2-10-6z"/>
<path fill="#dc0" d="M868 2083l10 7 17-3-10-6z"/>
<path fill="#eb0" d="M852 2086l9 6 17-2-10-7zm-18 3l10 6 17-3-9-6z"/>
<path fill="#e90" d="M817 2092l10 6 17-3-10-6z"/>
<path fill="#e70" d="M800 2095l10 7 17-4-10-6zm-17 3l9 7 18-3-10-7zm-17 4l9 7 17-4-9-7z"/>
<path fill="#e50" d="M748 2106l9 7 18-4-9-7zm-17 4l9 7 17-4-9-7z"/>
<path fill="#e31" d="M713 2114l9 7 18-4-9-7zm-17 4l9 7 17-4-9-7zm-18 5l9 7 18-5-9-7zm-17 5l9 7 17-5-9-7zm-18 5l9 7 18-5-9-7z"/>
<path fill="#e21" d="M625 2138l9 7 18-5-9-7zm-17 5l8 8 18-6-9-7zm-18 6l9 7 17-5-8-8zm-18 6l9 7 18-6-9-7zm-18 6l9 7 18-6-9-7zm-18 6l9 8 18-7-9-7z"/>
<path fill="#e31" d="M519 2173l8 8 18-6-9-8zm-18 7l8 8 18-7-8-8zm-18 7l9 8 17-7-8-8zm-18 7l9 8 18-7-9-8zm-17 7l8 8 18-7-9-8z"/>
<path fill="#e50" d="M430 2209l8 8 18-8-8-8zm-18 7l8 9 18-8-8-8zm-18 8l9 9 17-8-8-9z"/>
<path fill="#e70" d="M377 2232l8 9 18-8-9-9z"/>
<path fill="#2c1" d="M1010 2075l10 6 16-1-9-6z"/>
<path fill="#4c1" d="M994 2076l10 6 16-1-10-6z"/>
<path fill="#6d0" d="M978 2077l10 7 16-2-10-6z"/>
<path fill="#8d0" d="M962 2079l9 6 17-1-10-7z"/>
<path fill="#ad0" d="M945 2081l10 6 16-2-9-6z"/>
<path fill="#ce0" d="M928 2083l10 6 17-2-10-6z"/>
<path fill="#dc0" d="M912 2085l9 6 17-2-10-6zm-17 2l9 7 17-3-9-6z"/>
<path fill="#eb0" d="M878 2090l10 6 16-2-9-7z"/>
<path fill="#e90" d="M861 2092l10 7 17-3-10-6zm-17 3l9 7 18-3-10-7z"/>
<path fill="#e70" d="M827 2098l9 7 17-3-9-7zm-17 4l9 7 17-4-9-7z"/>
<path fill="#e50" d="M792 2105l10 7 17-3-9-7zm-17 4l9 7 18-4-10-7z"/>
<path fill="#e31" d="M757 2113l10 7 17-4-9-7zm-17 4l9 7 18-4-10-7zm-18 4l10 7 17-4-9-7zm-17 4l9 8 18-5-10-7z"/>
<path fill="#e21" d="M687 2130l9 7 18-4-9-8zm-17 5l9 7 17-5-9-7zm-18 5l9 8 18-6-9-7zm-18 5l9 8 18-5-9-8zm-18 6l9 7 18-5-9-8zm-17 5l8 8 18-6-9-7zm-18 6l9 8 17-6-8-8zm-18 6l9 8 18-6-9-8zm-18 7l9 8 18-7-9-8zm-18 6l9 8 18-6-9-8zm-18 7l9 8 18-7-9-8zm-17 7l8 8 18-7-9-8z"/>
<path fill="#e31" d="M474 2202l8 8 18-7-8-8zm-18 7l8 9 18-8-8-8zm-18 8l9 8 17-7-8-9z"/>
<path fill="#e50" d="M420 2225l9 8 18-8-9-8zm-17 8l8 8 18-8-9-8zm-18 8l8 9 18-9-8-8z"/>
<path fill="#4d1" d="M1020 2081l10 7 16-1-10-7z"/>
<path fill="#6d0" d="M1004 2082l10 7 16-1-10-7z"/>
<path fill="#8d0" d="M988 2084l9 7 17-2-10-7z"/>
<path fill="#ad0" d="M971 2085l10 7 16-1-9-7z"/>
<path fill="#ce0" d="M955 2087l9 7 17-2-10-7zm-17 2l10 7 16-2-9-7z"/>
<path fill="#dc0" d="M921 2091l10 7 17-2-10-7z"/>
<path fill="#eb0" d="M904 2094l10 7 17-3-10-7z"/>
<path fill="#e90" d="M888 2096l9 8 17-3-10-7zm-17 3l9 7 17-2-9-8z"/>
<path fill="#e70" d="M853 2102l10 7 17-3-9-7zm-17 3l10 8 17-4-10-7z"/>
<path fill="#e50" d="M819 2109l9 7 18-3-10-8zm-17 3l9 8 17-4-9-7z"/>
<path fill="#e31" d="M784 2116l10 7 17-3-9-8zm-17 4l9 7 18-4-10-7zm-18 4l10 8 17-5-9-7z"/>
<path fill="#e21" d="M732 2128l9 8 18-4-10-8zm-18 5l9 8 18-5-9-8zm-18 4l10 8 17-4-9-8zm-17 5l9 8 18-5-10-8zm-18 6l9 8 18-6-9-8zm-18 5l9 8 18-5-9-8zm-18 5l9 9 18-6-9-8zm-18 6l9 9 18-6-9-9zm-17 6l9 9 17-6-9-9zm-18 6l9 9 18-6-9-9zm-18 7l9 8 18-6-9-9zm-18 6l9 9 18-7-9-8zm-18 7l9 9 18-7-9-9zm-18 7l9 9 18-7-9-9zm-18 7l9 9 18-7-9-9zm-18 8l9 9 18-8-9-9z"/>
<path fill="#e31" d="M447 2225l8 10 18-8-9-9zm-18 8l8 10 18-8-8-10z"/>
<path fill="#e50" d="M411 2241l8 10 18-8-8-10zm-18 9l9 9 17-8-8-10z"/>
<path fill="#6d0" d="M1030 2088l10 7 16-1-10-7z"/>
<path fill="#8d0" d="M1014 2089l10 7 16-1-10-7z"/>
<path fill="#ad0" d="M997 2091l10 7 17-2-10-7z"/>
<path fill="#ce0" d="M981 2092l10 8 16-2-10-7zm-17 2l10 8 17-2-10-8z"/>
<path fill="#dc0" d="M948 2096l9 8 17-2-10-8z"/>
<path fill="#eb0" d="M931 2098l10 8 16-2-9-8z"/>
<path fill="#e90" d="M914 2101l10 7 17-2-10-8zm-17 3l10 7 17-3-10-7z"/>
<path fill="#e70" d="M880 2106l10 8 17-3-10-7zm-17 3l10 8 17-3-10-8z"/>
<path fill="#e50" d="M846 2113l9 7 18-3-10-8zm-18 3l10 8 17-4-9-7z"/>
<path fill="#e31" d="M811 2120l10 8 17-4-10-8zm-17 3l9 8 18-3-10-8z"/>
<path fill="#e21" d="M776 2127l10 8 17-4-9-8zm-17 5l9 8 18-5-10-8zm-18 4l9 8 18-4-9-8zm-18 5l10 8 17-5-9-8zm-17 4l9 9 18-5-10-8zm-18 5l9 9 18-5-9-9zm-18 6l9 8 18-5-9-9zm-18 5l9 9 18-6-9-8zm-18 6l9 9 18-6-9-9zm-18 6l10 8 17-5-9-9zm-17 6l9 9 18-7-10-8zm-18 6l9 9 18-6-9-9zm-18 6l9 10 18-7-9-9zm-18 7l9 9 18-6-9-10zm-18 7l9 9 18-7-9-9zm-18 7l9 9 18-7-9-9zm-18 7l9 10 18-8-9-9zm-18 8l9 9 18-7-9-10zm-18 8l9 9 18-8-9-9z"/>
<path fill="#e31" d="M437 2243l9 9 18-8-9-9zm-18 8l9 9 18-8-9-9z"/>
<path fill="#e50" d="M402 2259l8 10 18-9-9-9z"/>
<path fill="#6d0" d="M1040 2095l10 7 16-1-10-7z"/>
<path fill="#8d0" d="M1024 2096l9 8 17-2-10-7z"/>
<path fill="#ad0" d="M1007 2098l10 7 16-1-9-8z"/>
<path fill="#ce0" d="M991 2100l10 7 16-2-10-7z"/>
<path fill="#dc0" d="M974 2102l10 7 17-2-10-7z"/>
<path fill="#eb0" d="M957 2104l10 7 17-2-10-7zm-16 2l9 8 17-3-10-7z"/>
<path fill="#e90" d="M924 2108l10 8 16-2-9-8z"/>
<path fill="#e70" d="M907 2111l9 8 18-3-10-8zm-17 3l9 8 17-3-9-8z"/>
<path fill="#e50" d="M873 2117l9 8 17-3-9-8zm-18 3l10 9 17-4-9-8z"/>
<path fill="#e31" d="M838 2124l10 8 17-3-10-9zm-17 4l9 8 18-4-10-8z"/>
<path fill="#e21" d="M803 2131l10 9 17-4-9-8zm-17 4l9 9 18-4-10-9zm-18 5l9 8 18-4-9-9zm-18 4l10 9 17-5-9-8zm-17 5l9 9 18-5-10-9zm-18 5l9 9 18-5-9-9zm-18 5l9 9 18-5-9-9zm-18 5l10 9 17-5-9-9z"/>
<path fill="#d21" d="M661 2170l10 9 18-6-10-9zm-18 6l10 9 18-6-10-9zm-17 5l9 10 18-6-10-9zm-18 7l9 9 18-6-9-10z"/>
<path fill="#e21" d="M590 2194l9 9 18-6-9-9zm-18 7l9 9 18-7-9-9zm-18 6l9 10 18-7-9-9zm-18 7l9 10 18-7-9-10zm-18 7l9 10 18-7-9-10zm-18 8l9 10 18-8-9-10zm-18 7l9 10 18-7-9-10zm-18 8l9 10 18-8-9-10z"/>
<path fill="#e31" d="M446 2252l9 10 18-8-9-10zm-18 8l9 10 18-8-9-10zm-18 9l9 10 18-9-9-10z"/>
<path fill="#8d0" d="M1050 2102l10 8 16-1-10-8z"/>
<path fill="#ad0" d="M1033 2104l10 8 17-2-10-8z"/>
<path fill="#ce0" d="M1017 2105l10 8 16-1-10-8z"/>
<path fill="#dc0" d="M1001 2107l9 8 17-2-10-8zm-17 2l10 8 16-2-9-8z"/>
<path fill="#eb0" d="M967 2111l10 9 17-3-10-8z"/>
<path fill="#e90" d="M950 2114l10 8 17-2-10-9zm-16 2l9 9 17-3-10-8z"/>
<path fill="#e70" d="M916 2119l10 9 17-3-9-9z"/>
<path fill="#e50" d="M899 2122l10 9 17-3-10-9zm-17 3l10 9 17-3-10-9z"/>
<path fill="#e31" d="M865 2129l10 8 17-3-10-9zm-17 3l9 9 18-4-10-8z"/>
<path fill="#e21" d="M830 2136l10 9 17-4-9-9zm-17 4l9 9 18-4-10-9zm-18 4l10 9 17-4-9-9zm-18 4l10 9 18-4-10-9zm-17 5l9 9 18-5-10-9zm-18 5l9 9 18-5-9-9zm-18 5l10 9 17-5-9-9z"/>
<path fill="#d21" d="M706 2168l10 9 18-5-10-9zm-17 5l9 10 18-6-10-9zm-18 6l9 9 18-5-9-10zm-18 6l9 9 18-6-9-9zm-18 6l9 9 18-6-9-9zm-18 6l9 10 18-7-9-9zm-18 6l9 10 18-6-9-10zm-18 7l9 10 18-7-9-10z"/>
<path fill="#e21" d="M563 2217l9 10 18-7-9-10zm-18 7l9 10 18-7-9-10zm-18 7l9 10 18-7-9-10zm-18 8l9 10 18-8-9-10zm-18 7l9 11 18-8-9-10zm-18 8l8 11 19-8-9-11zm-18 8l8 11 18-8-8-11z"/>
<path fill="#e31" d="M437 2270l9 11 17-8-8-11zm-18 9l9 11 18-9-9-11z"/>
<path fill="#8d0" d="M1060 2110l10 9 16-2-10-8z"/>
<path fill="#ad0" d="M1043 2112l10 8 17-1-10-9z"/>
<path fill="#ce0" d="M1027 2113l10 9 16-2-10-8z"/>
<path fill="#dc0" d="M1010 2115l10 9 17-2-10-9z"/>
<path fill="#eb0" d="M994 2117l10 9 16-2-10-9zm-17 3l10 8 17-2-10-9z"/>
<path fill="#e90" d="M960 2122l10 9 17-3-10-8z"/>
<path fill="#e70" d="M943 2125l10 8 17-2-10-9zm-17 3l10 8 17-3-10-8z"/>
<path fill="#e50" d="M909 2131l10 8 17-3-10-8z"/>
<path fill="#e31" d="M892 2134l10 9 17-4-10-8zm-17 3l9 9 18-3-10-9z"/>
<path fill="#e21" d="M857 2141l10 9 17-4-9-9zm-17 4l9 9 18-4-10-9zm-18 4l10 9 17-4-9-9zm-17 4l9 9 18-4-10-9zm-18 4l9 10 18-5-9-9zm-18 5l10 10 17-5-9-10zm-18 5l10 10 18-5-10-10z"/>
<path fill="#d21" d="M734 2172l9 10 18-5-10-10zm-18 5l9 10 18-5-9-10zm-18 6l9 10 18-6-9-10zm-18 5l9 10 18-5-9-10zm-18 6l9 10 18-6-9-10zm-18 6l9 11 18-7-9-10zm-18 7l9 10 18-6-9-11zm-18 6l9 11 18-7-9-10zm-18 7l9 10 18-6-9-11zm-18 7l9 10 18-7-9-10z"/>
<path fill="#e21" d="M554 2234l9 11 18-8-9-10zm-18 7l9 11 18-7-9-11zm-18 8l9 11 18-8-9-11zm-18 8l9 10 18-7-9-11zm-19 8l9 10 19-8-9-10zm-18 8l9 11 18-9-9-10z"/>
<path fill="#e31" d="M446 2281l8 11 18-8-9-11zm-18 9l8 11 18-9-8-11z"/>
<path fill="#ad0" d="M1070 2119l9 8 17-1-10-9z"/>
<path fill="#ce0" d="M1053 2120l10 9 16-2-9-8zm-16 2l10 9 16-2-10-9z"/>
<path fill="#dc0" d="M1020 2124l10 9 17-2-10-9z"/>
<path fill="#eb0" d="M1004 2126l10 9 16-2-10-9z"/>
<path fill="#e90" d="M987 2128l10 9 17-2-10-9zm-17 3l10 9 17-3-10-9z"/>
<path fill="#e70" d="M953 2133l10 10 17-3-10-9z"/>
<path fill="#e50" d="M936 2136l10 10 17-3-10-10zm-17 3l10 10 17-3-10-10z"/>
<path fill="#e31" d="M902 2143l9 9 18-3-10-10zm-18 3l10 10 17-4-9-9z"/>
<path fill="#e21" d="M867 2150l10 10 17-4-10-10zm-18 4l10 10 18-4-10-10zm-17 4l9 10 18-4-10-10zm-18 4l10 10 17-4-9-10zm-18 5l10 10 18-5-10-10zm-17 5l9 10 18-5-10-10z"/>
<path fill="#d21" d="M761 2177l9 10 18-5-9-10zm-18 5l10 10 17-5-9-10zm-18 5l10 10 18-5-10-10zm-18 6l10 10 18-6-10-10zm-18 5l10 11 18-6-10-10zm-18 6l10 11 18-6-10-11zm-18 7l10 10 18-6-10-11zm-18 6l9 11 19-7-10-10zm-18 7l9 10 18-6-9-11zm-18 6l9 11 18-7-9-10zm-18 7l9 11 18-7-9-11z"/>
<path fill="#e21" d="M563 2245l9 11 18-8-9-11zm-18 7l9 11 18-7-9-11zm-18 8l9 11 18-8-9-11zm-18 7l9 12 18-8-9-11zm-19 8l9 12 19-8-9-12zm-18 9l9 11 18-8-9-12z"/>
<path fill="#e31" d="M454 2292l9 12 18-9-9-11zm-18 9l9 11 18-8-9-12z"/>
<path fill="#ad0" d="M1079 2127l10 9 17-1-10-9z"/>
<path fill="#ce0" d="M1063 2129l10 9 16-2-10-9z"/>
<path fill="#dc0" d="M1047 2131l10 9 16-2-10-9z"/>
<path fill="#eb0" d="M1030 2133l10 9 17-2-10-9zm-16 2l9 9 17-2-10-9z"/>
<path fill="#e90" d="M997 2137l10 10 16-3-9-9z"/>
<path fill="#e70" d="M980 2140l10 9 17-2-10-10zm-17 3l10 9 17-3-10-9z"/>
<path fill="#e50" d="M946 2146l10 9 17-3-10-9zm-17 3l9 10 18-4-10-9z"/>
<path fill="#e31" d="M911 2152l10 10 17-3-9-10zm-17 4l10 10 17-4-10-10z"/>
<path fill="#e21" d="M877 2160l9 10 18-4-10-10zm-18 4l10 10 17-4-9-10zm-18 4l10 10 18-4-10-10zm-17 4l9 10 18-4-10-10zm-18 5l10 10 17-5-9-10z"/>
<path fill="#d21" d="M788 2182l10 10 18-5-10-10zm-18 5l10 10 18-5-10-10zm-17 5l9 10 18-5-10-10zm-18 5l9 11 18-6-9-10zm-18 6l9 11 18-6-9-11zm-18 6l9 11 18-6-9-11zm-18 6l9 11 18-6-9-11zm-18 6l9 11 18-6-9-11zm-19 7l10 11 18-7-9-11zm-18 6l10 11 18-6-10-11zm-18 7l10 11 18-7-10-11zm-18 7l9 12 19-8-10-11z"/>
<path fill="#e21" d="M572 2256l9 11 18-7-9-12zm-18 7l9 12 18-8-9-11zm-18 8l9 11 18-7-9-12zm-18 8l9 11 18-8-9-11zm-19 8l10 11 18-8-9-11zm-18 8l10 12 18-9-10-11z"/>
<path fill="#e31" d="M463 2304l9 11 19-8-10-12zm-18 8l9 12 18-9-9-11z"/>
<path fill="#ad0" d="M1089 2136l10 10 17-2-10-9z"/>
<path fill="#ce0" d="M1073 2138l10 10 16-2-10-10z"/>
<path fill="#dc0" d="M1057 2140l10 10 16-2-10-10z"/>
<path fill="#eb0" d="M1040 2142l10 10 17-2-10-10zm-17 2l10 10 17-2-10-10z"/>
<path fill="#e90" d="M1007 2147l9 10 17-3-10-10z"/>
<path fill="#e70" d="M990 2149l10 10 16-2-9-10zm-17 3l10 10 17-3-10-10z"/>
<path fill="#e50" d="M956 2155l9 10 18-3-10-10z"/>
<path fill="#e31" d="M938 2159l10 10 17-4-9-10zm-17 3l10 10 17-3-10-10z"/>
<path fill="#e21" d="M904 2166l9 10 18-4-10-10zm-18 4l10 10 17-4-9-10zm-17 4l9 10 18-4-10-10zm-18 4l10 11 17-5-9-10zm-18 4l10 11 18-4-10-11zm-17 5l9 11 18-5-10-11z"/>
<path fill="#d21" d="M798 2192l10 11 17-5-9-11zm-18 5l10 11 18-5-10-11zm-18 5l10 11 18-5-10-11zm-18 6l10 11 18-6-10-11zm-18 6l10 11 18-6-10-11zm-18 6l10 11 18-6-10-11zm-18 6l10 11 18-6-10-11zm-18 6l9 12 19-7-10-11zm-18 7l9 11 18-6-9-12zm-18 6l9 12 18-7-9-11zm-18 7l9 12 18-7-9-12zm-19 8l10 11 18-7-9-12z"/>
<path fill="#e21" d="M581 2267l9 12 19-8-10-11zm-18 8l9 12 18-8-9-12zm-18 7l9 12 18-7-9-12zm-18 8l9 12 18-8-9-12zm-18 8l9 13 18-9-9-12zm-18 9l9 12 18-8-9-13z"/>
<path fill="#e31" d="M472 2315l10 13 18-9-9-12zm-18 9l10 13 18-9-10-13z"/>
<path fill="#ad0" d="M1099 2146l10 10 16-2-9-10z"/>
<path fill="#ce0" d="M1083 2148l10 10 16-2-10-10z"/>
<path fill="#dc0" d="M1067 2150l9 10 17-2-10-10z"/>
<path fill="#eb0" d="M1050 2152l10 10 16-2-9-10zm-17 2l10 10 17-2-10-10z"/>
<path fill="#e90" d="M1016 2157l10 10 17-3-10-10z"/>
<path fill="#e70" d="M1000 2159l9 11 17-3-10-10zm-17 3l9 11 17-3-9-11z"/>
<path fill="#e50" d="M965 2165l10 11 17-3-9-11z"/>
<path fill="#e31" d="M948 2169l10 10 17-3-10-11zm-17 3l10 11 17-4-10-10z"/>
<path fill="#e21" d="M913 2176l10 11 18-4-10-11zm-17 4l10 11 17-4-10-11zm-18 4l10 11 18-4-10-11zm-17 5l10 11 17-5-10-11zm-18 4l10 11 18-4-10-11zm-18 5l10 11 18-5-10-11z"/>
<path fill="#d21" d="M808 2203l9 11 18-5-10-11zm-18 5l9 11 18-5-9-11zm-18 5l9 12 18-6-9-11zm-18 6l9 12 18-6-9-12zm-18 6l9 12 18-6-9-12zm-18 6l9 12 18-6-9-12zm-18 6l9 12 18-6-9-12zm-19 7l10 11 18-6-9-12zm-18 6l10 12 18-7-10-11zm-18 7l9 12 19-7-10-12zm-18 7l9 12 18-7-9-12z"/>
<path fill="#e21" d="M609 2271l9 13 18-8-9-12zm-19 8l10 12 18-7-9-13zm-18 8l10 12 18-8-10-12zm-18 7l9 13 19-8-10-12zm-18 8l9 13 18-8-9-13zm-18 9l9 12 18-8-9-13z"/>
<path fill="#e31" d="M500 2319l9 13 18-9-9-12zm-18 9l9 12 18-8-9-13z"/>
<path fill="#e50" d="M464 2337l9 12 18-9-9-12z"/>
<path fill="#ad0" d="M1109 2156l10 10 16-1-10-11z"/>
<path fill="#ce0" d="M1093 2158l10 10 16-2-10-10z"/>
<path fill="#dc0" d="M1076 2160l10 10 17-2-10-10z"/>
<path fill="#eb0" d="M1060 2162l10 11 16-3-10-10zm-17 2l10 11 17-2-10-11z"/>
<path fill="#e90" d="M1026 2167l10 11 17-3-10-11z"/>
<path fill="#e70" d="M1009 2170l10 11 17-3-10-11zm-17 3l10 11 17-3-10-11z"/>
<path fill="#e50" d="M975 2176l10 11 17-3-10-11z"/>
<path fill="#e31" d="M958 2179l10 11 17-3-10-11zm-17 4l9 11 18-4-10-11zm-18 4l10 11 17-4-9-11z"/>
<path fill="#e21" d="M906 2191l9 11 18-4-10-11zm-18 4l10 12 17-5-9-11zm-17 5l9 11 18-4-10-12zm-18 4l9 12 18-5-9-11zm-18 5l10 12 17-5-9-12zm-18 5l10 12 18-5-10-12z"/>
<path fill="#d21" d="M799 2219l10 12 18-5-10-12zm-18 6l10 12 18-6-10-12zm-18 6l10 12 18-6-10-12zm-18 6l10 12 18-6-10-12zm-18 6l10 12 18-6-10-12zm-18 6l10 12 18-6-10-12zm-18 6l9 13 19-7-10-12zm-18 7l9 13 18-7-9-13zm-19 7l10 13 18-7-9-13z"/>
<path fill="#e21" d="M636 2276l10 13 18-7-10-13zm-18 8l9 12 19-7-10-13zm-18 7l9 13 18-8-9-12zm-18 8l9 13 18-8-9-13zm-19 8l10 13 18-8-9-13zm-18 8l10 13 18-8-10-13z"/>
<path fill="#e31" d="M527 2323l9 13 19-8-10-13zm-18 9l9 13 18-9-9-13zm-18 8l9 14 18-9-9-13z"/>
<path fill="#e50" d="M473 2349l9 13 18-8-9-14z"/>
<path fill="#ad0" d="M1119 2166l10 11 16-2-10-10z"/>
<path fill="#ce0" d="M1103 2168l9 11 17-2-10-11z"/>
<path fill="#dc0" d="M1086 2170l10 11 16-2-9-11z"/>
<path fill="#eb0" d="M1070 2173l9 11 17-3-10-11zm-17 2l10 11 16-2-9-11z"/>
<path fill="#e90" d="M1036 2178l10 11 17-3-10-11z"/>
<path fill="#e70" d="M1019 2181l10 11 17-3-10-11zm-17 3l10 11 17-3-10-11z"/>
<path fill="#e50" d="M985 2187l10 11 17-3-10-11zm-17 3l9 12 18-4-10-11z"/>
<path fill="#e31" d="M950 2194l10 12 17-4-9-12zm-17 4l10 12 17-4-10-12z"/>
<path fill="#e21" d="M915 2202l10 12 18-4-10-12zm-17 5l10 11 17-4-10-12zm-18 4l10 12 18-5-10-11zm-18 5l10 12 18-5-10-12zm-17 5l9 12 18-5-10-12zm-18 5l9 12 18-5-9-12zm-18 5l10 13 17-6-9-12zm-18 6l10 12 18-5-10-13z"/>
<path fill="#d21" d="M773 2243l9 12 19-6-10-12zm-18 6l9 12 18-6-9-12zm-18 6l9 12 18-6-9-12zm-18 6l9 13 18-7-9-12z"/>
<path fill="#e21" d="M700 2268l10 13 18-7-9-13zm-18 7l10 12 18-6-10-13zm-18 7l9 12 19-7-10-12zm-18 7l9 13 18-8-9-12zm-19 7l10 13 18-7-9-13zm-18 8l10 13 18-8-10-13zm-18 8l9 13 19-8-10-13zm-18 8l9 13 18-8-9-13zm-18 8l9 13 18-8-9-13z"/>
<path fill="#e31" d="M536 2336l10 14 18-9-9-13zm-18 9l10 13 18-8-10-14z"/>
<path fill="#e50" d="M500 2354l9 13 19-9-10-13zm-18 8l9 14 18-9-9-13z"/>
<path fill="#ad0" d="M1129 2177l10 11 16-1-10-12z"/>
<path fill="#ce0" d="M1112 2179l10 11 17-2-10-11z"/>
<path fill="#dc0" d="M1096 2181l10 12 16-3-10-11z"/>
<path fill="#eb0" d="M1079 2184l10 11 17-2-10-12zm-16 2l9 12 17-3-10-11z"/>
<path fill="#e90" d="M1046 2189l10 11 16-2-9-12z"/>
<path fill="#e70" d="M1029 2192l10 12 17-4-10-11zm-17 3l10 12 17-3-10-12z"/>
<path fill="#e50" d="M995 2198l9 12 18-3-10-12zm-18 4l10 12 17-4-9-12z"/>
<path fill="#e31" d="M960 2206l10 12 17-4-10-12zm-17 4l9 12 18-4-10-12zm-18 4l10 12 17-4-9-12z"/>
<path fill="#e21" d="M908 2218l9 13 18-5-10-12zm-18 5l10 12 17-4-9-13zm-18 5l10 12 18-5-10-12zm-18 5l10 12 18-5-10-12zm-18 5l10 13 18-6-10-12zm-17 6l9 12 18-5-10-13zm-18 5l9 13 18-6-9-12zm-19 6l10 13 18-6-9-13zm-18 6l10 13 18-6-10-13zm-18 6l10 13 18-6-10-13zm-18 7l10 13 18-7-10-13zm-18 7l9 13 19-7-10-13zm-18 6l9 14 18-7-9-13zm-19 7l10 14 18-7-9-14zm-18 8l10 13 18-7-10-14zm-18 7l9 14 19-8-10-13zm-18 8l9 13 18-7-9-14zm-19 8l10 13 18-8-9-13z"/>
<path fill="#e31" d="M582 2333l10 14 18-9-10-13zm-18 8l9 14 19-8-10-14zm-18 9l9 13 18-8-9-14z"/>
<path fill="#e50" d="M528 2358l9 14 18-9-9-13zm-19 9l10 14 18-9-9-14z"/>
<path fill="#e70" d="M491 2376l10 14 18-9-10-14z"/>
<path fill="#ad0" d="M1139 2188l9 12 17-2-10-11z"/>
<path fill="#ce0" d="M1122 2190l10 12 16-2-9-12z"/>
<path fill="#dc0" d="M1106 2193l9 11 17-2-10-12zm-17 2l10 12 16-3-9-11z"/>
<path fill="#eb0" d="M1072 2198l10 12 17-3-10-12z"/>
<path fill="#e90" d="M1056 2200l9 13 17-3-10-12zm-17 4l9 12 17-3-9-13z"/>
<path fill="#e70" d="M1022 2207l9 12 17-3-9-12zm-18 3l10 12 17-3-9-12z"/>
<path fill="#e50" d="M987 2214l10 12 17-4-10-12zm-17 4l10 12 17-4-10-12z"/>
<path fill="#e31" d="M952 2222l10 12 18-4-10-12zm-17 4l10 13 17-5-10-12zm-18 5l10 12 18-4-10-13z"/>
<path fill="#e21" d="M900 2235l9 13 18-5-10-12zm-18 5l10 13 17-5-9-13zm-18 5l10 13 18-5-10-13zm-18 6l10 13 18-6-10-13zm-18 5l10 13 18-5-10-13zm-18 6l10 13 18-6-10-13zm-18 6l10 13 18-6-10-13zm-18 6l10 13 18-6-10-13zm-18 6l9 14 19-7-10-13zm-18 7l9 13 18-6-9-14zm-19 7l10 13 18-7-9-13zm-18 7l10 13 18-7-10-13zm-18 7l10 14 18-8-10-13zm-18 7l9 14 19-7-10-14zm-19 8l10 14 18-8-9-14zm-18 7l10 14 18-7-10-14z"/>
<path fill="#e31" d="M610 2338l9 14 19-8-10-14zm-18 9l9 14 18-9-9-14zm-19 8l10 14 18-8-9-14z"/>
<path fill="#e50" d="M555 2363l10 15 18-9-10-14zm-18 9l9 14 19-8-10-15z"/>
<path fill="#e70" d="M519 2381l9 14 18-9-9-14zm-18 9l9 14 18-9-9-14z"/>
<path fill="#ad0" d="M1148 2200l10 12 16-2-9-12zm-16 2l10 12 16-2-10-12z"/>
<path fill="#ce0" d="M1115 2204l10 13 17-3-10-12z"/>
<path fill="#dc0" d="M1099 2207l10 12 16-2-10-13z"/>
<path fill="#eb0" d="M1082 2210l10 12 17-3-10-12zm-17 3l10 12 17-3-10-12z"/>
<path fill="#e90" d="M1048 2216l10 12 17-3-10-12zm-17 3l10 13 17-4-10-12z"/>
<path fill="#e70" d="M1014 2222l10 13 17-3-10-13zm-17 4l10 13 17-4-10-13z"/>
<path fill="#e50" d="M980 2230l9 13 18-4-10-13zm-18 4l10 13 17-4-9-13z"/>
<path fill="#e31" d="M945 2239l9 13 18-5-10-13zm-18 4l10 13 17-4-9-13zm-18 5l10 13 18-5-10-13z"/>
<path fill="#e21" d="M892 2253l9 13 18-5-10-13zm-18 5l9 14 18-6-9-13zm-18 6l9 13 18-5-9-14zm-18 5l9 14 18-6-9-13zm-18 6l9 14 18-6-9-14zm-18 6l9 14 18-6-9-14zm-18 6l9 14 18-6-9-14zm-19 7l10 14 18-7-9-14zm-18 6l10 14 18-6-10-14zm-18 7l10 14 18-7-10-14zm-18 7l9 14 19-7-10-14zm-18 8l9 14 18-8-9-14zm-19 7l10 14 18-7-9-14z"/>
<path fill="#e31" d="M656 2337l10 14 18-8-10-14zm-18 7l9 15 19-8-10-14zm-19 8l10 15 18-8-9-15z"/>
<path fill="#e50" d="M601 2361l10 14 18-8-10-15zm-18 8l9 14 19-8-10-14z"/>
<path fill="#e70" d="M565 2378l9 14 18-9-9-14zm-19 8l10 15 18-9-9-14z"/>
<path fill="#e90" d="M528 2395l10 15 18-9-10-15zm-18 9l10 15 18-9-10-15z"/>
<path fill="#8d0" d="M1158 2212l10 13 16-2-10-13z"/>
<path fill="#ad0" d="M1142 2214l9 13 17-2-10-13z"/>
<path fill="#ce0" d="M1125 2217l10 12 16-2-9-13z"/>
<path fill="#dc0" d="M1109 2219l9 13 17-3-10-12zm-17 3l9 13 17-3-9-13z"/>
<path fill="#eb0" d="M1075 2225l10 13 16-3-9-13zm-17 3l10 13 17-3-10-13z"/>
<path fill="#e90" d="M1041 2232l10 13 17-4-10-13z"/>
<path fill="#e70" d="M1024 2235l9 13 18-3-10-13zm-17 4l9 13 17-4-9-13zm-18 4l10 13 17-4-9-13z"/>
<path fill="#e50" d="M972 2247l9 14 18-5-10-13zm-18 5l10 13 17-4-9-14z"/>
<path fill="#e31" d="M937 2256l9 14 18-5-10-13zm-18 5l10 14 17-5-9-14zm-18 5l10 14 18-5-10-14zm-18 6l10 13 18-5-10-14zm-18 5l10 14 18-6-10-13z"/>
<path fill="#e21" d="M847 2283l10 14 18-6-10-14zm-18 6l10 14 18-6-10-14zm-18 6l10 14 18-6-10-14zm-18 6l10 14 18-6-10-14zm-18 7l10 14 18-7-10-14zm-18 6l9 15 19-7-10-14zm-18 7l9 15 18-7-9-15z"/>
<path fill="#e31" d="M720 2328l10 15 18-7-9-15zm-18 8l10 14 18-7-10-15zm-18 7l9 15 19-8-10-14zm-18 8l9 14 18-7-9-15z"/>
<path fill="#e50" d="M647 2359l10 14 18-8-9-14zm-18 8l9 15 19-9-10-14zm-18 8l9 15 18-8-9-15z"/>
<path fill="#e70" d="M592 2383l10 15 18-8-9-15zm-18 9l10 15 18-9-10-15z"/>
<path fill="#e90" d="M556 2401l9 15 19-9-10-15zm-18 9l9 15 18-9-9-15z"/>
<path fill="#eb0" d="M520 2419l9 15 18-9-9-15z"/>
<path fill="#8d0" d="M1168 2225l9 13 16-2-9-13z"/>
<path fill="#ad0" d="M1151 2227l10 13 16-2-9-13zm-16 2l9 13 17-2-10-13z"/>
<path fill="#ce0" d="M1118 2232l10 13 16-3-9-13z"/>
<path fill="#dc0" d="M1101 2235l10 13 17-3-10-13zm-16 3l9 13 17-3-10-13z"/>
<path fill="#eb0" d="M1068 2241l9 14 17-4-9-13z"/>
<path fill="#e90" d="M1051 2245l9 13 17-3-9-14zm-18 3l10 14 17-4-9-13z"/>
<path fill="#e70" d="M1016 2252l10 14 17-4-10-14zm-17 4l9 14 18-4-10-14zm-18 5l10 13 17-4-9-14z"/>
<path fill="#e50" d="M964 2265l9 14 18-5-10-13zm-18 5l10 14 17-5-9-14zm-17 5l9 14 18-5-10-14z"/>
<path fill="#e31" d="M911 2280l9 14 18-5-9-14zm-18 5l10 15 17-6-9-14zm-18 6l10 14 18-5-10-15zm-18 6l10 14 18-6-10-14zm-18 6l10 14 18-6-10-14zm-18 6l10 14 18-6-10-14zm-18 6l9 15 19-7-10-14zm-18 7l9 14 18-6-9-15zm-19 7l10 14 18-7-9-14zm-18 7l10 14 18-7-10-14zm-18 7l10 15 18-8-10-14zm-18 7l9 15 19-7-10-15z"/>
<path fill="#e50" d="M693 2358l10 15 18-8-9-15zm-18 7l10 16 18-8-10-15zm-18 8l9 16 19-8-10-16z"/>
<path fill="#e70" d="M638 2382l10 15 18-8-9-16zm-18 8l10 15 18-8-10-15z"/>
<path fill="#e90" d="M602 2398l9 16 19-9-10-15zm-18 9l9 15 18-8-9-16z"/>
<path fill="#eb0" d="M565 2416l10 15 18-9-9-15zm-18 9l10 15 18-9-10-15z"/>
<path fill="#dc0" d="M529 2434l10 16 18-10-10-15z"/>
<path fill="#6d0" d="M1177 2238l9 13 17-2-10-13z"/>
<path fill="#8d0" d="M1161 2240l9 13 16-2-9-13z"/>
<path fill="#ad0" d="M1144 2242l10 14 16-3-9-13z"/>
<path fill="#ce0" d="M1128 2245l9 14 17-3-10-14zm-17 3l9 14 17-3-9-14z"/>
<path fill="#dc0" d="M1094 2251l10 14 16-3-9-14zm-17 4l10 13 17-3-10-14z"/>
<path fill="#eb0" d="M1060 2258l10 14 17-4-10-13zm-17 4l10 14 17-4-10-14z"/>
<path fill="#e90" d="M1026 2266l9 14 18-4-10-14zm-18 4l10 14 17-4-9-14z"/>
<path fill="#e70" d="M991 2274l10 15 17-5-10-14zm-18 5l10 14 18-4-10-15zm-17 5l9 14 18-5-10-14z"/>
<path fill="#e50" d="M938 2289l10 14 17-5-9-14zm-18 5l10 15 18-6-10-14zm-17 6l9 14 18-5-10-15zm-18 5l9 15 18-6-9-14zm-18 6l9 15 18-6-9-15zm-18 6l9 15 18-6-9-15zm-18 6l9 15 18-6-9-15zm-19 7l10 15 18-7-9-15zm-18 6l10 15 18-6-10-15zm-18 7l10 15 18-7-10-15zm-18 7l9 16 19-8-10-15zm-18 8l9 15 18-7-9-16zm-19 7l10 15 18-7-9-15z"/>
<path fill="#e70" d="M703 2373l10 15 18-8-10-15zm-18 8l9 15 19-8-10-15zm-19 8l10 15 18-8-9-15z"/>
<path fill="#e90" d="M648 2397l10 15 18-8-10-15zm-18 8l9 16 19-9-10-15zm-19 9l10 15 18-8-9-16z"/>
<path fill="#eb0" d="M593 2422l10 16 18-9-10-15zm-18 9l10 16 18-9-10-16z"/>
<path fill="#dc0" d="M557 2440l9 16 19-9-10-16z"/>
<path fill="#ce0" d="M539 2450l9 15 18-9-9-16z"/>
<path fill="#6d0" d="M1186 2251l10 14 16-2-9-14zm-16 2l9 14 17-2-10-14z"/>
<path fill="#8d0" d="M1154 2256l9 14 16-3-9-14z"/>
<path fill="#ad0" d="M1137 2259l9 14 17-3-9-14z"/>
<path fill="#ce0" d="M1120 2262l10 14 16-3-9-14zm-16 3l9 14 17-3-10-14z"/>
<path fill="#dc0" d="M1087 2268l9 15 17-4-9-14zm-17 4l9 14 17-3-9-15z"/>
<path fill="#eb0" d="M1053 2276l9 14 17-4-9-14zm-18 4l10 14 17-4-9-14z"/>
<path fill="#e90" d="M1018 2284l9 15 18-5-10-14zm-17 5l9 14 17-4-9-15zm-18 4l9 15 18-5-9-14z"/>
<path fill="#e70" d="M965 2298l10 15 17-5-9-15zm-17 5l9 15 18-5-10-15zm-18 6l9 15 18-6-9-15zm-18 5l10 15 17-5-9-15zm-18 6l10 15 18-6-10-15zm-18 6l10 15 18-6-10-15z"/>
<path fill="#e50" d="M858 2332l10 15 18-6-10-15zm-18 6l10 16 18-7-10-15zm-18 7l9 15 19-6-10-16z"/>
<path fill="#e70" d="M804 2351l9 16 18-7-9-15zm-18 7l9 16 18-7-9-16zm-19 8l10 15 18-7-9-16zm-18 7l10 15 18-7-10-15zm-18 7l9 16 19-8-10-15zm-18 8l9 16 18-8-9-16z"/>
<path fill="#e90" d="M694 2396l10 16 18-8-9-16zm-18 8l9 16 19-8-10-16zm-18 8l9 16 18-8-9-16z"/>
<path fill="#eb0" d="M639 2421l10 16 18-9-9-16zm-18 8l10 16 18-8-10-16z"/>
<path fill="#dc0" d="M603 2438l9 16 19-9-10-16zm-18 9l9 16 18-9-9-16z"/>
<path fill="#ce0" d="M566 2456l10 16 18-9-9-16z"/>
<path fill="#ad0" d="M548 2465l10 17 18-10-10-16z"/>
<path fill="#4d1" d="M1196 2265l9 14 16-2-9-14z"/>
<path fill="#6d0" d="M1179 2267l10 15 16-3-9-14zm-16 3l9 14 17-2-10-15z"/>
<path fill="#8d0" d="M1146 2273l10 14 16-3-9-14z"/>
<path fill="#ad0" d="M1130 2276l9 14 17-3-10-14zm-17 3l9 15 17-4-9-14z"/>
<path fill="#ce0" d="M1096 2283l9 14 17-3-9-15zm-17 3l9 15 17-4-9-14z"/>
<path fill="#dc0" d="M1062 2290l9 15 17-4-9-15zm-17 4l9 15 17-4-9-15z"/>
<path fill="#eb0" d="M1027 2299l10 15 17-5-9-15zm-17 4l9 15 18-4-10-15z"/>
<path fill="#e90" d="M992 2308l10 15 17-5-9-15zm-17 5l9 15 18-5-10-15zm-18 5l10 15 17-5-9-15zm-18 6l10 15 18-6-10-15zm-17 5l9 16 18-6-10-15z"/>
<path fill="#e70" d="M904 2335l9 15 18-5-9-16zm-18 6l9 15 18-6-9-15zm-18 6l9 16 18-7-9-15zm-18 7l9 15 18-6-9-16zm-19 6l10 16 18-7-9-15zm-18 7l10 16 18-7-10-16z"/>
<path fill="#e90" d="M795 2374l10 16 18-7-10-16zm-18 7l9 16 19-7-10-16zm-18 7l9 16 18-7-9-16zm-19 8l10 16 18-8-9-16zm-18 8l10 16 18-8-10-16z"/>
<path fill="#eb0" d="M704 2412l9 16 19-8-10-16zm-19 8l10 16 18-8-9-16zm-18 8l10 16 18-8-10-16z"/>
<path fill="#dc0" d="M649 2437l9 16 19-9-10-16zm-18 8l9 17 18-9-9-16z"/>
<path fill="#ce0" d="M612 2454l10 16 18-8-9-17zm-18 9l10 16 18-9-10-16z"/>
<path fill="#ad0" d="M576 2472l9 17 19-10-10-16z"/>
<path fill="#8d0" d="M558 2482l9 16 18-9-9-17z"/>
<path fill="#2d1" d="M1205 2279l9 15 16-3-9-14z"/>
<path fill="#4d1" d="M1189 2282l9 14 16-2-9-15z"/>
<path fill="#6d0" d="M1172 2284l9 15 17-3-9-14zm-16 3l9 15 16-3-9-15z"/>
<path fill="#8d0" d="M1139 2290l9 15 17-3-9-15z"/>
<path fill="#ad0" d="M1122 2294l10 15 16-4-9-15zm-17 3l10 15 17-3-10-15z"/>
<path fill="#ce0" d="M1088 2301l10 15 17-4-10-15zm-17 4l10 15 17-4-10-15z"/>
<path fill="#dc0" d="M1054 2309l9 16 18-5-10-15zm-17 5l9 15 17-4-9-16zm-18 4l10 16 17-5-9-15z"/>
<path fill="#eb0" d="M1002 2323l9 16 18-5-10-16zm-18 5l10 16 17-5-9-16zm-17 5l9 16 18-5-10-16zm-18 6l9 16 18-6-9-16zm-18 6l9 15 18-5-9-16z"/>
<path fill="#e90" d="M913 2350l9 16 18-6-9-15zm-18 6l10 16 17-6-9-16zm-18 7l10 16 18-7-10-16zm-18 6l9 16 19-6-10-16zm-18 7l9 16 18-7-9-16zm-18 7l9 16 18-7-9-16z"/>
<path fill="#eb0" d="M805 2390l9 16 18-7-9-16zm-19 7l10 16 18-7-9-16zm-18 7l10 17 18-8-10-16zm-18 8l9 16 19-7-10-17zm-18 8l9 16 18-8-9-16z"/>
<path fill="#dc0" d="M713 2428l10 16 18-8-9-16zm-18 8l10 17 18-9-10-16zm-18 8l9 17 19-8-10-17z"/>
<path fill="#ce0" d="M658 2453l10 16 18-8-9-17zm-18 9l10 16 18-9-10-16z"/>
<path fill="#ad0" d="M622 2470l9 17 19-9-10-16zm-18 9l9 17 18-9-9-17z"/>
<path fill="#8d0" d="M585 2489l10 16 18-9-9-17z"/>
<path fill="#6d0" d="M567 2498l10 17 18-10-10-16z"/>
</g>
<circle cx="67.7" cy="539.6" r="2" fill="#d81010" stroke="#7a0000" stroke-width=".5"/>
<ellipse cx="143.9" cy="627.5" rx="2.1" ry="1.8" fill="#f8c8c0" stroke="#7a1010" stroke-width=".6"/>
<ellipse cx="308.8" cy="574.1" rx="2.1" ry="1.8" fill="#f8c8c0" stroke="#7a1010" stroke-width=".6"/>
<circle cx="216.6" cy="504.9" r="2" fill="#d81010" stroke="#7a0000" stroke-width=".5"/>
<circle cx="183.9" cy="529.4" r="2" fill="#d81010" stroke="#7a0000" stroke-width=".5"/>
<!-- panel f -->
<g stroke="#000" stroke-width=".7" fill="#ff0" stroke-linejoin="round">
<polygon points="445.1,592.5 581.4,551.7 581.4,459.2 431.5,489.2"/>
<polygon points="581.4,551.7 660,626.8 672.4,522.8 581.4,459.2"/>
<polygon points="445.1,592.5 512.8,670.6 660,626.8 581.4,551.7"/>
</g>
<path d="M441.7 566.7L581.4 528.6M440 553.8L581.4 517M438.3 540.9L581.4 505.5M436.6 527.9L581.4 493.9M434.9 515L581.4 482.3M433.2 502.1L581.4 470.8M476.6 557.1L469 481.7M511.6 547.6L506.4 474.2M546.5 538.1L543.9 466.7M581.4 528.6L663.1 600.8M581.4 517L664.7 587.8M581.4 505.5L666.2 574.8M581.4 493.9L667.8 561.8M581.4 482.3L669.3 548.8M581.4 470.8L670.9 535.8M597.7 543L599.6 471.9M614.1 557.5L617.8 484.6M630.4 571.9L636 497.4M646.8 586.4L654.2 510.1" stroke="#000" stroke-width=".6" fill="none"/>
<path d="M442 566.7h-1.6M440.3 553.8h-1.6M438.6 540.9h-1.6M436.9 527.9h-1.6M435.2 515h-1.6M433.5 502.1h-1.6M431.8 489.2h-1.6M445.1 592.5l-.9 .9M458.6 608.1l-.9 .9M472.2 623.7l-.9 .9M485.7 639.4l-.9 .9M499.3 655l-.9 .9M512.8 670.6l-.9 .9M512.8 670.6l.9 .9M549.6 659.6l.9 .9M586.4 648.7l.9 .9M623.2 637.8l.9 .9M660 626.8l.9 .9" stroke="#000" stroke-width="1.3" fill="none"/>
<clipPath id="cff"><polygon points="445.1,592.5 512.8,670.6 660,626.8 581.4,551.7"/></clipPath>
<g clip-path="url(#cff)" fill="none" stroke-width=".8">
<path d="M514.5 634.8L513.2 634.1L512 633.3L510.9 632.4L510.1 631.4L509.4 630.4L509 629.3L508.7 628.1L508.6 626.9L508.7 625.7L509 624.5L509.5 623.2L510.2 621.9L511.1 620.7L512.1 619.4L513.3 618.2L514.6 617L516.1 615.9L517.8 614.8L519.5 613.8L521.3 612.8L523.3 611.9L525.3 611.1L527.3 610.4L529.5 609.7L531.6 609.2L533.8 608.7L535.9 608.4L538.1 608.2L540.2 608L542.2 608L544.3 608.1L546.2 608.3L548 608.6L549.8 609L551.4 609.5L552.9 610.1L554.2 610.8L555.4 611.6L556.5 612.4L557.4 613.4L558.1 614.4L558.6 615.5L559 616.6L559.1 617.8L559.1 619L558.9 620.3L558.5 621.5L557.9 622.8L557.1 624.1L556.2 625.3L555 626.6L553.7 627.8L552.3 628.9L550.7 630.1L549 631.1L547.1 632.1L545.2 633.1L543.1 633.9L541 634.7L538.8 635.3L536.6 635.9L534.3 636.3L532.1 636.7L529.9 636.9L527.7 637L525.5 637.1L523.4 637L521.4 636.7L519.5 636.4L517.7 636L516.1 635.5L514.5 634.8" stroke="#e21"/>
<path d="M484.8 653.7L481.5 651.8L478.5 649.7L476 647.5L474 645L472.5 642.4L471.5 639.7L471 636.8L470.9 633.9L471.4 630.8L472.3 627.8L473.7 624.7L475.5 621.6L477.8 618.5L480.5 615.5L483.5 612.6L486.9 609.7L490.7 607L494.7 604.3L499 601.8L503.5 599.5L508.2 597.3L513 595.4L518 593.6L523.1 592.1L528.3 590.8L533.4 589.7L538.6 588.9L543.7 588.3L548.8 587.9L553.7 587.9L558.5 588.1L563.1 588.5L567.5 589.2L571.7 590.1L575.6 591.3L579.2 592.8L582.5 594.5L585.5 596.3L588.1 598.4L590.4 600.7L592.2 603.2L593.6 605.8L594.6 608.6L595.2 611.4L595.2 614.4L594.9 617.5L594 620.6L592.7 623.7L591 626.9L588.8 630L586.1 633.1L583 636.1L579.5 639.1L575.7 641.9L571.4 644.6L566.9 647.1L562 649.4L556.9 651.5L551.6 653.4L546.2 655.1L540.6 656.5L534.9 657.7L529.2 658.5L523.5 659.1L517.9 659.4L512.4 659.4L507.1 659.2L502.1 658.6L497.3 657.8L492.8 656.7L488.6 655.3L484.8 653.7" stroke="#f70"/>
<path d="M458.8 670L453.8 667.1L449.5 663.9L445.8 660.4L442.9 656.7L440.8 652.7L439.5 648.6L438.9 644.3L439 639.8L439.9 635.3L441.5 630.7L443.8 626.1L446.7 621.5L450.3 617L454.4 612.5L459.1 608.2L464.3 603.9L470 599.9L476 596L482.4 592.3L489.1 588.9L496.1 585.7L503.3 582.8L510.7 580.3L518.1 578L525.7 576L533.2 574.4L540.8 573.2L548.2 572.3L555.6 571.8L562.8 571.7L569.7 571.9L576.5 572.6L582.9 573.6L589.1 574.9L594.9 576.7L600.2 578.8L605.1 581.2L609.6 584L613.5 587.1L617 590.4L619.8 594.1L622 597.9L623.7 602L624.6 606.3L625 610.8L624.6 615.3L623.5 620L621.8 624.7L619.4 629.4L616.2 634.2L612.4 638.8L608 643.4L602.9 647.9L597.1 652.2L590.9 656.2L584 660.1L576.8 663.7L569 666.9L561 669.8L552.6 672.4L544.1 674.6L535.4 676.3L526.6 677.7L517.9 678.5L509.3 679L500.9 679L492.8 678.5L485 677.7L477.7 676.3L470.8 674.6L464.5 672.5L458.8 670" stroke="#ec0"/>
<path d="M429 688.5L422.1 684.4L416.3 679.9L411.5 675.1L407.7 669.9L405.1 664.3L403.5 658.6L402.9 652.7L403.5 646.6L405 640.4L407.5 634.1L410.9 627.9L415.2 621.7L420.4 615.5L426.2 609.5L432.8 603.6L440.1 597.9L447.8 592.5L456.1 587.3L464.9 582.4L474 577.8L483.4 573.5L493.1 569.7L502.9 566.2L512.9 563.1L523 560.5L533 558.3L543.1 556.6L553 555.4L562.7 554.7L572.3 554.5L581.6 554.8L590.5 555.6L599.1 556.9L607.3 558.7L615.1 561L622.3 563.8L628.9 567.1L635 570.8L640.4 574.9L645.2 579.4L649.2 584.3L652.4 589.6L654.8 595.1L656.4 600.9L657.1 606.9L656.9 613.1L655.8 619.5L653.7 626L650.7 632.5L646.7 639L641.7 645.4L635.9 651.8L629.1 657.9L621.4 663.9L612.9 669.6L603.6 675L593.6 680L582.9 684.5L571.8 688.6L560.1 692.2L548.2 695.3L536 697.8L523.7 699.6L511.5 700.9L499.4 701.5L487.6 701.4L476.2 700.8L465.3 699.5L455.1 697.6L445.5 695.1L436.8 692L429 688.5" stroke="#2d2"/>
<path d="M415.3 700.6L410.8 694.4L406.2 688.1L401.5 681.7L396.9 675.3L392.3 669L387.7 662.8L383.2 656.7L378.9 650.8L376.2 644.6L379.6 637L384.1 629.4L389.6 621.9L396.1 614.5L403.5 607.2L411.7 600.2L420.6 593.3L430.2 586.8L440.4 580.5L451 574.6L462 569.1L473.4 564L485.1 559.3L496.9 555.1L508.9 551.4L520.9 548.2L532.9 545.6L544.9 543.5L556.7 542L568.4 541.2L579.7 540.9L590.8 541.2L601.5 542.1L611.8 543.7L621.6 545.8L630.9 548.6L639.6 551.9L647.7 555.8L655 560.3L661.7 565.2L667.5 570.7L672.5 576.6L676.6 582.9L679.7 589.6L681.9 596.6L683 603.9L683 611.5L681.9 619.3L679.7 627.2L676.3 635.1L671.7 643.1L666 651L659 658.8L650.9 666.5L641.7 673.9L631.4 680.9L620.1 687.6L607.9 693.9L594.8 699.6L581 704.7L566.6 709.2L551.7 713L536.6 716.1L521.3 718.5L506 720L490.9 720.7L476.1 720.7L461.9 719.8L448.4 718.1L435.6 715.7L423.9 712.5L419.7 706.7L415.3 700.6" stroke="#0dc"/>
<path d="M419.5 706.3L414.2 699.1L408.8 691.7L403.4 684.3L398 676.9L392.7 669.6L387.4 662.4L382.3 655.4L377.4 648.7L372.6 642.2L368 636L363.7 630.2L367.9 622.2L375.7 613.8L384.4 605.4L394 597.4L404.4 589.6L415.5 582.1L427.3 575L439.5 568.2L452.2 561.9L465.2 556.1L478.5 550.8L492 546L505.6 541.7L519.3 538.1L532.9 535.1L546.4 532.7L559.8 531L573 529.9L585.9 529.6L598.4 529.9L610.5 530.9L622.2 532.7L633.3 535.1L643.9 538.2L653.8 542L663.1 546.4L671.5 551.5L679.2 557.1L686 563.4L691.8 570.1L696.7 577.3L700.5 585L703.2 593.1L704.7 601.5L705 610.2L704.1 619.2L701.8 628.3L698.2 637.5L693.2 646.7L686.8 655.9L679 665L669.9 673.9L659.4 682.6L647.6 690.9L634.6 698.7L620.4 706.1L605.2 712.8L589.1 718.9L572.3 724.2L554.9 728.7L537.1 732.4L519.1 735.1L501.1 736.9L483.3 737.8L465.9 737.6L449.2 736.6L438.7 732.9L434.2 726.8L429.5 720.3L424.6 713.4L419.5 706.3" stroke="#26e"/>
</g>
<g transform="scale(0.25)" stroke="#000" stroke-width="1.5" stroke-linejoin="round">
<path fill="#2d2" d="M2311 1995l8 1 15 0-9-1zm-15 0l8 1 15 0-8-1z"/>
<path fill="#2d1" d="M2281 1995l8 1 15 0-8-1zm-15 0l8 1 15 0-8-1z"/>
<path fill="#4d1" d="M2251 1996l8 1 15-1-8-1zm-15 0l8 1 15 0-8-1z"/>
<path fill="#6d0" d="M2221 1997l8 1 15-1-8-1zm-15 1l8 1 15-1-8-1zm-15 2l8 0 15-1-8-1z"/>
<path fill="#8d0" d="M2175 2001l8 1 16-2-8 0zm-15 2l8 0 15-1-8-1zm-15 2l7 0 16-2-8 0zm-16 2l8 0 15-2-7 0z"/>
<path fill="#000" d="M2114 2009l7 1 16-3-8 0zm-16 3l8 0 15-2-7-1zm-15 3l7 0 16-3-8 0zm-16 3l7 0 16-3-7 0zm-16 3l8 0 15-3-7 0zm-15 3l7 1 16-4-8 0zm-16 4l7 0 16-3-7-1zm-16 4l7 0 16-4-7 0zm-16 4l7 0 16-4-7 0zm-16 5l7 0 16-5-7 0zm-15 4l6 0 16-4-7 0zm-16 5l6 0 16-5-6 0zm-16 5l6 0 16-5-6 0zm-16 5l6 0 16-5-6 0zm-16 6l6 0 16-6-6 0zm-16 6l6 0 16-6-6 0zm-16 6l6 0 16-6-6 0zm-16 6l6 0 16-6-6 0zm-16 7l6 0 16-7-6 0zm-16 7l6-1 16-6-6 0zm-16 7l6-1 16-7-6 1zm-16 7l6 0 16-8-6 1zm-16 8l5-1 17-7-6 0zm-16 7l5 0 16-8-5 1z"/>
<path fill="#2d1" d="M2319 1996l8 1 15 1-8-2zm-15 0l8 1 15 0-8-1z"/>
<path fill="#4d1" d="M2289 1996l8 1 15 0-8-1zm-15 0l8 1 15 0-8-1z"/>
<path fill="#6d0" d="M2259 1997l8 1 15-1-8-1zm-15 0l8 1 15 0-8-1z"/>
<path fill="#000" d="M2229 1998l8 1 15-1-8-1zm-15 1l8 1 15-1-8-1zm-15 1l7 1 16-1-8-1zm-16 2l8 1 15-2-7-1zm-15 1l8 1 15-1-8-1zm-16 2l8 1 16-2-8-1zm-15 2l8 1 15-2-8-1zm-16 3l8 0 16-2-8-1zm-15 2l7 1 16-3-8 0zm-16 3l8 1 15-3-7-1zm-16 3l8 1 16-3-8-1zm-15 3l7 1 16-3-8-1zm-16 4l7 0 16-3-7-1zm-16 3l7 1 16-4-7 0zm-16 4l7 1 16-4-7-1zm-16 4l7 1 16-4-7-1zm-16 5l7 0 16-4-7-1zm-16 4l7 0 16-4-7 0zm-16 5l7 0 16-5-7 0zm-16 5l7 0 16-5-7 0zm-16 5l7 1 16-6-7 0zm-16 6l7 0 16-5-7-1zm-16 6l7 0 16-6-7 0zm-16 6l7 0 16-6-7 0zm-16 6l6 0 17-6-7 0zm-16 7l6 0 16-7-6 0zm-16 6l6 0 16-6-6 0zm-16 7l6 0 16-7-6 0zm-16 8l6 0 16-8-6 0zm-17 7l6 0 17-7-6 0zm-16 8l6 0 16-8-6 0zm573-130l9 2 14 0-8-1zm-15 0l9 2 15 0-9-2zm-15 0l9 2 15 0-9-2zm-15 0l9 2 15 0-9-2zm-15 1l9 1 15 0-9-2zm-15 0l8 2 16-1-9-1zm-15 1l8 2 15-1-8-2zm-15 1l8 1 15 0-8-2zm-16 1l8 2 16-2-8-1zm-15 2l8 1 15-1-8-2zm-15 1l8 2 15-2-8-1zm-16 2l8 1 16-1-8-2zm-15 2l7 1 16-2-8-1zm-16 2l8 2 15-3-7-1zm-16 3l8 1 16-2-8-2zm-15 3l7 1 16-3-8-1zm-16 3l7 0 16-2-7-1zm-16 3l7 1 16-4-7 0zm-16 3l8 1 15-3-7-1zm-16 4l8 1 16-4-8-1zm-16 4l8 0 16-3-8-1zm-16 4l8 0 16-4-8 0zm-16 4l7 1 17-5-8 0zm-16 4l7 1 16-4-7-1zm-16 5l7 1 16-5-7-1zm-16 5l7 1 16-5-7-1zm-16 6l7 0 16-5-7-1zm-16 5l7 1 16-6-7 0zm-16 6l6 0 17-5-7-1zm-16 6l6 0 16-6-6 0zm-17 6l7 0 16-6-6 0zm-16 7l7 0 16-7-7 0zm-16 6l6 1 17-7-7 0zm-16 7l6 1 16-7-6-1zm-16 8l6 0 16-7-6-1zm-17 7l6 0 17-7-6 0zm-16 8l6 0 16-8-6 0zm576-128l8 2 15 1-9-3zm-15 0l8 2 15 0-8-2zm-15 0l8 2 15 0-8-2zm-15 0l8 2 15 0-8-2zm-15 0l8 2 15 0-8-2zm-16 1l9 2 15-1-8-2zm-15 1l8 1 16 0-9-2zm-15 0l8 2 15-1-8-1zm-16 2l9 1 15-1-8-2zm-15 1l8 2 16-2-9-1zm-15 2l8 1 15-1-8-2zm-16 1l8 2 16-2-8-1zm-16 2l8 2 16-2-8-2zm-15 3l7 1 16-2-8-2zm-16 2l8 1 15-2-7-1zm-16 3l8 1 16-3-8-1zm-16 2l8 2 16-3-8-1zm-16 4l8 1 16-3-8-2zm-15 3l7 1 16-3-8-1zm-16 4l7 1 16-4-7-1zm-16 3l7 1 16-3-7-1zm-16 4l7 1 16-4-7-1zm-17 5l8 1 16-5-7-1zm-16 4l8 1 16-4-8-1zm-16 5l7 1 17-5-8-1zm-16 5l7 1 16-5-7-1zm-16 5l7 1 16-5-7-1z"/>
<path fill="#100" d="M1913 2067l7 0 16-5-7-1z"/>
<path fill="#110" d="M1896 2072l7 1 17-6-7 0zm-16 6l7 1 16-6-7-1zm-16 6l7 1 16-6-7-1zm-16 7l6 1 17-7-7-1zm-17 7l7 0 16-6-6-1zm-16 7l6 0 17-7-7 0zm-16 7l6 0 16-7-6 0zm-17 7l7 1 16-8-6 0zm-16 8l6 1 17-8-7-1z"/>
<path fill="#000" d="M2344 2001l9 2 14 1-8-2zm-15 0l9 2 15 0-9-2zm-15 0l9 2 15 0-9-2zm-15 0l8 2 16 0-9-2zm-15 0l8 2 15 0-8-2zm-15 1l8 2 15-1-8-2zm-16 0l9 2 15 0-8-2zm-15 1l8 2 16-1-9-2zm-15 1l8 2 15-1-8-2zm-16 2l8 1 16-1-8-2zm-15 1l8 2 15-2-8-1zm-16 2l8 2 16-2-8-2zm-16 2l8 1 16-1-8-2zm-16 2l8 2 16-3-8-1zm-15 2l8 2 15-2-8-2zm-16 3l8 2 16-3-8-2zm-16 3l8 1 16-2-8-2zm-16 3l8 1 16-3-8-1z"/>
<path fill="#100" d="M2065 2027l8 2 16-4-8-1z"/>
<path fill="#110" d="M2049 2031l8 1 16-3-8-2zm-16 3l7 2 17-4-8-1zm-16 4l7 2 16-4-7-2zm-16 5l7 1 16-4-7-2zm-16 4l7 1 16-4-7-1zm-17 5l7 1 17-5-7-1zm-16 5l7 1 16-5-7-1zm-16 5l7 1 16-5-7-1z"/>
<path fill="#210" d="M1920 2067l6 2 17-6-7-1zm-17 6l7 1 16-5-6-2z"/>
<path fill="#220" d="M1887 2079l7 1 16-6-7-1zm-16 6l6 1 17-6-7-1zm-17 7l7 1 16-7-6-1zm-16 6l6 1 17-6-7-1zm-17 7l7 1 16-7-6-1zm-16 7l6 1 17-7-7-1zm-16 8l6 1 16-8-6-1z"/>
<path fill="#120" d="M1772 2128l6 1 17-8-6-1z"/>
<path fill="#000" d="M2353 2003l8 3 15 1-9-3zm-15 0l8 3 15 0-8-3zm-15 0l8 3 15 0-8-3zm-16 0l9 3 15 0-8-3zm-15 0l9 3 15 0-9-3zm-15 1l8 2 16 0-9-3zm-15 0l8 3 15-1-8-2zm-16 1l9 2 15 0-8-3zm-15 1l8 2 16-1-9-2zm-16 1l8 3 16-2-8-2zm-15 2l8 2 15-1-8-3z"/>
<path fill="#100" d="M2184 2011l8 2 16-2-8-2z"/>
<path fill="#110" d="M2168 2012l8 3 16-2-8-2zm-16 3l8 2 16-2-8-3zm-15 2l7 2 16-2-8-2zm-16 3l7 1 16-2-7-2zm-16 2l7 2 16-3-7-1zm-16 3l7 2 16-3-7-2z"/>
<path fill="#210" d="M2073 2029l7 1 16-3-7-2zm-16 3l7 2 16-4-7-1zm-17 4l8 2 16-4-7-2zm-16 4l8 2 16-4-8-2z"/>
<path fill="#320" d="M2008 2044l7 2 17-4-8-2zm-16 4l7 2 16-4-7-2zm-17 5l8 2 16-5-7-2zm-16 5l7 2 17-5-8-2z"/>
<path fill="#420" d="M1943 2063l7 2 16-5-7-2z"/>
<path fill="#430" d="M1926 2069l7 1 17-5-7-2zm-16 5l7 2 16-6-7-1zm-16 6l6 2 17-6-7-2zm-17 6l7 2 16-6-6-2z"/>
<path fill="#440" d="M1861 2093l6 1 17-6-7-2zm-17 6l7 2 16-7-6-1zm-16 7l6 2 17-7-7-2zm-17 7l7 2 16-7-6-2zm-16 8l6 1 17-7-7-2z"/>
<path fill="#350" d="M1778 2129l7 1 16-8-6-1z"/>
<path fill="#000" d="M2361 2006l9 3 15 1-9-3zm-15 0l9 3 15 0-9-3zm-15 0l9 2 15 1-9-3zm-15 0l8 2 16 0-9-2zm-15 0l8 2 15 0-8-2zm-16 0l9 3 15-1-8-2z"/>
<path fill="#110" d="M2270 2007l8 2 16 0-9-3zm-15 0l8 3 15-1-8-2zm-16 1l8 3 16-1-8-3zm-16 2l9 2 15-1-8-3zm-15 1l8 3 16-2-9-2zm-16 2l8 2 16-1-8-3z"/>
<path fill="#210" d="M2176 2015l8 2 16-2-8-2zm-16 2l8 2 16-2-8-2zm-16 2l8 2 16-2-8-2z"/>
<path fill="#320" d="M2128 2021l8 3 16-3-8-2zm-16 3l8 3 16-3-8-3zm-16 3l8 2 16-2-8-3z"/>
<path fill="#420" d="M2080 2030l8 3 16-4-8-2zm-16 4l8 2 16-3-8-3zm-16 4l8 2 16-4-8-2zm-16 4l7 2 17-4-8-2z"/>
<path fill="#520" d="M2015 2046l8 2 16-4-7-2zm-16 4l7 2 17-4-8-2zm-16 5l7 2 16-5-7-2z"/>
<path fill="#530" d="M1966 2060l8 2 16-5-7-2z"/>
<path fill="#630" d="M1950 2065l7 2 17-5-8-2z"/>
<path fill="#640" d="M1933 2070l8 2 16-5-7-2zm-16 6l7 2 17-6-8-2zm-17 6l7 2 17-6-7-2z"/>
<path fill="#650" d="M1884 2088l7 2 16-6-7-2zm-17 6l7 2 17-6-7-2zm-16 7l7 2 16-7-7-2z"/>
<path fill="#660" d="M1834 2108l7 1 17-6-7-2zm-16 7l6 2 17-8-7-1zm-17 7l7 2 16-7-6-2z"/>
<path fill="#560" d="M1785 2130l6 2 17-8-7-2z"/>
<path fill="#000" d="M2370 2009l9 4 15 0-9-3z"/>
<path fill="#010" d="M2355 2009l9 3 15 1-9-4z"/>
<path fill="#110" d="M2340 2008l8 4 16 0-9-3zm-16 0l9 4 15 0-8-4zm-15 0l9 4 15 0-9-4zm-15 1l8 3 16 0-9-4zm-16 0l9 3 15 0-8-3z"/>
<path fill="#210" d="M2263 2010l8 3 16-1-9-3z"/>
<path fill="#220" d="M2247 2011l9 3 15-1-8-3zm-15 1l8 3 16-1-9-3z"/>
<path fill="#320" d="M2216 2014l8 2 16-1-8-3zm-16 1l8 3 16-2-8-2z"/>
<path fill="#420" d="M2184 2017l9 3 15-2-8-3zm-16 2l9 3 16-2-9-3zm-16 2l9 3 16-2-9-3z"/>
<path fill="#520" d="M2136 2024l8 2 17-2-9-3zm-16 3l8 2 16-3-8-2zm-16 2l8 3 16-3-8-2z"/>
<path fill="#530" d="M2088 2033l8 2 16-3-8-3z"/>
<path fill="#630" d="M2072 2036l8 3 16-4-8-2zm-16 4l7 2 17-3-8-3zm-17 4l8 2 16-4-7-2zm-16 4l7 2 17-4-8-2z"/>
<path fill="#730" d="M2006 2052l8 3 16-5-7-2zm-16 5l7 2 17-4-8-3zm-16 5l7 2 16-5-7-2zm-17 5l7 2 17-5-7-2zm-16 5l7 2 16-5-7-2zm-17 6l7 2 17-6-7-2z"/>
<path fill="#850" d="M1907 2084l8 2 16-6-7-2zm-16 6l7 2 17-6-8-2zm-17 6l7 2 17-6-7-2z"/>
<path fill="#860" d="M1858 2103l6 2 17-7-7-2zm-17 6l7 3 16-7-6-2zm-17 8l7 2 17-7-7-3z"/>
<path fill="#770" d="M1808 2124l6 2 17-7-7-2z"/>
<path fill="#870" d="M1791 2132l7 2 16-8-6-2z"/>
<path fill="#110" d="M2379 2013l8 3 15 1-8-4zm-15-1l8 4 15 0-8-3z"/>
<path fill="#120" d="M2348 2012l9 3 15 1-8-4z"/>
<path fill="#220" d="M2333 2012l9 3 15 0-9-3zm-15 0l8 3 16 0-9-3z"/>
<path fill="#330" d="M2302 2012l9 3 15 0-8-3zm-15 0l8 4 16-1-9-3z"/>
<path fill="#430" d="M2271 2013l9 3 15 0-8-4zm-15 1l8 3 16-1-9-3zm-16 1l8 3 16-1-8-3z"/>
<path fill="#530" d="M2224 2016l9 4 15-2-8-3z"/>
<path fill="#520" d="M2208 2018l9 3 16-1-9-4z"/>
<path fill="#530" d="M2193 2020l8 3 16-2-9-3z"/>
<path fill="#630" d="M2177 2022l8 3 16-2-8-3zm-16 2l8 3 16-2-8-3zm-17 2l9 3 16-2-8-3z"/>
<path fill="#620" d="M2128 2029l8 3 17-3-9-3z"/>
<path fill="#720" d="M2112 2032l8 3 16-3-8-3zm-16 3l8 3 16-3-8-3zm-16 4l7 2 17-3-8-3zm-17 3l8 3 16-4-7-2z"/>
<path fill="#820" d="M2047 2046l8 3 16-4-8-3zm-17 4l8 3 17-4-8-3z"/>
<path fill="#830" d="M2014 2055l8 2 16-4-8-3zm-17 4l8 3 17-5-8-2zm-16 5l7 3 17-5-8-3zm-17 5l8 3 16-5-7-3z"/>
<path fill="#940" d="M1948 2074l7 3 17-5-8-3zm-17 6l7 3 17-6-7-3zm-16 6l7 2 16-5-7-3zm-17 6l7 2 17-6-7-2z"/>
<path fill="#960" d="M1881 2098l7 3 17-7-7-2zm-17 7l7 2 17-6-7-3zm-16 7l7 2 16-7-7-2z"/>
<path fill="#970" d="M1831 2119l7 2 17-7-7-2zm-17 7l7 2 17-7-7-2zm-16 8l6 2 17-8-7-2z"/>
<path fill="#220" d="M2387 2016l9 4 15 1-9-4z"/>
<path fill="#330" d="M2372 2016l9 4 15 0-9-4zm-15-1l9 4 15 1-9-4z"/>
<path fill="#430" d="M2342 2015l9 4 15 0-9-4z"/>
<path fill="#440" d="M2326 2015l9 4 16 0-9-4z"/>
<path fill="#540" d="M2311 2015l9 4 15 0-9-4zm-16 1l9 3 16 0-9-4z"/>
<path fill="#530" d="M2280 2016l9 4 15-1-9-3z"/>
<path fill="#640" d="M2264 2017l9 4 16-1-9-4zm-16 1l9 4 16-1-9-4z"/>
<path fill="#630" d="M2233 2020l8 3 16-1-9-4z"/>
<path fill="#730" d="M2217 2021l8 4 16-2-8-3zm-16 2l8 3 16-1-8-4z"/>
<path fill="#720" d="M2185 2025l8 3 16-2-8-3zm-16 2l8 3 16-2-8-3z"/>
<path fill="#820" d="M2153 2029l8 4 16-3-8-3z"/>
<path fill="#830" d="M2136 2032l9 3 16-2-8-4zm-16 3l8 3 17-3-9-3zm-16 3l8 3 16-3-8-3zm-17 3l8 4 17-4-8-3z"/>
<path fill="#820" d="M2071 2045l8 3 16-3-8-4z"/>
<path fill="#920" d="M2055 2049l7 3 17-4-8-3zm-17 4l8 3 16-4-7-3z"/>
<path fill="#930" d="M2022 2057l7 3 17-4-8-3zm-17 5l8 3 16-5-7-3zm-17 5l8 3 17-5-8-3zm-16 5l7 3 17-5-8-3z"/>
<path fill="#a30" d="M1955 2077l8 3 16-5-7-3zm-17 6l8 3 17-6-8-3zm-16 5l7 3 17-5-8-3z"/>
<path fill="#a50" d="M1905 2094l7 3 17-6-7-3zm-17 7l7 3 17-7-7-3zm-17 6l7 3 17-6-7-3z"/>
<path fill="#a60" d="M1855 2114l7 3 16-7-7-3zm-17 7l7 3 17-7-7-3zm-17 7l7 3 17-7-7-3z"/>
<path fill="#a80" d="M1804 2136l7 3 17-8-7-3z"/>
<path fill="#340" d="M2396 2020l9 5 15 0-9-4z"/>
<path fill="#440" d="M2381 2020l9 4 15 1-9-5z"/>
<path fill="#540" d="M2366 2019l9 4 15 1-9-4z"/>
<path fill="#550" d="M2351 2019l8 4 16 0-9-4z"/>
<path fill="#640" d="M2335 2019l9 4 15 0-8-4z"/>
<path fill="#650" d="M2320 2019l8 4 16 0-9-4z"/>
<path fill="#740" d="M2304 2019l9 5 15-1-8-4zm-15 1l8 4 16 0-9-5z"/>
<path fill="#730" d="M2273 2021l8 4 16-1-8-4zm-16 1l9 4 15-1-8-4z"/>
<path fill="#840" d="M2241 2023l9 4 16-1-9-4z"/>
<path fill="#830" d="M2225 2025l9 4 16-2-9-4zm-16 1l9 4 16-1-9-4zm-16 2l9 4 16-2-9-4zm-16 2l8 4 17-2-9-4z"/>
<path fill="#930" d="M2161 2033l8 4 16-3-8-4z"/>
<path fill="#920" d="M2145 2035l8 4 16-2-8-4zm-17 3l8 4 17-3-8-4zm-16 3l8 4 16-3-8-4zm-17 4l8 3 17-3-8-4zm-16 3l8 4 16-4-8-3z"/>
<path fill="#a20" d="M2062 2052l8 4 17-4-8-4zm-16 4l8 4 16-4-8-4zm-17 4l8 4 17-4-8-4zm-16 5l7 3 17-4-8-4zm-17 5l8 3 16-5-7-3zm-17 5l8 3 17-5-8-3zm-16 5l7 3 17-5-8-3z"/>
<path fill="#b30" d="M1946 2086l7 3 17-6-7-3zm-17 5l7 4 17-6-7-3zm-17 6l7 4 17-6-7-4zm-17 7l7 3 17-6-7-4z"/>
<path fill="#b50" d="M1878 2110l8 3 16-6-7-3zm-16 7l7 3 17-7-8-3zm-17 7l7 3 17-7-7-3z"/>
<path fill="#b70" d="M1828 2131l7 4 17-8-7-3zm-17 8l7 3 17-7-7-4z"/>
<path fill="#550" d="M2405 2025l9 4 15 1-9-5z"/>
<path fill="#560" d="M2390 2024l9 4 15 1-9-4z"/>
<path fill="#660" d="M2375 2023l9 5 15 0-9-4z"/>
<path fill="#750" d="M2359 2023l9 5 16 0-9-5z"/>
<path fill="#760" d="M2344 2023l9 5 15 0-9-5z"/>
<path fill="#850" d="M2328 2023l9 5 16 0-9-5zm-15 1l9 4 15 0-9-5zm-16 0l9 4 16 0-9-4z"/>
<path fill="#840" d="M2281 2025l9 4 16-1-9-4z"/>
<path fill="#940" d="M2266 2026l8 4 16-1-9-4z"/>
<path fill="#930" d="M2250 2027l8 4 16-1-8-4zm-16 2l8 4 16-2-8-4zm-16 1l8 4 16-1-8-4zm-16 2l8 4 16-2-8-4z"/>
<path fill="#920" d="M2185 2034l9 4 16-2-8-4z"/>
<path fill="#a20" d="M2169 2037l8 4 17-3-9-4zm-16 2l8 4 16-2-8-4zm-17 3l9 4 16-3-8-4zm-16 3l8 4 17-3-9-4zm-17 3l9 4 16-3-8-4zm-16 4l8 4 17-4-9-4z"/>
<path fill="#a11" d="M2070 2056l8 4 17-4-8-4zm-16 4l8 4 16-4-8-4z"/>
<path fill="#b20" d="M2037 2064l8 4 17-4-8-4zm-17 4l8 4 17-4-8-4zm-16 5l7 4 17-5-8-4zm-17 5l8 4 16-5-7-4zm-17 5l8 4 17-5-8-4zm-17 6l8 4 17-6-8-4zm-17 6l8 3 17-5-8-4z"/>
<path fill="#c40" d="M1919 2101l8 3 17-6-8-3zm-17 6l8 4 17-7-8-3zm-16 6l7 4 17-6-8-4zm-17 7l7 4 17-7-7-4z"/>
<path fill="#c60" d="M1852 2127l7 4 17-7-7-4zm-17 8l7 3 17-7-7-4z"/>
<path fill="#c70" d="M1818 2142l7 4 17-8-7-3z"/>
<path fill="#670" d="M2414 2029l9 5 16 1-10-5z"/>
<path fill="#760" d="M2399 2028l9 5 15 1-9-5z"/>
<path fill="#770" d="M2384 2028l9 5 15 0-9-5z"/>
<path fill="#860" d="M2368 2028l9 5 16 0-9-5zm-15 0l9 4 15 1-9-5z"/>
<path fill="#950" d="M2337 2028l9 4 16 0-9-4z"/>
<path fill="#960" d="M2322 2028l9 5 15-1-9-4z"/>
<path fill="#940" d="M2306 2028l9 5 16 0-9-5zm-16 1l9 5 16-1-9-5z"/>
<path fill="#930" d="M2274 2030l9 5 16-1-9-5z"/>
<path fill="#a30" d="M2258 2031l9 5 16-1-9-5zm-16 2l9 4 16-1-9-5z"/>
<path fill="#a20" d="M2226 2034l9 5 16-2-9-4zm-16 2l9 5 16-2-9-5zm-16 2l8 5 17-2-9-5zm-17 3l9 4 16-2-8-5z"/>
<path fill="#b20" d="M2161 2043l8 5 17-3-9-4z"/>
<path fill="#b11" d="M2145 2046l8 4 16-2-8-5zm-17 3l8 4 17-3-8-4zm-16 3l8 5 16-4-8-4zm-17 4l8 4 17-3-8-5zm-17 4l8 4 17-4-8-4zm-16 4l8 4 16-4-8-4z"/>
<path fill="#b21" d="M2045 2068l8 4 17-4-8-4zm-17 4l8 4 17-4-8-4z"/>
<path fill="#c21" d="M2011 2077l8 4 17-5-8-4zm-16 5l7 4 17-5-8-4zm-17 5l7 4 17-5-7-4zm-17 6l7 4 17-6-7-4zm-17 5l7 5 17-6-7-4zm-17 6l7 4 17-5-7-5zm-17 7l7 4 17-7-7-4z"/>
<path fill="#c40" d="M1893 2117l7 4 17-6-7-4zm-17 7l7 4 17-7-7-4zm-17 7l7 4 17-7-7-4z"/>
<path fill="#d60" d="M1842 2138l7 4 17-7-7-4zm-17 8l7 4 17-8-7-4z"/>
<path fill="#780" d="M2423 2034l9 6 16 1-9-6z"/>
<path fill="#870" d="M2408 2033l9 6 15 1-9-6z"/>
<path fill="#970" d="M2393 2033l9 5 15 1-9-6zm-16 0l9 5 16 0-9-5z"/>
<path fill="#960" d="M2362 2032l9 6 15 0-9-5z"/>
<path fill="#a60" d="M2346 2032l9 6 16 0-9-6z"/>
<path fill="#a50" d="M2331 2033l9 5 15 0-9-6zm-16 0l9 5 16 0-9-5z"/>
<path fill="#a30" d="M2299 2034l9 5 16-1-9-5zm-16 1l9 5 16-1-9-5z"/>
<path fill="#b30" d="M2267 2036l9 5 16-1-9-5z"/>
<path fill="#b20" d="M2251 2037l9 5 16-1-9-5zm-16 2l8 5 17-2-9-5zm-16 2l8 5 16-2-8-5zm-17 2l9 5 16-2-8-5z"/>
<path fill="#b11" d="M2186 2045l8 5 17-2-9-5zm-17 3l9 4 16-2-8-5z"/>
<path fill="#b21" d="M2153 2050l8 5 17-3-9-4zm-17 3l9 5 16-3-8-5z"/>
<path fill="#c21" d="M2120 2057l8 4 17-3-9-5zm-17 3l8 5 17-4-8-4zm-17 4l9 5 16-4-8-5zm-16 4l8 4 17-3-9-5zm-17 4l8 5 17-5-8-4zm-17 4l8 5 17-4-8-5zm-17 5l8 5 17-5-8-5zm-17 5l8 5 17-5-8-5zm-17 5l8 5 17-5-8-5zm-17 6l8 4 17-5-8-5zm-17 6l8 4 17-6-8-4z"/>
<path fill="#d21" d="M1934 2108l8 5 17-6-8-4zm-17 7l8 4 17-6-8-5zm-17 6l8 5 17-7-8-4zm-17 7l7 4 18-6-8-5z"/>
<path fill="#d40" d="M1866 2135l7 4 17-7-7-4zm-17 7l7 5 17-8-7-4z"/>
<path fill="#d60" d="M1832 2150l7 4 17-7-7-5z"/>
<path fill="#980" d="M2432 2040l10 5 15 1-9-5zm-15-1l9 6 16 0-10-5z"/>
<path fill="#a80" d="M2402 2038l9 6 15 1-9-6zm-16 0l10 5 15 1-9-6z"/>
<path fill="#a60" d="M2371 2038l9 5 16 0-10-5z"/>
<path fill="#b70" d="M2355 2038l9 5 16 0-9-5z"/>
<path fill="#b50" d="M2340 2038l9 5 15 0-9-5zm-16 0l9 6 16-1-9-5z"/>
<path fill="#b40" d="M2308 2039l9 5 16 0-9-6zm-16 1l9 5 16-1-9-5z"/>
<path fill="#b20" d="M2276 2041l9 5 16-1-9-5zm-16 1l8 6 17-2-9-5zm-17 2l9 5 16-1-8-6z"/>
<path fill="#c20" d="M2227 2046l9 5 16-2-9-5z"/>
<path fill="#c21" d="M2211 2048l9 5 16-2-9-5zm-17 2l9 5 17-2-9-5zm-16 2l9 6 16-3-9-5zm-17 3l9 5 17-2-9-6zm-16 3l8 5 17-3-9-5z"/>
<path fill="#c11" d="M2128 2061l9 5 16-3-8-5z"/>
<path fill="#c21" d="M2111 2065l9 5 17-4-9-5zm-16 4l8 5 17-4-9-5zm-17 3l8 6 17-4-8-5z"/>
<path fill="#d21" d="M2061 2077l8 5 17-4-8-6zm-17 4l8 5 17-4-8-5zm-17 5l8 5 17-5-8-5zm-17 5l8 5 17-5-8-5zm-17 5l8 5 17-5-8-5zm-17 5l8 5 17-5-8-5zm-17 6l8 5 17-6-8-5zm-17 6l8 5 17-6-8-5zm-17 6l7 5 18-6-8-5z"/>
<path fill="#d31" d="M1908 2126l7 4 17-6-7-5zm-18 6l8 5 17-7-7-4zm-17 7l8 5 17-7-8-5z"/>
<path fill="#e40" d="M1856 2147l7 4 18-7-8-5zm-17 7l7 5 17-8-7-4z"/>
<path fill="#990" d="M2442 2045l9 6 15 2-9-7z"/>
<path fill="#a90" d="M2426 2045l10 6 15 0-9-6z"/>
<path fill="#b80" d="M2411 2044l9 6 16 1-10-6z"/>
<path fill="#b70" d="M2396 2043l9 6 15 1-9-6zm-16 0l9 6 16 0-9-6z"/>
<path fill="#b50" d="M2364 2043l9 6 16 0-9-6z"/>
<path fill="#c50" d="M2349 2043l9 6 15 0-9-6z"/>
<path fill="#b40" d="M2333 2044l9 6 16-1-9-6z"/>
<path fill="#c40" d="M2317 2044l9 6 16 0-9-6zm-16 1l9 6 16-1-9-6z"/>
<path fill="#c21" d="M2285 2046l9 6 16-1-9-6zm-17 2l9 5 17-1-9-6zm-16 1l9 6 16-2-9-5zm-16 2l9 6 16-2-9-6zm-16 2l8 6 17-2-9-6zm-17 2l9 6 16-2-8-6zm-16 3l8 5 17-2-9-6z"/>
<path fill="#d21" d="M2170 2060l9 6 16-3-8-5zm-17 3l9 6 17-3-9-6zm-16 3l8 6 17-3-9-6zm-17 4l8 5 17-3-8-6zm-17 4l8 5 17-4-8-5zm-17 4l8 5 17-4-8-5zm-17 4l8 5 17-4-8-5zm-17 4l8 5 17-4-8-5zm-17 5l8 5 17-5-8-5zm-17 5l8 5 17-5-8-5zm-17 5l8 5 17-5-8-5zm-17 5l8 6 17-6-8-5zm-17 6l8 5 17-5-8-6z"/>
<path fill="#e21" d="M1950 2118l7 5 18-6-8-5zm-18 6l8 5 17-6-7-5zm-17 6l8 6 17-7-8-5z"/>
<path fill="#e31" d="M1898 2137l7 5 18-6-8-6zm-17 7l7 5 17-7-7-5zm-18 7l8 5 17-7-7-5z"/>
<path fill="#e50" d="M1846 2159l7 5 18-8-8-5z"/>
<path fill="#aa0" d="M2451 2051l9 7 15 1-9-6zm-15 0l9 6 15 1-9-7z"/>
<path fill="#b90" d="M2420 2050l9 6 16 1-9-6z"/>
<path fill="#c70" d="M2405 2049l9 7 15 0-9-6zm-16 0l9 6 16 1-9-7z"/>
<path fill="#c60" d="M2373 2049l10 6 15 0-9-6zm-15 0l9 7 16-1-10-6z"/>
<path fill="#c40" d="M2342 2050l9 6 16 0-9-7zm-16 0l9 6 16 0-9-6z"/>
<path fill="#c21" d="M2310 2051l9 6 16-1-9-6zm-16 1l9 6 16-1-9-6z"/>
<path fill="#d21" d="M2277 2053l9 6 17-1-9-6zm-16 2l9 6 16-2-9-6zm-16 2l9 6 16-2-9-6zm-17 2l9 6 17-2-9-6zm-16 2l9 6 16-2-9-6zm-17 2l9 6 17-2-9-6zm-16 3l8 6 17-3-9-6zm-17 3l8 6 17-3-8-6zm-17 3l9 6 16-3-8-6zm-17 3l9 6 17-3-9-6zm-17 4l9 6 17-4-9-6zm-17 4l9 6 17-4-9-6z"/>
<path fill="#e21" d="M2077 2087l9 6 17-4-9-6zm-17 4l9 6 17-4-9-6zm-17 5l8 6 18-5-9-6zm-17 5l8 6 17-5-8-6zm-17 5l8 6 17-5-8-6zm-17 6l8 5 17-5-8-6zm-17 5l8 6 17-6-8-5zm-18 6l8 6 18-6-8-6zm-17 6l8 6 17-6-8-6zm-17 7l7 5 18-6-8-6zm-18 6l8 6 17-7-7-5z"/>
<path fill="#e31" d="M1888 2149l8 6 17-7-8-6zm-17 7l7 6 18-7-8-6zm-18 8l8 5 17-7-7-6z"/>
<path fill="#ba0" d="M2460 2058l10 7 15 1-10-7z"/>
<path fill="#c90" d="M2445 2057l9 7 16 1-10-7zm-16-1l10 7 15 1-9-7z"/>
<path fill="#c80" d="M2414 2056l9 7 16 0-10-7z"/>
<path fill="#d80" d="M2398 2055l10 7 15 1-9-7z"/>
<path fill="#d60" d="M2383 2055l9 7 16 0-10-7zm-16 1l9 6 16 0-9-7z"/>
<path fill="#d40" d="M2351 2056l9 6 16 0-9-6zm-16 0l9 7 16-1-9-6z"/>
<path fill="#d31" d="M2319 2057l9 7 16-1-9-7zm-16 1l9 7 16-1-9-7zm-17 1l9 7 17-1-9-7z"/>
<path fill="#d21" d="M2270 2061l9 6 16-1-9-7zm-16 2l8 6 17-2-9-6zm-17 2l9 6 16-2-8-6zm-16 2l8 6 17-2-9-6zm-17 2l9 7 16-3-8-6z"/>
<path fill="#e21" d="M2187 2072l9 6 17-2-9-7zm-17 3l9 6 17-3-9-6zm-16 3l8 6 17-3-9-6zm-17 3l8 7 17-4-8-6zm-17 4l8 6 17-3-8-7zm-17 4l8 6 17-4-8-6zm-17 4l8 6 17-4-8-6zm-17 4l8 6 17-4-8-6zm-18 5l9 6 17-5-8-6zm-17 5l9 6 17-5-9-6zm-17 5l8 6 18-5-9-6zm-17 5l8 6 17-5-8-6zm-17 6l8 6 17-6-8-6zm-18 6l8 6 18-6-8-6zm-17 6l8 6 17-6-8-6zm-18 6l8 6 18-6-8-6zm-17 7l8 6 17-7-8-6zm-17 7l7 6 18-7-8-6z"/>
<path fill="#e31" d="M1878 2162l8 6 17-7-7-6zm-17 7l7 6 18-7-8-6z"/>
<path fill="#cb0" d="M2470 2065l9 7 15 1-9-7z"/>
<path fill="#da0" d="M2454 2064l10 7 15 1-9-7zm-15-1l9 7 16 1-10-7z"/>
<path fill="#d80" d="M2423 2063l10 7 15 0-9-7zm-15-1l9 7 16 1-10-7z"/>
<path fill="#d60" d="M2392 2062l9 7 16 0-9-7zm-16 0l9 7 16 0-9-7z"/>
<path fill="#d40" d="M2360 2062l9 7 16 0-9-7z"/>
<path fill="#e40" d="M2344 2063l9 7 16-1-9-7z"/>
<path fill="#d31" d="M2328 2064l9 7 16-1-9-7z"/>
<path fill="#e31" d="M2312 2065l9 7 16-1-9-7z"/>
<path fill="#e21" d="M2295 2066l9 7 17-1-9-7zm-16 1l9 7 16-1-9-7zm-17 2l9 7 17-2-9-7zm-16 2l9 7 16-2-9-7zm-17 2l9 7 17-2-9-7zm-16 3l9 6 16-2-9-7zm-17 2l9 7 17-3-9-6zm-17 3l9 7 17-3-9-7zm-17 3l9 7 17-3-9-7z"/>
<path fill="#d21" d="M2145 2088l9 6 17-3-9-7zm-17 3l9 7 17-4-9-6zm-17 4l9 7 17-4-9-7zm-17 4l9 7 17-4-9-7zm-17 4l8 7 18-4-9-7zm-17 5l8 7 17-5-8-7zm-17 5l8 6 17-4-8-7z"/>
<path fill="#e21" d="M2025 2118l8 7 18-6-8-6zm-17 5l8 7 17-5-8-7zm-17 6l8 6 17-5-8-7zm-18 6l8 6 18-6-8-6zm-17 6l8 6 17-6-8-6zm-18 6l8 7 18-7-8-6zm-17 7l8 6 17-6-8-7zm-18 7l8 6 18-7-8-6zm-17 7l8 6 17-7-8-6z"/>
<path fill="#e31" d="M1868 2175l8 7 18-8-8-6z"/>
<path fill="#cb0" d="M2479 2072l9 8 16 1-10-8z"/>
<path fill="#da0" d="M2464 2071l9 8 15 1-9-8zm-16-1l10 8 15 1-9-8z"/>
<path fill="#e80" d="M2433 2070l9 7 16 1-10-8z"/>
<path fill="#e90" d="M2417 2069l9 8 16 0-9-7z"/>
<path fill="#e70" d="M2401 2069l9 8 16 0-9-8zm-16 0l9 8 16 0-9-8z"/>
<path fill="#e40" d="M2369 2069l9 8 16 0-9-8z"/>
<path fill="#e50" d="M2353 2070l9 7 16 0-9-8z"/>
<path fill="#e31" d="M2337 2071l9 7 16-1-9-7zm-16 1l9 7 16-1-9-7z"/>
<path fill="#e21" d="M2304 2073l10 7 16-1-9-7zm-16 1l9 8 17-2-10-7zm-17 2l10 7 16-1-9-8zm-16 2l9 7 17-2-10-7zm-17 2l9 7 17-2-9-7zm-16 2l8 7 17-2-9-7zm-17 3l9 7 16-3-8-7zm-17 3l9 7 17-3-9-7z"/>
<path fill="#d21" d="M2171 2091l9 7 17-3-9-7zm-17 3l9 7 17-3-9-7zm-17 4l9 7 17-4-9-7zm-17 4l8 7 18-4-9-7zm-17 4l8 7 17-4-8-7zm-18 4l9 7 17-4-8-7zm-17 5l9 7 17-5-9-7zm-17 4l8 7 18-4-9-7zm-18 6l9 6 17-5-8-7z"/>
<path fill="#e21" d="M2016 2130l8 7 18-6-9-6zm-17 5l8 7 17-5-8-7zm-18 6l8 7 18-6-8-7zm-17 6l8 7 17-6-8-7zm-18 7l8 7 18-7-8-7zm-17 6l8 7 17-6-8-7zm-18 7l8 7 18-7-8-7zm-17 7l7 7 18-7-8-7z"/>
<path fill="#e31" d="M1876 2182l8 7 17-8-7-7z"/>
<path fill="#dc0" d="M2488 2080l10 8 15 1-9-8zm-15-1l9 8 16 1-10-8z"/>
<path fill="#eb0" d="M2458 2078l9 8 15 1-9-8z"/>
<path fill="#e90" d="M2442 2077l9 8 16 1-9-8zm-16 0l10 8 15 0-9-8z"/>
<path fill="#e70" d="M2410 2077l10 7 16 1-10-8zm-16 0l10 7 16 0-10-7z"/>
<path fill="#e50" d="M2378 2077l10 8 16-1-10-7zm-16 0l10 8 16 0-10-8z"/>
<path fill="#e31" d="M2346 2078l9 8 17-1-10-8zm-16 1l9 8 16-1-9-8z"/>
<path fill="#e21" d="M2314 2080l9 8 16-1-9-8zm-17 2l9 7 17-1-9-8zm-16 1l9 8 16-2-9-7zm-17 2l9 8 17-2-9-8zm-17 2l9 8 17-2-9-8zm-17 2l9 8 17-2-9-8zm-16 3l9 8 16-3-9-8zm-17 3l9 7 17-2-9-8z"/>
<path fill="#d21" d="M2180 2098l9 7 17-3-9-7zm-17 3l8 8 18-4-9-7zm-17 4l8 7 17-3-8-8zm-18 4l9 7 17-4-8-7zm-17 4l9 7 17-4-9-7zm-17 4l9 7 17-4-9-7zm-17 5l8 7 18-5-9-7zm-18 4l9 8 17-5-8-7zm-17 5l8 8 18-5-9-8zm-18 6l9 7 17-5-8-8z"/>
<path fill="#e21" d="M2007 2142l8 8 18-6-9-7zm-18 6l9 8 17-6-8-8zm-17 6l8 8 18-6-9-8zm-18 7l8 7 18-6-8-8zm-17 6l8 8 17-7-8-7zm-18 7l8 7 18-6-8-8zm-18 7l8 8 18-8-8-7zm-17 8l7 7 18-7-8-8z"/>
<path fill="#dc0" d="M2498 2088l9 8 16 1-10-8zm-16-1l10 8 15 1-9-8z"/>
<path fill="#eb0" d="M2467 2086l9 8 16 1-10-8z"/>
<path fill="#e90" d="M2451 2085l10 8 15 1-9-8zm-15 0l9 8 16 0-10-8z"/>
<path fill="#e70" d="M2420 2084l9 9 16 0-9-8zm-16 0l9 9 16 0-9-9z"/>
<path fill="#e50" d="M2388 2085l9 8 16 0-9-9zm-16 0l9 8 16 0-9-8z"/>
<path fill="#e31" d="M2355 2086l10 8 16-1-9-8zm-16 1l9 8 17-1-10-8z"/>
<path fill="#e21" d="M2323 2088l9 8 16-1-9-8zm-17 1l9 8 17-1-9-8zm-16 2l9 8 16-2-9-8zm-17 2l9 8 17-2-9-8zm-17 2l9 8 17-2-9-8zm-17 2l10 8 16-2-9-8zm-16 3l9 8 17-3-10-8zm-17 2l9 8 17-2-9-8z"/>
<path fill="#d21" d="M2189 2105l9 8 17-3-9-8zm-18 4l9 8 18-4-9-8zm-17 3l9 8 17-3-9-8zm-17 4l9 8 17-4-9-8zm-17 4l9 8 17-4-9-8zm-17 4l8 8 18-4-9-8zm-18 5l9 8 17-5-8-8zm-17 5l8 8 18-5-9-8zm-18 5l9 8 17-5-8-8zm-17 5l8 8 18-5-9-8zm-18 6l9 7 17-5-8-8z"/>
<path fill="#e21" d="M1998 2156l8 7 18-6-9-7zm-18 6l8 7 18-6-8-7zm-18 6l9 8 17-7-8-7zm-17 7l8 7 18-6-9-8zm-18 6l8 8 18-7-8-7zm-18 8l8 7 18-7-8-8zm-18 7l8 8 18-8-8-7z"/>
<path fill="#dc0" d="M2507 2096l10 9 15 1-9-9zm-15-1l10 9 15 1-10-9z"/>
<path fill="#eb0" d="M2476 2094l10 9 16 1-10-9zm-15-1l9 9 16 1-10-9z"/>
<path fill="#e90" d="M2445 2093l10 9 15 0-9-9z"/>
<path fill="#e70" d="M2429 2093l10 8 16 1-10-9zm-16 0l10 8 16 0-10-8z"/>
<path fill="#e50" d="M2397 2093l10 8 16 0-10-8zm-16 0l9 9 17-1-10-8z"/>
<path fill="#e31" d="M2365 2094l9 8 16 0-9-9zm-17 1l10 8 16-1-9-8zm-16 1l9 8 17-1-10-8z"/>
<path fill="#e21" d="M2315 2097l10 9 16-2-9-8zm-16 2l9 8 17-1-10-9zm-17 2l9 8 17-2-9-8zm-17 2l10 8 16-2-9-8zm-16 2l9 8 17-2-10-8zm-17 3l9 8 17-3-9-8zm-17 2l9 9 17-3-9-8z"/>
<path fill="#d21" d="M2198 2113l9 9 17-3-9-9zm-18 4l9 8 18-3-9-9zm-17 3l9 8 17-3-9-8zm-17 4l9 8 17-4-9-8zm-17 4l8 8 18-4-9-8zm-18 4l9 8 17-4-8-8zm-17 5l8 8 18-5-9-8zm-18 5l9 8 17-5-8-8zm-17 5l8 8 18-5-9-8zm-18 5l9 8 17-5-8-8zm-17 5l8 9 18-6-9-8z"/>
<path fill="#e21" d="M2006 2163l8 8 18-5-8-9zm-18 6l9 8 17-6-8-8zm-17 7l8 8 18-7-9-8zm-18 6l8 8 18-6-8-8zm-18 7l8 8 18-7-8-8zm-18 7l8 8 18-7-8-8zm-18 8l8 8 18-8-8-8z"/>
<path fill="#ce0" d="M2517 2105l10 9 15 1-10-9z"/>
<path fill="#dc0" d="M2502 2104l9 9 16 1-10-9z"/>
<path fill="#eb0" d="M2486 2103l10 9 15 1-9-9zm-16-1l10 9 16 1-10-9z"/>
<path fill="#e90" d="M2455 2102l9 9 16 0-10-9zm-16-1l9 9 16 1-9-9z"/>
<path fill="#e70" d="M2423 2101l9 9 16 0-9-9z"/>
<path fill="#e50" d="M2407 2101l9 9 16 0-9-9zm-17 1l10 9 16-1-9-9z"/>
<path fill="#e31" d="M2374 2102l10 9 16 0-10-9zm-16 1l9 9 17-1-10-9zm-17 1l10 9 16-1-9-9z"/>
<path fill="#e21" d="M2325 2106l9 8 17-1-10-9zm-17 1l9 9 17-2-9-8zm-17 2l10 9 16-2-9-9zm-16 2l9 9 17-2-10-9zm-17 2l9 9 17-2-9-9zm-17 3l9 9 17-3-9-9zm-17 3l9 8 17-2-9-9z"/>
<path fill="#d21" d="M2207 2122l9 8 17-3-9-8zm-18 3l9 9 18-4-9-8zm-17 3l9 9 17-3-9-9zm-17 4l9 9 17-4-9-9zm-18 4l9 9 18-4-9-9zm-17 4l9 9 17-4-9-9zm-18 5l9 9 18-5-9-9zm-17 5l9 8 17-4-9-9zm-18 5l9 8 18-5-9-8zm-17 5l8 9 18-6-9-8zm-18 6l9 8 17-5-8-9z"/>
<path fill="#e21" d="M2014 2171l9 9 18-6-9-8zm-17 6l8 9 18-6-9-9zm-18 7l8 8 18-6-8-9zm-18 6l8 9 18-7-8-8zm-18 7l8 9 18-7-8-9zm-18 7l9 9 17-7-8-9zm-18 8l9 8 18-7-9-9z"/>
<path fill="#ce0" d="M2527 2114l9 9 16 2-10-10z"/>
<path fill="#dc0" d="M2511 2113l10 9 15 1-9-9zm-15-1l9 9 16 1-10-9z"/>
<path fill="#eb0" d="M2480 2111l9 10 16 0-9-9z"/>
<path fill="#e90" d="M2464 2111l10 9 15 1-9-10zm-16-1l10 10 16 0-10-9z"/>
<path fill="#e70" d="M2432 2110l10 10 16 0-10-10zm-16 0l10 10 16 0-10-10z"/>
<path fill="#e50" d="M2400 2111l9 9 17 0-10-10zm-16 0l9 10 16-1-9-9z"/>
<path fill="#e31" d="M2367 2112l10 9 16 0-9-10zm-16 1l9 9 17-1-10-9z"/>
<path fill="#e21" d="M2334 2114l9 10 17-2-9-9zm-17 2l10 9 16-1-9-10zm-16 2l9 9 17-2-10-9zm-17 2l9 9 17-2-9-9zm-17 2l9 9 17-2-9-9zm-17 3l9 9 17-3-9-9zm-17 2l9 9 17-2-9-9zm-17 3l9 9 17-3-9-9z"/>
<path fill="#d21" d="M2198 2134l9 9 18-4-9-9zm-17 3l9 9 17-3-9-9zm-17 4l9 9 17-4-9-9zm-18 4l9 9 18-4-9-9zm-17 4l9 9 17-4-9-9zm-18 5l9 9 18-5-9-9zm-17 4l8 9 18-4-9-9zm-18 5l9 9 17-5-8-9zm-18 6l9 9 18-6-9-9zm-17 5l8 9 18-5-9-9z"/>
<path fill="#e21" d="M2023 2180l8 9 18-6-8-9zm-18 6l9 9 17-6-8-9zm-18 6l9 9 18-6-9-9zm-18 7l9 9 18-7-9-9zm-18 7l9 9 18-7-9-9zm-17 7l8 9 18-7-9-9zm-18 7l8 9 18-7-8-9z"/>
<path fill="#ce0" d="M2536 2123l10 10 15 2-9-10zm-15-1l9 10 16 1-10-10z"/>
<path fill="#dc0" d="M2505 2121l10 10 15 1-9-10z"/>
<path fill="#eb0" d="M2489 2121l10 9 16 1-10-10zm-15-1l9 10 16 0-10-9z"/>
<path fill="#e90" d="M2458 2120l9 9 16 1-9-10z"/>
<path fill="#e70" d="M2442 2120l9 9 16 0-9-9zm-16 0l9 9 16 0-9-9z"/>
<path fill="#e50" d="M2409 2120l10 10 16-1-9-9zm-16 1l10 9 16 0-10-10z"/>
<path fill="#e31" d="M2377 2121l9 10 17-1-10-9zm-17 1l10 10 16-1-9-10zm-17 2l10 9 17-1-10-10z"/>
<path fill="#e21" d="M2327 2125l9 10 17-2-10-9zm-17 2l9 10 17-2-9-10zm-17 2l9 10 17-2-9-10zm-17 2l9 10 17-2-9-10zm-17 3l9 9 17-2-9-10zm-17 2l9 10 17-3-9-9zm-17 3l9 10 17-3-9-10zm-18 4l10 9 17-3-9-10z"/>
<path fill="#d21" d="M2190 2146l9 10 18-4-10-9zm-17 4l9 9 17-3-9-10zm-18 4l9 9 18-4-9-9zm-17 4l9 10 17-5-9-9zm-18 5l9 9 18-4-9-10zm-18 4l9 10 18-5-9-9zm-17 5l9 10 17-5-9-10zm-18 6l9 9 18-5-9-10z"/>
<path fill="#e21" d="M2049 2183l9 10 18-6-9-9zm-18 6l9 9 18-5-9-10zm-17 6l8 9 18-6-9-9zm-18 6l8 10 18-7-8-9zm-18 7l8 9 18-6-8-10zm-18 7l8 9 18-7-8-9zm-18 7l8 9 18-7-8-9zm-18 7l8 9 18-7-8-9z"/>
<path fill="#ad0" d="M2546 2133l9 11 16 1-10-10z"/>
<path fill="#ce0" d="M2530 2132l10 11 15 1-9-11z"/>
<path fill="#dc0" d="M2515 2131l9 10 16 2-10-11z"/>
<path fill="#eb0" d="M2499 2130l10 11 15 0-9-10zm-16 0l10 10 16 1-10-11z"/>
<path fill="#e90" d="M2467 2129l10 11 16 0-10-10zm-16 0l10 11 16 0-10-11z"/>
<path fill="#e70" d="M2435 2129l10 11 16 0-10-11zm-16 1l9 10 17 0-10-11z"/>
<path fill="#e50" d="M2403 2130l9 10 16 0-9-10zm-17 1l10 10 16-1-9-10z"/>
<path fill="#e31" d="M2370 2132l9 10 17-1-10-10zm-17 1l9 10 17-1-9-10zm-17 2l10 10 16-2-9-10z"/>
<path fill="#e21" d="M2319 2137l10 10 17-2-10-10zm-17 2l10 10 17-2-10-10zm-17 2l10 10 17-2-10-10zm-17 2l10 10 17-2-10-10zm-17 3l9 10 18-3-10-10zm-17 3l9 10 17-3-9-10zm-17 3l9 10 17-3-9-10zm-18 4l9 10 18-4-9-10zm-17 3l9 10 17-3-9-10z"/>
<path fill="#d21" d="M2164 2163l9 10 18-4-9-10zm-17 5l9 9 17-4-9-10zm-18 4l9 10 18-5-9-9zm-18 5l9 10 18-5-9-10zm-17 5l9 10 17-5-9-10z"/>
<path fill="#e21" d="M2076 2187l9 10 18-5-9-10zm-18 6l9 9 18-5-9-10zm-18 5l9 10 18-6-9-9zm-18 6l9 10 18-6-9-10zm-18 7l9 9 18-6-9-10zm-18 6l9 10 18-7-9-9zm-18 7l9 10 18-7-9-10zm-18 7l9 10 18-7-9-10zm-18 7l8 10 19-7-9-10z"/>
<path fill="#ad0" d="M2555 2144l10 11 16 1-10-11z"/>
<path fill="#ce0" d="M2540 2143l10 10 15 2-10-11zm-16-2l10 11 16 1-10-10z"/>
<path fill="#dc0" d="M2509 2141l9 10 16 1-10-11z"/>
<path fill="#eb0" d="M2493 2140l10 11 15 0-9-10zm-16 0l10 10 16 1-10-11z"/>
<path fill="#e90" d="M2461 2140l10 10 16 0-10-10z"/>
<path fill="#e70" d="M2445 2140l9 10 17 0-10-10zm-17 0l10 10 16 0-9-10z"/>
<path fill="#e50" d="M2412 2140l10 11 16-1-10-10zm-16 1l9 11 17-1-10-11zm-17 1l10 11 16-1-9-11z"/>
<path fill="#e31" d="M2362 2143l10 11 17-1-10-11zm-16 2l9 10 17-1-10-11z"/>
<path fill="#e21" d="M2329 2147l9 10 17-2-9-10zm-17 2l9 10 17-2-9-10zm-17 2l9 10 17-2-9-10zm-17 2l9 11 17-3-9-10zm-18 3l10 10 17-2-9-11zm-17 3l10 10 17-3-10-10zm-17 3l9 11 18-4-10-10zm-18 4l10 10 17-3-9-11zm-17 3l9 11 18-4-10-10zm-18 4l10 11 17-4-9-11zm-17 4l9 11 18-4-10-11zm-18 5l9 10 18-4-9-11zm-18 5l9 10 18-5-9-10zm-17 5l9 10 17-5-9-10zm-18 5l9 10 18-5-9-10zm-18 5l9 11 18-6-9-10zm-18 6l9 10 18-5-9-11zm-18 6l9 10 18-6-9-10zm-18 6l9 11 18-7-9-10zm-18 7l8 10 19-6-9-11zm-18 7l8 10 18-7-8-10zm-18 7l8 10 18-7-8-10zm-19 7l9 10 18-7-8-10z"/>
<path fill="#ad0" d="M2565 2155l10 11 15 1-9-11zm-15-2l9 11 16 2-10-11z"/>
<path fill="#ce0" d="M2534 2152l10 11 15 1-9-11z"/>
<path fill="#dc0" d="M2518 2151l10 11 16 1-10-11zm-15 0l9 11 16 0-10-11z"/>
<path fill="#eb0" d="M2487 2150l9 11 16 1-9-11z"/>
<path fill="#e90" d="M2471 2150l9 11 16 0-9-11zm-17 0l10 11 16 0-9-11z"/>
<path fill="#e70" d="M2438 2150l10 11 16 0-10-11zm-16 1l9 11 17-1-10-11z"/>
<path fill="#e50" d="M2405 2152l10 11 16-1-9-11zm-16 1l9 11 17-1-10-11zm-17 1l9 11 17-1-9-11z"/>
<path fill="#e31" d="M2355 2155l10 11 16-1-9-11zm-17 2l10 11 17-2-10-11z"/>
<path fill="#e21" d="M2321 2159l10 11 17-2-10-11zm-17 2l10 11 17-2-10-11zm-17 3l9 11 18-3-10-11zm-17 2l9 11 17-2-9-11zm-17 3l9 11 17-3-9-11zm-18 4l9 10 18-3-9-11zm-17 3l9 11 17-4-9-10zm-18 4l9 10 18-3-9-11zm-17 4l9 10 17-4-9-10zm-18 4l9 10 18-4-9-10zm-18 4l9 11 18-5-9-10zm-18 5l9 11 18-5-9-11zm-17 5l9 11 17-5-9-11zm-18 5l9 11 18-5-9-11zm-18 6l9 10 18-5-9-11zm-18 5l9 11 18-6-9-10zm-18 6l9 11 18-6-9-11zm-18 7l8 10 19-6-9-11zm-19 6l9 11 18-7-8-10zm-18 7l9 10 18-6-9-11zm-18 7l9 10 18-7-9-10zm-18 7l9 11 18-8-9-10z"/>
<path fill="#8d0" d="M2575 2166l10 11 15 2-10-12z"/>
<path fill="#ad0" d="M2559 2164l10 12 16 1-10-11z"/>
<path fill="#ce0" d="M2544 2163l10 12 15 1-10-12zm-16-1l10 12 16 1-10-12z"/>
<path fill="#dc0" d="M2512 2162l10 11 16 1-10-12z"/>
<path fill="#eb0" d="M2496 2161l10 12 16 0-10-11zm-16 0l10 12 16 0-10-12z"/>
<path fill="#e90" d="M2464 2161l10 12 16 0-10-12zm-16 0l9 12 17 0-10-12z"/>
<path fill="#e70" d="M2431 2162l10 11 16 0-9-12zm-16 1l9 11 17-1-10-11z"/>
<path fill="#e50" d="M2398 2164l10 11 16-1-9-11zm-17 1l10 11 17-1-10-11zm-16 1l9 12 17-2-10-11z"/>
<path fill="#e31" d="M2348 2168l9 11 17-1-9-12zm-17 2l9 11 17-2-9-11zm-17 2l9 11 17-2-9-11z"/>
<path fill="#e21" d="M2296 2175l10 11 17-3-9-11zm-17 2l10 11 17-2-10-11zm-17 3l9 11 18-3-10-11zm-18 3l10 11 17-3-9-11zm-17 4l9 11 18-4-10-11zm-18 3l10 12 17-4-9-11zm-17 4l9 11 18-3-10-12zm-18 4l9 12 18-5-9-11zm-18 5l10 11 17-4-9-12zm-18 5l10 11 18-5-10-11zm-17 5l9 11 18-5-10-11zm-18 5l9 11 18-5-9-11zm-18 5l9 11 18-5-9-11zm-18 6l9 11 18-6-9-11zm-18 6l8 11 19-6-9-11zm-19 6l9 11 18-6-8-11zm-18 7l9 11 18-7-9-11zm-18 6l9 11 18-6-9-11zm-18 7l9 11 18-7-9-11z"/>
<path fill="#e31" d="M1958 2269l8 11 19-8-9-11z"/>
<path fill="#8d0" d="M2585 2177l9 12 16 2-10-12zm-16-1l10 12 15 1-9-12z"/>
<path fill="#ad0" d="M2554 2175l9 12 16 1-10-12z"/>
<path fill="#ce0" d="M2538 2174l10 12 15 1-9-12zm-16-1l10 12 16 1-10-12z"/>
<path fill="#dc0" d="M2506 2173l10 12 16 0-10-12z"/>
<path fill="#eb0" d="M2490 2173l10 11 16 1-10-12zm-16 0l9 11 17 0-10-11z"/>
<path fill="#e90" d="M2457 2173l10 12 16-1-9-11zm-16 0l10 12 16 0-10-12z"/>
<path fill="#e70" d="M2424 2174l10 12 17-1-10-12zm-16 1l9 12 17-1-10-12z"/>
<path fill="#e50" d="M2391 2176l10 12 16-1-9-12zm-17 2l10 11 17-1-10-12zm-17 1l10 12 17-2-10-11z"/>
<path fill="#e31" d="M2340 2181l10 12 17-2-10-12zm-17 2l10 12 17-2-10-12zm-17 3l10 11 17-2-10-12z"/>
<path fill="#e21" d="M2289 2188l9 12 18-3-10-11zm-18 3l10 12 17-3-9-12zm-17 3l9 12 18-3-10-12zm-18 4l10 12 17-4-9-12zm-17 4l9 11 18-3-10-12zm-18 3l9 12 18-4-9-11zm-18 5l10 11 17-4-9-12zm-17 4l9 12 18-5-10-11zm-18 5l9 11 18-4-9-12zm-18 5l9 11 18-5-9-11zm-18 5l9 11 18-5-9-11zm-18 5l9 12 18-6-9-11zm-18 6l9 11 18-5-9-12zm-19 6l9 11 19-6-9-11zm-18 6l9 12 18-7-9-11zm-18 7l9 11 18-6-9-12zm-18 6l9 12 18-7-9-11z"/>
<path fill="#e31" d="M1985 2272l8 12 19-7-9-12zm-19 8l9 11 18-7-8-12z"/>
<path fill="#6d0" d="M2594 2189l10 13 15 1-9-12z"/>
<path fill="#8d0" d="M2579 2188l10 12 15 2-10-13z"/>
<path fill="#ad0" d="M2563 2187l10 12 16 1-10-12zm-15-1l9 12 16 1-10-12z"/>
<path fill="#ce0" d="M2532 2185l9 12 16 1-9-12z"/>
<path fill="#dc0" d="M2516 2185l9 12 16 0-9-12zm-16-1l9 13 16 0-9-12z"/>
<path fill="#eb0" d="M2483 2184l10 13 16 0-9-13zm-16 1l10 12 16 0-10-13z"/>
<path fill="#e90" d="M2451 2185l9 12 17 0-10-12zm-17 1l10 12 16-1-9-12z"/>
<path fill="#e70" d="M2417 2187l10 12 17-1-10-12zm-16 1l9 12 17-1-10-12z"/>
<path fill="#e50" d="M2384 2189l10 12 16-1-9-12zm-17 2l10 12 17-2-10-12zm-17 2l9 12 18-2-10-12z"/>
<path fill="#e31" d="M2333 2195l9 12 17-2-9-12zm-17 2l9 13 17-3-9-12zm-18 3l10 12 17-2-9-13zm-17 3l9 12 18-3-10-12z"/>
<path fill="#e21" d="M2263 2206l10 12 17-3-9-12zm-17 4l9 12 18-4-10-12zm-18 3l10 12 17-3-9-12zm-18 4l10 12 18-4-10-12zm-17 4l9 12 18-4-10-12zm-18 5l9 12 18-5-9-12zm-18 4l9 12 18-4-9-12zm-18 5l9 12 18-5-9-12zm-18 5l9 12 18-5-9-12zm-18 6l9 12 18-6-9-12zm-18 5l9 12 18-5-9-12zm-19 6l10 12 18-6-9-12zm-18 7l9 12 19-7-10-12z"/>
<path fill="#e31" d="M2030 2270l9 12 18-6-9-12zm-18 7l9 12 18-7-9-12zm-19 7l9 12 19-7-9-12zm-18 7l9 12 18-7-9-12z"/>
<path fill="#6d0" d="M2604 2202l10 12 15 2-10-13zm-15-2l9 13 16 1-10-12z"/>
<path fill="#8d0" d="M2573 2199l10 13 15 1-9-13z"/>
<path fill="#ad0" d="M2557 2198l10 13 16 1-10-13zm-16-1l10 13 16 1-10-13z"/>
<path fill="#ce0" d="M2525 2197l10 13 16 0-10-13z"/>
<path fill="#dc0" d="M2509 2197l10 12 16 1-10-13zm-16 0l10 12 16 0-10-12z"/>
<path fill="#eb0" d="M2477 2197l10 12 16 0-10-12zm-17 0l10 13 17-1-10-12z"/>
<path fill="#e90" d="M2444 2198l10 13 16-1-10-13zm-17 1l10 12 17 0-10-13z"/>
<path fill="#e70" d="M2410 2200l10 13 17-2-10-12zm-16 1l9 13 17-1-10-13zm-17 2l9 13 17-2-9-13z"/>
<path fill="#e50" d="M2359 2205l10 13 17-2-9-13zm-17 2l10 13 17-2-10-13zm-17 3l10 12 17-2-10-13z"/>
<path fill="#e31" d="M2308 2212l9 13 18-3-10-12zm-18 3l10 12 17-2-9-13zm-17 3l9 13 18-4-10-12zm-18 4l10 12 17-3-9-13zm-17 3l9 13 18-4-10-12z"/>
<path fill="#e21" d="M2220 2229l9 12 18-3-9-13zm-18 4l9 13 18-5-9-12zm-18 5l10 12 17-4-9-13zm-18 4l10 13 18-5-10-12zm-18 5l9 13 19-5-10-13zm-18 5l9 13 18-5-9-13zm-18 6l9 12 18-5-9-13zm-18 5l9 13 18-6-9-12z"/>
<path fill="#e31" d="M2076 2269l9 13 18-6-9-13zm-19 7l9 12 19-6-9-13zm-18 6l9 12 18-6-9-12zm-18 7l9 12 18-7-9-12zm-19 7l9 12 19-7-9-12z"/>
<path fill="#e50" d="M1984 2303l9 12 18-7-9-12z"/>
<path fill="#4d1" d="M2614 2214l10 14 15 1-10-13z"/>
<path fill="#6d0" d="M2598 2213l10 13 16 2-10-14zm-15-1l10 13 15 1-10-13z"/>
<path fill="#8d0" d="M2567 2211l10 13 16 1-10-13z"/>
<path fill="#ad0" d="M2551 2210l10 13 16 1-10-13zm-16 0l10 13 16 0-10-13z"/>
<path fill="#ce0" d="M2519 2209l10 13 16 1-10-13z"/>
<path fill="#dc0" d="M2503 2209l10 13 16 0-10-13zm-16 0l9 14 17-1-10-13z"/>
<path fill="#eb0" d="M2470 2210l10 13 16 0-9-14zm-16 1l9 13 17-1-10-13z"/>
<path fill="#e90" d="M2437 2211l10 13 16 0-9-13zm-17 2l10 13 17-2-10-13z"/>
<path fill="#e70" d="M2403 2214l10 13 17-1-10-13zm-17 2l10 13 17-2-10-13zm-17 2l10 12 17-1-10-13z"/>
<path fill="#e50" d="M2352 2220l10 13 17-3-10-12zm-17 2l9 13 18-2-10-13zm-18 3l10 13 17-3-9-13zm-17 2l10 13 17-2-10-13z"/>
<path fill="#e31" d="M2282 2231l10 12 18-3-10-13zm-17 3l9 13 18-4-10-12zm-18 4l10 12 17-3-9-13zm-18 3l10 13 18-4-10-12zm-18 5l10 12 18-4-10-13zm-17 4l9 13 18-5-10-12zm-18 5l9 12 18-4-9-13zm-19 5l10 12 18-5-9-12zm-18 5l10 12 18-5-10-12zm-18 5l10 13 18-6-10-12zm-18 6l9 12 19-5-10-13zm-18 6l9 12 18-6-9-12zm-19 6l10 13 18-7-9-12zm-18 6l9 13 19-6-10-13zm-18 7l9 13 18-7-9-13z"/>
<path fill="#e50" d="M2011 2308l9 13 19-7-9-13zm-18 7l9 13 18-7-9-13z"/>
<path fill="#2d1" d="M2624 2228l9 13 16 2-10-14z"/>
<path fill="#4d1" d="M2608 2226l10 14 15 1-9-13z"/>
<path fill="#6d0" d="M2593 2225l9 13 16 2-10-14zm-16-1l10 13 15 1-9-13z"/>
<path fill="#8d0" d="M2561 2223l10 14 16 0-10-13z"/>
<path fill="#ad0" d="M2545 2223l10 13 16 1-10-14zm-16-1l10 14 16 0-10-13z"/>
<path fill="#ce0" d="M2513 2222l9 14 17 0-10-14z"/>
<path fill="#dc0" d="M2496 2223l10 13 16 0-9-14zm-16 0l10 13 16 0-10-13z"/>
<path fill="#eb0" d="M2463 2224l10 13 17-1-10-13zm-16 0l9 14 17-1-10-13z"/>
<path fill="#e90" d="M2430 2226l10 13 16-1-9-14zm-17 1l10 13 17-1-10-13zm-17 2l10 13 17-2-10-13z"/>
<path fill="#e70" d="M2379 2230l10 14 17-2-10-13zm-17 3l9 13 18-2-10-14zm-18 2l10 13 17-2-9-13z"/>
<path fill="#e50" d="M2327 2238l10 13 17-3-10-13zm-17 2l9 14 18-3-10-13zm-18 3l10 14 17-3-9-14zm-18 4l10 13 18-3-10-14zm-17 3l9 14 18-4-10-13z"/>
<path fill="#e31" d="M2239 2254l9 14 18-4-9-14zm-18 4l9 14 18-4-9-14zm-18 5l9 13 18-4-9-14zm-18 4l9 14 18-5-9-13zm-18 5l9 14 18-5-9-14zm-18 5l9 14 18-5-9-14zm-18 6l9 13 18-5-9-14zm-19 5l10 14 18-6-9-13zm-18 6l9 14 19-6-10-14z"/>
<path fill="#e50" d="M2076 2301l9 13 18-6-9-14zm-19 6l9 13 19-6-9-13zm-18 7l9 13 18-7-9-13zm-19 7l9 13 19-7-9-13zm-18 7l9 13 18-7-9-13z"/>
<path fill="#2d1" d="M2633 2241l10 14 15 2-9-14zm-15-1l10 14 15 1-10-14z"/>
<path fill="#4d1" d="M2602 2238l10 14 16 2-10-14z"/>
<path fill="#6d0" d="M2587 2237l9 14 16 1-10-14zm-16 0l10 14 15 0-9-14z"/>
<path fill="#8d0" d="M2555 2236l10 14 16 1-10-14z"/>
<path fill="#ad0" d="M2539 2236l9 14 17 0-10-14zm-17 0l10 14 16 0-9-14z"/>
<path fill="#ce0" d="M2506 2236l10 14 16 0-10-14zm-16 0l9 14 17 0-10-14z"/>
<path fill="#dc0" d="M2473 2237l10 14 16-1-9-14zm-17 1l10 14 17-1-10-14z"/>
<path fill="#eb0" d="M2440 2239l9 14 17-1-10-14zm-17 1l9 14 17-1-9-14z"/>
<path fill="#e90" d="M2406 2242l9 14 17-2-9-14zm-17 2l9 14 17-2-9-14zm-18 2l10 14 17-2-9-14z"/>
<path fill="#e70" d="M2354 2248l10 14 17-2-10-14zm-17 3l9 14 18-3-10-14zm-18 3l10 13 17-2-9-14z"/>
<path fill="#e50" d="M2302 2257l9 13 18-3-10-13zm-18 3l10 14 17-4-9-13zm-18 4l10 13 18-3-10-14zm-18 4l10 13 18-4-10-13zm-18 4l10 13 18-4-10-13zm-18 4l10 14 18-5-10-13zm-18 5l10 13 18-4-10-14zm-18 5l10 13 18-5-10-13zm-18 5l10 13 18-5-10-13zm-18 5l9 14 19-6-10-13zm-18 6l9 13 18-5-9-14zm-19 6l10 13 18-6-9-13zm-18 6l9 13 19-6-10-13zm-19 6l10 14 18-7-9-13zm-18 7l9 13 19-6-10-14z"/>
<path fill="#e70" d="M2029 2334l10 13 18-7-9-13zm-18 7l9 13 19-7-10-13z"/>
<path fill="#2d2" d="M2643 2255l10 15 15 1-10-14z"/>
<path fill="#2d1" d="M2628 2254l9 14 16 2-10-15zm-16-2l10 15 15 1-9-14z"/>
<path fill="#4d1" d="M2596 2251l10 15 16 1-10-15z"/>
<path fill="#6d0" d="M2581 2251l9 14 16 1-10-15zm-16-1l9 14 16 1-9-14z"/>
<path fill="#8d0" d="M2548 2250l10 14 16 0-9-14z"/>
<path fill="#ad0" d="M2532 2250l10 14 16 0-10-14zm-16 0l10 14 16 0-10-14z"/>
<path fill="#ce0" d="M2499 2250l10 15 17-1-10-14zm-16 1l10 14 16 0-10-15z"/>
<path fill="#dc0" d="M2466 2252l10 14 17-1-10-14zm-17 1l10 14 17-1-10-14z"/>
<path fill="#eb0" d="M2432 2254l10 14 17-1-10-14zm-17 2l10 14 17-2-10-14zm-17 2l10 14 17-2-10-14z"/>
<path fill="#e90" d="M2381 2260l10 14 17-2-10-14zm-17 2l10 14 17-2-10-14zm-18 3l10 14 18-3-10-14z"/>
<path fill="#e70" d="M2329 2267l10 15 17-3-10-14zm-18 3l10 15 18-3-10-15zm-17 4l9 14 18-3-10-15zm-18 3l10 15 17-4-9-14zm-18 4l10 14 18-3-10-15z"/>
<path fill="#e50" d="M2240 2285l10 14 18-4-10-14zm-18 5l10 14 18-5-10-14zm-18 4l10 14 18-4-10-14zm-18 5l9 14 19-5-10-14zm-18 5l9 14 18-5-9-14zm-19 6l10 14 18-6-9-14zm-18 5l9 14 19-5-10-14zm-18 6l9 14 18-6-9-14z"/>
<path fill="#e70" d="M2094 2327l10 14 18-6-9-14zm-18 7l9 14 19-7-10-14zm-19 6l10 14 18-6-9-14zm-18 7l9 14 19-7-10-14zm-19 7l9 14 19-7-9-14z"/>
</g>
<circle cx="436.4" cy="532.1" r="2" fill="#d81010" stroke="#7a0000" stroke-width=".5"/>
<circle cx="508.5" cy="592.3" r="2" fill="#d81010" stroke="#7a0000" stroke-width=".5"/>
<circle cx="667.5" cy="568" r="2" fill="#d81010" stroke="#7a0000" stroke-width=".5"/>
<circle cx="579.9" cy="498.5" r="2" fill="#d81010" stroke="#7a0000" stroke-width=".5"/>
<circle cx="547.8" cy="515.5" r="2" fill="#d81010" stroke="#7a0000" stroke-width=".5"/>
<text x="59.5" y="158.1" class="k e">6.00</text>
<text x="82.9" y="166.5" class="k e">5.40</text>
<text x="106.3" y="175" class="k e">4.80</text>
<text x="129.7" y="183.4" class="k e">4.20</text>
<text x="153.1" y="191.9" class="k e">3.60</text>
<text x="176.5" y="200.3" class="k e">3.00</text>
<text x="180" y="200.3" class="k">0.50</text>
<text x="203.4" y="192" class="k">0.60</text>
<text x="226.7" y="183.6" class="k">0.70</text>
<text x="250.1" y="175.3" class="k">0.80</text>
<text x="273.4" y="166.9" class="k">0.90</text>
<text x="296.8" y="158.6" class="k">1.00</text>
<text x="55.9" y="121.3" class="k e">0.05</text>
<text x="55" y="106.2" class="k e">0.1</text>
<text x="54" y="91" class="k e">0.15</text>
<text x="53.1" y="75.8" class="k e">0.2</text>
<text x="52.2" y="60.7" class="k e">0.25</text>
<text x="51.2" y="45.6" class="k e">0.3</text>
<text x="50.3" y="30.4" class="k e">0.35</text>
<text transform="translate(64.8 194.2) scale(.93 1)" class="t">B: pH</text>
<text transform="translate(259.9 194.2) scale(.93 1)" class="t">A: Tyrosine</text>
<text transform="translate(23.2 81.6) rotate(-90)" class="z">L-DOPA</text>
<rect x="0.5" y="13" width="31.5" height="28" fill="#fff" stroke="#000" stroke-width="1"/>
<text x="16.2" y="32.5" class="L">a</text>
<text x="431.1" y="141.5" class="k e">50.00</text>
<text x="441.3" y="157.5" class="k e">42.00</text>
<text x="451.6" y="173.6" class="k e">34.00</text>
<text x="461.8" y="189.6" class="k e">26.00</text>
<text x="472.1" y="205.7" class="k e">18.00</text>
<text x="482.3" y="221.7" class="k e">10.00</text>
<text x="485.8" y="221.7" class="k">0.50</text>
<text x="518.5" y="215" class="k">0.60</text>
<text x="551.2" y="208.3" class="k">0.70</text>
<text x="583.9" y="201.6" class="k">0.80</text>
<text x="616.6" y="194.9" class="k">0.90</text>
<text x="649.3" y="188.2" class="k">1.00</text>
<text x="426.8" y="106.4" class="k e">0.05</text>
<text x="425.5" y="92.1" class="k e">0.1</text>
<text x="424.2" y="77.9" class="k e">0.15</text>
<text x="422.8" y="63.6" class="k e">0.2</text>
<text x="421.5" y="49.3" class="k e">0.25</text>
<text x="420.2" y="35" class="k e">0.3</text>
<text x="418.9" y="20.7" class="k e">0.35</text>
<text transform="translate(376.9 191.8) scale(.93 1)" class="t">C: Ascorbic acid</text>
<text transform="translate(392.7 70.1) rotate(-90)" class="z">L-DOPA</text>
<rect x="367.8" y="5.8" width="31.5" height="28" fill="#fff" stroke="#000" stroke-width="1"/>
<text x="383.6" y="25.3" class="L">b</text>
<text x="63.3" y="391.9" class="k e">0.50</text>
<text x="92.1" y="401.4" class="k e">0.60</text>
<text x="120.9" y="410.9" class="k e">0.70</text>
<text x="149.8" y="420.3" class="k e">0.80</text>
<text x="178.6" y="429.8" class="k e">0.90</text>
<text x="207.4" y="439.3" class="k e">1.00</text>
<text x="210.9" y="439.3" class="k">10.00</text>
<text x="230.7" y="420.8" class="k">15.00</text>
<text x="250.4" y="402.4" class="k">20.00</text>
<text x="270.2" y="383.9" class="k">25.00</text>
<text x="290" y="365.5" class="k">30.00</text>
<text x="58.5" y="354.2" class="k e">0.05</text>
<text x="56.9" y="338.6" class="k e">0.1</text>
<text x="55.3" y="323" class="k e">0.15</text>
<text x="53.8" y="307.4" class="k e">0.2</text>
<text x="52.2" y="291.8" class="k e">0.25</text>
<text x="50.7" y="276.2" class="k e">0.3</text>
<text x="49.1" y="260.6" class="k e">0.35</text>
<text transform="translate(82.3 443.5) scale(.93 1)" class="t">A: Tyrosine</text>
<text transform="translate(262.9 417.6) scale(.895 1)" class="t">D: Copper sulphate</text>
<text transform="translate(23.2 313.1) rotate(-90)" class="z">L-DOPA</text>
<rect x="0.5" y="225.5" width="31.5" height="28" fill="#fff" stroke="#000" stroke-width="1"/>
<text x="16.2" y="245" class="L">c</text>
<text x="427.7" y="372.8" class="k e">3.00</text>
<text x="445.7" y="386.9" class="k e">3.60</text>
<text x="463.7" y="401.1" class="k e">4.20</text>
<text x="481.6" y="415.2" class="k e">4.80</text>
<text x="499.6" y="429.4" class="k e">5.40</text>
<text x="517.6" y="443.5" class="k e">6.00</text>
<text x="521.1" y="443.5" class="k">10.00</text>
<text x="550.8" y="433.7" class="k">18.00</text>
<text x="580.5" y="423.9" class="k">26.00</text>
<text x="610.1" y="414.1" class="k">34.00</text>
<text x="639.8" y="404.3" class="k">42.00</text>
<text x="669.5" y="394.5" class="k">50.00</text>
<text x="422.3" y="341.4" class="k e">0.05</text>
<text x="420.5" y="328.9" class="k e">0.1</text>
<text x="418.7" y="316.5" class="k e">0.15</text>
<text x="416.8" y="304" class="k e">0.2</text>
<text x="415" y="291.6" class="k e">0.25</text>
<text x="413.1" y="279.1" class="k e">0.3</text>
<text x="411.3" y="266.7" class="k e">0.35</text>
<text transform="translate(412.3 424.6) scale(.93 1)" class="t">B: pH</text>
<text transform="translate(599 445) scale(.93 1)" class="t">C: Ascorbic acid</text>
<text transform="translate(380.9 308.6) rotate(-90)" class="z">L-DOPA</text>
<rect x="360.8" y="231" width="38.5" height="28" fill="#fff" stroke="#000" stroke-width="1"/>
<text x="380.1" y="250.5" class="L">d</text>
<text x="73.1" y="576.5" class="k e">3.00</text>
<text x="87.6" y="595.4" class="k e">3.60</text>
<text x="102.1" y="614.4" class="k e">4.20</text>
<text x="116.5" y="633.3" class="k e">4.80</text>
<text x="131" y="652.3" class="k e">5.40</text>
<text x="145.5" y="671.2" class="k e">6.00</text>
<text x="149" y="671.2" class="k">10.00</text>
<text x="186.6" y="657.9" class="k">15.00</text>
<text x="224.1" y="644.5" class="k">20.00</text>
<text x="261.6" y="631.2" class="k">25.00</text>
<text x="299.2" y="617.9" class="k">30.00</text>
<text x="67.3" y="552.1" class="k e">0.05</text>
<text x="65.3" y="543.1" class="k e">0.1</text>
<text x="63.3" y="534.2" class="k e">0.15</text>
<text x="61.3" y="525.2" class="k e">0.2</text>
<text x="59.2" y="516.3" class="k e">0.25</text>
<text x="57.2" y="507.3" class="k e">0.3</text>
<text x="55.2" y="498.4" class="k e">0.35</text>
<text transform="translate(54.5 641.6) scale(.93 1)" class="t">B: pH</text>
<text transform="translate(214.3 678) scale(.895 1)" class="t">D: Copper sulphate</text>
<text transform="translate(30.6 526.6) rotate(-90)" class="z">L-DOPA</text>
<rect x="0.5" y="467.2" width="30.8" height="28" fill="#fff" stroke="#000" stroke-width="1"/>
<text x="15.9" y="486.7" class="L">e</text>
<text x="443.6" y="598.4" class="k e">10.00</text>
<text x="457.1" y="614" class="k e">18.00</text>
<text x="470.7" y="629.6" class="k e">26.00</text>
<text x="484.2" y="645.3" class="k e">34.00</text>
<text x="497.8" y="660.9" class="k e">42.00</text>
<text x="511.3" y="676.5" class="k e">50.00</text>
<text x="514.8" y="676.5" class="k">10.00</text>
<text x="551.6" y="665.5" class="k">15.00</text>
<text x="588.4" y="654.6" class="k">20.00</text>
<text x="625.2" y="643.6" class="k">25.00</text>
<text x="662" y="632.7" class="k">30.00</text>
<text x="438.5" y="566.1" class="k e">0.05</text>
<text x="436.8" y="553.2" class="k e">0.1</text>
<text x="435.1" y="540.2" class="k e">0.15</text>
<text x="433.4" y="527.3" class="k e">0.2</text>
<text x="431.7" y="514.4" class="k e">0.25</text>
<text x="430" y="501.5" class="k e">0.3</text>
<text x="428.3" y="488.6" class="k e">0.35</text>
<text transform="translate(400.5 651.6) scale(.93 1)" class="t">C: Ascorbic acid</text>
<text transform="translate(580.5 682.4) scale(.895 1)" class="t">D: Copper sulphate</text>
<text transform="translate(403.6 532.1) rotate(-90)" class="z">L-DOPA</text>
<rect x="368" y="474.2" width="30.5" height="28.5" fill="#fff" stroke="#000" stroke-width="1"/>
<text x="383.2" y="493.9" class="L">f</text>
</svg>
</body></html>
